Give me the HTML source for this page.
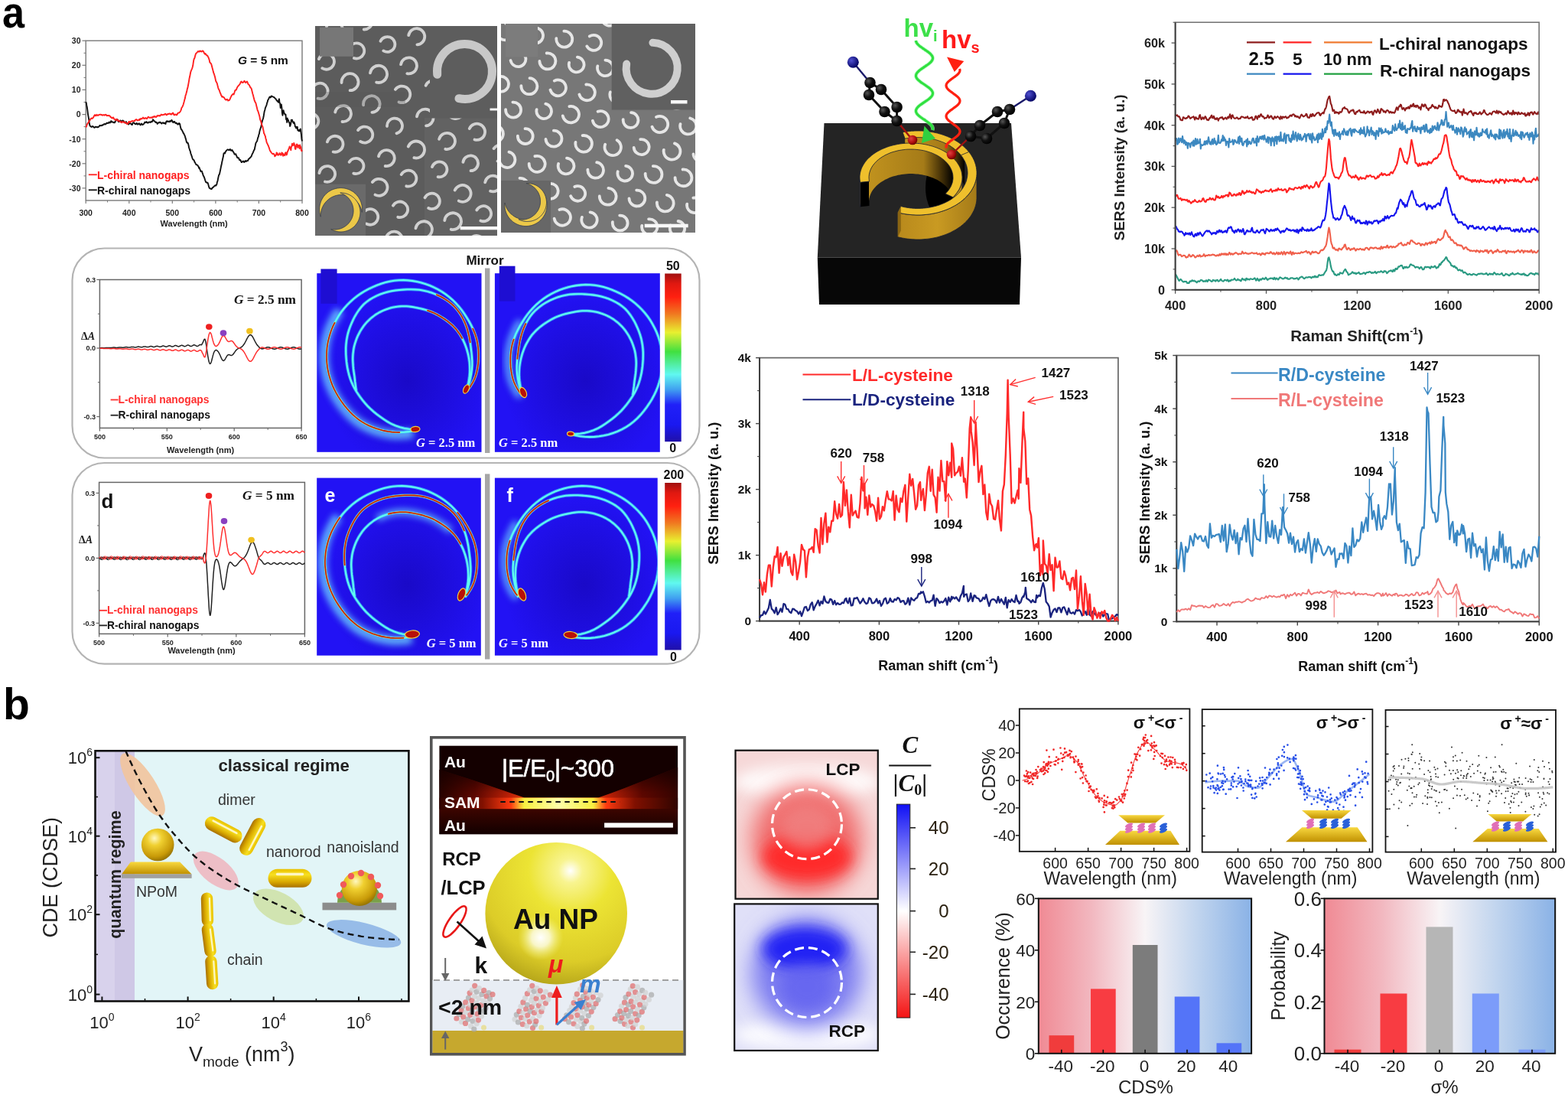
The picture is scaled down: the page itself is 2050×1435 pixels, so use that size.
<!DOCTYPE html>
<html><head><meta charset="utf-8"><title>Figure</title>
<style>html,body{margin:0;padding:0;background:#fff;overflow:hidden;width:2050px;height:1435px;} svg{display:block;}</style></head>
<body><svg width="2050" height="1435" viewBox="0 0 2050 1435">
<rect width="2050" height="1435" fill="#fff"/>
<text x="3" y="35.5" font-family="'Liberation Sans', Arial, sans-serif" font-size="58" font-weight="bold" transform="translate(3 0) scale(0.9 1) translate(-3 0)">a</text>
<line x1="107.5" y1="245.9" x2="112.2" y2="245.9" stroke="#7a7a7a" stroke-width="1.2" />
<text x="105.5" y="249.7" font-family="'Liberation Sans', Arial, sans-serif" font-size="10.5" font-weight="bold" font-style="normal" fill="#222" text-anchor="end" >-30</text>
<line x1="107.5" y1="213.8" x2="112.2" y2="213.8" stroke="#7a7a7a" stroke-width="1.2" />
<text x="105.5" y="217.6" font-family="'Liberation Sans', Arial, sans-serif" font-size="10.5" font-weight="bold" font-style="normal" fill="#222" text-anchor="end" >-20</text>
<line x1="107.5" y1="181.7" x2="112.2" y2="181.7" stroke="#7a7a7a" stroke-width="1.2" />
<text x="105.5" y="185.5" font-family="'Liberation Sans', Arial, sans-serif" font-size="10.5" font-weight="bold" font-style="normal" fill="#222" text-anchor="end" >-10</text>
<line x1="107.5" y1="149.6" x2="112.2" y2="149.6" stroke="#7a7a7a" stroke-width="1.2" />
<text x="105.5" y="153.4" font-family="'Liberation Sans', Arial, sans-serif" font-size="10.5" font-weight="bold" font-style="normal" fill="#222" text-anchor="end" >0</text>
<line x1="107.5" y1="117.4" x2="112.2" y2="117.4" stroke="#7a7a7a" stroke-width="1.2" />
<text x="105.5" y="121.2" font-family="'Liberation Sans', Arial, sans-serif" font-size="10.5" font-weight="bold" font-style="normal" fill="#222" text-anchor="end" >10</text>
<line x1="107.5" y1="85.3" x2="112.2" y2="85.3" stroke="#7a7a7a" stroke-width="1.2" />
<text x="105.5" y="89.1" font-family="'Liberation Sans', Arial, sans-serif" font-size="10.5" font-weight="bold" font-style="normal" fill="#222" text-anchor="end" >20</text>
<line x1="107.5" y1="53.2" x2="112.2" y2="53.2" stroke="#7a7a7a" stroke-width="1.2" />
<text x="105.5" y="57.0" font-family="'Liberation Sans', Arial, sans-serif" font-size="10.5" font-weight="bold" font-style="normal" fill="#222" text-anchor="end" >30</text>
<line x1="109.5" y1="229.9" x2="112.2" y2="229.9" stroke="#7a7a7a" stroke-width="1.0" />
<line x1="109.5" y1="197.8" x2="112.2" y2="197.8" stroke="#7a7a7a" stroke-width="1.0" />
<line x1="109.5" y1="165.6" x2="112.2" y2="165.6" stroke="#7a7a7a" stroke-width="1.0" />
<line x1="109.5" y1="133.5" x2="112.2" y2="133.5" stroke="#7a7a7a" stroke-width="1.0" />
<line x1="109.5" y1="101.4" x2="112.2" y2="101.4" stroke="#7a7a7a" stroke-width="1.0" />
<line x1="109.5" y1="69.3" x2="112.2" y2="69.3" stroke="#7a7a7a" stroke-width="1.0" />
<line x1="112.2" y1="262.0" x2="112.2" y2="266.0" stroke="#7a7a7a" stroke-width="1.2" />
<text x="112.2" y="281.5" font-family="'Liberation Sans', Arial, sans-serif" font-size="10.5" font-weight="bold" font-style="normal" fill="#222" text-anchor="middle" >300</text>
<line x1="168.8" y1="262.0" x2="168.8" y2="266.0" stroke="#7a7a7a" stroke-width="1.2" />
<text x="168.8" y="281.5" font-family="'Liberation Sans', Arial, sans-serif" font-size="10.5" font-weight="bold" font-style="normal" fill="#222" text-anchor="middle" >400</text>
<line x1="225.3" y1="262.0" x2="225.3" y2="266.0" stroke="#7a7a7a" stroke-width="1.2" />
<text x="225.3" y="281.5" font-family="'Liberation Sans', Arial, sans-serif" font-size="10.5" font-weight="bold" font-style="normal" fill="#222" text-anchor="middle" >500</text>
<line x1="281.9" y1="262.0" x2="281.9" y2="266.0" stroke="#7a7a7a" stroke-width="1.2" />
<text x="281.9" y="281.5" font-family="'Liberation Sans', Arial, sans-serif" font-size="10.5" font-weight="bold" font-style="normal" fill="#222" text-anchor="middle" >600</text>
<line x1="338.4" y1="262.0" x2="338.4" y2="266.0" stroke="#7a7a7a" stroke-width="1.2" />
<text x="338.4" y="281.5" font-family="'Liberation Sans', Arial, sans-serif" font-size="10.5" font-weight="bold" font-style="normal" fill="#222" text-anchor="middle" >700</text>
<line x1="395.0" y1="262.0" x2="395.0" y2="266.0" stroke="#7a7a7a" stroke-width="1.2" />
<text x="395.0" y="281.5" font-family="'Liberation Sans', Arial, sans-serif" font-size="10.5" font-weight="bold" font-style="normal" fill="#222" text-anchor="middle" >800</text>
<line x1="140.5" y1="262.0" x2="140.5" y2="264.5" stroke="#7a7a7a" stroke-width="1.0" />
<line x1="197.0" y1="262.0" x2="197.0" y2="264.5" stroke="#7a7a7a" stroke-width="1.0" />
<line x1="253.6" y1="262.0" x2="253.6" y2="264.5" stroke="#7a7a7a" stroke-width="1.0" />
<line x1="310.2" y1="262.0" x2="310.2" y2="264.5" stroke="#7a7a7a" stroke-width="1.0" />
<line x1="366.7" y1="262.0" x2="366.7" y2="264.5" stroke="#7a7a7a" stroke-width="1.0" />
<rect x="112.2" y="53.2" width="282.8" height="208.8" fill="none" stroke="#7a7a7a" stroke-width="1.4" />
<path d="M112.2,133.1l.6,1.5 .5,3.1 .6,3 .6,4.4 .5,4.2 .6,3.4 .6,3.3 .5,4.2 .6,3.3 .6,1.3 .5,.3 .6,.3 .6,.5 .5-.5 .6,.2 .6-.6 .5,.5 .6,.4 .6,.8 .5,0 .6-.1 .6-.7 .5-.3 .6,.4 .6-.1 .5,.6 .6-.6 .6,0 .5,.3 .6-.6 .6-.5 .5-1.2 .6,.1 .6,.1 .5,.3 .6-.3 .6,0 .5-.8 .6,.4 .6-.6 .5-.2 .6-.8 .6,.2 .5-.4 .6,.7 .6-.7 .5,0 .6-1.2 .6-.1 .5,.3 .6,.2 .6-.3 .5-.8 .6-.4 .6,1 .5-.2 .6-.7 .6-1.5 .5,0 .6,1.3 .6-.1 .5,0 .6,.4 .6,.1 .5,.6 .6-.8 .6,.4 .5-1.6 .6-.6 .6-.6 .5-.3 .6-1.1 .6,.2 .5,1.2 .6,1.6 .6,.3 .5-.3 .6-.8 .6-.4 .5-.3 .6,.8 .6,.2 .5,.2 .6-.7 .6-.5 .5,.3 .6,.6 .6,.5 .5,.9 .6,.8 .6,0 .5-.4 .6-1 .6,1.4 .5,.4 .6,.6 .6-.2 .5,1.2 .6,0 .6-.8 .5-1.3 .6,.3 .6,.7 .5,0 .6,1.3 .6,.2 .5,.2 .6-1.8 .6-.9 .5-.2 .6,.2 .6,.9 .5,.2 .6,.6 .6,.2 .5,0 .6-1.3 .6,.1 .5,.5 .6,1.1 .6-.8 .5,0 .6-.7 .6,1.3 .5,.1 .6,.8 .6-1 .5-.8 .6,.5 .6,.8 .5,.2 .6-.7 .6,.1 .5-.7 .6-.8 .6-1.4 .5,.7 .6-.5 .6,.3 .5-1 .6,1 .6,.2 .5,.4 .6-.2 .6-.9 .5-.1 .6,0 .6,.3 .5,.3 .6-1.1 .6,.3 .5,0 .6-.2 .6-1.6 .5-1.3 .6,.6 .6,1.2 .5,.3 .6,.1 .6,.7 .5,.9 .6-.3 .6,0 .5,1 .6,1.2 .6-.8 .5-.4 .6-.7 .6,.4 .5-.7 .6,.2 .6-.1 .5,.9 .6,0 .6,.9 .5-1 .6-.2 .6-.1 .5,.8 .6,.1 .6-.8 .5,.7 .6,.4 .6,.5 .5-2.4 .6-1.1 .6-.3 .5,.9 .6-.7 .6,0 .5,.5 .6,.4 .6-.5 .5-.7 .6,.9 .6-.8 .5-.7 .6-.6 .6,.7 .5,2 .6,0 .6,.6 .5-1.3 .6,0 .6,.3 .5,1.3 .6,.3 .6,.4 .5-.6 .6,.8 .6,0 .5,1.3 .6-.6 .6,.2 .5-1.3 .6,.3 .6,1 .5,2.5 .6,2.6 .6,1.7 .5,.4 .6,.6 .6,1.6 .5,.6 .6,2 .6,0 .5,1.6 .6,.8 .6,1.8 .5,1.9 .6,1.8 .6,2.7 .5,1.4 .6,.5 .6-.3 .5,1 .6,2.3 .6,3.2 .5,1.5 .6,2 .6,1.2 .5,2.6 .6,1.5 .6,1.8 .5,1.4 .6,2.1 .6,1.4 .5,0 .6,.6 .6,.9 .6,1.9 .5,.4 .6,1.3 .6,1.2 .5,.5 .6-.1 .6,.5 .5,.3 .6,1.2 .6,.7 .5,1.8 .6-.5 .6,1.9 .5,1 .6,2 .6-.5 .5,.4 .6,0 .6,2.4 .5,1.1 .6,2.2 .6,.7 .5,1.3 .6,1.5 .6,2 .5,1.5 .6,1.4 .6,.1 .5,.6 .6,.1 .6-.2 .5,1.4 .6,2.1 .6,2.2 .5,1.3 .6,.6 .6-.1 .5,.3 .6,.6 .6-.1 .5-.4 .6-1.4 .6,.1 .5-.8 .6-.1 .6-1.1 .5-.3 .6-.7 .6,0 .5,.4 .6-.8 .6-1.1 .5-2.8 .6-1.4 .6-3.3 .5-2.3 .6-2.4 .6-.5 .5-2.1 .6-2.7 .6-3 .5-2.7 .6-2.3 .6-3.4 .5-2.1 .6-2.8 .6-2.4 .5-3.7 .6-.9 .6-.3 .5,.8 .6-2 .6-.6 .5-1.1 .6-.3 .6-.7 .5-.3 .6-.1 .6,.5 .5,.3 .6,.1 .6-1 .5-.4 .6,1.2 .6,.8 .5-.1 .6-.8 .6,.4 .5,1.4 .6,.5 .6,.9 .5,.9 .6,1.6 .6-.3 .5,.1 .6-.2 .6,2 .5,.5 .6,1.8 .6,.7 .5-.1 .6-.1 .6,.8 .5,1.9 .6,.6 .6-.6 .5,.6 .6,1.5 .6,1.2 .5,0 .6-.8 .6-.6 .5,.1 .6-.2 .6,1.5 .5-.3 .6-.6 .6-1.1 .5,.2 .6,.8 .6-1 .5,.2 .6-.5 .6,.2 .5-1.7 .6-.5 .6-.7 .5-.2 .6-1 .6-.5 .5-.4 .6-.9 .6-1.6 .5-1.3 .6-1 .6-1.2 .5-1.3 .6-1.6 .6-.4 .5-2.7 .6-2.7 .6-3.2 .5-.9 .6-.9 .6-.8 .5-2.1 .6-2.4 .6-1.3 .5-2.6 .6-1.2 .6-3.7 .5-1.7 .6-1.8 .6-1.5 .5-2.6 .6-2.7 .6-2.6 .5-1.8 .6-1.4 .6-2.8 .5-3.1 .6-3.7 .6-1.8 .5-2.3 .6-1.5 .6-1.4 .5-1.1 .6-2.8 .6-1.4 .5-2.4 .6-.6 .6-1.4 .5-1.1 .6-1 .6-.2 .5,.9 .6-.5 .6-1.4 .5,.1 .6,.4 .6,.4 .5,.2 .6,.1 .6,.5 .5,.2 .6,.9 .6,.5 .5,.3 .6,.9 .6,1.2 .5,.4 .6,.7 .6,.4 .5,1 .6-2.8 .6-1.6 .5,5 .6,.6 .6,6.1 .5-4 .6-.6 .6,4.5 .5,6.7 .6,3.2 .6-4.2 .5-2.3 .6,2.4 .6,1.5 .5,1 .6,.8 .6-.4 .5,6.4 .6-.7 .6,4.7 .5-5.6 .6,2.2 .6,.3 .5,1.7 .6,1.7 .6,.5 .5,4.2 .6-1.4 .6-2.4 .5-4.6 .6,.6 .6-.6 .5,2.4 .6,.4 .6,1.5 .5-1.5 .6,1 .6,2.2 .5,3 .6-.1 .6,2 .5-1.6 .6,1.7 .6-1.8 .5,4.5 .6-.5 .6,1.3 .5,.4 .6-1.9 .6,1.5 .5-2.7 .6,3.7 .6,3.6 .5,6 .6,2.8" fill="none" stroke="#111" stroke-width="1.9" stroke-linejoin="round" />
<path d="M112.2,166.4l.6-.7 .5-1.4 .6-1.8 .6-1.2 .5-.6 .6-.5 .6-1.3 .5-1.3 .6-.2 .6-.8 .5-1.1 .6-.6 .6-.5 .5,.6 .6-.5 .6,.1 .5-1.2 .6-.5 .6-1.4 .5-.5 .6-.9 .6,1 .5,.2 .6-.2 .6-1.3 .5,.5 .6,.2 .6,.5 .5-.3 .6-.7 .6,0 .5-.3 .6,.1 .6-.1 .5,.1 .6,.4 .6-.2 .5,.6 .6,.1 .6-.6 .5,.2 .6-.3 .6,.7 .5-.3 .6-.5 .6-.1 .5,.3 .6,1 .6,.2 .5-.3 .6-.1 .6,.4 .5-.2 .6-.2 .6,.5 .5,.5 .6,1.1 .6-.1 .5,.9 .6,.3 .6,.5 .5-.7 .6-.6 .6,.8 .5,1.1 .6,.5 .6,.6 .5,.1 .6,.7 .6-1.2 .5-.2 .6,.4 .6,1.1 .5,.7 .6-.6 .6,.3 .5,.3 .6,.8 .6,.1 .5,.1 .6,.9 .6,.1 .5,.3 .6-.9 .6-.1 .5,0 .6,.3 .6,.6 .5-.4 .6,.4 .6-.4 .5,1.1 .6-.2 .6,1 .5,.3 .6,.2 .6-.5 .5-1.1 .6-1.4 .6-.2 .5,.2 .6,.8 .6-.8 .5-.3 .6,0 .6-.3 .5-.5 .6,.2 .6,.2 .5,0 .6-.2 .6-.4 .5,.2 .6-1.1 .6-.2 .5-.7 .6,.6 .6-.1 .5,.9 .6,.1 .6-.4 .5,0 .6-1.1 .6,.9 .5-1.4 .6,.6 .6-1.2 .5,.2 .6,.2 .6-.3 .5-.7 .6-.8 .6,.7 .5,.6 .6,.3 .6-.7 .5,.1 .6-.5 .6,.8 .5-.1 .6,.5 .6-1.1 .5-.3 .6-1.1 .6,.5 .5,.1 .6,.6 .6,.1 .5-.4 .6-.1 .6-.2 .5,.6 .6,.1 .6-1 .5-.5 .6,.1 .6,.5 .5-1.1 .6,.1 .6,.1 .5,.8 .6,.1 .6-.6 .5-.4 .6-1.1 .6,.6 .5-.4 .6,.1 .6-.4 .5,.6 .6,.1 .6-.8 .5-.4 .6-.8 .6,.6 .5-.1 .6,.3 .6-.4 .5-.1 .6-.2 .6,.3 .5-.7 .6-.4 .6-.2 .5,.8 .6,.9 .6-.2 .5-.8 .6-.6 .6,.2 .5,.1 .6-.5 .6-.2 .5,.6 .6-.4 .6,1 .5-.6 .6,.5 .6-1 .5-.5 .6-.5 .6,.9 .5,1.6 .6,.3 .6-.1 .5-.8 .6,0 .6,.2 .5,.8 .6,0 .6-1.1 .5-1.3 .6-.4 .6-.1 .5,0 .6-.5 .6-.6 .5-.7 .6-1.1 .6-1.5 .5-2.2 .6-.6 .6-1.2 .5-.9 .6-1.7 .6-2.2 .5-1.8 .6-2.5 .6-1.9 .5-3.2 .6-1.2 .6-2.6 .5-1.5 .6-3.3 .6-1.6 .5-2.7 .6-3.2 .6-3.5 .5-3.1 .6-2.4 .6-3.3 .5-2.5 .6-1.6 .6-1.4 .5-1.2 .6-1.7 .6-2.3 .5-3.7 .6-3.7 .6-1.8 .6-.8 .5-2.3 .6-2.1 .6-1.6 .5-.3 .6-.5 .6-.8 .5-.7 .6-.5 .6,.6 .5-.3 .6,.2 .6-1.1 .5,.7 .6-.3 .6,.6 .5,.2 .6-.7 .6-.4 .5-.1 .6,.7 .6,.9 .5,1.4 .6,.7 .6,.7 .5-.8 .6,1.1 .6,.7 .5,.8 .6-.2 .6,.7 .5,1.1 .6,1 .6,1.8 .5,1.5 .6,3 .6,.5 .5,.9 .6,.2 .6,1.9 .5,2.1 .6,2.1 .6,2.3 .5,2.1 .6,2.1 .6,1.3 .5,1.7 .6,2 .6,2.9 .5,2.4 .6,1 .6,1.1 .5,1.3 .6,2.5 .6,2.4 .5,1.7 .6,1 .6,1.1 .5,1.6 .6,1.8 .6,1 .5,1.8 .6,.9 .6,1.3 .5-.5 .6,.9 .6-.1 .5,.3 .6,.4 .6,1 .5,1.2 .6,.2 .6,.6 .5,.2 .6-.7 .6-.2 .5,.4 .6,1.4 .6-.5 .5,.2 .6-.4 .6-1 .5-.8 .6-1.8 .6-.8 .5-1.4 .6-.5 .6-1 .5-.6 .6-.2 .6,.7 .5-1.1 .6-1.9 .6-2.1 .5-.6 .6,0 .6-.4 .5-1.5 .6-1.3 .6-1.2 .5-.7 .6-.6 .6-.6 .5-.6 .6-.8 .6-.9 .5-1.4 .6-.9 .6-.4 .5,1.2 .6-.3 .6,.6 .5-.3 .6-.3 .6-1.2 .5-.5 .6,1.3 .6,.7 .5,.5 .6-.8 .6-.8 .5-.1 .6,1.1 .6,2 .5,.6 .6,.3 .6,.8 .5,.9 .6,1.7 .6,.3 .5,1 .6,.6 .6,2.5 .5,2 .6,2.4 .6,1.8 .5,2.3 .6,2.3 .6,2.3 .5,1.1 .6,1.3 .6,1 .5,1.8 .6,2.6 .6,2.4 .5,2.3 .6,1 .6,1.8 .5,1.7 .6,2 .6,2.5 .5,2.9 .6,1.7 .6,1.2 .5,2.4 .6,1.8 .6,2 .5,.7 .6,2.9 .6,2.6 .5,3.2 .6,.7 .6,2 .5,.7 .6,3.3 .6,1.6 .5,3.1 .6,1.3 .6,1.2 .5,1.3 .6,.9 .6,1.7 .5,1.3 .6,2.1 .6,1.6 .5,.6 .6,.9 .6,.9 .5,.6 .6,.6 .6,.5 .5,.2 .6-.6 .6,.4 .5,.9 .6,2.3 .6-.6 .5-1 .6-.1 .6-3.3 .5,2.3 .6-1.3 .6,2.3 .5-.1 .6-.3 .6-.2 .5-2 .6,.7 .6,1.1 .5,.9 .6-.3 .6-3.1 .5,1 .6-.1 .6,3.6 .5-2.4 .6,1.2 .6-.1 .5,.7 .6-3.3 .6-.8 .5,1.1 .6,2.2 .6-1.2 .5-2.8 .6-.9 .6-1.5 .5-1.3 .6-1 .6-2.4 .5,1.7 .6,.4 .6,2.9 .5-4.1 .6-1.4 .6-3.1 .5,2.5 .6-.8 .6,.2 .5-2.8 .6,1.5 .6,2.2 .5,4 .6,.3 .6-3.3 .5-2.6 .6-.6 .6,2.9 .5,1.6 .6-3.3 .6,2 .5-1.1 .6,3.7 .6-4.8 .5,2.9 .6-.2 .6,4.4 .5,.9 .6-1.3" fill="none" stroke="#ff2020" stroke-width="1.9" stroke-linejoin="round" />
<text x="311.0" y="84.0" font-family="'Liberation Sans', Arial, sans-serif" font-size="15.5" font-weight="bold" font-style="normal" fill="#111" text-anchor="start" ><tspan font-style="italic">G</tspan> = 5 nm</text>
<line x1="115.8" y1="228.3" x2="126.8" y2="228.3" stroke="#ff2020" stroke-width="1.8" />
<text x="127.0" y="233.6" font-family="'Liberation Sans', Arial, sans-serif" font-size="14" font-weight="bold" font-style="normal" fill="#ff2020" text-anchor="start" >L-chiral nanogaps</text>
<line x1="115.8" y1="248.3" x2="126.8" y2="248.3" stroke="#111" stroke-width="1.8" />
<text x="127.0" y="253.6" font-family="'Liberation Sans', Arial, sans-serif" font-size="14" font-weight="bold" font-style="normal" fill="#111" text-anchor="start" >R-chiral nanogaps</text>
<text x="253.7" y="296.0" font-family="'Liberation Sans', Arial, sans-serif" font-size="11" font-weight="bold" font-style="normal" fill="#222" text-anchor="middle" >Wavelength (nm)</text>
<clipPath id="semL"><rect x="412" y="34" width="238" height="274"/></clipPath>
<g clip-path="url(#semL)">
<rect x="412.0" y="34.0" width="238.0" height="274.0" fill="#5c5c5c" stroke="none" stroke-width="1" />
<path d="M396.2,301.9 A10.4,10.4 0 1 1 400.8,315.7 M405.8,266.5 A10.0,10.0 0 1 1 415.4,277.5 M435.3,290.3 A10.9,10.9 0 1 1 439.4,304.1 M387.5,198.7 A11.0,11.0 0 1 1 397.1,209.4 M417.4,226.2 A10.4,10.4 0 1 1 425.0,237.5 M443.6,256.0 A10.2,10.2 0 1 1 453.4,266.2 M474.6,279.1 A10.3,10.3 0 1 1 479.1,292.5 M504.3,313.4 A11.0,11.0 0 1 1 514.9,324.7 M396.4,159.2 A10.0,10.0 0 1 1 405.3,168.2 M427.9,185.4 A10.5,10.5 0 1 1 435.7,198.5 M456.7,211.8 A10.1,10.1 0 1 1 462.3,226.6 M486.9,238.0 A11.0,11.0 0 1 1 490.5,254.6 M513.9,268.7 A10.3,10.3 0 1 1 520.3,283.8 M543.5,298.3 A10.8,10.8 0 1 1 555.0,310.8 M409.4,114.0 A10.2,10.2 0 1 1 415.6,128.7 M438.2,146.6 A10.5,10.5 0 1 1 447.5,159.0 M468.1,170.1 A10.5,10.5 0 1 1 471.1,184.9 M495.0,204.4 A10.5,10.5 0 1 1 503.7,217.0 M524.7,228.1 A10.5,10.5 0 1 1 531.3,243.3 M555.5,258.4 A10.2,10.2 0 1 1 560.2,272.0 M581.3,288.0 A10.9,10.9 0 1 1 589.7,299.8 M612.5,316.0 A11.0,11.0 0 1 1 622.4,330.0 M391.1,44.5 A10.2,10.2 0 1 1 397.1,59.8 M416.9,77.1 A10.3,10.3 0 1 1 421.3,89.2 M446.6,108.0 A11.0,11.0 0 1 1 457.6,118.2 M475.1,137.3 A10.8,10.8 0 1 1 486.4,146.8 M506.0,165.0 A10.0,10.0 0 1 1 518.5,174.3 M533.8,191.5 A11.0,11.0 0 1 1 541.4,206.2 M565.0,218.1 A10.0,10.0 0 1 1 572.6,231.2 M594.7,248.5 A10.9,10.9 0 1 1 599.8,262.6 M623.3,274.5 A10.0,10.0 0 1 1 628.4,288.5 M652.8,307.4 A10.7,10.7 0 1 1 659.8,319.4 M427.0,34.5 A10.9,10.9 0 1 1 434.9,49.5 M457.4,61.4 A10.1,10.1 0 1 1 462.9,76.0 M484.0,95.3 A11.1,11.1 0 1 1 492.2,107.6 M516.9,116.8 A10.8,10.8 0 1 1 521.5,133.4 M545.0,152.4 A10.9,10.9 0 1 1 557.1,164.4 M574.1,181.9 A10.6,10.6 0 1 1 582.3,194.8 M605.4,211.9 A9.9,9.9 0 1 1 615.5,223.2 M634.2,238.3 A10.4,10.4 0 1 1 641.1,249.8 M466.1,28.0 A10.2,10.2 0 1 1 475.7,38.5 M497.5,53.8 A9.9,9.9 0 1 1 501.3,66.4 M524.1,84.2 A10.5,10.5 0 1 1 532.3,96.1 M556.7,111.7 A10.3,10.3 0 1 1 563.9,125.7 M589.8,135.9 A10.6,10.6 0 1 1 587.8,151.5 M613.8,168.0 A10.6,10.6 0 1 1 620.5,182.5 M645.6,194.1 A11.1,11.1 0 1 1 650.5,210.6 M534.2,46.1 A10.6,10.6 0 1 1 545.4,58.4 M565.6,72.1 A10.7,10.7 0 1 1 577.0,84.0 M594.0,102.1 A10.9,10.9 0 1 1 605.0,113.8 M625.3,128.8 A11.1,11.1 0 1 1 632.5,142.4 M652.3,159.8 A10.9,10.9 0 1 1 661.5,171.4 M579.6,28.6 A9.9,9.9 0 1 1 581.6,44.2 M603.9,59.3 A10.8,10.8 0 1 1 610.9,72.9 M635.1,91.0 A10.2,10.2 0 1 1 644.5,102.2 M614.7,24.0 A10.8,10.8 0 1 1 625.6,35.4 M643.4,50.5 A10.6,10.6 0 1 1 650.5,62.3" fill="none" stroke="#d6d6d6" stroke-width="3.8" stroke-linecap="round" opacity="0.95"/>
</g>
<rect x="412.0" y="120.0" width="118.0" height="20.0" fill="#555" stroke="none" stroke-width="1" opacity="0.3"/>
<rect x="555.0" y="154.0" width="95.0" height="154.0" fill="#fff" stroke="none" stroke-width="1" opacity="0.04"/>
<rect x="418.0" y="35.7" width="44.0" height="38.1" fill="#777777" stroke="none" stroke-width="1" />
<rect x="562.0" y="34.0" width="88.0" height="120.5" fill="#5d5d5d" stroke="none" stroke-width="1" />
<path d="M571.7,97.3 A36.0,36.0 0 1 1 600.0,128.7" fill="none" stroke="#c8c8c8" stroke-width="11" stroke-linecap="round" filter="url(#blur1)"/>
<rect x="640.5" y="141.5" width="9.5" height="3.0" fill="#f4f4f4" stroke="none" stroke-width="1" />
<rect x="601.7" y="296.0" width="48.3" height="4.3" fill="#f8f8f8" stroke="none" stroke-width="1" />
<rect x="412.0" y="240.7" width="66.0" height="67.3" fill="#6a6a6a" stroke="none" stroke-width="1" />
<path d="M419.2,282.9l-.2-.6 -.2-.7 -.2-.8 -.2-.7 -.2-.7 -.1-.7 -.2-.7 -.1-.7 0-.8 -.1-.7 -.1-.7 0-.8 0-.7 0-.7 0-.8 .1-.7 .1-.7 0-.8 .1-.7 .2-.7 .1-.7 .2-.7 .2-.7 .2-.8 .2-.7 .2-.6 .3-.7 .2-.7 .3-.7 .3-.7 .4-.6 .3-.7 .4-.6 .3-.6 .4-.6 .4-.7 .4-.6 .5-.5 .4-.6 .5-.6 .5-.5 .5-.6 .5-.5 .5-.5 .6-.5 .5-.5 .6-.5 .6-.4 .5-.5 .6-.4 .7-.4 .6-.4 .6-.3 .6-.4 .7-.3 .6-.4 .7-.3 .7-.3 .7-.2 .7-.3 .6-.2 .7-.2 .8-.2 .7-.2 .7-.2 .7-.1 .7-.2 .7-.1 .8,0 .7-.1 .7-.1 .8,0 .7,0 .7,0 .8,0 .7,.1 .7,.1 .8,0 .7,.1 .7,.2 .7,.1 .7,.2 .7,.2 .8,.2 .7,.2 .6,.2 .7,.3 .7,.2 .7,.3 .7,.3 .6,.4 .7,.3 .6,.4 .6,.3 .6,.4 .7,.4 .6,.4 .5,.5 .6,.4 .6,.5 .5,.5 .6,.5 .5,.5 .5,.5 .5,.6 .5,.5 .5,.6 .4,.6 .5,.5 .4,.6 .4,.7 .4,.6 .3,.6 .4,.6 .3,.7 .4,.6 .3,.7 .3,.7 .2,.7 .3,.7 .2,.6 .2,.7 .2,.8 .2,.7 .2,.7 .1,.7 .2,.7 .1,.7 0,.8 .1,.7 .1,.7 0,.8 0,.7 0,.7 0,.8 -.1,.7 -.1,.7 0,.8 -.2-.5 -.1-.7 -.2-.6 -.1-.7 -.2-.7 -.2-.7 -.3-.7 -.2-.6 -.3-.7 -.3-.7 -.2-.6 -.4-.6 -.3-.7 -.3-.6 -.4-.6 -.4-.6 -.4-.6 -.4-.6 -.4-.6 -.5-.5 -.4-.6 -.5-.5 -.5-.5 -.5-.5 -.5-.5 -.5-.5 -.5-.5 -.6-.4 -.5-.5 -.6-.4 -.6-.4 -.6-.4 -.6-.4 -.6-.4 -.6-.3 -.7-.3 -.6-.4 -.6-.2 -.7-.3 -.7-.3 -.6-.2 -.7-.3 -.7-.2 -.7-.2 -.7-.1 -.6-.2 -.7-.1 -.7-.2 -.7-.1 -.8-.1 -.7,0 -.7-.1 -.7,0 -.7,0 -.7,0 -.7,0 -.7,.1 -.7,0 -.8,.1 -.7,.1 -.7,.2 -.7,.1 -.6,.2 -.7,.1 -.7,.2 -.7,.2 -.7,.3 -.6,.2 -.7,.3 -.7,.3 -.6,.2 -.6,.4 -.7,.3 -.6,.3 -.6,.4 -.6,.4 -.6,.4 -.6,.4 -.6,.4 -.5,.5 -.6,.4 -.5,.5 -.5,.5 -.5,.5 -.5,.5 -.5,.5 -.5,.5 -.4,.6 -.5,.5 -.4,.6 -.4,.6 -.4,.6 -.4,.6 -.4,.6 -.3,.6 -.3,.7 -.4,.6 -.2,.6 -.3,.7 -.3,.7 -.2,.6 -.3,.7 -.2,.7 -.2,.7 -.1,.7 -.2,.6 -.1,.7 -.2,.7 -.1,.7 -.1,.8 0,.7 -.1,.7 0,.7 0,.7 0,.7 0,.7Z" fill="#ecc848" stroke="#3a4050" stroke-width="1"/>
<path d="M444.8,252l.7,0 .7,0 .6,0 .7,.1 .7,0 .6,.1 .7,.1 .6,.1 .7,.2 .7,.1 .6,.2 .6,.2 .7,.1 .6,.3 .6,.2 .7,.2 .6,.3 .6,.3 .6,.3 .6,.3 .5,.3 .6,.4 .6,.3 .5,.4 .6,.4 .5,.4 .5,.4 .6,.4 .5,.4 .5,.5 .4,.5 .5,.4 .5,.5 .4,.5 .4,.6 .4,.5 .4,.5 .4,.6 .4,.5 .3,.6 .4,.6 .3,.5 .3,.6 .3,.6 .3,.6 .3,.6 .2,.7 .2,.6 .3,.6 .1,.7 .2,.6 .2,.6 .1,.7 .2,.7 .1,.6 .1,.7 .1,.6 0,.7 .1,.7 0,.6 0,.7 0,.7 0,.6 -.1,.7 0,.7 -.1,.6 -.1,.7 -.1,.6 -.2,.7 -.1,.7 -.2,.6 -.2,.6 -.1,.7 -.3,.6 -.2,.6 -.2,.7 -.3,.6 -.3,.6 -.3,.6 -.3,.6 -.3,.5 -.4,.6 -.3,.6 -.4,.5 -.4,.6 -.4,.5 -.4,.5 -.4,.6 -.4,.5 -.5,.5 -.5,.4 -.4,.5 -.5,.5 -.5,.4 -.6,.4 -.5,.4 -.5,.4 -.6,.4 -.5,.4 -.6,.3 -.6,.4 -.5,.3 -.6,.3 -.6,.3 -.6,.3 -.6,.3 -.7,.2 -.6,.2 -.6,.3 -.7,.1 -.6,.2 -.6,.2 -.7,.1 -.7,.2 -.6,.1 -.7,.1 -.6,.1 -.7,0 -.7,.1 -.6,0 -.7,0 -.7,0 -.6,0 -.7-.1 -.7,0 -.6-.1 -.7-.1 -.6-.1 -.7-.2 -.7-.1 -.6-.2 -.6-.2 -.7-.1 -.6-.3 -.6-.2 -.7-.2 -.6-.3 -.6-.3 -.6-.3 -.6-.3 -.5-.3 .2,0 .7,.1 .6,.1 .6,.1 .7,0 .6,.1 .7,0 .6,0 .6,0 .7,0 .6-.1 .7,0 .6-.1 .6-.1 .7-.1 .6-.1 .6-.2 .6-.1 .7-.2 .6-.2 .6-.2 .6-.2 .6-.3 .6-.2 .5-.3 .6-.3 .6-.3 .6-.3 .5-.3 .5-.4 .6-.3 .5-.4 .5-.4 .5-.4 .5-.4 .5-.4 .5-.4 .4-.5 .5-.4 .4-.5 .4-.5 .4-.5 .4-.5 .4-.5 .4-.5 .3-.6 .4-.5 .3-.5 .3-.6 .3-.6 .3-.6 .3-.5 .2-.6 .3-.6 .2-.6 .2-.6 .2-.6 .2-.7 .1-.6 .2-.6 .1-.6 .1-.7 .1-.6 .1-.6 0-.7 .1-.6 0-.7 0-.6 0-.6 0-.7 -.1-.6 0-.7 -.1-.6 -.1-.6 -.1-.7 -.1-.6 -.2-.6 -.1-.6 -.2-.7 -.2-.6 -.2-.6 -.2-.6 -.3-.6 -.2-.6 -.3-.5 -.3-.6 -.3-.6 -.3-.6 -.3-.5 -.4-.5 -.3-.6 -.4-.5 -.4-.5 -.4-.5 -.4-.5 -.4-.5 -.4-.5 -.5-.4 -.4-.5 -.5-.4 -.5-.4 -.5-.4 -.5-.4 -.5-.4 -.5-.4 -.6-.3 -.5-.4 -.5-.3 -.6-.3 -.6-.3 -.6-.3 -.5-.3 -.6-.2 -.6-.3 -.6-.2 -.6-.2Z" fill="#ecc848" stroke="#3a4050" stroke-width="1"/>
<clipPath id="semR"><rect x="655" y="31" width="254" height="273"/></clipPath>
<g clip-path="url(#semR)">
<rect x="655.0" y="31.0" width="254.0" height="273.0" fill="#777777" stroke="none" stroke-width="1" />
<path d="M641.2,229.8 A10.7,10.7 0 1 1 631.4,241.1 M656.4,264.1 A10.7,10.7 0 1 1 646.4,273.0 M676.0,301.5 A9.9,9.9 0 1 1 664.4,310.3 M648.5,164.3 A10.6,10.6 0 1 1 636.7,174.2 M665.5,198.7 A10.3,10.3 0 1 1 653.2,206.0 M679.5,232.9 A10.7,10.7 0 1 1 669.4,243.9 M691.8,269.2 A10.4,10.4 0 1 1 684.8,283.4 M715.0,304.8 A10.6,10.6 0 1 1 703.2,308.8 M653.5,100.1 A9.9,9.9 0 1 1 645.2,110.6 M670.4,133.7 A10.0,10.0 0 1 1 661.1,143.1 M686.5,168.2 A9.9,9.9 0 1 1 676.9,177.7 M699.4,204.2 A10.5,10.5 0 1 1 691.7,213.8 M719.0,239.8 A10.0,10.0 0 1 1 709.9,252.0 M731.5,274.0 A10.7,10.7 0 1 1 724.7,285.7 M751.6,307.4 A9.8,9.8 0 1 1 740.8,315.6 M661.3,30.8 A10.8,10.8 0 1 1 650.2,37.9 M676.6,67.2 A10.0,10.0 0 1 1 667.6,79.0 M692.5,102.2 A10.5,10.5 0 1 1 681.4,112.2 M713.3,135.7 A9.8,9.8 0 1 1 701.6,143.2 M723.9,170.7 A10.5,10.5 0 1 1 713.5,182.0 M741.0,206.6 A10.4,10.4 0 1 1 730.1,214.0 M751.3,244.0 A9.8,9.8 0 1 1 746.1,256.2 M771.6,277.3 A10.2,10.2 0 1 1 760.9,283.9 M698.2,36.6 A10.1,10.1 0 1 1 690.0,48.3 M714.7,69.5 A10.5,10.5 0 1 1 705.4,80.0 M724.8,105.6 A10.4,10.4 0 1 1 719.5,117.5 M744.4,139.1 A10.7,10.7 0 1 1 735.8,151.4 M761.6,177.1 A10.8,10.8 0 1 1 752.5,185.9 M780.2,212.2 A10.3,10.3 0 1 1 768.4,221.6 M795.4,245.9 A10.9,10.9 0 1 1 783.8,256.5 M810.2,281.6 A9.9,9.9 0 1 1 800.9,290.1 M737.4,40.6 A10.5,10.5 0 1 1 727.3,50.1 M754.9,74.6 A9.9,9.9 0 1 1 744.1,81.9 M766.3,110.5 A10.4,10.4 0 1 1 757.4,123.5 M781.6,145.7 A10.5,10.5 0 1 1 774.9,157.8 M806.6,183.2 A10.7,10.7 0 1 1 791.2,188.7 M818.1,216.9 A9.8,9.8 0 1 1 807.7,224.3 M832.2,248.7 A10.4,10.4 0 1 1 822.5,259.3 M848.1,286.4 A10.2,10.2 0 1 1 839.2,295.0 M756.4,7.6 A10.8,10.8 0 1 1 748.4,18.7 M770.8,47.4 A10.0,10.0 0 1 1 767.3,60.4 M791.4,78.6 A10.3,10.3 0 1 1 781.3,86.4 M809.4,113.4 A10.5,10.5 0 1 1 797.9,120.4 M825.1,147.2 A9.9,9.9 0 1 1 814.7,156.2 M837.3,182.2 A10.0,10.0 0 1 1 828.7,193.0 M853.8,217.1 A10.9,10.9 0 1 1 843.7,226.9 M871.8,254.8 A10.9,10.9 0 1 1 858.9,264.5 M886.6,289.0 A9.7,9.7 0 1 1 876.7,294.5 M800.7,12.8 A10.7,10.7 0 1 1 787.3,19.0 M812.0,46.7 A10.8,10.8 0 1 1 803.1,55.3 M826.4,81.3 A9.9,9.9 0 1 1 819.5,92.6 M842.0,118.0 A10.4,10.4 0 1 1 834.9,128.4 M858.0,152.9 A10.6,10.6 0 1 1 852.5,165.7 M882.0,187.4 A10.9,10.9 0 1 1 867.8,195.8 M892.6,221.5 A10.9,10.9 0 1 1 882.6,232.1 M906.4,258.6 A9.8,9.8 0 1 1 898.2,266.7 M832.5,14.5 A10.3,10.3 0 1 1 824.8,24.5 M852.9,51.8 A9.9,9.9 0 1 1 842.5,61.6 M865.2,85.2 A10.8,10.8 0 1 1 857.9,99.6 M885.9,121.0 A10.6,10.6 0 1 1 874.6,130.4 M902.3,154.5 A10.6,10.6 0 1 1 889.5,162.2 M915.5,190.9 A10.0,10.0 0 1 1 906.5,201.5 M878.3,20.7 A10.2,10.2 0 1 1 866.7,30.0 M890.4,54.8 A10.7,10.7 0 1 1 880.6,67.5 M904.6,89.8 A9.7,9.7 0 1 1 895.5,98.5 M920.2,125.9 A9.8,9.8 0 1 1 912.2,135.5 M913.7,24.4 A10.0,10.0 0 1 1 903.2,32.2" fill="none" stroke="#ececec" stroke-width="3.8" stroke-linecap="round" opacity="0.95"/>
</g>
<rect x="661.0" y="31.0" width="42.0" height="43.5" fill="#7c7c7c" stroke="none" stroke-width="1" />
<rect x="799.7" y="31.0" width="109.3" height="112.6" fill="#606060" stroke="none" stroke-width="1" />
<path d="M853.4,55.8 A33.5,33.5 0 1 1 819.2,83.5" fill="none" stroke="#cfcfcf" stroke-width="10" stroke-linecap="round" filter="url(#blur1)"/>
<rect x="877.0" y="131.0" width="21.5" height="4.5" fill="#f6f6f6" stroke="none" stroke-width="1" />
<rect x="842.7" y="292.7" width="57.0" height="4.6" fill="#f8f8f8" stroke="none" stroke-width="1" />
<rect x="655.0" y="236.0" width="65.0" height="68.0" fill="#676767" stroke="none" stroke-width="1" />
<path d="M713.6,258.7l.2,.6 .3,.7 .2,.7 .1,.7 .2,.7 .1,.8 .2,.7 .1,.7 0,.7 .1,.7 .1,.8 0,.7 0,.7 0,.7 0,.7 -.1,.8 -.1,.7 0,.7 -.1,.7 -.2,.7 -.1,.8 -.2,.7 -.1,.7 -.2,.7 -.3,.7 -.2,.6 -.2,.7 -.3,.7 -.3,.7 -.3,.6 -.3,.7 -.4,.6 -.3,.7 -.4,.6 -.4,.6 -.4,.6 -.4,.6 -.4,.6 -.5,.5 -.4,.6 -.5,.5 -.5,.6 -.5,.5 -.5,.5 -.6,.5 -.5,.5 -.6,.4 -.5,.5 -.6,.4 -.6,.4 -.6,.4 -.6,.4 -.6,.4 -.7,.3 -.6,.4 -.7,.3 -.6,.3 -.7,.3 -.7,.3 -.7,.2 -.6,.2 -.7,.3 -.7,.2 -.7,.1 -.7,.2 -.8,.1 -.7,.2 -.7,.1 -.7,0 -.7,.1 -.8,.1 -.7,0 -.7,0 -.7,0 -.7,0 -.8-.1 -.7-.1 -.7,0 -.7-.1 -.7-.2 -.8-.1 -.7-.2 -.7-.1 -.7-.2 -.7-.3 -.6-.2 -.7-.2 -.7-.3 -.7-.3 -.6-.3 -.7-.3 -.6-.4 -.7-.3 -.6-.4 -.6-.4 -.6-.4 -.6-.4 -.6-.4 -.5-.5 -.6-.4 -.5-.5 -.6-.5 -.5-.5 -.5-.5 -.5-.6 -.5-.5 -.4-.6 -.5-.5 -.4-.6 -.4-.6 -.4-.6 -.4-.6 -.4-.6 -.3-.7 -.4-.6 -.3-.7 -.3-.6 -.3-.7 -.3-.7 -.2-.7 -.2-.6 -.3-.7 -.2-.7 -.1-.7 -.2-.7 -.1-.8 -.2-.7 -.1-.7 0-.7 -.1-.7 -.1-.8 0-.7 0-.7 0-.7 0-.7 .1-.8 .1-.7 .1,.4 .1,.7 .2,.7 .2,.7 .2,.6 .2,.7 .3,.7 .3,.6 .2,.7 .3,.6 .3,.7 .4,.6 .3,.6 .4,.6 .4,.6 .3,.6 .5,.6 .4,.5 .4,.6 .5,.5 .4,.6 .5,.5 .5,.5 .5,.5 .5,.5 .6,.4 .5,.5 .6,.4 .5,.4 .6,.5 .6,.3 .6,.4 .6,.4 .6,.3 .6,.4 .7,.3 .6,.3 .7,.2 .6,.3 .7,.3 .7,.2 .6,.2 .7,.2 .7,.2 .7,.1 .7,.1 .7,.2 .7,.1 .7,.1 .7,0 .7,.1 .7,0 .7,0 .7,0 .7,0 .7-.1 .7,0 .7-.1 .7-.1 .7-.2 .7-.1 .7-.1 .7-.2 .7-.2 .6-.2 .7-.2 .7-.3 .6-.3 .7-.2 .6-.3 .7-.3 .6-.4 .6-.3 .6-.4 .6-.4 .6-.3 .6-.5 .5-.4 .6-.4 .5-.5 .6-.4 .5-.5 .5-.5 .5-.5 .5-.5 .4-.6 .5-.5 .4-.6 .4-.5 .5-.6 .3-.6 .4-.6 .4-.6 .3-.6 .4-.6 .3-.7 .3-.6 .2-.7 .3-.6 .3-.7 .2-.7 .2-.6 .2-.7 .2-.7 .1-.7 .1-.7 .2-.7 .1-.7 .1-.7 0-.7 .1-.7 0-.7 0-.7 0-.7 0-.7Z" fill="#ecc848" stroke="#3a4050" stroke-width="1"/>
<path d="M688.2,239.5l.6,0 .7,0 .7,0 .6,0 .7,.1 .6,0 .7,.1 .6,.1 .7,.1 .6,.1 .6,.2 .7,.2 .6,.1 .6,.2 .6,.2 .7,.3 .6,.2 .6,.3 .6,.2 .5,.3 .6,.3 .6,.3 .6,.4 .5,.3 .6,.4 .5,.4 .5,.4 .5,.4 .5,.4 .5,.4 .5,.5 .5,.4 .4,.5 .5,.5 .4,.5 .4,.5 .4,.5 .4,.5 .4,.5 .4,.6 .3,.5 .4,.6 .3,.6 .3,.6 .3,.5 .2,.6 .3,.6 .2,.6 .3,.7 .2,.6 .2,.6 .1,.6 .2,.7 .2,.6 .1,.6 .1,.7 .1,.6 .1,.7 0,.6 .1,.7 0,.6 0,.7 0,.7 0,.6 -.1,.7 0,.6 -.1,.7 -.1,.6 -.1,.7 -.1,.6 -.2,.6 -.2,.7 -.1,.6 -.2,.6 -.2,.6 -.3,.7 -.2,.6 -.3,.6 -.2,.6 -.3,.5 -.3,.6 -.3,.6 -.4,.6 -.3,.5 -.4,.6 -.4,.5 -.4,.5 -.4,.5 -.4,.5 -.4,.5 -.5,.5 -.4,.5 -.5,.4 -.5,.5 -.5,.4 -.5,.4 -.5,.4 -.5,.4 -.5,.4 -.6,.4 -.5,.3 -.6,.4 -.6,.3 -.6,.3 -.5,.3 -.6,.2 -.6,.3 -.6,.2 -.7,.3 -.6,.2 -.6,.2 -.6,.1 -.7,.2 -.6,.2 -.6,.1 -.7,.1 -.6,.1 -.7,.1 -.6,0 -.7,.1 -.6,0 -.7,0 -.7,0 -.6,0 -.7-.1 -.6,0 -.7-.1 -.6-.1 -.7-.1 -.6-.1 -.6-.2 -.7-.2 -.6-.1 -.6-.2 -.6-.2 -.7-.3 -.6-.2 -.6-.3 -.6-.2 -.5-.3 -.1-.2 .6,.1 .7,.1 .6,.1 .6,0 .6,.1 .7,0 .6,0 .6,0 .7,0 .6-.1 .6,0 .6-.1 .7-.1 .6-.1 .6-.1 .6-.2 .6-.1 .6-.2 .6-.2 .6-.2 .6-.2 .6-.2 .6-.3 .5-.2 .6-.3 .6-.3 .5-.3 .5-.3 .6-.4 .5-.3 .5-.4 .5-.4 .5-.3 .5-.5 .5-.4 .4-.4 .5-.4 .4-.5 .4-.4 .4-.5 .5-.5 .3-.5 .4-.5 .4-.5 .3-.5 .4-.6 .3-.5 .3-.5 .3-.6 .3-.6 .2-.5 .3-.6 .2-.6 .2-.6 .2-.6 .2-.6 .2-.6 .1-.6 .2-.6 .1-.6 .1-.6 .1-.7 .1-.6 0-.6 .1-.6 0-.7 0-.6 0-.6 0-.7 -.1-.6 0-.6 -.1-.6 -.1-.7 -.1-.6 -.1-.6 -.2-.6 -.1-.6 -.2-.6 -.2-.6 -.2-.6 -.2-.6 -.2-.6 -.3-.6 -.2-.5 -.3-.6 -.3-.6 -.3-.5 -.3-.5 -.4-.6 -.3-.5 -.4-.5 -.4-.5 -.3-.5 -.5-.5 -.4-.5 -.4-.4 -.4-.5 -.5-.4 -.4-.4 -.5-.4 -.5-.5 -.5-.3 -.5-.4 -.5-.4 -.5-.3 -.6-.4 -.5-.3 -.5-.3 -.6-.3 -.6-.3 -.5-.2 -.6-.3 -.6-.2 -.6-.2 -.6-.2 -.6-.2 -.6-.2 -.6-.1Z" fill="#ecc848" stroke="#3a4050" stroke-width="1"/>
<rect x="650.0" y="30.0" width="5.0" height="280.0" fill="#ffffff" stroke="none" stroke-width="1" />
<defs><linearGradient id="gwall" x1="0" y1="0" x2="1" y2="0"><stop offset="0" stop-color="#b8891c"/><stop offset="0.5" stop-color="#c99a22"/><stop offset="1" stop-color="#a47a18"/></linearGradient><linearGradient id="gin" x1="0" y1="0" x2="1" y2="0"><stop offset="0" stop-color="#c0921e"/><stop offset="0.65" stop-color="#a57b18"/><stop offset="0.85" stop-color="#4a3508"/><stop offset="1" stop-color="#000"/></linearGradient><radialGradient id="gball" cx="0.35" cy="0.35" r="0.7"><stop offset="0" stop-color="#555"/><stop offset="0.5" stop-color="#111"/><stop offset="1" stop-color="#000"/></radialGradient><radialGradient id="rball" cx="0.35" cy="0.35" r="0.7"><stop offset="0" stop-color="#e04040"/><stop offset="0.6" stop-color="#b01010"/><stop offset="1" stop-color="#600"/></radialGradient><radialGradient id="bball" cx="0.35" cy="0.35" r="0.7"><stop offset="0" stop-color="#5050d0"/><stop offset="1" stop-color="#000060"/></radialGradient></defs>
<polygon points="1077.5,161.0 1322.0,161.0 1335.0,336.5 1068.8,336.5" fill="#242424" stroke="none" stroke-width="0" />
<polygon points="1068.8,336.5 1335.0,336.5 1333.0,398.0 1071.0,398.0" fill="#070707" stroke="none" stroke-width="0" />
<ellipse cx="1232" cy="245" rx="22" ry="40" fill="#000"/>
<polygon points="1183.2,181.2 1184.2,181.0 1185.3,180.8 1186.3,180.6 1187.4,180.5 1188.5,180.3 1189.5,180.2 1190.6,180.1 1191.7,180.0 1192.7,179.9 1193.8,179.8 1194.9,179.7 1196.0,179.7 1197.1,179.6 1198.2,179.6 1199.2,179.6 1200.3,179.6 1201.4,179.6 1202.5,179.6 1203.6,179.6 1204.6,179.7 1205.7,179.8 1206.8,179.8 1207.9,179.9 1209.0,180.0 1210.0,180.1 1211.1,180.3 1212.2,180.4 1213.2,180.5 1214.3,180.7 1215.3,180.9 1216.4,181.1 1217.4,181.3 1218.5,181.5 1219.5,181.7 1220.5,182.0 1221.6,182.2 1222.6,182.5 1223.6,182.7 1224.6,183.0 1225.6,183.3 1226.6,183.6 1227.6,184.0 1228.6,184.3 1229.5,184.6 1230.5,185.0 1231.4,185.4 1232.4,185.7 1233.3,186.1 1234.2,186.5 1235.2,187.0 1236.1,187.4 1237.0,187.8 1237.9,188.3 1238.7,188.7 1239.6,189.2 1240.4,189.7 1241.3,190.1 1242.1,190.6 1242.9,191.1 1243.7,191.7 1244.5,192.2 1245.3,192.7 1246.1,193.3 1246.9,193.8 1247.6,194.4 1248.3,195.0 1249.0,195.5 1249.8,196.1 1250.4,196.7 1251.1,197.3 1251.8,197.9 1252.4,198.6 1253.1,199.2 1253.7,199.8 1254.3,200.5 1254.9,201.1 1255.4,201.8 1256.0,202.4 1256.5,203.1 1257.1,203.8 1257.6,204.5 1258.1,205.1 1258.6,205.8 1259.0,206.5 1259.5,207.2 1259.9,208.0 1260.3,208.7 1260.7,209.4 1261.1,210.1 1261.1,242.1 1260.7,241.4 1260.3,240.7 1259.9,240.0 1259.5,239.2 1259.0,238.5 1258.6,237.8 1258.1,237.1 1257.6,236.5 1257.1,235.8 1256.5,235.1 1256.0,234.4 1255.4,233.8 1254.9,233.1 1254.3,232.5 1253.7,231.8 1253.1,231.2 1252.4,230.6 1251.8,229.9 1251.1,229.3 1250.4,228.7 1249.8,228.1 1249.0,227.5 1248.3,227.0 1247.6,226.4 1246.9,225.8 1246.1,225.3 1245.3,224.7 1244.5,224.2 1243.7,223.7 1242.9,223.1 1242.1,222.6 1241.3,222.1 1240.4,221.7 1239.6,221.2 1238.7,220.7 1237.9,220.3 1237.0,219.8 1236.1,219.4 1235.2,219.0 1234.2,218.5 1233.3,218.1 1232.4,217.7 1231.4,217.4 1230.5,217.0 1229.5,216.6 1228.6,216.3 1227.6,216.0 1226.6,215.6 1225.6,215.3 1224.6,215.0 1223.6,214.7 1222.6,214.5 1221.6,214.2 1220.5,214.0 1219.5,213.7 1218.5,213.5 1217.4,213.3 1216.4,213.1 1215.3,212.9 1214.3,212.7 1213.2,212.5 1212.2,212.4 1211.1,212.3 1210.0,212.1 1209.0,212.0 1207.9,211.9 1206.8,211.8 1205.7,211.8 1204.6,211.7 1203.6,211.6 1202.5,211.6 1201.4,211.6 1200.3,211.6 1199.2,211.6 1198.2,211.6 1197.1,211.6 1196.0,211.7 1194.9,211.7 1193.8,211.8 1192.7,211.9 1191.7,212.0 1190.6,212.1 1189.5,212.2 1188.5,212.3 1187.4,212.5 1186.3,212.6 1185.3,212.8 1184.2,213.0 1183.2,213.2" fill="url(#gin)" stroke="none" stroke-width="0" />
<polygon points="1180.1,172.9 1181.3,172.6 1182.6,172.4 1183.8,172.2 1185.1,172.0 1186.3,171.9 1187.6,171.7 1188.9,171.6 1190.1,171.5 1191.4,171.3 1192.7,171.2 1194.0,171.2 1195.2,171.1 1196.5,171.1 1197.8,171.0 1199.1,171.0 1200.4,171.0 1201.7,171.0 1202.9,171.0 1204.2,171.1 1205.5,171.1 1206.8,171.2 1208.1,171.3 1209.3,171.4 1210.6,171.5 1211.9,171.7 1213.1,171.8 1214.4,172.0 1215.7,172.2 1216.9,172.3 1218.2,172.6 1219.4,172.8 1220.7,173.0 1221.9,173.3 1223.1,173.5 1224.3,173.8 1225.6,174.1 1226.8,174.4 1228.0,174.8 1229.2,175.1 1230.3,175.4 1231.5,175.8 1232.7,176.2 1233.8,176.6 1235.0,177.0 1236.1,177.4 1237.3,177.9 1238.4,178.3 1239.5,178.8 1240.6,179.3 1241.7,179.7 1242.7,180.2 1243.8,180.8 1244.8,181.3 1245.9,181.8 1246.9,182.4 1247.9,182.9 1248.9,183.5 1249.9,184.1 1250.9,184.7 1251.8,185.3 1252.8,185.9 1253.7,186.6 1254.6,187.2 1255.5,187.9 1256.4,188.5 1257.3,189.2 1258.1,189.9 1258.9,190.6 1259.8,191.3 1260.6,192.0 1261.3,192.8 1262.1,193.5 1262.9,194.2 1263.6,195.0 1264.3,195.7 1265.0,196.5 1265.7,197.3 1266.3,198.1 1267.0,198.9 1267.6,199.7 1268.2,200.5 1268.8,201.3 1269.4,202.1 1269.9,203.0 1270.4,203.8 1270.9,204.6 1271.4,205.5 1271.9,206.3 1272.4,207.2 1261.1,210.1 1260.7,209.4 1260.3,208.7 1259.9,208.0 1259.5,207.2 1259.0,206.5 1258.6,205.8 1258.1,205.1 1257.6,204.5 1257.1,203.8 1256.5,203.1 1256.0,202.4 1255.4,201.8 1254.9,201.1 1254.3,200.5 1253.7,199.8 1253.1,199.2 1252.4,198.6 1251.8,197.9 1251.1,197.3 1250.4,196.7 1249.8,196.1 1249.0,195.5 1248.3,195.0 1247.6,194.4 1246.9,193.8 1246.1,193.3 1245.3,192.7 1244.5,192.2 1243.7,191.7 1242.9,191.1 1242.1,190.6 1241.3,190.1 1240.4,189.7 1239.6,189.2 1238.7,188.7 1237.9,188.3 1237.0,187.8 1236.1,187.4 1235.2,187.0 1234.2,186.5 1233.3,186.1 1232.4,185.7 1231.4,185.4 1230.5,185.0 1229.5,184.6 1228.6,184.3 1227.6,184.0 1226.6,183.6 1225.6,183.3 1224.6,183.0 1223.6,182.7 1222.6,182.5 1221.6,182.2 1220.5,182.0 1219.5,181.7 1218.5,181.5 1217.4,181.3 1216.4,181.1 1215.3,180.9 1214.3,180.7 1213.2,180.5 1212.2,180.4 1211.1,180.3 1210.0,180.1 1209.0,180.0 1207.9,179.9 1206.8,179.8 1205.7,179.8 1204.6,179.7 1203.6,179.6 1202.5,179.6 1201.4,179.6 1200.3,179.6 1199.2,179.6 1198.2,179.6 1197.1,179.6 1196.0,179.7 1194.9,179.7 1193.8,179.8 1192.7,179.9 1191.7,180.0 1190.6,180.1 1189.5,180.2 1188.5,180.3 1187.4,180.5 1186.3,180.6 1185.3,180.8 1184.2,181.0 1183.2,181.2" fill="#efc02c" stroke="#1a2030" stroke-width="0.8" />
<polygon points="1124.7,238.3 1136.5,237.1 1136.5,269.1 1124.7,270.3" fill="#000" stroke="none" stroke-width="0" />
<polygon points="1136.0,232.3 1136.0,230.7 1136.2,229.1 1136.4,227.5 1136.8,225.9 1137.2,224.3 1137.8,222.7 1138.4,221.2 1139.2,219.6 1140.0,218.1 1141.0,216.6 1142.0,215.2 1143.2,213.8 1144.4,212.4 1145.7,211.0 1147.1,209.7 1148.6,208.5 1150.2,207.2 1151.9,206.1 1153.6,204.9 1155.4,203.9 1157.2,202.8 1159.2,201.9 1161.2,201.0 1163.2,200.1 1165.3,199.3 1167.5,198.6 1169.7,198.0 1171.9,197.4 1174.2,196.8 1176.5,196.4 1178.8,196.0 1181.2,195.7 1183.5,195.4 1185.9,195.2 1188.3,195.1 1190.7,195.1 1193.1,195.1 1195.5,195.2 1197.9,195.4 1200.3,195.6 1202.7,195.9 1205.0,196.3 1207.3,196.7 1209.6,197.2 1211.8,197.8 1214.0,198.5 1216.2,199.2 1218.3,199.9 1220.4,200.8 1222.4,201.7 1224.3,202.6 1226.2,203.6 1228.0,204.7 1229.8,205.8 1231.4,207.0 1233.0,208.2 1234.5,209.4 1236.0,210.7 1237.3,212.1 1238.6,213.4 1239.7,214.9 1240.8,216.3 1241.8,217.8 1242.6,219.3 1243.4,220.8 1244.1,222.4 1244.7,223.9 1245.1,225.5 1245.5,227.1 1245.8,228.7 1245.9,230.3 1246.0,231.9 1246.0,233.6 1246.0,265.6 1246.0,263.9 1245.9,262.3 1245.8,260.7 1245.5,259.1 1245.1,257.5 1244.7,255.9 1244.1,254.4 1243.4,252.8 1242.6,251.3 1241.8,249.8 1240.8,248.3 1239.7,246.9 1238.6,245.4 1237.3,244.1 1236.0,242.7 1234.5,241.4 1233.0,240.2 1231.4,239.0 1229.8,237.8 1228.0,236.7 1226.2,235.6 1224.3,234.6 1222.4,233.7 1220.4,232.8 1218.3,231.9 1216.2,231.2 1214.0,230.5 1211.8,229.8 1209.6,229.2 1207.3,228.7 1205.0,228.3 1202.7,227.9 1200.3,227.6 1197.9,227.4 1195.5,227.2 1193.1,227.1 1190.7,227.1 1188.3,227.1 1185.9,227.2 1183.5,227.4 1181.2,227.7 1178.8,228.0 1176.5,228.4 1174.2,228.8 1171.9,229.4 1169.7,230.0 1167.5,230.6 1165.3,231.3 1163.2,232.1 1161.2,233.0 1159.2,233.9 1157.2,234.8 1155.4,235.9 1153.6,236.9 1151.9,238.1 1150.2,239.2 1148.6,240.5 1147.1,241.7 1145.7,243.0 1144.4,244.4 1143.2,245.8 1142.0,247.2 1141.0,248.6 1140.0,250.1 1139.2,251.6 1138.4,253.2 1137.8,254.7 1137.2,256.3 1136.8,257.9 1136.4,259.5 1136.2,261.1 1136.0,262.7 1136.0,264.3" fill="url(#gin)" stroke="none" stroke-width="0" />
<polygon points="1124.7,238.3 1124.3,236.3 1124.1,234.3 1124.0,232.4 1124.0,230.4 1124.0,262.4 1124.0,264.4 1124.1,266.3 1124.3,268.3 1124.7,270.3" fill="url(#gwall)" stroke="#1a2030" stroke-width="0.8" />
<polygon points="1257.9,230.0 1258.0,231.9 1257.9,233.9 1257.8,235.9 1257.4,237.8 1257.0,239.8 1256.4,241.7 1255.7,243.6 1254.9,245.5 1254.0,247.4 1252.9,249.2 1251.7,251.0 1250.4,252.8 1249.0,254.5 1247.5,256.2 1245.9,257.8 1245.9,289.8 1247.5,288.2 1249.0,286.5 1250.4,284.8 1251.7,283.0 1252.9,281.2 1254.0,279.4 1254.9,277.5 1255.7,275.6 1256.4,273.7 1257.0,271.8 1257.4,269.8 1257.8,267.9 1257.9,265.9 1258.0,263.9 1257.9,262.0" fill="url(#gwall)" stroke="#1a2030" stroke-width="0.8" />
<polygon points="1124.7,238.3 1124.3,236.3 1124.1,234.3 1124.0,232.4 1124.0,230.4 1124.2,228.4 1124.5,226.5 1124.9,224.5 1125.5,222.6 1126.1,220.7 1126.9,218.8 1127.9,216.9 1128.9,215.1 1130.1,213.3 1131.3,211.5 1132.7,209.8 1134.2,208.1 1135.8,206.4 1137.6,204.9 1139.4,203.3 1141.3,201.8 1143.3,200.4 1145.4,199.0 1147.6,197.7 1149.9,196.5 1152.2,195.3 1154.7,194.2 1157.1,193.2 1159.7,192.2 1162.3,191.3 1165.0,190.5 1167.7,189.8 1170.5,189.2 1173.3,188.6 1176.1,188.1 1179.0,187.7 1181.9,187.4 1184.8,187.2 1187.7,187.1 1190.7,187.0 1193.6,187.0 1196.5,187.2 1199.4,187.4 1202.3,187.6 1205.2,188.0 1208.1,188.5 1210.9,189.0 1213.7,189.7 1216.4,190.4 1219.1,191.1 1221.7,192.0 1224.3,192.9 1226.8,194.0 1229.2,195.0 1231.6,196.2 1233.9,197.4 1236.1,198.7 1238.2,200.1 1240.3,201.5 1242.2,203.0 1244.0,204.5 1245.8,206.1 1247.4,207.7 1248.9,209.4 1250.4,211.1 1251.7,212.9 1252.8,214.7 1253.9,216.5 1254.9,218.4 1255.7,220.3 1256.4,222.2 1257.0,224.1 1257.4,226.1 1257.7,228.0 1257.9,230.0 1258.0,231.9 1257.9,233.9 1257.8,235.9 1257.4,237.8 1257.0,239.8 1256.4,241.7 1255.7,243.6 1254.9,245.5 1254.0,247.4 1252.9,249.2 1251.7,251.0 1250.4,252.8 1249.0,254.5 1247.5,256.2 1245.9,257.8 1236.1,253.2 1237.4,251.8 1238.6,250.5 1239.8,249.0 1240.9,247.6 1241.8,246.1 1242.7,244.6 1243.5,243.1 1244.1,241.5 1244.7,240.0 1245.2,238.4 1245.5,236.8 1245.8,235.2 1246.0,233.6 1246.0,231.9 1245.9,230.3 1245.8,228.7 1245.5,227.1 1245.1,225.5 1244.7,223.9 1244.1,222.4 1243.4,220.8 1242.6,219.3 1241.8,217.8 1240.8,216.3 1239.7,214.9 1238.6,213.4 1237.3,212.1 1236.0,210.7 1234.5,209.4 1233.0,208.2 1231.4,207.0 1229.8,205.8 1228.0,204.7 1226.2,203.6 1224.3,202.6 1222.4,201.7 1220.4,200.8 1218.3,199.9 1216.2,199.2 1214.0,198.5 1211.8,197.8 1209.6,197.2 1207.3,196.7 1205.0,196.3 1202.7,195.9 1200.3,195.6 1197.9,195.4 1195.5,195.2 1193.1,195.1 1190.7,195.1 1188.3,195.1 1185.9,195.2 1183.5,195.4 1181.2,195.7 1178.8,196.0 1176.5,196.4 1174.2,196.8 1171.9,197.4 1169.7,198.0 1167.5,198.6 1165.3,199.3 1163.2,200.1 1161.2,201.0 1159.2,201.9 1157.2,202.8 1155.4,203.9 1153.6,204.9 1151.9,206.1 1150.2,207.2 1148.6,208.5 1147.1,209.7 1145.7,211.0 1144.4,212.4 1143.2,213.8 1142.0,215.2 1141.0,216.6 1140.0,218.1 1139.2,219.6 1138.4,221.2 1137.8,222.7 1137.2,224.3 1136.8,225.9 1136.4,227.5 1136.2,229.1 1136.0,230.7 1136.0,232.3 1136.1,233.9 1136.3,235.5 1136.5,237.1" fill="#efc02c" stroke="#1a2030" stroke-width="0.8" />
<polygon points="1277.0,224.4 1277.0,225.9 1277.0,227.4 1276.9,228.9 1276.8,230.4 1276.6,231.9 1276.3,233.4 1276.0,234.9 1275.6,236.4 1275.2,237.9 1274.7,239.3 1274.2,240.8 1273.6,242.3 1272.9,243.7 1272.2,245.1 1271.4,246.5 1270.6,247.9 1269.8,249.3 1268.8,250.7 1267.9,252.0 1266.8,253.3 1265.8,254.6 1264.6,255.9 1263.5,257.1 1262.2,258.4 1261.0,259.6 1259.7,260.8 1258.3,261.9 1256.9,263.1 1255.5,264.2 1254.0,265.2 1252.4,266.3 1250.9,267.3 1249.3,268.3 1247.6,269.2 1245.9,270.1 1244.2,271.0 1242.5,271.9 1240.7,272.7 1238.9,273.5 1237.1,274.2 1235.2,274.9 1233.3,275.6 1231.4,276.2 1229.4,276.8 1227.5,277.4 1225.5,277.9 1223.5,278.4 1221.5,278.8 1219.4,279.2 1217.4,279.6 1215.3,279.9 1213.2,280.2 1211.1,280.4 1209.0,280.6 1206.9,280.8 1204.8,280.9 1202.7,281.0 1200.6,281.0 1198.5,281.0 1196.4,280.9 1194.3,280.8 1192.2,280.7 1190.1,280.5 1188.0,280.3 1185.9,280.1 1183.8,279.8 1181.8,279.4 1179.7,279.1 1177.7,278.6 1175.7,278.2 1173.7,277.7 1173.7,309.7 1175.7,310.2 1177.7,310.6 1179.7,311.1 1181.8,311.4 1183.8,311.8 1185.9,312.1 1188.0,312.3 1190.1,312.5 1192.2,312.7 1194.3,312.8 1196.4,312.9 1198.5,313.0 1200.6,313.0 1202.7,313.0 1204.8,312.9 1206.9,312.8 1209.0,312.6 1211.1,312.4 1213.2,312.2 1215.3,311.9 1217.4,311.6 1219.4,311.2 1221.5,310.8 1223.5,310.4 1225.5,309.9 1227.5,309.4 1229.4,308.8 1231.4,308.2 1233.3,307.6 1235.2,306.9 1237.1,306.2 1238.9,305.5 1240.7,304.7 1242.5,303.9 1244.2,303.0 1245.9,302.1 1247.6,301.2 1249.3,300.3 1250.9,299.3 1252.4,298.3 1254.0,297.2 1255.5,296.2 1256.9,295.1 1258.3,293.9 1259.7,292.8 1261.0,291.6 1262.2,290.4 1263.5,289.1 1264.6,287.9 1265.8,286.6 1266.8,285.3 1267.9,284.0 1268.8,282.7 1269.8,281.3 1270.6,279.9 1271.4,278.5 1272.2,277.1 1272.9,275.7 1273.6,274.3 1274.2,272.8 1274.7,271.3 1275.2,269.9 1275.6,268.4 1276.0,266.9 1276.3,265.4 1276.6,263.9 1276.8,262.4 1276.9,260.9 1277.0,259.4 1277.0,257.9 1277.0,256.4" fill="url(#gwall)" stroke="#1a2030" stroke-width="0.8" />
<polygon points="1266.7,198.5 1267.7,199.8 1268.7,201.2 1269.6,202.5 1270.5,203.9 1271.3,205.3 1272.1,206.7 1272.8,208.1 1273.5,209.5 1274.1,211.0 1274.6,212.4 1275.1,213.9 1275.6,215.4 1275.9,216.9 1276.3,218.4 1276.5,219.9 1276.7,221.4 1276.9,222.9 1277.0,224.4 1277.0,225.9 1277.0,227.4 1276.9,228.9 1276.8,230.4 1276.6,231.9 1276.3,233.4 1276.0,234.9 1275.6,236.4 1275.2,237.9 1274.7,239.3 1274.2,240.8 1273.6,242.3 1272.9,243.7 1272.2,245.1 1271.4,246.5 1270.6,247.9 1269.8,249.3 1268.8,250.7 1267.9,252.0 1266.8,253.3 1265.8,254.6 1264.6,255.9 1263.5,257.1 1262.2,258.4 1261.0,259.6 1259.7,260.8 1258.3,261.9 1256.9,263.1 1255.5,264.2 1254.0,265.2 1252.4,266.3 1250.9,267.3 1249.3,268.3 1247.6,269.2 1245.9,270.1 1244.2,271.0 1242.5,271.9 1240.7,272.7 1238.9,273.5 1237.1,274.2 1235.2,274.9 1233.3,275.6 1231.4,276.2 1229.4,276.8 1227.5,277.4 1225.5,277.9 1223.5,278.4 1221.5,278.8 1219.4,279.2 1217.4,279.6 1215.3,279.9 1213.2,280.2 1211.1,280.4 1209.0,280.6 1206.9,280.8 1204.8,280.9 1202.7,281.0 1200.6,281.0 1198.5,281.0 1196.4,280.9 1194.3,280.8 1192.2,280.7 1190.1,280.5 1188.0,280.3 1185.9,280.1 1183.8,279.8 1181.8,279.4 1179.7,279.1 1177.7,278.6 1175.7,278.2 1173.7,277.7 1177.8,269.6 1179.5,270.0 1181.2,270.4 1182.9,270.8 1184.6,271.1 1186.3,271.4 1188.1,271.6 1189.8,271.9 1191.6,272.0 1193.4,272.2 1195.2,272.3 1196.9,272.4 1198.7,272.4 1200.5,272.4 1202.3,272.4 1204.1,272.3 1205.9,272.2 1207.6,272.1 1209.4,271.9 1211.2,271.7 1212.9,271.5 1214.7,271.2 1216.4,270.9 1218.1,270.6 1219.8,270.2 1221.5,269.8 1223.2,269.4 1224.8,268.9 1226.5,268.4 1228.1,267.9 1229.7,267.3 1231.3,266.7 1232.8,266.1 1234.4,265.4 1235.9,264.7 1237.3,264.0 1238.8,263.3 1240.2,262.5 1241.6,261.7 1242.9,260.9 1244.3,260.0 1245.6,259.1 1246.8,258.2 1248.0,257.3 1249.2,256.3 1250.4,255.4 1251.5,254.4 1252.5,253.3 1253.6,252.3 1254.6,251.2 1255.5,250.2 1256.4,249.1 1257.3,247.9 1258.1,246.8 1258.9,245.7 1259.6,244.5 1260.3,243.3 1260.9,242.1 1261.5,240.9 1262.1,239.7 1262.6,238.5 1263.1,237.3 1263.5,236.0 1263.8,234.8 1264.1,233.5 1264.4,232.3 1264.6,231.0 1264.8,229.7 1264.9,228.5 1265.0,227.2 1265.0,225.9 1265.0,224.6 1264.9,223.4 1264.8,222.1 1264.6,220.8 1264.4,219.6 1264.1,218.3 1263.8,217.0 1263.4,215.8 1263.0,214.6 1262.5,213.3 1262.0,212.1 1261.5,210.9 1260.9,209.7 1260.2,208.5 1259.5,207.3 1258.8,206.2 1258.0,205.0 1257.2,203.9 1256.3,202.8" fill="#efc02c" stroke="#1a2030" stroke-width="0.8" />
<polygon points="1173.7,277.7 1177.8,269.6 1177.8,301.6 1173.7,309.7" fill="#8a6512" stroke="none" stroke-width="0" />
<path d="M1115.3,81.3l22.2,26.7" fill="none" stroke="#1a1a6a" stroke-width="2.4" stroke-linejoin="round" />
<path d="M1137.5,108l14.5,9 20.6,23 0,18 -16.1-12 -20.5-22 1.5-16" fill="none" stroke="#111" stroke-width="3" stroke-linejoin="round" />
<path d="M1172.6,158l20.4,25" fill="none" stroke="#a01010" stroke-width="2.4" stroke-linejoin="round" />
<circle cx="1137.5" cy="108.0" r="7.3" fill="url(#gball)"/>
<circle cx="1152.0" cy="117.0" r="7.3" fill="url(#gball)"/>
<circle cx="1136.0" cy="124.0" r="7.3" fill="url(#gball)"/>
<circle cx="1172.6" cy="140.0" r="7.3" fill="url(#gball)"/>
<circle cx="1156.5" cy="146.0" r="7.3" fill="url(#gball)"/>
<circle cx="1172.6" cy="158.0" r="7.3" fill="url(#gball)"/>
<circle cx="1115.3" cy="81.3" r="7.5" fill="url(#bball)"/>
<path d="M1347.4,125.2l-27.4,17.8" fill="none" stroke="#1a1a6a" stroke-width="2.4" stroke-linejoin="round" />
<path d="M1320,143l-16,3 -23,18 -12,14 21,3 23-20 7-18" fill="none" stroke="#111" stroke-width="3" stroke-linejoin="round" />
<path d="M1269,178l-25,24" fill="none" stroke="#a01010" stroke-width="2.4" stroke-linejoin="round" />
<circle cx="1320.0" cy="143.0" r="7.3" fill="url(#gball)"/>
<circle cx="1304.0" cy="146.0" r="7.3" fill="url(#gball)"/>
<circle cx="1313.0" cy="161.0" r="7.3" fill="url(#gball)"/>
<circle cx="1281.0" cy="164.0" r="7.3" fill="url(#gball)"/>
<circle cx="1290.0" cy="181.0" r="7.3" fill="url(#gball)"/>
<circle cx="1269.0" cy="178.0" r="7.3" fill="url(#gball)"/>
<circle cx="1347.4" cy="125.2" r="7.5" fill="url(#bball)"/>
<circle cx="1193.0" cy="183.0" r="6.3" fill="url(#rball)"/>
<path d="M1197.5,53l.1,1 .3,1 .5,.9 .6,1 .9,1 1,1 1.1,1 1.3,1 1.3,.9 1.4,1 1.5,1 1.4,1 1.5,1 1.4,1 1.4,.9 1.3,1 1.2,1 1,1 .9,1 .8,1 .5,.9 .4,1 .2,1 0,1 -.3,1 -.4,1 -.6,.9 -.7,1 -1,1 -1.1,1 -1.2,1 -1.3,1 -1.4,.9 -1.4,1 -1.5,1 -1.4,1 -1.5,1 -1.4,1 -1.3,.9 -1.2,1 -1.1,1 -1,1 -.8,1 -.6,1 -.5,.9 -.2,1 -.1,1 .1,1 .4,1 .5,1 .7,.9 .9,1 1,1 1.2,1 1.2,1 1.4,1 1.4,.9 1.5,1 1.5,1 1.4,1 1.4,1 1.4,1 1.3,.9 1.1,1 1,1 .9,1 .7,1 .5,1 .4,.9 .1,1 -.1,1 -.2,1 -.5,1 -.6,1 -.8,.9 -1,1 -1.1,1 -1.2,1 -1.4,1 -1.4,1 -1.4,.9 -1.5,1 -1.5,1 -1.4,1 -1.4,1 -1.3,1 -1.2,.9 -1.1,1 -.9,1 -.8,1 -.5,1 -.5,1 -.2,.9 0,1 .2,1 .4,1 .5,1 .8,1 .9,.9 1,1 1.2,1 1.3,1 1.4,1 1.4,1 1.5,.9 1.5,1 1.4,1 1.4,1 1.4,1 1.2,1 1.2,.9 .9,1 .9,1 .6,1 .5,1 .3,1 .1,.9 -.1,1 -.3,1" fill="none" stroke="#a0ffb0" stroke-width="5" stroke-linejoin="round" opacity="0.6"/>
<path d="M1197.5,53l.1,1 .3,1 .5,.9 .6,1 .9,1 1,1 1.1,1 1.3,1 1.3,.9 1.4,1 1.5,1 1.4,1 1.5,1 1.4,1 1.4,.9 1.3,1 1.2,1 1,1 .9,1 .8,1 .5,.9 .4,1 .2,1 0,1 -.3,1 -.4,1 -.6,.9 -.7,1 -1,1 -1.1,1 -1.2,1 -1.3,1 -1.4,.9 -1.4,1 -1.5,1 -1.4,1 -1.5,1 -1.4,1 -1.3,.9 -1.2,1 -1.1,1 -1,1 -.8,1 -.6,1 -.5,.9 -.2,1 -.1,1 .1,1 .4,1 .5,1 .7,.9 .9,1 1,1 1.2,1 1.2,1 1.4,1 1.4,.9 1.5,1 1.5,1 1.4,1 1.4,1 1.4,1 1.3,.9 1.1,1 1,1 .9,1 .7,1 .5,1 .4,.9 .1,1 -.1,1 -.2,1 -.5,1 -.6,1 -.8,.9 -1,1 -1.1,1 -1.2,1 -1.4,1 -1.4,1 -1.4,.9 -1.5,1 -1.5,1 -1.4,1 -1.4,1 -1.3,1 -1.2,.9 -1.1,1 -.9,1 -.8,1 -.5,1 -.5,1 -.2,.9 0,1 .2,1 .4,1 .5,1 .8,1 .9,.9 1,1 1.2,1 1.3,1 1.4,1 1.4,1 1.5,.9 1.5,1 1.4,1 1.4,1 1.4,1 1.2,1 1.2,.9 .9,1 .9,1 .6,1 .5,1 .3,1 .1,.9 -.1,1 -.3,1" fill="none" stroke="#30e040" stroke-width="3.2" stroke-linejoin="round" />
<polygon points="1205.0,187.0 1223.0,181.0 1208.5,164.5" fill="#30d040" stroke="none" stroke-width="0" />
<path d="M1237.3,193.5l-.2-.9 -.1-.8 .1-.9 .3-.9 .4-.8 .6-.9 .7-.9 .9-.9 1-.8 1-.9 1.2-.9 1.2-.8 1.2-.9 1.2-.9 1.2-.8 1.2-.9 1.1-.9 1.1-.9 .9-.8 .8-.9 .7-.9 .5-.8 .4-.9 .2-.9 .1-.8 -.1-.9 -.3-.9 -.4-.9 -.6-.8 -.7-.9 -.9-.9 -1-.8 -1-.9 -1.2-.9 -1.2-.8 -1.2-.9 -1.2-.9 -1.2-.9 -1.2-.8 -1.1-.9 -1.1-.9 -.9-.8 -.8-.9 -.7-.9 -.5-.8 -.4-.9 -.2-.9 -.1-.8 .1-.9 .3-.9 .4-.9 .6-.8 .8-.9 .8-.9 1-.8 1-.9 1.2-.9 1.2-.8 1.2-.9 1.2-.9 1.2-.9 1.2-.8 1.1-.9 1.1-.9 .9-.8 .8-.9 .7-.9 .5-.8 .4-.9 .2-.9 .1-.9 -.1-.8 -.3-.9 -.4-.9 -.6-.8 -.8-.9 -.8-.9 -1-.8 -1.1-.9 -1.1-.9 -1.2-.8 -1.2-.9 -1.2-.9 -1.2-.9 -1.2-.8 -1.1-.9 -1.1-.9 -.9-.8 -.8-.9 -.7-.9 -.5-.8 -.4-.9 -.2-.9 -.1-.9 .1-.8 .3-.9 .4-.9 .6-.8 .8-.9 .8-.9 1-.8 1.1-.9 1.1-.9 1.2-.9 1.2-.8 1.2-.9 1.3-.9 1.1-.8 1.1-.9 1.1-.9 .9-.8 .8-.9 .7-.9 .5-.9 .4-.8 .2-.9 .1-.9 -.1-.8 -.3-.9" fill="none" stroke="#ff2010" stroke-width="3.2" stroke-linejoin="round" />
<polygon points="1238.0,74.4 1260.3,80.0 1247.8,93.9" fill="#ff2010" stroke="none" stroke-width="0" />
<circle cx="1244.0" cy="202.0" r="6.3" fill="url(#rball)"/>
<text x="1181.5" y="48.3" font-family="'Liberation Sans', Arial, sans-serif" font-size="33" font-weight="bold" fill="#3de04a">hv<tspan font-size="20" dy="6">i</tspan></text>
<text x="1231" y="63" font-family="'Liberation Sans', Arial, sans-serif" font-size="33" font-weight="bold" fill="#ff1a1a">hv<tspan font-size="20" dy="6">s</tspan></text>
<line x1="1531.6" y1="378.8" x2="1536.6" y2="378.8" stroke="#555" stroke-width="1.3" />
<text x="1523.0" y="384.6" font-family="'Liberation Sans', Arial, sans-serif" font-size="16.2" font-weight="bold" font-style="normal" fill="#222" text-anchor="end" >0</text>
<line x1="1531.6" y1="325.0" x2="1536.6" y2="325.0" stroke="#555" stroke-width="1.3" />
<text x="1523.0" y="330.8" font-family="'Liberation Sans', Arial, sans-serif" font-size="16.2" font-weight="bold" font-style="normal" fill="#222" text-anchor="end" >10k</text>
<line x1="1531.6" y1="271.2" x2="1536.6" y2="271.2" stroke="#555" stroke-width="1.3" />
<text x="1523.0" y="277.0" font-family="'Liberation Sans', Arial, sans-serif" font-size="16.2" font-weight="bold" font-style="normal" fill="#222" text-anchor="end" >20k</text>
<line x1="1531.6" y1="217.4" x2="1536.6" y2="217.4" stroke="#555" stroke-width="1.3" />
<text x="1523.0" y="223.2" font-family="'Liberation Sans', Arial, sans-serif" font-size="16.2" font-weight="bold" font-style="normal" fill="#222" text-anchor="end" >30k</text>
<line x1="1531.6" y1="163.7" x2="1536.6" y2="163.7" stroke="#555" stroke-width="1.3" />
<text x="1523.0" y="169.5" font-family="'Liberation Sans', Arial, sans-serif" font-size="16.2" font-weight="bold" font-style="normal" fill="#222" text-anchor="end" >40k</text>
<line x1="1531.6" y1="109.9" x2="1536.6" y2="109.9" stroke="#555" stroke-width="1.3" />
<text x="1523.0" y="115.7" font-family="'Liberation Sans', Arial, sans-serif" font-size="16.2" font-weight="bold" font-style="normal" fill="#222" text-anchor="end" >50k</text>
<line x1="1531.6" y1="56.1" x2="1536.6" y2="56.1" stroke="#555" stroke-width="1.3" />
<text x="1523.0" y="61.9" font-family="'Liberation Sans', Arial, sans-serif" font-size="16.2" font-weight="bold" font-style="normal" fill="#222" text-anchor="end" >60k</text>
<line x1="1533.6" y1="351.9" x2="1536.6" y2="351.9" stroke="#555" stroke-width="1.1" />
<line x1="1533.6" y1="298.1" x2="1536.6" y2="298.1" stroke="#555" stroke-width="1.1" />
<line x1="1533.6" y1="244.3" x2="1536.6" y2="244.3" stroke="#555" stroke-width="1.1" />
<line x1="1533.6" y1="190.6" x2="1536.6" y2="190.6" stroke="#555" stroke-width="1.1" />
<line x1="1533.6" y1="136.8" x2="1536.6" y2="136.8" stroke="#555" stroke-width="1.1" />
<line x1="1533.6" y1="83.0" x2="1536.6" y2="83.0" stroke="#555" stroke-width="1.1" />
<line x1="1533.6" y1="29.2" x2="1536.6" y2="29.2" stroke="#555" stroke-width="1.1" />
<line x1="1536.6" y1="378.8" x2="1536.6" y2="383.8" stroke="#555" stroke-width="1.3" />
<text x="1536.6" y="405.0" font-family="'Liberation Sans', Arial, sans-serif" font-size="16.4" font-weight="bold" font-style="normal" fill="#222" text-anchor="middle" >400</text>
<line x1="1655.5" y1="378.8" x2="1655.5" y2="383.8" stroke="#555" stroke-width="1.3" />
<text x="1655.5" y="405.0" font-family="'Liberation Sans', Arial, sans-serif" font-size="16.4" font-weight="bold" font-style="normal" fill="#222" text-anchor="middle" >800</text>
<line x1="1774.4" y1="378.8" x2="1774.4" y2="383.8" stroke="#555" stroke-width="1.3" />
<text x="1774.4" y="405.0" font-family="'Liberation Sans', Arial, sans-serif" font-size="16.4" font-weight="bold" font-style="normal" fill="#222" text-anchor="middle" >1200</text>
<line x1="1893.3" y1="378.8" x2="1893.3" y2="383.8" stroke="#555" stroke-width="1.3" />
<text x="1893.3" y="405.0" font-family="'Liberation Sans', Arial, sans-serif" font-size="16.4" font-weight="bold" font-style="normal" fill="#222" text-anchor="middle" >1600</text>
<line x1="2012.2" y1="378.8" x2="2012.2" y2="383.8" stroke="#555" stroke-width="1.3" />
<text x="2012.2" y="405.0" font-family="'Liberation Sans', Arial, sans-serif" font-size="16.4" font-weight="bold" font-style="normal" fill="#222" text-anchor="middle" >2000</text>
<line x1="1596.0" y1="378.8" x2="1596.0" y2="381.8" stroke="#555" stroke-width="1.1" />
<line x1="1715.0" y1="378.8" x2="1715.0" y2="381.8" stroke="#555" stroke-width="1.1" />
<line x1="1833.8" y1="378.8" x2="1833.8" y2="381.8" stroke="#555" stroke-width="1.1" />
<line x1="1952.8" y1="378.8" x2="1952.8" y2="381.8" stroke="#555" stroke-width="1.1" />
<path d="M1536.6,358.6l.9,.7 .8,1.8 .9,1.5 .8,1.6 .9,1.8 .8,1 .9-1.2 .8-.8 .9,.5 .8,1.2 .9,.8 .8,.9 .9,.1 .8-.8 .9,.4 .8-.2 .9,.1 .8,1.9 .9,0 .8-.1 .9,.2 .8-1.9 .9-.8 .8,.6 .9-.9 .8-.8 .9,1.2 .8-.1 .9-.6 .8,.9 .9-.1 .8,1 .9,.8 .8-1 .9-.9 .8,.1 .9,.5 .8-.9 .9-1.1 .8,.1 .9,.1 .8,.7 .9,1.1 .8-.5 .9-.1 .8,.6 .9-1.4 .8-.3 .9,1.8 .8-.5 .9-2 .8,.3 .9,.4 .8,.3 .9,1.1 .8,.2 .9-.3 .8-1.8 .9,.7 .8,.1 .9-.2 .8,1.3 .9-1.3 .9-.6 .8,.3 .9,1.5 .8-.1 .9-.4 .8-1.6 .9-.6 .8,1.6 .9,.6 .8,.4 .9,.1 .8-1 .9-.8 .8,.3 .9,.2 .8,.7 .9-1.4 .8,.3 .9,2.1 .8-1 .9-.5 .8,.6 .9-1.5 .8,.2 .9,0 .8-.1 .9-.5 .8-1.4 .9,1.3 .8,1.1 .9,.2 .8-.3 .9-1.4 .8,1.1 .9,.1 .8-.1 .9,1.2 .8,.3 .9-2.1 .8-1.3 .9,1.2 .8,.5 .9-.6 .8,1 .9,.7 .8-3 .9,.2 .8,1.5 .9-.7 .8,.5 .9,.4 .8-1.2 .9-.2 .8,.4 .9,.4 .8,0 .9-.3 .8-.8 .9-.5 .8,1.1 .9,2.2 .9-.7 .8-2.2 .9,1.1 .8,1.8 .9,.2 .8-2 .9-.1 .8,.9 .9-.9 .8-1.2 .9,.2 .8,.9 .9,.3 .8-1.2 .9-1.1 .8,1.1 .9,1.7 .8,.4 .9-1.3 .8-.1 .9-.2 .8-.8 .9,.4 .8-.2 .9-.2 .8,1 .9,.5 .8-2.2 .9,.6 .8,1.9 .9-1.6 .8-.2 .9,1.3 .8,.7 .9-.9 .8-1.6 .9-.7 .8,.7 .9,.2 .8,.7 .9,.6 .8-.3 .9,0 .8-1 .9-.6 .8,1.1 .9-.1 .8-.4 .9,1.5 .8-.2 .9,.3 .8-.2 .9-1.2 .8,.1 .9-.2 .8,0 .9,.4 .8,.7 .9,0 .8-.5 .9,.3 .8-.5 .9-.5 .9,1 .8,1.2 .9-.9 .8-1.5 .9-.5 .8-.3 .9-.7 .8,.3 .9,.8 .8,1 .9,.6 .8-.4 .9-.9 .8-.5 .9,.1 .8,.3 .9-.5 .8-.3 .9,.2 .8-.2 .9,.5 .8,.9 .9-.8 .8-1 .9,.4 .8,.5 .9-1.8 .8,.1 .9,1.6 .8-.8 .9,.6 .8-.1 .9-2.1 .8-.8 .9,.6 .8,.1 .9,.1 .8-.6 .9-.2 .8,.4 .9-.8 .8-1.7 .9-1.3 .8-1.5 .9-.7 .8-3.6 .9-7.4 .8-5.1 .9-1.1 .8,2.9 .9,4 .8,4.8 .9,3.2 .8,2.2 .9,1.5 .8-.2 .9,2.9 .8,1.3 .9-.6 .8,1.4 .9,.2 .9-.8 .8-1 .9,.8 .8,0 .9-2.6 .8,.1 .9,.7 .8-.1 .9,.5 .8-1.4 .9-2.1 .8-.9 .9-1.4 .8,.9 .9,2.5 .8,.2 .9,1.7 .8,2.2 .9-.5 .8-.2 .9-.8 .8-.2 .9-.9 .8-1.3 .9,.5 .8,1.2 .9,.1 .8-.8 .9,1.3 .8,.4 .9-1.2 .8,.2 .9-.6 .8-.7 .9,1.6 .8,.7 .9,0 .8-.4 .9,0 .8-.3 .9-.9 .8-.1 .9,.3 .8,1.6 .9-1.4 .8-.9 .9,.2 .8-.5 .9,.4 .8-1 .9,.1 .8,.3 .9,1.1 .8,.3 .9-.9 .8,.6 .9-.2 .8-.4 .9-1.2 .8,1.4 .9,1 .8-.9 .9-.8 .9-.3 .8,.4 .9-.1 .8-.2 .9-1.1 .8,.7 .9,.5 .8,.7 .9-.3 .8-1.7 .9,.5 .8-.2 .9,.9 .8,1.9 .9-.5 .8-1.1 .9-1.1 .8-.3 .9-.1 .8-.7 .9,.2 .8,1.2 .9,.3 .8-2.5 .9,.6 .8,1.3 .9-2.9 .8-.8 .9,1.2 .8-.2 .9-1.9 .8-1.6 .9,.3 .8-.4 .9-1.1 .8-.1 .9-.2 .8,1.7 .9,2.5 .8-.1 .9-2 .8-.1 .9,1.1 .8-1.3 .9,.7 .8,.7 .9-.8 .8,0 .9-1.3 .8-2.1 .9-.4 .8,.7 .9,.5 .8,.1 .9,.2 .8,.9 .9,1.1 .8,1 .9-1.1 .8,.1 .9,.5 .9-.4 .8,.7 .9,1.5 .8-.9 .9-1.2 .8,0 .9,1.4 .8,1.8 .9,0 .8-.5 .9-2.2 .8-1.1 .9,.7 .8,.3 .9-.7 .8,.3 .9,.2 .8-.4 .9,1.7 .8,.2 .9-2.5 .8-.1 .9,1 .8,0 .9,.1 .8-1.4 .9-.3 .8,1.3 .9,1.7 .8-.5 .9-1.1 .8,.5 .9-2.3 .8-2.2 .9,1.3 .8-.8 .9-2.6 .8,.1 .9-1.5 .8-.9 .9-.2 .8-1.6 .9-1 .8-1.8 .9,.7 .8,2.6 .9,1.3 .8,.6 .9,1 .8,.8 .9,1.4 .8,2.4 .9,.7 .8-.2 .9,1 .8,.5 .9-1.3 .8,1.1 .9,1.8 .8-.8 .9,1 .8,2 .9,.8 .9-.4 .8-.6 .9,.8 .8,.8 .9-.5 .8-.2 .9,2.3 .8,1 .9-.7 .8-.1 .9,.5 .8,1.2 .9,.5 .8,1 .9-.1 .8-.6 .9-.3 .8,.4 .9,.7 .8,0 .9,.4 .8-1.1 .9-.4 .8,.2 .9,.4 .8,.3 .9,.4 .8,.4 .9-.8 .8-.7 .9-.5 .8,.5 .9-.4 .8-.3 .9,.3 .8-.4 .9,.4 .8,.7 .9-.2 .8,0 .9,0 .8-1 .9-.3 .8,1 .9,1.4 .8-.2 .9-.8 .8-.8 .9,.2 .8,.9 .9-.7 .8,.2 .9,.6 .8-1.5 .9-1.2 .8,.8 .9,.8 .8,1.1 .9-.2 .8-.7 .9,.3 .9,.4 .8,.1 .9-.2 .8-.2 .9-1.1 .8-.1 .9,2.1 .8,1 .9-.1 .8-.1 .9-1.5 .8-.8 .9,.8 .8,.1 .9,.1 .8,1.2 .9,.4 .8-.4 .9-1.9 .8,.3 .9,.1 .8-1.8 .9,1 .8,.9 .9,.3 .8,0 .9-.8 .8-.1 .9-.2 .8-.8 .9,.4 .8,.6 .9,.3 .8,0 .9,.7 .8,0 .9-.9 .8,.8 .9-1.3 .8,.1 .9,2.1 .8-.9 .9,.7 .8,.8 .9-.3 .8,.1 .9-.9 .8-.9 .9-.9 .8-.3 .9-.1 .8,.2 .9,1.1 .8-.3 .9,0 .8,1.2 .9-1.4 .8-1 .9,.9 .8,0 .9-.4 .8,1.4 .9,.7" fill="none" stroke="#2a9a82" stroke-width="2.1" stroke-linejoin="round" />
<path d="M1536.6,328.6l.9-.5 .8-.8 .9,1.6 .8,3.3 .9,1.5 .8-1 .9,.3 .8-.2 .9,1.5 .8,.9 .9-.6 .8-.4 .9-.5 .8,.2 .9,.5 .8,1.8 .9,.4 .8-.7 .9,0 .8-1.4 .9-1.8 .8,.6 .9,1.8 .8,.3 .9-.3 .8-1.2 .9-.8 .8,.7 .9,.5 .8,1.9 .9,.3 .8-.7 .9-.9 .8-1 .9,.9 .8,.3 .9-1.8 .8,.3 .9,1.9 .8-.6 .9-.2 .8,.1 .9-1 .8-1.7 .9,1.8 .8,1.3 .9-1.5 .8,0 .9,.2 .8,.1 .9-.9 .8,0 .9,.8 .8-.4 .9-.2 .8,.1 .9-.7 .8-.2 .9,.6 .8-.1 .9,.9 .8,.5 .9,0 .9-.8 .8-.3 .9,.9 .8-.8 .9-1.2 .8,1.5 .9-1 .8-1.4 .9,1.3 .8-.8 .9-.2 .8,1.2 .9-1.6 .8,.3 .9,1.7 .8-1.5 .9,.7 .8,.7 .9-1.2 .8-1.9 .9,.9 .8,1.8 .9-1.2 .8-.1 .9,1.4 .8-.3 .9-1.1 .8,0 .9-.8 .8-.5 .9,.5 .8,.5 .9,1.1 .8,.3 .9-1 .8,.2 .9,.1 .8,.3 .9-1.1 .8-2.3 .9,1.4 .8,1.3 .9-.1 .8-.7 .9-.5 .8,.9 .9,.5 .8-.1 .9,.6 .8-.4 .9-.3 .8,.1 .9-.6 .8-.5 .9,.1 .8,.1 .9,.7 .8,.3 .9-.6 .8,.3 .9-.2 .9-.6 .8,1.6 .9,.4 .8-.4 .9-.6 .8,.3 .9,1.7 .8-.3 .9-2 .8-.3 .9,1.2 .8-.6 .9,1.4 .8-.1 .9-1.9 .8-.1 .9-.2 .8,.1 .9,.7 .8,0 .9-.3 .8-1.7 .9,0 .8,1.3 .9,.7 .8,.7 .9-1.6 .8,.3 .9,1.8 .8-.8 .9-.4 .8-1.6 .9,1.5 .8,1.2 .9-2.3 .8,1.1 .9,1 .8-1.2 .9-1.7 .8,1 .9,2.4 .8-1.4 .9-2.4 .8,1 .9,2.8 .8-1.3 .9-1.6 .8,.3 .9-.2 .8,1.2 .9,.3 .8-1.5 .9-1.4 .8,2.7 .9,1.8 .8-3 .9-.4 .8,2.4 .9-.3 .8-1 .9,.1 .8,.2 .9,.2 .9-.1 .8-.5 .9,.3 .8,.4 .9-.5 .8-1.2 .9-.4 .8,1 .9-.1 .8-.4 .9-.5 .8-.1 .9-.6 .8-.6 .9,1.3 .8,1.4 .9-.8 .8-.7 .9,.7 .8,1.5 .9,1.2 .8-1.4 .9-2 .8-.4 .9,1.5 .8-.3 .9-.6 .8,.4 .9-.8 .8,.8 .9,.6 .8,.8 .9,.1 .8-.4 .9-1.2 .8-1.7 .9-.7 .8-.6 .9,.7 .8-.5 .9-1 .8-1.2 .9-1.9 .8-.8 .9-2.5 .8-4.8 .9-5.2 .8-6.7 .9-5.1 .8,2.7 .9,7 .8,7.1 .9,4.2 .8,1.7 .9,3.6 .8,.8 .9-1.1 .8,1.4 .9,1.3 .8,.5 .9-.7 .9,.6 .8,.9 .9-2.7 .8-.3 .9,1 .8-.1 .9,.9 .8-.6 .9-1.9 .8-.3 .9-1.1 .8-2.6 .9-.3 .8,3.1 .9,2.6 .8,.9 .9-1 .8-1.4 .9,.5 .8,1.2 .9,1.5 .8-.8 .9-1 .8,.6 .9-.2 .8-1.2 .9-.1 .8,1.4 .9,1.9 .8-.5 .9-1.7 .8,.1 .9,.4 .8,.4 .9-.9 .8-.5 .9,.4 .8,.7 .9,.5 .8-.9 .9,.3 .8,1 .9-.5 .8-1.9 .9-.5 .8-.2 .9,.2 .8,1.3 .9,.9 .8,.2 .9-2.2 .8-.8 .9,.5 .8-.3 .9,.5 .8,.6 .9-.1 .8-.7 .9-.3 .8,0 .9,.2 .8,.9 .9,.3 .9,.1 .8-1 .9,.8 .8,.9 .9-3.5 .8,0 .9,2.6 .8-.3 .9-1.9 .8,.1 .9,.4 .8-.3 .9,.7 .8-2.4 .9-.4 .8,2.7 .9,.4 .8-.8 .9-.8 .8-.4 .9,.1 .8,1.6 .9-.5 .8-1 .9,.4 .8,.7 .9-.1 .8-.9 .9-.8 .8,0 .9-.7 .8-2.1 .9,0 .8-.2 .9-.5 .8-.9 .9,1.9 .8,1.6 .9,0 .8,.4 .9-1.6 .8,.3 .9,.6 .8,0 .9-1.5 .8-1.7 .9,.2 .8,1 .9,.8 .8-2.9 .9-1.9 .8,.3 .9-.3 .8,1.6 .9,.7 .8,0 .9,.9 .8,1.1 .9,.3 .8,.3 .9-.2 .9-1.2 .8,0 .9,.5 .8,.3 .9,2.4 .8-.2 .9-1.9 .8,.5 .9,0 .8,1.1 .9,.1 .8-1.7 .9-1.5 .8,.9 .9,1.6 .8-1.7 .9-.1 .8-.6 .9-.8 .8,2.1 .9-.9 .8-2.1 .9,1.7 .8-.1 .9-1.1 .8-.2 .9-.1 .8,2.1 .9-1 .8-2.2 .9-1.6 .8-1 .9,.6 .8,.9 .9,.3 .8-.8 .9-.7 .8-1.2 .9,0 .8-1.9 .9-3.6 .8-3.3 .9-1.7 .8,2.1 .9,.8 .8,1.8 .9,2.4 .8,2.1 .9-.1 .8-.5 .9,3.1 .8,1.5 .9-.7 .8,.3 .9,1.2 .8,1.7 .9,1.4 .8-.1 .9-.5 .8,1.3 .9,2.1 .8-.9 .9,.4 .9,.6 .8-.4 .9,.7 .8-.6 .9,.6 .8,1.2 .9,1.7 .8,1.6 .9-.7 .8-1.3 .9-.2 .8-.3 .9,1.2 .8,1.9 .9-.3 .8,.3 .9,1 .8,1 .9-.8 .8,.1 .9,.4 .8,.3 .9-.4 .8-.3 .9,.2 .8,.5 .9,1 .8-2.1 .9,.3 .8,.9 .9-.2 .8,1.8 .9-.6 .8-2 .9,1.1 .8-.1 .9-.2 .8,1.2 .9-.6 .8-.2 .9-1.7 .8,.7 .9,1.2 .8-1.9 .9,2 .8,2.1 .9-1.9 .8-.9 .9,.1 .8-1.2 .9,.6 .8,1.7 .9,1.8 .8-.9 .9-1.4 .8-.1 .9-.8 .8,1.3 .9-1.1 .8-1.9 .9,.7 .9,1.7 .8,1 .9-.5 .8,0 .9,.5 .8-.6 .9-1.1 .8,.1 .9,.6 .8-.7 .9-.5 .8,3 .9,.7 .8-2 .9-1.3 .8,.2 .9,1 .8,.3 .9-.7 .8-.2 .9,1 .8,.2 .9-.9 .8-.1 .9,1.7 .8-.9 .9-.7 .8,.2 .9-.8 .8-.7 .9-.5 .8,1.4 .9,.9 .8,.6 .9-1.4 .8-1.3 .9,.2 .8,.6 .9,2.6 .8-1.4 .9-1.6 .8,1 .9,.1 .8-.4 .9-.4 .8,1.7 .9-.4 .8-.8 .9,1.2 .8-1.7 .9-1.1 .8,1.6 .9,2.1 .8-.4 .9-1.8 .8,.2 .9,1.4 .8,.5 .9,0 .8-.8 .9-1.5 .8-.7 .9,1.2" fill="none" stroke="#f0604c" stroke-width="2.1" stroke-linejoin="round" />
<path d="M1536.6,295.9l.9,.1 .8,1.8 .9,1.9 .8,.5 .9,2.3 .8-.1 .9,1 .8-.9 .9,.1 .8,.2 .9,.8 .8,1.7 .9,.2 .8,2.3 .9-1.4 .8-2.2 .9,1.7 .8-.4 .9-.5 .8,1.3 .9-1.3 .8-.5 .9,2.6 .8-1.1 .9-2.7 .8,2.4 .9,1.8 .8,1.5 .9,.4 .8-2.5 .9-1.2 .8,2 .9,.2 .8-3.1 .9-.3 .8,2.4 .9-1.9 .8-1.3 .9,1.4 .8,1.2 .9,1.7 .8,.5 .9-1.4 .8-1.4 .9-1.3 .8-1.4 .9-.6 .8-.8 .9-.2 .8,1.2 .9-.8 .8-.3 .9,1.7 .8,.4 .9,1.4 .8,1.4 .9-1 .8-1.2 .9,.7 .8-.4 .9-.5 .8,1.8 .9-.4 .9-3.3 .8,.7 .9,.8 .8-2.4 .9-.5 .8,2.4 .9-.7 .8-1.1 .9,2.4 .8,.3 .9-1.1 .8-.5 .9,.7 .8-1.7 .9,.3 .8,2.3 .9-2.4 .8-2.8 .9-1.5 .8,.7 .9-.5 .8-1.1 .9,.4 .8,2.9 .9,2.4 .8-.7 .9,2.3 .8,.6 .9-3 .8-.2 .9,2.1 .8-1.5 .9-2 .8-.1 .9,2 .8,1.2 .9-2.1 .8,.6 .9,2.1 .8-1.8 .9-2.6 .8,2.2 .9,4.8 .8,.3 .9-1.8 .8-1.5 .9-1.9 .8,0 .9,1.5 .8-.4 .9,.3 .8,.3 .9-.4 .8-3.1 .9-1.7 .8,4 .9,2 .8-.4 .9,.7 .8,.3 .9-1 .9-1.9 .8-.3 .9,1.9 .8,1 .9,.4 .8-1.4 .9-1.1 .8-1.4 .9,.4 .8,.1 .9-1 .8,1.2 .9,2.6 .8,1.4 .9-3.1 .8-3.1 .9,.6 .8,.8 .9,.6 .8,1.3 .9,.3 .8-1.5 .9-1.2 .8,1.4 .9,.7 .8-.9 .9-.7 .8,1.6 .9-1.6 .8-1.3 .9,2 .8-1.4 .9-1.2 .8,1.8 .9,.5 .8,1.1 .9,1.4 .8,1.3 .9-2.1 .8-.4 .9,.6 .8-1.3 .9,1.9 .8-.7 .9-1.4 .8-1 .9-1.7 .8,.3 .9,1 .8,1.1 .9,.1 .8-.8 .9,1.3 .8,.3 .9-.5 .8-.3 .9-.6 .8,.8 .9,1.3 .8-1.5 .9,1.1 .8,1.5 .9-3.7 .9,2.4 .8,2.5 .9-3.9 .8,1.1 .9-2.2 .8,1 .9,1.3 .8-4.8 .9,.6 .8,2 .9,.6 .8,.7 .9-.5 .8,.2 .9,1.2 .8-2.5 .9,.9 .8,1.5 .9-1.5 .8,1.1 .9-1.2 .8-2 .9,2.9 .8,.4 .9-1 .8,.5 .9-1.2 .8-.1 .9-1.3 .8-.3 .9-.4 .8-1.2 .9-.3 .8,.1 .9,1 .8,0 .9-2 .8-3.2 .9-2.8 .8-1.7 .9,.5 .8-.4 .9-2.9 .8-4 .9-6.5 .8-8.6 .9-7.5 .8-9.3 .9-9.4 .8,1.8 .9,11.5 .8,9.1 .9,7.9 .8,6.9 .9,3.6 .8,4.3 .9,0 .8,.2 .9,2.3 .8-.1 .9-1.3 .9-.7 .8,.7 .9,1.6 .8-.3 .9-.7 .8-1.3 .9-3.2 .8-1.2 .9-4.2 .8-3.8 .9-1.9 .8-2 .9,1.6 .8,2.3 .9,2 .8,5.4 .9,2 .8-.8 .9,1 .8,.7 .9,2.8 .8,2.1 .9-3.5 .8-1.7 .9,3.6 .8-.1 .9-.9 .8,3 .9,2.9 .8,.3 .9-2.4 .8-1.4 .9,1 .8-.1 .9-.7 .8,2.9 .9,1.3 .8-1.3 .9,1.2 .8-.1 .9-1.2 .8-.2 .9,1.6 .8,.4 .9-3.9 .8,.7 .9,4.3 .8-1.5 .9-2.6 .8-.2 .9,1.9 .8-.6 .9-.4 .8,2.3 .9-.3 .8-1.2 .9-1.7 .8-.9 .9,.7 .8-.5 .9-.3 .8-.2 .9,1.5 .9,2.6 .8-2.7 .9-.4 .8,1 .9-1.7 .8,0 .9,.1 .8-2.4 .9,2.1 .8,.3 .9-5.8 .8,.7 .9,2.3 .8-1.1 .9-2.5 .8,1.9 .9,1.6 .8-1.5 .9-.9 .8-.8 .9-.6 .8,.2 .9,.1 .8-.4 .9,.1 .8-1.5 .9-1.7 .8-.1 .9-3.5 .8-3.1 .9,.9 .8-4.2 .9-3.8 .8-1.9 .9-2.2 .8,.8 .9,1.3 .8,2.7 .9,1.7 .8-2 .9,3.1 .8,2.4 .9-3.2 .8,.8 .9,1.3 .8-4.7 .9-2.6 .8-1.9 .9-3.7 .8-.9 .9-3.2 .8-2.7 .9-.5 .8,2.6 .9,4.4 .8,3.2 .9,1 .8,1 .9,4 .8,2.7 .9-.8 .9,.5 .8,1.3 .9,.7 .8,.2 .9-1.3 .8-1.3 .9,.7 .8-1.1 .9,.2 .8-1.1 .9-1.2 .8,3.2 .9,1.8 .8,3.9 .9-.4 .8-3.3 .9-2.4 .8,1.8 .9,.1 .8-1.3 .9,1.3 .8,2.6 .9,.6 .8-2.6 .9-.7 .8-.6 .9,1.8 .8-1.2 .9-2.4 .8,0 .9-.8 .8-1.1 .9,.5 .8,2.1 .9,.5 .8-4.4 .9-4.1 .8-.7 .9-1.3 .8-3 .9-3.8 .8-2.6 .9-.9 .8-2.7 .9,1.2 .8,7 .9,6.3 .8,4.7 .9,1.8 .8,2 .9,4.1 .8,3.4 .9,2.2 .8,3.2 .9-.3 .8-.4 .9-.1 .8,2.4 .9,4 .8-1 .9,1 .8,3.4 .9,1.6 .9-.9 .8-.8 .9,.9 .8-.1 .9-.7 .8,1.4 .9,1.6 .8,1.2 .9-.1 .8-.9 .9,1 .8,.9 .9,.8 .8,2.5 .9,1 .8-2.2 .9-1.5 .8-.7 .9,.5 .8,1 .9-1.4 .8-.1 .9,2.3 .8,1.5 .9-.8 .8,1 .9-.3 .8-2.2 .9,1.1 .8-1 .9-.1 .8,2.5 .9,0 .8,.6 .9-.6 .8-.8 .9-1.4 .8-.6 .9,1.4 .8,1 .9,2.2 .8-.1 .9-.6 .8-1.1 .9-.9 .8-.7 .9-.9 .8,1 .9,.6 .8,.8 .9-.4 .8-.8 .9,1.6 .8,.5 .9-3.7 .8,.7 .9,3.3 .8,.7 .9,1.4 .8-2.1 .9-1.7 .9,1.1 .8-2 .9-2.5 .8,3.1 .9,1.7 .8-1.7 .9,.8 .8,.2 .9,.5 .8-1.2 .9-.7 .8,1.4 .9-.7 .8-.6 .9,.9 .8,.7 .9-1.5 .8-.1 .9,2.1 .8,1.6 .9,.3 .8,.2 .9-.5 .8-1.5 .9,2.5 .8,.3 .9-3 .8-.2 .9,1.9 .8-1.3 .9-.3 .8,2.9 .9,.4 .8-1.3 .9-2.4 .8-1.3 .9,.9 .8,2.7 .9,1 .8-.3 .9-.6 .8,1.1 .9-.4 .8-2.7 .9,.3 .8,.2 .9,.9 .8,2.2 .9-.3 .8-3 .9-1.9 .8,1.8 .9-.1 .8-.2 .9-.3 .8-1 .9,2.3 .8-.4 .9,.4 .8,2 .9,.8 .8-1.4 .9-1.6" fill="none" stroke="#1414ee" stroke-width="2.1" stroke-linejoin="round" />
<path d="M1536.6,254.5l.9,1.8 .8-1.4 .9,.2 .8,2.6 .9,2 .8,.1 .9,0 .8-.9 .9,1.7 .8,1.2 .9-1.4 .8,.4 .9,.5 .8-.6 .9,.3 .8,.8 .9,0 .8-.9 .9,2.3 .8,.5 .9-1.6 .8,1.5 .9,.6 .8,1.5 .9-.6 .8-1.2 .9-.9 .8,.7 .9-.9 .8-1.7 .9,1.5 .8,.8 .9,.5 .8,.3 .9-.3 .8-1.2 .9-.5 .8,1.3 .9,0 .8-.6 .9-.6 .8-2.7 .9-.6 .8,2 .9,2 .8,.9 .9-.1 .8-2.1 .9-1 .8,.4 .9-.2 .8-.2 .9-2.1 .8,.6 .9,1.5 .8,0 .9-1.3 .8,0 .9,1.8 .8,.2 .9,.1 .8-2 .9-3.9 .9,1.2 .8,1.4 .9-1.4 .8,1.8 .9,.4 .8-1 .9,.2 .8-2.2 .9,1 .8,1.3 .9-2.3 .8,.7 .9,0 .8-1.5 .9-.2 .8,.3 .9-.7 .8,2.2 .9-.9 .8-4.3 .9,.3 .8,1.1 .9,2.1 .8,.9 .9-.7 .8,.3 .9-1.8 .8,0 .9,.9 .8,1 .9-.2 .8-2 .9,.4 .8,.7 .9-2.6 .8,.3 .9,2.7 .8-.5 .9-2.3 .8-2.8 .9,.7 .8,2.6 .9,.6 .8-1.8 .9,.4 .8-.5 .9-2.3 .8,1.2 .9,.7 .8-.7 .9-1 .8,1.6 .9,.3 .8-.7 .9,1.7 .8-.5 .9-.6 .8,1 .9,1.2 .8-.1 .9-3 .9-2.8 .8,.6 .9,.7 .8,1 .9,1.2 .8-.9 .9,.9 .8,1.2 .9-1.2 .8-.7 .9,1 .8-.8 .9-.8 .8-.7 .9-.3 .8,1.2 .9-.2 .8-.2 .9,.7 .8,.2 .9-1.5 .8-1 .9-.6 .8,2.2 .9,1.5 .8-1.3 .9-.6 .8,0 .9,.6 .8-1.3 .9-.7 .8,1.8 .9-1.2 .8-2.1 .9,1.7 .8,.1 .9,.1 .8-.4 .9-.5 .8,1.7 .9,.1 .8-.1 .9-.6 .8-1 .9,.1 .8,.6 .9,3.5 .8-.7 .9-1.8 .8-.2 .9-2.9 .8-.1 .9,1.3 .8,.4 .9-.4 .8,.3 .9,.4 .8,.2 .9-1.7 .8-1 .9,.1 .8,.2 .9,.7 .9-.1 .8-.5 .9-1.1 .8,.2 .9,1.3 .8,.9 .9-2.4 .8-.5 .9,1.7 .8-1.8 .9-1.4 .8,.8 .9,1.3 .8-1.9 .9-.9 .8,1.6 .9,.4 .8,1.7 .9,1 .8-1.9 .9-1.8 .8,.5 .9,1.3 .8,.9 .9-1 .8-.1 .9-1.4 .8-2.8 .9-2.1 .8,0 .9,2.9 .8,1.3 .9,2.4 .8-.7 .9-3.6 .8-2.1 .9-1.4 .8-.5 .9-.6 .8-1.3 .9-2.8 .8-.4 .9-1.1 .8-3.6 .9-7.6 .8-10.7 .9-10.1 .8-9.7 .9-6.8 .8,2.5 .9,11 .8,11.2 .9,8.2 .8,6.2 .9,3.7 .8,2.1 .9,2.9 .8,1.6 .9,1 .8-.4 .9,.1 .9,.6 .8-.1 .9,1.4 .8-1.8 .9-1.3 .8-1.1 .9-3.2 .8-.6 .9-2.7 .8-6.5 .9-6.5 .8-3.6 .9-.2 .8,4.5 .9,6.4 .8,4.9 .9,3.3 .8,2.5 .9,1.8 .8-.3 .9,.6 .8,1.3 .9,1.3 .8-.6 .9-1.4 .8,.4 .9,1.2 .8-.5 .9-2.7 .8,1.1 .9,2.2 .8-.5 .9,2.9 .8,.3 .9-1.7 .8-1.2 .9-.5 .8,2.1 .9-.1 .8-.9 .9,.2 .8,.2 .9,.7 .8,.1 .9-2.1 .8-2.2 .9,0 .8,1.5 .9-.5 .8-.8 .9-.5 .8-.2 .9,1.6 .8,.7 .9-.4 .8-.2 .9-.1 .8,.9 .9,2.1 .8-.2 .9-.2 .8-.9 .9-2.1 .9,1.6 .8-.8 .9-2.6 .8,.4 .9-.9 .8-1.9 .9,2.6 .8,.6 .9-1.8 .8,.4 .9-.7 .8,.9 .9,1.2 .8-.1 .9-.2 .8-.9 .9,.3 .8,.6 .9-2.3 .8-1.4 .9-.3 .8,1.2 .9,.5 .8-2 .9-1.7 .8-1 .9-2.3 .8-2.2 .9-1.4 .8-2.9 .9-4.3 .8-4.1 .9-5.3 .8-5 .9-.6 .8,2 .9,3.3 .8,3.3 .9,3.1 .8,3.3 .9,1.8 .8,1.3 .9,0 .8-.1 .9,2.4 .8-2.8 .9-4.4 .8-.9 .9-4.3 .8-6 .9-8.1 .8-5 .9,4.1 .8,4.6 .9,4.9 .8,4.1 .9,4.9 .8,7 .9,1.2 .8-.3 .9,1.6 .9,2.4 .8-.3 .9-3.3 .8,2.3 .9,.6 .8-1.3 .9-1.3 .8-1.1 .9,2.2 .8-.9 .9-.9 .8,1.3 .9-.5 .8-.5 .9,2.1 .8-2.8 .9-1.8 .8,2.1 .9-1 .8,.4 .9,1.2 .8-1.4 .9-1.3 .8-1 .9-2.1 .8,0 .9,.1 .8-1.7 .9,.9 .8-.4 .9-1 .8-1.8 .9-2.4 .8-.4 .9,.2 .8-1.9 .9-2.8 .8-3.3 .9-3.9 .8-2.3 .9-5 .8-5 .9-.6 .8-.2 .9,2.4 .8,6 .9,5.1 .8,6 .9,5.6 .8,4 .9,2 .8,1.7 .9,4.6 .8,2.3 .9,2 .8,3.1 .9,.8 .8,1.6 .9-.2 .8,1.2 .9,4.5 .8-.2 .9,0 .9,2.2 .8,2.9 .9-.9 .8-3.2 .9,.5 .8,.2 .9-.5 .8,1.2 .9,1 .8,1 .9,1.4 .8-1.4 .9-.5 .8,2.5 .9,.2 .8-.9 .9,1.3 .8-.4 .9-.2 .8,2 .9,.8 .8-3 .9,.5 .8,1.6 .9-1.9 .8-.3 .9,1.9 .8,1 .9-1.2 .8-1 .9,.8 .8,1.9 .9-1.5 .8-2.1 .9,.6 .8,1.7 .9-.1 .8-.6 .9-.4 .8,1.3 .9,.7 .8-1 .9,1.1 .8-.3 .9-1.1 .8,.6 .9-.3 .8,1 .9,.4 .8-1.8 .9-.3 .8-.6 .9,1.4 .8,2.5 .9-1.4 .8-1.8 .9-1.8 .8-.2 .9,2.9 .8-.2 .9,0 .9,2.1 .8-3.2 .9-1.8 .8,1.8 .9-.2 .8-1.1 .9,.3 .8,.6 .9,1.2 .8,2.5 .9-2.4 .8-2.7 .9,.8 .8,1.2 .9,.3 .8,.9 .9-1.3 .8-1.3 .9,.9 .8,.3 .9-.6 .8-.1 .9,.3 .8,1.5 .9,.2 .8-3.2 .9,1 .8,2.1 .9-1.3 .8-1.1 .9,.2 .8,2.4 .9,.1 .8-.4 .9,1.2 .8-1.7 .9-.6 .8-.3 .9-3.3 .8,0 .9,2.3 .8,1.5 .9,1.3 .8,.1 .9-.2 .8,0 .9,0 .8-.9 .9,.3 .8,1.1 .9,.3 .8-1.9 .9-1.4 .8-.6 .9-1 .8,1.2 .9,.3 .8,.9 .9-1.6 .8-2.6 .9,2.3 .8,2.2 .9-.7" fill="none" stroke="#ff2222" stroke-width="2.1" stroke-linejoin="round" />
<path d="M1536.6,180.3l.9,2.8 .8-1.9 .9,7.4 .8-.6 .9-7.4 .8,5.7 .9-2.6 .8-2.8 .9,2.6 .8,2.6 .9-8.1 .8,5.7 .9,3.9 .8-4.2 .9,1.3 .8,4.8 .9-3.6 .8,1 .9,6.9 .8-6.9 .9,.4 .8,.6 .9,4.6 .8-5 .9-1.2 .8-.6 .9,4.8 .8-6.9 .9,7.2 .8-3.9 .9-5.9 .8,7.7 .9-.7 .8-6.2 .9,5.6 .8-.3 .9-2 .8-3.3 .9,12.6 .8-5.4 .9,.7 .8,.3 .9-.9 .8-.1 .9-4.5 .8,4.6 .9-3.9 .8-1.1 .9,4.3 .8-3.3 .9-5.9 .8,5.1 .9,3.6 .8-2.2 .9,3.2 .8-4.6 .9-2.3 .8,6.4 .9-2.3 .8-5.2 .9,6.2 .8-2.7 .9,4.7 .9-.9 .8-1.2 .9-10.2 .8,9.7 .9,.4 .8,.1 .9-1.5 .8-3.1 .9,1.7 .8-7.1 .9,6.9 .8-4.7 .9,4.4 .8-1.3 .9,7.7 .8-5 .9-.3 .8,.7 .9,7.1 .8-11.5 .9,4.8 .8,.1 .9-.7 .8-.1 .9-2.5 .8,6.3 .9-1.3 .8-4.6 .9,.5 .8,1.9 .9,.7 .8,.9 .9-2.9 .8-4.7 .9,8.4 .8-9.8 .9,2.5 .8,4.9 .9-4.7 .8,8.4 .9,1 .8-1.7 .9-3.4 .8-.3 .9,.7 .8-2.4 .9,8.4 .8-10 .9,7.2 .8-2.9 .9-.9 .8,2.7 .9,.8 .8-1.4 .9-3.8 .8-2.3 .9,0 .8,5.9 .9-.8 .8,.4 .9-5.2 .9,9.3 .8-12.3 .9,6.4 .8,1.1 .9-4.3 .8-2.6 .9,2.5 .8-2.7 .9,3.4 .8-4.1 .9-.1 .8,5 .9-5.9 .8,4.8 .9,.2 .8,3.8 .9-2.4 .8-4.1 .9,7.8 .8-7.4 .9,1.1 .8,.2 .9,9.3 .8-7.9 .9-2.9 .8,5.2 .9-3.2 .8,9.2 .9-11.5 .8,5 .9-5.8 .8,10.1 .9-9.6 .8,3.5 .9-4 .8,6.5 .9-1.2 .8-10.8 .9,11.5 .8-.5 .9-1.7 .8,2.7 .9-8.3 .8-2.1 .9,9.1 .8,3.8 .9-11 .8,.2 .9,1 .8-1.3 .9,7.6 .8-2.7 .9,4.5 .8,.1 .9-9.1 .8,6.2 .9-11.2 .8,8.3 .9,2.6 .8-5.4 .9-3.9 .8,4.9 .9,6.4 .9-6.1 .8-3.8 .9,7 .8,1 .9-6.8 .8,3.2 .9,4.6 .8-2.7 .9,1.3 .8-4 .9,.6 .8-3.9 .9,1.6 .8,8.5 .9-7.5 .8-1.9 .9,1.6 .8-2.3 .9,5.9 .8,1.5 .9-7.2 .8,7.4 .9,4.1 .8-12.1 .9,6.5 .8-1.6 .9,4 .8-.4 .9-.7 .8-3.2 .9-2.8 .8,9.9 .9-11.6 .8,7.1 .9-.7 .8-6.7 .9,2.5 .8,5.2 .9-13 .8,9.7 .9-4.8 .8-.5 .9-5.6 .8,5.5 .9-7.5 .8,3.6 .9-11 .8,2.7 .9-4.1 .8-7.3 .9,9.9 .8,4.9 .9-4.9 .8,9.3 .9,5.9 .8-4.8 .9,7.9 .8-8.3 .9,.1 .8,6.9 .9,.3 .9-2.9 .8,.6 .9,3.7 .8-5.9 .9,9.7 .8-6.3 .9-.4 .8-1 .9-2.9 .8,4.8 .9-7.9 .8,2.1 .9,2 .8,3.6 .9,.3 .8-5.1 .9,5.5 .8-3.5 .9-3.6 .8,.2 .9-1.9 .8,6.9 .9,2.9 .8-8.1 .9,2.6 .8-3.2 .9,4.2 .8-4.3 .9,1.4 .8,.6 .9,.9 .8,.5 .9,.6 .8,.1 .9-2.9 .8,5.6 .9-8.4 .8,6.9 .9-4.1 .8,4 .9,.5 .8-8.6 .9,8.8 .8,3.6 .9-2.1 .8-1.5 .9-9.4 .8,7.3 .9-2.7 .8,7.2 .9-5.1 .8-1.2 .9-4.3 .8,9.3 .9-4.9 .8,1.1 .9,5 .8-3.8 .9,.8 .8,7.8 .9-11.1 .8,.2 .9,3.7 .9,3.3 .8-10.6 .9,4.5 .8-2.9 .9-1.5 .8,7.2 .9-5 .8,3.9 .9-.7 .8,0 .9-.4 .8-4.2 .9,3.7 .8,.9 .9,.4 .8-2.4 .9,4.6 .8-1.5 .9-1.8 .8,1.8 .9-1.8 .8,1.8 .9-10 .8,2.3 .9,3.2 .8,1.6 .9-8.7 .8,6.6 .9,1.1 .8-2.1 .9-.8 .8-5.2 .9,4.4 .8-8.9 .9,10.9 .8-5.6 .9,7.1 .8-9.7 .9,8.9 .8-.5 .9-3.3 .8-1.1 .9,9 .8-2.9 .9,3.8 .8-6.1 .9,.5 .8,.3 .9,.4 .8-2.2 .9,.3 .8-5.5 .9-3.7 .8,13.7 .9-5.8 .8,2 .9-2.8 .8,5.9 .9-2.7 .8,3.6 .9-6.4 .9,2.4 .8,1 .9-2 .8,2.4 .9,4.9 .8-8.1 .9,1.1 .8,1.7 .9-4.3 .8-.9 .9,8.7 .8-1.2 .9-8.8 .8,.5 .9,8.1 .8,1.7 .9-2.1 .8-.6 .9,4.1 .8-6.1 .9,4.9 .8-.4 .9-8 .8,5.9 .9-2.4 .8-2.7 .9-.8 .8,4.2 .9-1.6 .8,3 .9-9.9 .8,3.8 .9,6.3 .8-4.6 .9-3.2 .8,.2 .9-5.9 .8,.7 .9,6 .8-3.1 .9,3 .8-7.1 .9-.6 .8-9.8 .9,10.4 .8,9.4 .9-3.9 .8-1.5 .9,6.5 .8-.3 .9-.9 .8-1.8 .9,2.6 .8,3.4 .9-5.8 .8,5.5 .9,.3 .8,3.7 .9-1.9 .8-5 .9,8.9 .8-5.5 .9-2.7 .9,4.4 .8-2 .9,5.4 .8-8.9 .9,1.1 .8,3.5 .9,7.8 .8-2.5 .9-7.3 .8-2.6 .9,5.6 .8-3.4 .9,7.1 .8-1.4 .9-.5 .8-1.5 .9,7.5 .8-9.2 .9-1.4 .8,9.4 .9,.8 .8-6.3 .9,3.8 .8,6.5 .9-11.9 .8,2.5 .9,2.5 .8-9.7 .9,7.5 .8,3.4 .9-3.2 .8,4.4 .9-1 .8-4.3 .9,3.6 .8-.4 .9-7.9 .8,3.1 .9,.3 .8,1 .9,.3 .8-3.7 .9,5.6 .8-7 .9,10.6 .8-2.6 .9,4.3 .8-3.8 .9-3.2 .8-3.5 .9,8 .8-2.5 .9,1.4 .8,1.5 .9,1.7 .8-4.7 .9,6.8 .8-6.9 .9,.4 .8,2.6 .9,1.3 .9,1.5 .8-12.2 .9,12.1 .8-10.9 .9,3.6 .8,3.7 .9,3 .8-8.2 .9-2.6 .8,10.1 .9-2.4 .8-5.1 .9,2.8 .8-6.3 .9,9.7 .8-4.1 .9,6.7 .8-12.5 .9,10.6 .8,5.6 .9-7.8 .8,.1 .9-7.8 .8,8.6 .9-1.3 .8-2.2 .9-3.7 .8,6.2 .9-4.1 .8,1.9 .9,3.1 .8-1.4 .9,.2 .8,3.6 .9-8 .8,9.8 .9-9.6 .8,.8 .9,4 .8,2.5 .9-2 .8-2.6 .9-1 .8,1.7 .9-2.6 .8,5.8 .9-3 .8,6.8 .9-8.8 .8,2.4 .9,2.1 .8-5.9 .9,1.7 .8,13.3 .9-10.8 .8,5.6 .9-9.4 .8-5.4 .9,11.3 .8-2.2 .9,1.2 .8-2.2 .9-1.1" fill="none" stroke="#3c88c0" stroke-width="2.1" stroke-linejoin="round" />
<path d="M1536.6,149.7l.9,1.2 .8,.1 .9-.7 .8,1.9 .9,.3 .8-.3 .9,1.9 .8,2.7 .9-.1 .8,.6 .9-.1 .8-3.9 .9,.1 .8,1 .9,.3 .8,.4 .9-1.1 .8,.4 .9-1 .8-1.9 .9,.4 .8,1.7 .9,1.3 .8-.5 .9-.8 .8-.3 .9-.2 .8-.9 .9,2 .8,2.2 .9-3.1 .8,.1 .9,1.8 .8-.1 .9,.6 .8-.4 .9-4.1 .8-1.1 .9,3.8 .8,2.2 .9-.8 .8-2 .9,.5 .8,1.8 .9-1.8 .8-1.7 .9,1.3 .8,2.2 .9,1.2 .8-.4 .9,.7 .8-1.6 .9-1.7 .8,.3 .9-2.6 .8-.8 .9,3.2 .8,.4 .9-2.5 .8,1.7 .9,2.3 .8-.7 .9,.7 .9-1.7 .8,.9 .9,2.7 .8-2.3 .9-.9 .8-.5 .9-.5 .8,.4 .9-.9 .8,2 .9,1.2 .8-1.5 .9-.1 .8-1 .9,1.1 .8,.9 .9-1.8 .8-1.1 .9,1.6 .8-1.8 .9-3.2 .8,3.7 .9,2.1 .8-4.2 .9-.5 .8,2.4 .9,1.1 .8,.8 .9,0 .8,0 .9-1.1 .8-.1 .9,1.2 .8,.9 .9-.5 .8-.3 .9,.1 .8-2 .9-.6 .8,.5 .9,0 .8,.5 .9,.5 .8,.4 .9-1 .8,.8 .9-.6 .8-1.2 .9,2.2 .8,.5 .9-.1 .8-.7 .9,.1 .8-1.1 .9,.1 .8,3.6 .9-.1 .8-.3 .9-.8 .8-3.2 .9-.8 .9,2.5 .8,1.5 .9-3.3 .8-1.2 .9,1.9 .8-.8 .9-2.6 .8-.3 .9,2.4 .8,1 .9-.5 .8,1 .9,1.8 .8-.8 .9-.1 .8,.1 .9-1.2 .8-2.5 .9,1 .8,2.6 .9-.8 .8-.6 .9-1.3 .8,.9 .9,2 .8,1.2 .9,.1 .8-2.4 .9-1 .8,1.6 .9,.4 .8-1.1 .9-1 .8,.7 .9,.7 .8,1.3 .9,1 .8-3.7 .9,1 .8,2.1 .9-2.6 .8,0 .9,1.1 .8-.4 .9-.9 .8,0 .9,2 .8,0 .9-1.1 .8,.4 .9-1.2 .8-1.3 .9-.7 .8,1.2 .9-.1 .8-1.8 .9-.2 .8-.3 .9,1.3 .8,1.7 .9-1.1 .8,1.2 .9,.6 .9-.9 .8,.6 .9,1.3 .8,.5 .9-1.9 .8-1.9 .9-1.1 .8,1 .9,1.2 .8,.7 .9-.6 .8-.7 .9-.2 .8-2.2 .9,.6 .8,3.4 .9,.9 .8-.1 .9,.3 .8-3 .9-1.6 .8,3 .9-.5 .8-3.1 .9,1.1 .8,1.9 .9-.1 .8-1.1 .9-1.1 .8-1.1 .9-.7 .8-.1 .9-.4 .8,.4 .9,2.9 .8,.6 .9-2.2 .8-.1 .9-1.1 .8-.5 .9,1.2 .8-2.8 .9-3 .8-.5 .9-2.8 .8-4.5 .9-4.3 .8-1.8 .9-2.2 .8-.5 .9,5.3 .8,4.4 .9,1.7 .8,3.5 .9,4.3 .8-1.4 .9,.2 .8,4 .9-.3 .8-1.4 .9,1.2 .9-.3 .8-.2 .9,1.8 .8-.8 .9-1.9 .8,.6 .9,0 .8-1.1 .9-3.5 .8-.6 .9,.2 .8-1.6 .9,1.8 .8,.3 .9,.2 .8,.4 .9,1.3 .8,2.4 .9,1.2 .8-1.1 .9-1.1 .8-1 .9,.1 .8,.2 .9-1.3 .8,.8 .9,3.3 .8,1.5 .9,.1 .8-2.8 .9-.5 .8,.5 .9-1.5 .8-.4 .9-.5 .8,2 .9,1.3 .8-.2 .9-.4 .8,.6 .9,.2 .8-2.3 .9,1.8 .8,1.4 .9-.9 .8,.1 .9-1.9 .8,.2 .9,0 .8,1.7 .9-.4 .8-1.1 .9,.5 .8-.9 .9,3.4 .8,1 .9-3 .8-2.5 .9-.1 .8,1.3 .9,1.8 .8-1.3 .9-3.5 .9,1.5 .8,2.1 .9,1.7 .8-1.2 .9-4.6 .8,.1 .9,1.5 .8,.2 .9,2.3 .8-.9 .9,.2 .8,1.6 .9-1.6 .8-1.3 .9-.2 .8,.5 .9,1.2 .8,1.7 .9-1 .8-.7 .9,1.3 .8,.5 .9-1 .8,.4 .9,.7 .8-.4 .9-2 .8-2.5 .9-2.5 .8,1.4 .9,2.1 .8-3.6 .9-1.5 .8,.4 .9-2.4 .8,.4 .9,3.8 .8,1.9 .9-.8 .8-1.2 .9,2.1 .8,1.6 .9-2 .8-1.7 .9,1 .8-.4 .9-1.7 .8,1.9 .9,0 .8-3.4 .9-.8 .8,1.9 .9-.3 .8-2.4 .9-1.1 .8,3.9 .9-.5 .8-.8 .9,2 .8-2.3 .9,0 .9,1.2 .8,2.3 .9-.6 .8-.5 .9,3.3 .8-3.8 .9-3.5 .8,1 .9,1.7 .8,.4 .9-2.7 .8-.1 .9,1.7 .8,2.9 .9,.2 .8,1.1 .9,1.7 .8-2.4 .9-.7 .8,.3 .9-.9 .8-2.1 .9-1.5 .8,2.1 .9,.2 .8,.8 .9,1.6 .8-1.8 .9,.9 .8,1.1 .9,0 .8-.6 .9-3.4 .8,.6 .9,1.1 .8-.4 .9,.8 .8-.6 .9-3.9 .8-5.1 .9-.3 .8,2 .9-1 .8-.5 .9,.8 .8,.8 .9,2.3 .8,1.4 .9,2.5 .8,2.5 .9,2.3 .8,1.1 .9,.5 .8,.3 .9,.1 .8,.3 .9-1.1 .8,2 .9,1.7 .8-.3 .9-1.4 .8-2.6 .9,0 .9,2.4 .8-.6 .9,1.4 .8,0 .9-.8 .8,4.6 .9-3.5 .8-4.5 .9,3.9 .8,1.6 .9-.8 .8,.1 .9,1.4 .8,.9 .9-2.1 .8-.9 .9-.8 .8,.2 .9-1.2 .8,.9 .9,2.3 .8,1.3 .9,1.6 .8-3.4 .9-.3 .8,.9 .9-1 .8,1.7 .9,.4 .8-.6 .9,.2 .8-1.3 .9-1.2 .8,1.4 .9,1.7 .8-.9 .9-.9 .8-.7 .9-2.9 .8,.2 .9,2.9 .8,1 .9,.9 .8,.8 .9,.2 .8-.5 .9-.6 .8-1.2 .9,0 .8,1 .9,.9 .8-2 .9-1.8 .8-.2 .9-.2 .8,.3 .9,1.1 .8,.8 .9-3.1 .8,2.1 .9,1.6 .9-3.1 .8,.8 .9,1 .8-.9 .9,1.6 .8,.9 .9,.2 .8,1.2 .9-.2 .8-.6 .9-.8 .8-.7 .9,1.7 .8-1.6 .9-2.8 .8,1.4 .9,1.6 .8,.9 .9-1 .8-.5 .9,2.4 .8-.3 .9-5 .8,2.8 .9,2.1 .8-2.4 .9,1.2 .8-1.1 .9,1.2 .8,1.3 .9-2.9 .8,.4 .9,2.1 .8-.4 .9,.1 .8-1.6 .9,.5 .8,.8 .9,.3 .8,.3 .9-1.3 .8,3.6 .9-.1 .8-1.7 .9,.5 .8-2.8 .9,.7 .8,2.8 .9-2.8 .8-1.2 .9-.2 .8-.2 .9,2.7 .8,.4 .9-2.3 .8-1.1 .9,1.3 .8,1 .9,.1 .8,.7 .9-2.2 .8-.7 .9,3.4" fill="none" stroke="#8e1c1c" stroke-width="2.1" stroke-linejoin="round" />
<rect x="1536.6" y="29.2" width="475.6" height="349.6" fill="none" stroke="#777" stroke-width="1.6" />
<line x1="1536.6" y1="29.2" x2="1536.6" y2="379.6" stroke="#3a3a3a" stroke-width="1.9" />
<line x1="1535.8" y1="378.8" x2="2012.2" y2="378.8" stroke="#3a3a3a" stroke-width="1.9" />
<line x1="1630.0" y1="55.3" x2="1667.0" y2="55.3" stroke="#8e1c1c" stroke-width="2.2" />
<line x1="1677.6" y1="55.3" x2="1714.5" y2="55.3" stroke="#ff2222" stroke-width="2.2" />
<line x1="1731.0" y1="55.3" x2="1794.0" y2="55.3" stroke="#f07a30" stroke-width="2.2" />
<line x1="1630.0" y1="96.7" x2="1667.0" y2="96.7" stroke="#3c88c0" stroke-width="2.2" />
<line x1="1677.6" y1="96.7" x2="1714.5" y2="96.7" stroke="#1414ee" stroke-width="2.2" />
<line x1="1731.0" y1="96.7" x2="1794.0" y2="96.7" stroke="#20a040" stroke-width="2.2" />
<text x="1803.0" y="64.5" font-family="'Liberation Sans', Arial, sans-serif" font-size="22.6" font-weight="bold" font-style="normal" fill="#111" text-anchor="start" >L-chiral nanogaps</text>
<text x="1804.0" y="99.5" font-family="'Liberation Sans', Arial, sans-serif" font-size="22.6" font-weight="bold" font-style="normal" fill="#111" text-anchor="start" >R-chiral nanogaps</text>
<text x="1632.5" y="84.5" font-family="'Liberation Sans', Arial, sans-serif" font-size="24" font-weight="bold" font-style="normal" fill="#111" text-anchor="start" >2.5</text>
<text x="1690.0" y="84.5" font-family="'Liberation Sans', Arial, sans-serif" font-size="22.6" font-weight="bold" font-style="normal" fill="#111" text-anchor="start" >5</text>
<text x="1730.0" y="84.5" font-family="'Liberation Sans', Arial, sans-serif" font-size="22" font-weight="bold" font-style="normal" fill="#111" text-anchor="start" >10 nm</text>
<text transform="translate(1470 219) rotate(-90)" font-family="'Liberation Sans', Arial, sans-serif" font-size="19" font-weight="bold" fill="#222" text-anchor="middle">SERS Intensity (a. u.)</text>
<text x="1774" y="446" font-family="'Liberation Sans', Arial, sans-serif" font-size="20.5" font-weight="bold" fill="#222" text-anchor="middle">Raman Shift(cm<tspan font-size="12" dy="-9">-1</tspan><tspan dy="9">)</tspan></text>
<defs><filter id="blur2" x="-20%" y="-20%" width="140%" height="140%"><feGaussianBlur stdDeviation="2"/></filter><filter id="blur4" x="-50%" y="-50%" width="200%" height="200%"><feGaussianBlur stdDeviation="4.5"/></filter><filter id="blur1" x="-20%" y="-20%" width="140%" height="140%"><feGaussianBlur stdDeviation="0.7"/></filter><linearGradient id="jet" x1="0" y1="0" x2="0" y2="1"><stop offset="0" stop-color="#a01010"/><stop offset="0.06" stop-color="#e01810"/><stop offset="0.14" stop-color="#ff2010"/><stop offset="0.24" stop-color="#f07820"/><stop offset="0.35" stop-color="#e8f030"/><stop offset="0.465" stop-color="#40e040"/><stop offset="0.6" stop-color="#60f8f0"/><stop offset="0.69" stop-color="#40a0f0"/><stop offset="0.78" stop-color="#2020f8"/><stop offset="0.9" stop-color="#1a18f0"/><stop offset="1" stop-color="#2010a8"/></linearGradient><radialGradient id="mapdark" cx="0.55" cy="0.6" r="0.5"><stop offset="0" stop-color="#1808c0" stop-opacity="0.85"/><stop offset="1" stop-color="#1808c0" stop-opacity="0"/></radialGradient></defs>
<rect x="94.5" y="324.5" width="820" height="274" rx="42" ry="42" fill="none" stroke="#b4b4b4" stroke-width="2.2"/>
<rect x="94.5" y="605" width="820" height="262.6" rx="42" ry="42" fill="none" stroke="#b4b4b4" stroke-width="2.2"/>
<rect x="130.4" y="365.5" width="263.7" height="193.9" fill="none" stroke="#666" stroke-width="1.5" />
<line x1="126.4" y1="365.5" x2="130.4" y2="365.5" stroke="#666" stroke-width="1.2" />
<text x="124.9" y="368.8" font-family="'Liberation Sans', Arial, sans-serif" font-size="9" font-weight="bold" font-style="normal" fill="#222" text-anchor="end" >0.3</text>
<line x1="126.4" y1="455.0" x2="130.4" y2="455.0" stroke="#666" stroke-width="1.2" />
<text x="124.9" y="458.3" font-family="'Liberation Sans', Arial, sans-serif" font-size="9" font-weight="bold" font-style="normal" fill="#222" text-anchor="end" >0.0</text>
<line x1="126.4" y1="544.5" x2="130.4" y2="544.5" stroke="#666" stroke-width="1.2" />
<text x="124.9" y="547.8" font-family="'Liberation Sans', Arial, sans-serif" font-size="9" font-weight="bold" font-style="normal" fill="#222" text-anchor="end" >-0.3</text>
<line x1="127.9" y1="410.2" x2="130.4" y2="410.2" stroke="#666" stroke-width="1" />
<line x1="127.9" y1="499.7" x2="130.4" y2="499.7" stroke="#666" stroke-width="1" />
<line x1="130.4" y1="559.4" x2="130.4" y2="563.4" stroke="#666" stroke-width="1.2" />
<text x="130.4" y="573.6" font-family="'Liberation Sans', Arial, sans-serif" font-size="9" font-weight="bold" font-style="normal" fill="#222" text-anchor="middle" >500</text>
<line x1="218.3" y1="559.4" x2="218.3" y2="563.4" stroke="#666" stroke-width="1.2" />
<text x="218.3" y="573.6" font-family="'Liberation Sans', Arial, sans-serif" font-size="9" font-weight="bold" font-style="normal" fill="#222" text-anchor="middle" >550</text>
<line x1="306.2" y1="559.4" x2="306.2" y2="563.4" stroke="#666" stroke-width="1.2" />
<text x="306.2" y="573.6" font-family="'Liberation Sans', Arial, sans-serif" font-size="9" font-weight="bold" font-style="normal" fill="#222" text-anchor="middle" >600</text>
<line x1="394.1" y1="559.4" x2="394.1" y2="563.4" stroke="#666" stroke-width="1.2" />
<text x="394.1" y="573.6" font-family="'Liberation Sans', Arial, sans-serif" font-size="9" font-weight="bold" font-style="normal" fill="#222" text-anchor="middle" >650</text>
<line x1="174.4" y1="559.4" x2="174.4" y2="561.9" stroke="#666" stroke-width="1" />
<line x1="262.2" y1="559.4" x2="262.2" y2="561.9" stroke="#666" stroke-width="1" />
<line x1="350.2" y1="559.4" x2="350.2" y2="561.9" stroke="#666" stroke-width="1" />
<path d="M130.4,454.8l.4-.1 .5,0 .4,0 .5,0 .4-.1 .4,0 .5,0 .4,0 .5,.1 .4,0 .4,0 .5,0 .4,0 .5,0 .4,0 .4,0 .5-.1 .4,0 .5-.1 .4,0 .4-.1 .5,0 .4,0 .5,0 .4,0 .4,0 .5,0 .4,.1 .5,0 .4,0 .4,.1 .5,0 .4-.1 .5,0 .4,0 .4-.1 .5-.1 .4,0 .5-.1 .4,0 .4-.1 .5,0 .4,0 .5,.1 .4,0 .5,.1 .4,0 .4,.1 .5,0 .4,0 .5,0 .4,0 .4-.1 .5-.1 .4,0 .5-.1 .4-.1 .4-.1 .5,0 .4,0 .5,0 .4,0 .4,.1 .5,0 .4,.1 .5,.1 .4,0 .4,0 .5,0 .4,0 .5,0 .4-.1 .4-.1 .5-.1 .4-.1 .5-.1 .4,0 .4-.1 .5,0 .4,.1 .5,0 .4,.1 .4,.1 .5,.1 .4,0 .5,.1 .4,0 .4,0 .5-.1 .4-.1 .5-.1 .4-.1 .4-.1 .5-.1 .4-.1 .5,0 .4,0 .4,0 .5,0 .4,.1 .5,.1 .4,.1 .4,.1 .5,.1 .4,0 .5,0 .4,0 .4-.1 .5-.1 .4-.1 .5-.2 .4-.1 .4-.1 .5-.1 .4,0 .5,0 .4,.1 .4,.1 .5,.1 .4,.1 .5,.1 .4,.1 .4,.1 .5,0 .4,0 .5-.1 .4-.1 .4-.2 .5-.1 .4-.2 .5-.1 .4-.1 .5,0 .4,0 .4,0 .5,.1 .4,.1 .5,.2 .4,.1 .4,.1 .5,.1 .4,0 .5,0 .4-.1 .4-.1 .5-.1 .4-.2 .5-.2 .4-.1 .4-.1 .5-.1 .4,0 .5,0 .4,.1 .4,.1 .5,.2 .4,.2 .5,.1 .4,.1 .4,.1 .5,0 .4-.1 .5-.1 .4-.1 .4-.2 .5-.2 .4-.2 .5-.1 .4-.1 .4-.1 .5,.1 .4,0 .5,.2 .4,.1 .4,.2 .5,.2 .4,.1 .5,.1 .4,0 .4,0 .5-.1 .4-.2 .5-.1 .4-.3 .4-.2 .5-.1 .4-.2 .5,0 .4,0 .4,0 .5,.2 .4,.1 .5,.2 .4,.2 .4,.2 .5,.1 .4,.1 .5,0 .4-.1 .4-.2 .5-.2 .4-.2 .5-.2 .4-.2 .4-.2 .5-.1 .4,0 .5,.1 .4,.1 .4,.1 .5,.2 .4,.3 .5,.2 .4,.1 .5,.1 .4,0 .4-.1 .5-.1 .4-.2 .5-.2 .4-.2 .4-.3 .5-.2 .4-.1 .5,0 .4,0 .4,.1 .5,.1 .4,.3 .5,.2 .4,.2 .4,.2 .5,.1 .4,.1 .5-.1 .4-.1 .4-.2 .5-.2 .4-.3 .5-.2 .4-.2 .4-.2 .5-.1 .4,0 .5,.1 .4,.1 .4,.3 .5,.2 .4,.2 .5,.2 .4,.2 .4,.1 .5,0 .4-.1 .5-.2 .4-.2 .4-.3 .5-.2 .4-.3 .5-.2 .4-.1 .4-.1 .5,.1 .4,.1 .5,.2 .4,.3 .4,.3 .5,.2 .4,.2 .5,.1 .4,0 .4,0 .5-.2 .4-.2 .5-.3 .4-.2 .4-.3 .5-.3 .4-.1 .5-.1 .4,0 .4,.1 .5,.2 .4,.3 .5,.3 .4,.2 .4,.3 .5,.1 .4,.1 .5,0 .4-.1 .4-.2 .5-.3 .4-.3 .5-.3 .4-.3 .4-.2 .5-.1 .4,0 .5,0 .4,.1 .5,0 .4-.1 .4-1.3 .5-.6 .4-.8 .5-1 .4-1.1 .4-1.1 .5-.9 .4-.6 .5,0 .4,.7 .4,1.3 .5,2 .4,2.6 .5,2.9 .4,3.2 .4,3.2 .5,3.1 .4,2.9 .5,2.6 .4,2.4 .4,2 .5,1.5 .4,1.1 .5,.7 .4,.1 .4-.3 .5-.8 .4-1.1 .5-1.5 .4-1.6 .4-1.7 .5-1.8 .4-1.7 .5-1.6 .4-1.4 .4-1.2 .5-1.1 .4-.7 .5-.6 .4-.5 .4-.2 .5-.1 .4,0 .5,.1 .4,.2 .4,.4 .5,.4 .4,.5 .5,.5 .4,.7 .4,.8 .5,.8 .4,.9 .5,.9 .4,1 .4,1.1 .5,1 .4,1 .5,.9 .4,.8 .4,.7 .5,.5 .4,.4 .5,.2 .4,0 .4-.2 .5-.4 .4-.5 .5-.6 .4-.7 .4-.8 .5-.8 .4-.8 .5-.8 .4-.6 .4-.6 .5-.4 .4-.3 .5-.2 .4-.1 .4,0 .5,.1 .4,.2 .5,.1 .4,.2 .5,.2 .4,.1 .4,0 .5-.1 .4-.2 .5-.3 .4-.3 .4-.5 .5-.5 .4-.6 .5-.7 .4-.6 .4-.7 .5-.6 .4-.6 .5-.6 .4-.5 .4-.5 .5-.4 .4-.3 .5-.4 .4-.2 .4-.3 .5-.2 .4-.2 .5-.1 .4-.2 .4-.2 .5-.2 .4-.2 .5-.2 .4-.3 .4-.3 .5-.3 .4-.4 .5-.4 .4-.5 .4-.5 .5-.5 .4-.7 .5-.6 .4-.8 .4-.7 .5-.8 .4-.9 .5-.8 .4-.9 .4-.9 .5-.8 .4-.9 .5-.8 .4-.8 .4-.6 .5-.7 .4-.5 .5-.4 .4-.3 .4-.3 .5,0 .4,0 .5,.1 .4,.3 .4,.4 .5,.5 .4,.5 .5,.7 .4,.7 .4,.8 .5,.8 .4,.9 .5,.9 .4,.8 .4,.9 .5,.9 .4,.8 .5,.8 .4,.7 .4,.7 .5,.6 .4,.6 .5,.5 .4,.5 .5,.4 .4,.6 .4,.5 .5,.5 .4,.4 .5,.3 .4,.4 .4,.2 .5,.2 .4,.1 .5,.1 .4,.1 .4,0 .5-.1 .4,0 .5-.2 .4-.1 .4-.2 .5-.1 .4-.2 .5-.2 .4-.2 .4-.2 .5-.1 .4-.2 .5-.1 .4-.1 .4-.1 .5,0 .4,0 .5,0 .4,.1 .4,.1 .5,.1 .4,.1 .5,.2 .4,.2 .4,.2 .5,.2 .4,.2 .5,.1 .4,.2 .4,.2 .5,.1 .4,.2 .5,.1 .4,0 .4,.1 .5,0 .4,0 .5-.1 .4-.1 .4-.1 .5-.2 .4-.1 .5-.2 .4-.2 .4-.2 .5-.2 .4-.2 .5-.2 .4-.1 .4-.2 .5-.1 .4-.1 .5-.1 .4,0 .4,0 .5,0 .4,.1 .5,.1 .4,.1 .4,.1 .5,.2 .4,.2 .5,.2 .4,.2 .4,.2 .5,.2 .4,.1 .5,.2 .4,.2 .4,.1 .5,.1 .4,0 .5,.1 .4,0 .5,0 .4-.1 .4-.1 .5-.1 .4-.2 .5-.1 .4-.2 .4-.2 .5-.2 .4-.2 .5-.2 .4-.2 .4-.1 .5-.2 .4-.1 .5-.1 .4-.1 .4,0 .5,0 .4,0 .5,.1 .4,.1 .4,.1 .5,.2 .4,.1 .5,.2 .4,.2 .4,.2 .5,.2 .4,.2 .5,.2 .4,.1 .4,.2 .5,.1 .4,.1 .5,0 .4,.1 .4,0 .5-.1 .4,0 .5-.1 .4-.1" fill="none" stroke="#222" stroke-width="1.5" stroke-linejoin="round" />
<path d="M130.4,455.2l.4,0 .5,0 .4,0 .5,0 .4,0 .4,0 .5,0 .4,.1 .5,0 .4,.1 .4,0 .5,0 .4,.1 .5,0 .4,0 .4,0 .5,0 .4-.1 .5,0 .4,0 .4,0 .5,0 .4,0 .5,0 .4,0 .4,0 .5,.1 .4,.1 .5,0 .4,.1 .4,0 .5,0 .4,0 .5,0 .4,0 .4,0 .5-.1 .4,0 .5-.1 .4,0 .4,0 .5,0 .4,0 .5,.1 .4,.1 .5,0 .4,.1 .4,.1 .5,0 .4,.1 .5,0 .4,0 .4-.1 .5,0 .4-.1 .5,0 .4-.1 .4,0 .5,0 .4,0 .5,0 .4,0 .4,.1 .5,.1 .4,.1 .5,.1 .4,.1 .4,0 .5,0 .4,0 .5,0 .4-.1 .4,0 .5-.1 .4-.1 .5,0 .4-.1 .4,0 .5,0 .4,.1 .5,.1 .4,.1 .4,.1 .5,.1 .4,.1 .5,0 .4,.1 .4,0 .5,0 .4-.1 .5-.1 .4-.1 .4-.1 .5,0 .4-.1 .5,0 .4,0 .4,0 .5,.1 .4,.1 .5,.1 .4,.2 .4,.1 .5,.1 .4,0 .5,.1 .4-.1 .4,0 .5-.1 .4-.1 .5-.1 .4-.1 .4-.1 .5-.1 .4,0 .5,.1 .4,0 .4,.2 .5,.1 .4,.1 .5,.2 .4,.1 .4,.1 .5,0 .4,0 .5-.1 .4,0 .4-.2 .5-.1 .4-.1 .5-.1 .4-.1 .5,0 .4,0 .4,.1 .5,.1 .4,.1 .5,.2 .4,.2 .4,.1 .5,.1 .4,.1 .5,0 .4-.1 .4-.1 .5-.1 .4-.1 .5-.2 .4-.1 .4-.1 .5-.1 .4,0 .5,.1 .4,.1 .4,.2 .5,.1 .4,.2 .5,.2 .4,.1 .4,.1 .5,0 .4,0 .5-.1 .4-.1 .4-.2 .5-.1 .4-.2 .5-.1 .4-.1 .4,0 .5,0 .4,.1 .5,.2 .4,.2 .4,.2 .5,.2 .4,.1 .5,.1 .4,.1 .4,0 .5-.1 .4-.1 .5-.2 .4-.2 .4-.2 .5-.1 .4-.1 .5-.1 .4,.1 .4,.1 .5,.1 .4,.2 .5,.2 .4,.2 .4,.2 .5,.1 .4,.1 .5,0 .4,0 .4-.1 .5-.2 .4-.2 .5-.2 .4-.2 .4-.1 .5-.1 .4,0 .5,.1 .4,.1 .4,.2 .5,.2 .4,.3 .5,.2 .4,.1 .5,.2 .4,0 .4,0 .5-.1 .4-.2 .5-.2 .4-.2 .4-.2 .5-.2 .4-.1 .5,0 .4,0 .4,.1 .5,.2 .4,.2 .5,.3 .4,.2 .4,.2 .5,.2 .4,0 .5,0 .4-.1 .4-.1 .5-.2 .4-.3 .5-.2 .4-.2 .4-.1 .5-.1 .4,0 .5,.1 .4,.2 .4,.2 .5,.3 .4,.3 .5,.2 .4,.2 .4,.1 .5,0 .4-.1 .5-.1 .4-.2 .4-.3 .5-.2 .4-.2 .5-.2 .4-.1 .4,0 .5,0 .4,.2 .5,.2 .4,.3 .4,.3 .5,.2 .4,.3 .5,.1 .4,.1 .4-.1 .5-.1 .4-.2 .5-.3 .4-.2 .4-.3 .5-.2 .4-.1 .5-.1 .4,0 .4,.2 .5,.2 .4,.3 .5,.3 .4,.3 .4,.2 .5,.2 .4,.1 .5,0 .4-.1 .4-.2 .5-.3 .4-.3 .5-.3 .4-.2 .4-.2 .5-.1 .4,.1 .5,.1 .4,.4 .5,.4 .4,.7 .4,1.4 .5,.6 .4,.8 .5,1 .4,1.1 .4,1.1 .5,.9 .4,.6 .5,0 .4-.7 .4-1.4 .5-2 .4-2.5 .5-3 .4-3.1 .4-3.2 .5-3.1 .4-2.9 .5-2.7 .4-2.3 .4-2 .5-1.5 .4-1.1 .5-.7 .4-.1 .4,.3 .5,.8 .4,1.1 .5,1.4 .4,1.7 .4,1.7 .5,1.8 .4,1.7 .5,1.6 .4,1.4 .4,1.2 .5,1 .4,.8 .5,.6 .4,.4 .4,.3 .5,.1 .4,0 .5-.1 .4-.3 .4-.3 .5-.4 .4-.5 .5-.5 .4-.7 .4-.8 .5-.8 .4-.9 .5-1 .4-1 .4-1 .5-1 .4-1 .5-.9 .4-.8 .4-.7 .5-.5 .4-.4 .5-.2 .4,0 .4,.2 .5,.4 .4,.5 .5,.6 .4,.7 .4,.8 .5,.8 .4,.8 .5,.8 .4,.6 .4,.6 .5,.4 .4,.3 .5,.2 .4,.1 .4,0 .5-.1 .4-.2 .5-.2 .4-.1 .5-.2 .4-.1 .4,0 .5,.1 .4,.2 .5,.2 .4,.4 .4,.5 .5,.5 .4,.6 .5,.7 .4,.6 .4,.7 .5,.6 .4,.6 .5,.6 .4,.5 .4,.5 .5,.4 .4,.3 .5,.3 .4,.3 .4,.2 .5,.3 .4,.2 .5,.1 .4,.2 .4,.2 .5,.2 .4,.2 .5,.2 .4,.3 .4,.3 .5,.3 .4,.4 .5,.4 .4,.4 .4,.6 .5,.5 .4,.6 .5,.7 .4,.7 .4,.8 .5,.8 .4,.8 .5,.9 .4,.9 .4,.9 .5,.8 .4,.9 .5,.8 .4,.7 .4,.7 .5,.7 .4,.5 .5,.4 .4,.3 .4,.2 .5,.1 .4,0 .5-.1 .4-.3 .4-.4 .5-.5 .4-.5 .5-.7 .4-.7 .4-.8 .5-.8 .4-.9 .5-.9 .4-.9 .4-.8 .5-.9 .4-.8 .5-.8 .4-.7 .4-.7 .5-.6 .4-.6 .5-.6 .4-.4 .5-.5 .4-.5 .4-.5 .5-.5 .4-.4 .5-.4 .4-.3 .4-.2 .5-.2 .4-.2 .5-.1 .4,0 .4,0 .5,0 .4,.1 .5,.1 .4,.2 .4,.1 .5,.2 .4,.2 .5,.2 .4,.2 .4,.2 .5,.1 .4,.2 .5,.1 .4,.1 .4,.1 .5,0 .4,0 .5,0 .4-.1 .4-.1 .5-.1 .4-.1 .5-.2 .4-.2 .4-.2 .5-.2 .4-.2 .5-.2 .4-.1 .4-.2 .5-.2 .4-.1 .5-.1 .4-.1 .4,0 .5,0 .4,0 .5,.1 .4,.1 .4,.1 .5,.1 .4,.2 .5,.2 .4,.2 .4,.2 .5,.2 .4,.2 .5,.1 .4,.2 .4,.2 .5,.1 .4,.1 .5,0 .4,.1 .4,0 .5,0 .4-.1 .5-.1 .4-.1 .4-.2 .5-.1 .4-.2 .5-.2 .4-.2 .4-.2 .5-.2 .4-.2 .5-.1 .4-.2 .4-.1 .5-.1 .4-.1 .5,0 .4,0 .5,0 .4,.1 .4,.1 .5,.1 .4,.2 .5,.1 .4,.2 .4,.2 .5,.2 .4,.2 .5,.2 .4,.2 .4,.1 .5,.2 .4,.1 .5,.1 .4,0 .4,.1 .5,0 .4,0 .5-.1 .4-.1 .4-.1 .5-.2 .4-.1 .5-.2 .4-.2 .4-.2 .5-.2 .4-.2 .5-.2 .4-.1 .4-.2 .5-.1 .4-.1 .5-.1 .4,0 .4,0 .5,0 .4,.1 .5,.1 .4,.1" fill="none" stroke="#ff3030" stroke-width="1.5" stroke-linejoin="round" />
<ellipse cx="273.3" cy="427.1" rx="4.3" ry="3.9" fill="#ee2020"/>
<ellipse cx="292" cy="435.2" rx="4.3" ry="3.9" fill="#8a40c0"/>
<ellipse cx="326.4" cy="432.7" rx="4.3" ry="3.9" fill="#f0c020"/>
<text x="306.0" y="396.8" font-family="'Liberation Serif', 'Times New Roman', serif" font-size="17.3" font-weight="bold" font-style="normal" fill="#111" text-anchor="start" ><tspan font-style="italic">G</tspan> = 2.5 nm</text>
<line x1="144.6" y1="522.5" x2="154.6" y2="522.5" stroke="#ff3030" stroke-width="1.8" />
<text x="154.6" y="527.1" font-family="'Liberation Sans', Arial, sans-serif" font-size="13.8" font-weight="bold" font-style="normal" fill="#ff3030" text-anchor="start" >L-chiral nanogaps</text>
<line x1="144.6" y1="542.7" x2="154.6" y2="542.7" stroke="#222" stroke-width="1.8" />
<text x="154.6" y="547.3" font-family="'Liberation Sans', Arial, sans-serif" font-size="13.8" font-weight="bold" font-style="normal" fill="#111" text-anchor="start" >R-chiral nanogaps</text>
<text x="262.2" y="591.8" font-family="'Liberation Sans', Arial, sans-serif" font-size="11" font-weight="bold" font-style="normal" fill="#222" text-anchor="middle" >Wavelength (nm)</text>
<text x="106.0" y="443.7" font-family="'Liberation Serif', 'Times New Roman', serif" font-size="14" font-weight="bold" font-style="normal" fill="#222" text-anchor="start" >&#916;<tspan font-style="italic">A</tspan></text>
<rect x="129.6" y="630.4" width="268.8" height="198.0" fill="none" stroke="#666" stroke-width="1.5" />
<line x1="125.6" y1="644.4" x2="129.6" y2="644.4" stroke="#666" stroke-width="1.2" />
<text x="124.1" y="647.7" font-family="'Liberation Sans', Arial, sans-serif" font-size="9" font-weight="bold" font-style="normal" fill="#222" text-anchor="end" >0.3</text>
<line x1="125.6" y1="729.4" x2="129.6" y2="729.4" stroke="#666" stroke-width="1.2" />
<text x="124.1" y="732.7" font-family="'Liberation Sans', Arial, sans-serif" font-size="9" font-weight="bold" font-style="normal" fill="#222" text-anchor="end" >0.0</text>
<line x1="125.6" y1="814.4" x2="129.6" y2="814.4" stroke="#666" stroke-width="1.2" />
<text x="124.1" y="817.7" font-family="'Liberation Sans', Arial, sans-serif" font-size="9" font-weight="bold" font-style="normal" fill="#222" text-anchor="end" >-0.3</text>
<line x1="127.1" y1="686.9" x2="129.6" y2="686.9" stroke="#666" stroke-width="1" />
<line x1="127.1" y1="771.9" x2="129.6" y2="771.9" stroke="#666" stroke-width="1" />
<line x1="129.6" y1="828.4" x2="129.6" y2="832.4" stroke="#666" stroke-width="1.2" />
<text x="129.6" y="843.0" font-family="'Liberation Sans', Arial, sans-serif" font-size="9" font-weight="bold" font-style="normal" fill="#222" text-anchor="middle" >500</text>
<line x1="219.2" y1="828.4" x2="219.2" y2="832.4" stroke="#666" stroke-width="1.2" />
<text x="219.2" y="843.0" font-family="'Liberation Sans', Arial, sans-serif" font-size="9" font-weight="bold" font-style="normal" fill="#222" text-anchor="middle" >550</text>
<line x1="308.8" y1="828.4" x2="308.8" y2="832.4" stroke="#666" stroke-width="1.2" />
<text x="308.8" y="843.0" font-family="'Liberation Sans', Arial, sans-serif" font-size="9" font-weight="bold" font-style="normal" fill="#222" text-anchor="middle" >600</text>
<line x1="398.4" y1="828.4" x2="398.4" y2="832.4" stroke="#666" stroke-width="1.2" />
<text x="398.4" y="843.0" font-family="'Liberation Sans', Arial, sans-serif" font-size="9" font-weight="bold" font-style="normal" fill="#222" text-anchor="middle" >650</text>
<line x1="174.4" y1="828.4" x2="174.4" y2="830.9" stroke="#666" stroke-width="1" />
<line x1="264.0" y1="828.4" x2="264.0" y2="830.9" stroke="#666" stroke-width="1" />
<line x1="353.6" y1="828.4" x2="353.6" y2="830.9" stroke="#666" stroke-width="1" />
<path d="M129.6,729.4l.4,.4 .5,.3 .4,.2 .5,.2 .4,0 .5-.1 .4-.3 .5-.3 .4-.4 .5-.3 .4-.4 .5-.3 .4-.1 .5-.1 .4,.1 .5,.3 .4,.3 .5,.3 .4,.4 .5,.4 .4,.3 .5,.1 .4,.1 .5-.1 .4-.2 .5-.3 .4-.3 .5-.4 .4-.4 .5-.3 .4-.2 .5-.1 .4,.1 .5,.2 .4,.2 .5,.4 .4,.4 .5,.3 .4,.4 .4,.2 .5,.1 .4,0 .5-.2 .4-.2 .5-.4 .4-.4 .5-.3 .4-.4 .5-.2 .4-.1 .5,0 .4,.1 .5,.2 .4,.4 .5,.3 .4,.4 .5,.4 .4,.2 .5,.2 .4,0 .5-.1 .4-.2 .5-.3 .4-.4 .5-.4 .4-.4 .5-.2 .4-.2 .5-.1 .4,.1 .5,.2 .4,.3 .5,.4 .4,.4 .5,.3 .4,.3 .5,.2 .4,.1 .5-.1 .4-.1 .4-.3 .5-.4 .4-.4 .5-.3 .4-.3 .5-.3 .4-.1 .5,.1 .4,.1 .5,.3 .4,.3 .5,.4 .4,.4 .5,.3 .4,.3 .5,.1 .4,0 .5-.2 .4-.2 .5-.3 .4-.4 .5-.4 .4-.3 .5-.3 .4-.1 .5-.1 .4,.2 .5,.2 .4,.3 .5,.4 .4,.4 .5,.3 .4,.3 .5,.2 .4,0 .5-.1 .4-.2 .5-.3 .4-.4 .4-.4 .5-.3 .4-.3 .5-.2 .4-.1 .5,.1 .4,.2 .5,.3 .4,.3 .5,.4 .4,.4 .5,.3 .4,.2 .5,.1 .4,0 .5-.2 .4-.3 .5-.3 .4-.4 .5-.4 .4-.3 .5-.2 .4-.2 .5,.1 .4,.1 .5,.3 .4,.3 .5,.4 .4,.4 .5,.3 .4,.2 .5,.2 .4,0 .5-.1 .4-.3 .5-.3 .4-.4 .5-.4 .4-.3 .5-.3 .4-.1 .4-.1 .5,.1 .4,.3 .5,.3 .4,.3 .5,.4 .4,.4 .5,.3 .4,.1 .5,.1 .4-.1 .5-.2 .4-.3 .5-.3 .4-.4 .5-.4 .4-.3 .5-.2 .4-.1 .5,.1 .4,.2 .5,.3 .4,.3 .5,.4 .4,.4 .5,.3 .4,.2 .5,.1 .4,0 .5-.2 .4-.2 .5-.4 .4-.4 .5-.4 .4-.3 .5-.2 .4-.1 .5,0 .4,.1 .4,.2 .5,.4 .4,.3 .5,.4 .4,.4 .5,.2 .4,.2 .5,0 .4-.1 .5-.2 .4-.4 .5-.3 .4-.4 .5-.4 .4-.2 .5-.2 .4-.1 .5,.1 .4,.2 .5,.3 .4,.4 .5,.4 .4,.4 .5,.2 .4,.2 .5,.1 .4-.1 .5-.1 .4-.3 .5-.4 .4-.4 .5-.3 .4-.4 .5-.2 .4-.1 .5,.1 .4,.1 .5,.3 .4,.4 .5,.3 .4,.4 .4,.3 .5,.3 .4,.1 .5,0 .4-.2 .5-.2 .4-.4 .5-.3 .4-.4 .5-.3 .4-.3 .5-.1 .4,0 .5,.1 .4,.2 .5,.3 .4,.4 .5,.4 .4,.3 .5,.3 .4,.2 .5,0 .4-.1 .5-.2 .4-.3 .5-.4 .4-.4 .5-.3 .4-.3 .5-.2 .4-.1 .5,.1 .4,.2 .5,.3 .4,.4 .5,.3 .4,.4 .5,.3 .4,.2 .4,.1 .5,0 .4-.2 .5-.3 .4-.4 .5-.3 .4-.4 .5-.3 .4-.2 .5-.2 .4,.1 .5,.1 .4,.3 .5,.3 .4,.4 .5,.4 .4,.3 .5,.3 .4,.1 .5,0 .4-.1 .5-.3 .4-.3 .5-.4 .4-3.5 .5-1.2 .4-1 .5-.8 .4-.1 .5,.8 .4,2 .5,3.2 .4,4.5 .5,5.7 .4,6.7 .5,7.5 .4,8.1 .5,8.3 .4,8.3 .5,7.8 .4,6.9 .4,5.6 .5,4 .4,2 .5-.1 .4-2.1 .5-4 .4-5.6 .5-6.7 .4-7.4 .5-7.6 .4-7.3 .5-6.8 .4-6.1 .5-5.1 .4-4.2 .5-3.4 .4-2.5 .5-1.8 .4-1.2 .5-.8 .4-.4 .5-.1 .4,.2 .5,.4 .4,.7 .5,.9 .4,1.2 .5,1.5 .4,1.7 .5,2.1 .4,2.5 .5,2.7 .4,2.9 .5,3.2 .4,3.3 .5,3.3 .4,3.1 .5,2.9 .4,2.5 .4,2.1 .5,1.4 .4,.8 .5,.1 .4-.6 .5-1.3 .4-1.9 .5-2.4 .4-2.7 .5-3.1 .4-3.1 .5-3.2 .4-3.1 .5-2.8 .4-2.6 .5-2.3 .4-1.9 .5-1.6 .4-1.2 .5-.9 .4-.6 .5-.4 .4-.1 .5,.1 .4,.3 .5,.3 .4,.5 .5,.5 .4,.6 .5,.5 .4,.5 .5,.5 .4,.4 .5,.4 .4,.2 .5,.2 .4,0 .5,0 .4-.2 .5-.2 .4-.4 .4-.4 .5-.5 .4-.5 .5-.6 .4-.5 .5-.6 .4-.6 .5-.5 .4-.6 .5-.5 .4-.5 .5-.4 .4-.4 .5-.4 .4-.4 .5-.3 .4-.4 .5-.3 .4-.4 .5-.3 .4-.4 .5-.4 .4-.5 .5-.5 .4-.5 .5-.6 .4-.7 .5-.7 .4-.8 .5-.9 .4-1 .5-1 .4-1.1 .5-1.2 .4-1.1 .5-1.2 .4-1.3 .5-1.2 .4-1.1 .4-1.1 .5-1 .4-1 .5-.8 .4-.6 .5-.5 .4-.3 .5-.2 .4,.3 .5,.4 .4,.6 .5,.8 .4,1 .5,1 .4,1.2 .5,1.3 .4,1.3 .5,1.4 .4,1.4 .5,1.5 .4,1.6 .5,1.7 .4,1.6 .5,1.4 .4,1.2 .5,1 .4,.8 .5,.7 .4,.5 .5,.5 .4,.3 .5,.4 .4,.4 .5,.5 .4,.5 .5,.6 .4,.7 .5,.6 .4,.7 .5,.7 .4,.3 .4,.3 .5,.1 .4,0 .5-.1 .4-.3 .5-.3 .4-.3 .5-.3 .4-.3 .5-.2 .4-.1 .5,0 .4,.1 .5,.3 .4,.3 .5,.3 .4,.4 .5,.3 .4,.2 .5,.1 .4,0 .5-.1 .4-.2 .5-.3 .4-.3 .5-.4 .4-.3 .5-.2 .4-.2 .5,0 .4,.1 .5,.2 .4,.3 .5,.3 .4,.3 .5,.4 .4,.2 .5,.2 .4,0 .4,0 .5-.2 .4-.3 .5-.3 .4-.4 .5-.3 .4-.3 .5-.1 .4-.1 .5,0 .4,.2 .5,.2 .4,.4 .5,.3 .4,.3 .5,.3 .4,.2 .5,.1 .4,0 .5-.1 .4-.3 .5-.3 .4-.3 .5-.4 .4-.3 .5-.2 .4-.1 .5,0 .4,.1 .5,.2 .4,.3 .5,.4 .4,.3 .5,.3 .4,.3 .5,.1 .4,0 .5-.1 .4-.2 .5-.3 .4-.3 .4-.3 .5-.4 .4-.2 .5-.2 .4,0 .5,.1 .4,.2 .5,.2 .4,.4 .5,.3 .4,.3 .5,.3 .4,.2 .5,0 .4,0 .5-.2 .4-.2 .5-.4 .4-.3 .5-.3 .4-.3 .5-.2 .4-.1 .5,0 .4,.2 .5,.2 .4,.3 .5,.4 .4,.3 .5,.3 .4,.2 .5,.1 .4,0 .5-.1 .4-.2 .5-.3 .4-.4 .5-.3 .4-.3" fill="none" stroke="#222" stroke-width="1.5" stroke-linejoin="round" />
<path d="M129.6,729.4l.4-.4 .5-.3 .4-.3 .5-.1 .4-.1 .5,.2 .4,.2 .5,.3 .4,.4 .5,.4 .4,.3 .5,.3 .4,.2 .5,0 .4-.1 .5-.2 .4-.3 .5-.4 .4-.4 .5-.3 .4-.3 .5-.2 .4-.1 .5,.1 .4,.2 .5,.3 .4,.4 .5,.3 .4,.4 .5,.3 .4,.2 .5,.1 .4,0 .5-.2 .4-.3 .5-.3 .4-.4 .5-.4 .4-.3 .4-.2 .5-.2 .4,.1 .5,.1 .4,.3 .5,.3 .4,.4 .5,.4 .4,.3 .5,.3 .4,.1 .5,0 .4-.1 .5-.3 .4-.3 .5-.4 .4-.4 .5-.3 .4-.3 .5-.1 .4-.1 .5,.1 .4,.3 .5,.3 .4,.4 .5,.3 .4,.4 .5,.3 .4,.2 .5,0 .4-.1 .5-.2 .4-.3 .5-.3 .4-.4 .5-.4 .4-.3 .5-.2 .4-.1 .5,.1 .4,.2 .4,.3 .5,.3 .4,.4 .5,.4 .4,.3 .5,.2 .4,.1 .5,0 .4-.2 .5-.3 .4-.3 .5-.4 .4-.4 .5-.3 .4-.2 .5-.1 .4,0 .5,.1 .4,.2 .5,.4 .4,.4 .5,.3 .4,.4 .5,.2 .4,.2 .5,0 .4-.1 .5-.2 .4-.4 .5-.3 .4-.4 .5-.4 .4-.3 .5-.1 .4-.1 .5,.1 .4,.2 .5,.3 .4,.4 .4,.4 .5,.4 .4,.3 .5,.1 .4,.1 .5-.1 .4-.2 .5-.2 .4-.4 .5-.4 .4-.4 .5-.3 .4-.2 .5-.1 .4,.1 .5,.2 .4,.2 .5,.4 .4,.4 .5,.3 .4,.4 .5,.2 .4,.1 .5,0 .4-.2 .5-.2 .4-.4 .5-.3 .4-.4 .5-.4 .4-.2 .5-.1 .4,0 .5,.1 .4,.2 .5,.3 .4,.4 .5,.4 .4,.3 .5,.3 .4,.2 .4,0 .5-.1 .4-.2 .5-.3 .4-.4 .5-.4 .4-.3 .5-.3 .4-.2 .5-.1 .4,.1 .5,.2 .4,.3 .5,.4 .4,.4 .5,.3 .4,.3 .5,.2 .4,.1 .5,0 .4-.2 .5-.3 .4-.4 .5-.3 .4-.4 .5-.3 .4-.3 .5-.1 .4,.1 .5,.1 .4,.3 .5,.3 .4,.4 .5,.4 .4,.3 .5,.3 .4,.1 .5,0 .4-.1 .4-.3 .5-.3 .4-.4 .5-.4 .4-.3 .5-.3 .4-.1 .5-.1 .4,.2 .5,.2 .4,.3 .5,.4 .4,.4 .5,.3 .4,.3 .5,.2 .4,0 .5-.1 .4-.2 .5-.3 .4-.4 .5-.3 .4-.4 .5-.3 .4-.2 .5-.1 .4,.1 .5,.2 .4,.3 .5,.3 .4,.4 .5,.4 .4,.3 .5,.2 .4,.1 .5,0 .4-.2 .5-.3 .4-.3 .5-.4 .4-.4 .4-.3 .5-.2 .4-.2 .5,.1 .4,.1 .5,.3 .4,.3 .5,.4 .4,.4 .5,.3 .4,.2 .5,.2 .4,0 .5-.1 .4-.3 .5-.3 .4-.4 .5-.3 .4-.4 .5-.3 .4-.1 .5-.1 .4,.1 .5,.3 .4,.3 .5,.3 .4,.4 .5,.4 .4,.3 .5,.1 .4,.1 .5-.1 .4-.2 .5-.3 .4-.3 .5-.4 .4-.4 .5-.3 .4-.2 .4-.1 .5,.1 .4,.2 .5,.2 .4,.4 .5,.4 .4,.4 .5,.3 .4,.2 .5,.1 .4,0 .5-.2 .4-.2 .5-.4 .4-.4 .5-.3 .4-.4 .5-.2 .4-.1 .5,0 .4,.1 .5,.2 .4,.4 .5,.3 .4,3.6 .5,1.1 .4,1.1 .5,.7 .4,.1 .5-.8 .4-1.9 .5-3.2 .4-4.5 .5-5.7 .4-6.8 .5-7.5 .4-8.1 .5-8.3 .4-8.3 .5-7.7 .4-6.9 .4-5.7 .5-3.9 .4-2 .5,0 .4,2.2 .5,4 .4,5.5 .5,6.7 .4,7.4 .5,7.6 .4,7.4 .5,6.8 .4,6 .5,5.2 .4,4.2 .5,3.3 .4,2.5 .5,1.8 .4,1.3 .5,.7 .4,.4 .5,.1 .4-.2 .5-.4 .4-.6 .5-.9 .4-1.2 .5-1.5 .4-1.8 .5-2.1 .4-2.4 .5-2.7 .4-3 .5-3.2 .4-3.2 .5-3.3 .4-3.1 .5-2.9 .4-2.5 .4-2.1 .5-1.4 .4-.8 .5-.1 .4,.7 .5,1.3 .4,1.9 .5,2.4 .4,2.8 .5,3.1 .4,3.3 .5,3.2 .4,3.1 .5,3 .4,2.6 .5,2.4 .4,2 .5,1.7 .4,1.3 .5,1 .4,.8 .5,.4 .4,.3 .5,0 .4-.1 .5-.2 .4-.3 .5-.4 .4-.4 .5-.4 .4-.4 .5-.3 .4-.3 .5-.3 .4-.1 .5-.1 .4,0 .5,.1 .4,.2 .5,.3 .4,.3 .4,.4 .5,.5 .4,.4 .5,.5 .4,.5 .5,.5 .4,.5 .5,.4 .4,.4 .5,.4 .4,.3 .5,.3 .4,.3 .5,.2 .4,.2 .5,.2 .4,.2 .5,.3 .4,.2 .5,.2 .4,.3 .5,.3 .4,.3 .5,.4 .4,.5 .5,.5 .4,.6 .5,.7 .4,.7 .5,.9 .4,.9 .5,1 .4,1 .5,1.2 .4,1.1 .5,1.2 .4,1.2 .5,1.2 .4,1.1 .4,1.1 .5,1 .4,.9 .5,.8 .4,.7 .5,.5 .4,.3 .5,.1 .4-.2 .5-.5 .4-.6 .5-.9 .4-.9 .5-1.1 .4-1.2 .5-1.3 .4-1.4 .5-1.4 .4-1.5 .5-1.4 .4-1.7 .5-1.8 .4-1.6 .5-1.4 .4-1.3 .5-1 .4-.8 .5-.7 .4-.5 .5-.4 .4-.4 .5-.4 .4-.4 .5-.5 .4-.5 .5-.7 .4-.7 .5-.7 .4-.8 .5-.7 .4-.4 .4-.2 .5-.2 .4,0 .5,.2 .4,.2 .5,.4 .4,.3 .5,.4 .4,.3 .5,.3 .4,.1 .5,0 .4-.2 .5-.3 .4-.3 .5-.4 .4-.3 .5-.4 .4-.2 .5-.2 .4,0 .5,.1 .4,.3 .5,.3 .4,.4 .5,.4 .4,.3 .5,.3 .4,.1 .5,.1 .4-.1 .5-.2 .4-.4 .5-.3 .4-.4 .5-.4 .4-.3 .5-.1 .4-.1 .4,.1 .5,.2 .4,.3 .5,.3 .4,.4 .5,.4 .4,.3 .5,.2 .4,.1 .5-.1 .4-.2 .5-.2 .4-.4 .5-.4 .4-.3 .5-.4 .4-.2 .5-.1 .4,0 .5,.2 .4,.3 .5,.3 .4,.4 .5,.4 .4,.3 .5,.2 .4,.2 .5,0 .4-.2 .5-.2 .4-.4 .5-.3 .4-.4 .5-.4 .4-.2 .5-.2 .4,0 .5,.1 .4,.2 .5,.4 .4,.3 .4,.4 .5,.4 .4,.3 .5,.1 .4,.1 .5-.1 .4-.2 .5-.3 .4-.4 .5-.4 .4-.3 .5-.3 .4-.2 .5-.1 .4,.1 .5,.2 .4,.2 .5,.4 .4,.4 .5,.4 .4,.3 .5,.2 .4,.1 .5-.1 .4-.1 .5-.3 .4-.3 .5-.4 .4-.4 .5-.3 .4-.3 .5-.1 .4,0 .5,.2 .4,.2 .5,.4 .4,.3 .5,.4 .4,.4" fill="none" stroke="#ff3030" stroke-width="1.5" stroke-linejoin="round" />
<circle cx="133.2" cy="729.8" r="1.9" fill="none" stroke="#333" stroke-width="1"/>
<circle cx="137.3" cy="728.9" r="1.9" fill="none" stroke="#ff3030" stroke-width="1"/>
<circle cx="141.4" cy="729.9" r="1.9" fill="none" stroke="#333" stroke-width="1"/>
<circle cx="145.5" cy="728.8" r="1.9" fill="none" stroke="#ff3030" stroke-width="1"/>
<circle cx="149.7" cy="729.7" r="1.9" fill="none" stroke="#333" stroke-width="1"/>
<circle cx="153.8" cy="729.0" r="1.9" fill="none" stroke="#ff3030" stroke-width="1"/>
<circle cx="157.9" cy="729.9" r="1.9" fill="none" stroke="#333" stroke-width="1"/>
<circle cx="162.0" cy="728.9" r="1.9" fill="none" stroke="#ff3030" stroke-width="1"/>
<circle cx="166.2" cy="730.0" r="1.9" fill="none" stroke="#333" stroke-width="1"/>
<circle cx="170.3" cy="728.8" r="1.9" fill="none" stroke="#ff3030" stroke-width="1"/>
<circle cx="174.4" cy="729.8" r="1.9" fill="none" stroke="#333" stroke-width="1"/>
<circle cx="178.5" cy="729.0" r="1.9" fill="none" stroke="#ff3030" stroke-width="1"/>
<circle cx="182.6" cy="729.9" r="1.9" fill="none" stroke="#333" stroke-width="1"/>
<circle cx="186.8" cy="728.8" r="1.9" fill="none" stroke="#ff3030" stroke-width="1"/>
<circle cx="190.9" cy="729.7" r="1.9" fill="none" stroke="#333" stroke-width="1"/>
<circle cx="195.0" cy="729.1" r="1.9" fill="none" stroke="#ff3030" stroke-width="1"/>
<circle cx="199.1" cy="729.8" r="1.9" fill="none" stroke="#333" stroke-width="1"/>
<circle cx="203.3" cy="728.9" r="1.9" fill="none" stroke="#ff3030" stroke-width="1"/>
<circle cx="207.4" cy="729.9" r="1.9" fill="none" stroke="#333" stroke-width="1"/>
<circle cx="211.5" cy="728.8" r="1.9" fill="none" stroke="#ff3030" stroke-width="1"/>
<circle cx="215.6" cy="729.7" r="1.9" fill="none" stroke="#333" stroke-width="1"/>
<circle cx="219.7" cy="729.0" r="1.9" fill="none" stroke="#ff3030" stroke-width="1"/>
<circle cx="223.9" cy="729.8" r="1.9" fill="none" stroke="#333" stroke-width="1"/>
<circle cx="228.0" cy="728.9" r="1.9" fill="none" stroke="#ff3030" stroke-width="1"/>
<circle cx="232.1" cy="730.0" r="1.9" fill="none" stroke="#333" stroke-width="1"/>
<circle cx="236.2" cy="728.8" r="1.9" fill="none" stroke="#ff3030" stroke-width="1"/>
<circle cx="240.3" cy="729.7" r="1.9" fill="none" stroke="#333" stroke-width="1"/>
<circle cx="244.5" cy="729.0" r="1.9" fill="none" stroke="#ff3030" stroke-width="1"/>
<circle cx="248.6" cy="729.9" r="1.9" fill="none" stroke="#333" stroke-width="1"/>
<circle cx="252.7" cy="728.9" r="1.9" fill="none" stroke="#ff3030" stroke-width="1"/>
<circle cx="256.8" cy="729.6" r="1.9" fill="none" stroke="#333" stroke-width="1"/>
<circle cx="261.0" cy="729.1" r="1.9" fill="none" stroke="#ff3030" stroke-width="1"/>
<ellipse cx="273" cy="648" rx="4.3" ry="3.9" fill="#ee2020"/>
<ellipse cx="293" cy="681" rx="4.3" ry="3.9" fill="#8a40c0"/>
<ellipse cx="328.6" cy="705.6" rx="4.3" ry="3.9" fill="#f0c020"/>
<text x="317.0" y="653.0" font-family="'Liberation Serif', 'Times New Roman', serif" font-size="17.3" font-weight="bold" font-style="normal" fill="#111" text-anchor="start" ><tspan font-style="italic">G</tspan> = 5 nm</text>
<line x1="130.0" y1="797.8" x2="140.0" y2="797.8" stroke="#ff3030" stroke-width="1.8" />
<text x="140.0" y="802.4" font-family="'Liberation Sans', Arial, sans-serif" font-size="13.8" font-weight="bold" font-style="normal" fill="#ff3030" text-anchor="start" >L-chiral nanogaps</text>
<line x1="130.0" y1="817.4" x2="140.0" y2="817.4" stroke="#222" stroke-width="1.8" />
<text x="140.0" y="822.0" font-family="'Liberation Sans', Arial, sans-serif" font-size="13.8" font-weight="bold" font-style="normal" fill="#111" text-anchor="start" >R-chiral nanogaps</text>
<text x="263.5" y="854.0" font-family="'Liberation Sans', Arial, sans-serif" font-size="11" font-weight="bold" font-style="normal" fill="#222" text-anchor="middle" >Wavelength (nm)</text>
<text x="103.0" y="709.6" font-family="'Liberation Serif', 'Times New Roman', serif" font-size="14" font-weight="bold" font-style="normal" fill="#222" text-anchor="start" >&#916;<tspan font-style="italic">A</tspan></text>
<text x="132.5" y="663.6" font-family="'Liberation Sans', Arial, sans-serif" font-size="26" font-weight="bold" font-style="normal" fill="#111" text-anchor="start" >d</text>
<clipPath id="mapB"><rect x="414.3" y="357.2" width="215.2" height="233.59999999999997"/></clipPath>
<rect x="414.3" y="357.2" width="215.2" height="233.6" fill="#2212f4" stroke="none" stroke-width="1" />
<g clip-path="url(#mapB)">
<rect x="414.3" y="357.2" width="215.2" height="233.59999999999997" fill="url(#mapdark)"/>
<path d="M540.5,566.1l-6.1,1 -6.2,.7 -6.3,.3 -6.3-.2 -6.2-.6 -6.2-1.1 -6.1-1.4 -6.1-1.8 -5.9-2.2 -5.7-2.6 -5.6-3 -5.3-3.4 -5-3.8 -4.7-4.2 -4.4-4.4 -4.1-4.7 -3.9-4.9 -3.6-5 -3.3-5.2 -3.1-5.3 -2.7-5.5 -2.5-5.6 -2.1-5.8 -1.7-5.8 -1.4-6 -1.1-6 -.7-6 -.3-6.1 .1-6.1 .5-6 .8-6 1.2-6 1.5-5.8 1.9-5.7 2.2-5.6 2.6-5.4 2.8-5.3 3.1-5.1 3.4-4.9" fill="none" stroke="#70d8ff" stroke-width="12" opacity="0.8" filter="url(#blur4)"/>
<path d="M546.9,561.3l-6,1.6 -6.1,1.2 -6.2,.7 -6.2,.3 -6.3-.2 -6.2-.6 -6.2-1 -6.1-1.4 -6-1.9 -5.9-2.2 -5.8-2.7 -5.5-3 -5.2-3.5 -4.9-3.9 -4.7-4.2 -4.3-4.5 -4-4.8 -3.7-4.9 -3.5-5.1 -3.3-5.2 -2.9-5.4 -2.6-5.5 -2.3-5.7 -1.9-5.8 -1.6-5.9 -1.2-6 -.8-6 -.5-6.1 -.1-6 .4-6.1 .7-6 1.1-5.9 1.4-5.9 1.8-5.7 2.2-5.6 2.5-5.4 2.8-5.3 3-5.1 3.4-4.9 3.7-4.7 3.9-4.4 4.2-4.2 4.4-3.9 4.6-3.6 4.9-3.4 5-3.1 5.2-2.8 5.3-2.5 5.4-2.3 5.5-2 5.6-1.7 5.8-1.4 5.8-1 5.9-.5 6-.1 5.9,.3 5.9,.7 5.8,1 5.8,1.4 5.6,1.7 5.6,2 5.4,2.4 5.3,2.7 5.1,3 4.9,3.3 4.7,3.6 4.4,3.9 4.2,4.2 4,4.4 3.7,4.6 3.4,4.8 3.2,5 3.1,5.1 2.8,5.3 2.6,5.4 2.2,5.6 1.8,5.8 1.4,5.9 .9,6 .5,6.1 .1,6.1 -.3,6.1 -.7,6.1 -1.1,6 -1.5,5.9 -2.3,5.7 -2.8,5.4 -3.3,5.1 -3.7,4.8 M546.9,561.3l-6.2-.1 -6.2-.5 -6-1 -5.9-1.5 -5.6-1.9 -5.5-2.4 -5.1-2.9 -4.8-3.2 -4.6-3.2 -4.4-3.2 -4.1-3.3 -3.9-3.5 -3.7-3.6 -3.4-3.8 -3.2-3.8 -3-3.9 -2.8-4 -2.7-4 -2.4-4.1 -2.1-4.2 -1.9-4.2 -1.6-4.4 -1.4-4.4 -1.1-4.4 -1-4.5 -.7-4.4 -.6-4.5 -.4-4.5 -.3-4.5 -.1-4.5 0-4.5 .3-4.6 .5-4.6 .8-4.5 1-4.6 1.3-4.5 1.6-4.5 1.8-4.4 2-4.4 2.2-4.4 2.5-4.2 2.8-4.2 3.1-4 3.4-3.7 3.8-3.3 4.2-3 4.4-2.6 4.5-2.3 4.7-2 4.8-1.7 5-1.4 5-1.1 5-.8 5.1-.6 5.2-.4 5.2-.3 5.2-.1 5.3,.2 5.4,.4 5.3,.9 5.3,1.2 5.2,1.6 5.1,2 5.1,2.3 4.9,2.6 4.8,2.9 4.5,3.4 4.3,3.7 3.9,4.1 3.4,4.4 3.1,4.8 2.7,4.9 2.3,5.1 2,5.3 1.6,5.3 1.3,5.4 1.1,5.5 .8,5.4 .7,5.5 .7,5.5 .5,5.5 .4,5.6 0,5.7 -.4,5.7 -.8,5.7 -1.1,5.7 -1.5,5.6 -1.8,5.6 -2.1,5.5 M465.9,510.8l-.7-4.1 -.5-4 -.5-3.8 -.4-3.7 -.4-3.5 -.5-3.4 -.5-3.4 -.4-3.2 -.3-3.3 -.2-3.2 -.2-3.2 -.1-3.2 .1-3.1 .2-3.2 .4-3.1 .4-3.1 .6-3 .8-3 .9-3 1-2.9 1.1-2.9 1.2-2.8 1.4-2.7 1.4-2.7 1.6-2.6 1.7-2.5 1.7-2.5 1.9-2.4 2-2.3 2.1-2.1 2.3-2.1 2.3-2 2.4-1.8 2.4-1.8 2.6-1.6 2.6-1.5 2.7-1.4 2.8-1.2 2.8-1.1 2.9-1 2.9-.9 2.9-.7 3-.6 3-.4 3-.4 3.1-.1 3-.1 3.1,.1 3,.2 3.1,.4 3,.5 3,.6 3.1,.6 3,.6 3.1,.8 3.1,.8 3.1,1 3.2,1.1 3.1,1.2 3,1.4 3.1,1.6 3,1.7 3,1.8 3,1.9 3,2.1 2.9,2.2 2.9,2.4 2.8,2.6 2.7,2.8 2.6,2.9 2.3,3.2 2.2,3.3 2,3.4 1.9,3.6 1.7,3.7 1.5,3.9 1.4,4 1.1,4 1,4.2 .8,4.3 .6,4.3 .3,4.4 .2,4.5 -.1,4.5 -.4,4.5 -.6,4.6 -.8,4.6 -1.1,4.5 -1.3,4.5" fill="none" stroke="#3cc8ff" stroke-width="4" opacity="0.65" filter="url(#blur1)"/>
<path d="M546.9,561.3l-6,1.6 -6.1,1.2 -6.2,.7 -6.2,.3 -6.3-.2 -6.2-.6 -6.2-1 -6.1-1.4 -6-1.9 -5.9-2.2 -5.8-2.7 -5.5-3 -5.2-3.5 -4.9-3.9 -4.7-4.2 -4.3-4.5 -4-4.8 -3.7-4.9 -3.5-5.1 -3.3-5.2 -2.9-5.4 -2.6-5.5 -2.3-5.7 -1.9-5.8 -1.6-5.9 -1.2-6 -.8-6 -.5-6.1 -.1-6 .4-6.1 .7-6 1.1-5.9 1.4-5.9 1.8-5.7 2.2-5.6 2.5-5.4 2.8-5.3 3-5.1 3.4-4.9 3.7-4.7 3.9-4.4 4.2-4.2 4.4-3.9 4.6-3.6 4.9-3.4 5-3.1 5.2-2.8 5.3-2.5 5.4-2.3 5.5-2 5.6-1.7 5.8-1.4 5.8-1 5.9-.5 6-.1 5.9,.3 5.9,.7 5.8,1 5.8,1.4 5.6,1.7 5.6,2 5.4,2.4 5.3,2.7 5.1,3 4.9,3.3 4.7,3.6 4.4,3.9 4.2,4.2 4,4.4 3.7,4.6 3.4,4.8 3.2,5 3.1,5.1 2.8,5.3 2.6,5.4 2.2,5.6 1.8,5.8 1.4,5.9 .9,6 .5,6.1 .1,6.1 -.3,6.1 -.7,6.1 -1.1,6 -1.5,5.9 -2.3,5.7 -2.8,5.4 -3.3,5.1 -3.7,4.8 M546.9,561.3l-6.2-.1 -6.2-.5 -6-1 -5.9-1.5 -5.6-1.9 -5.5-2.4 -5.1-2.9 -4.8-3.2 -4.6-3.2 -4.4-3.2 -4.1-3.3 -3.9-3.5 -3.7-3.6 -3.4-3.8 -3.2-3.8 -3-3.9 -2.8-4 -2.7-4 -2.4-4.1 -2.1-4.2 -1.9-4.2 -1.6-4.4 -1.4-4.4 -1.1-4.4 -1-4.5 -.7-4.4 -.6-4.5 -.4-4.5 -.3-4.5 -.1-4.5 0-4.5 .3-4.6 .5-4.6 .8-4.5 1-4.6 1.3-4.5 1.6-4.5 1.8-4.4 2-4.4 2.2-4.4 2.5-4.2 2.8-4.2 3.1-4 3.4-3.7 3.8-3.3 4.2-3 4.4-2.6 4.5-2.3 4.7-2 4.8-1.7 5-1.4 5-1.1 5-.8 5.1-.6 5.2-.4 5.2-.3 5.2-.1 5.3,.2 5.4,.4 5.3,.9 5.3,1.2 5.2,1.6 5.1,2 5.1,2.3 4.9,2.6 4.8,2.9 4.5,3.4 4.3,3.7 3.9,4.1 3.4,4.4 3.1,4.8 2.7,4.9 2.3,5.1 2,5.3 1.6,5.3 1.3,5.4 1.1,5.5 .8,5.4 .7,5.5 .7,5.5 .5,5.5 .4,5.6 0,5.7 -.4,5.7 -.8,5.7 -1.1,5.7 -1.5,5.6 -1.8,5.6 -2.1,5.5 M465.9,510.8l-.7-4.1 -.5-4 -.5-3.8 -.4-3.7 -.4-3.5 -.5-3.4 -.5-3.4 -.4-3.2 -.3-3.3 -.2-3.2 -.2-3.2 -.1-3.2 .1-3.1 .2-3.2 .4-3.1 .4-3.1 .6-3 .8-3 .9-3 1-2.9 1.1-2.9 1.2-2.8 1.4-2.7 1.4-2.7 1.6-2.6 1.7-2.5 1.7-2.5 1.9-2.4 2-2.3 2.1-2.1 2.3-2.1 2.3-2 2.4-1.8 2.4-1.8 2.6-1.6 2.6-1.5 2.7-1.4 2.8-1.2 2.8-1.1 2.9-1 2.9-.9 2.9-.7 3-.6 3-.4 3-.4 3.1-.1 3-.1 3.1,.1 3,.2 3.1,.4 3,.5 3,.6 3.1,.6 3,.6 3.1,.8 3.1,.8 3.1,1 3.2,1.1 3.1,1.2 3,1.4 3.1,1.6 3,1.7 3,1.8 3,1.9 3,2.1 2.9,2.2 2.9,2.4 2.8,2.6 2.7,2.8 2.6,2.9 2.3,3.2 2.2,3.3 2,3.4 1.9,3.6 1.7,3.7 1.5,3.9 1.4,4 1.1,4 1,4.2 .8,4.3 .6,4.3 .3,4.4 .2,4.5 -.1,4.5 -.4,4.5 -.6,4.6 -.8,4.6 -1.1,4.5 -1.3,4.5" fill="none" stroke="#60fff0" stroke-width="2.1"/>
<path d="M522.4,565.1l-5.1-.1 -5.2-.4 -5.1-.7 -5.2-1 -5-1.3 -5-1.5 -4.8-1.8 -4.8-2.1 -4.7-2.3 -4.5-2.7 -4.2-2.9 -4.1-3.3 -3.9-3.4 -3.6-3.6 -3.5-3.9 -3.2-3.9 -3.1-4.1 -2.9-4.2 -2.7-4.3 -2.6-4.4 -2.3-4.5 -2.1-4.6 -1.8-4.7 -1.6-4.8 -1.4-4.9 -1.1-4.9 -.9-4.9 -.6-5 -.4-5 -.1-5 .2-5 .4-5 .7-5 1-4.9 1.2-4.8 1.4-4.7 1.7-4.7 1.9-4.6 2.2-4.4 M618.1,429.5l.9,1.9 .8,2 .8,1.9 .7,2 .7,2 .6,2.1 .6,2 .5,2.1 .4,2.1 .4,2.1 .3,2.1 .3,2.1 .2,2.2 .2,2.1 .1,2.1 .1,2.2 0,2.1 0,2.2 0,2.1 -.2,2.1 -.1,2.2 -.2,2.1 -.3,2.1 -.3,2.2 -.4,2.1 -.4,2.1 -.5,2.1 -.5,2.1 -.6,2 -.7,2.1 -.7,2 -.9,1.9 -.9,2 -1,1.9 -1.1,1.8 -1.1,1.9 -1.2,1.7 -1.2,1.8 -1.3,1.7 M570.9,385.2l1.9,.9 1.8,.8 1.8,.9 1.8,1 1.8,1 1.7,1.1 1.7,1.1 1.7,1.1 1.7,1.3 1.6,1.2 1.6,1.3 1.6,1.4 1.5,1.4 1.5,1.5 1.4,1.5 1.3,1.5 1.3,1.7 1.2,1.6 1.2,1.7 1.2,1.7 1,1.8 1.1,1.8 .9,1.8 1,1.8 .8,1.9 .9,1.9 .7,1.9 .8,1.9 .6,1.9 .7,2 .6,1.9 .5,2 .5,2 .5,1.9 .5,2 .4,2 .3,2 .4,2 .3,2 M559,405.8l1.3,.4 1.3,.5 1.3,.5 1.3,.5 1.3,.5 1.3,.6 1.2,.5 1.3,.7 1.3,.6 1.2,.7 1.2,.7 1.3,.7 1.2,.8 1.3,.7 1.2,.8 1.3,.8 1.2,.8 1.3,.9 1.2,.8 1.3,.9 1.2,.9 1.2,1 1.2,1 1.2,1 1.2,1 1.2,1.1 1.1,1.1 1.1,1.2 1.1,1.1 1.1,1.2 1,1.3 1,1.3 1,1.3 .9,1.3 1,1.4 .9,1.3 .8,1.5 .9,1.4 .8,1.4" fill="none" stroke="#f0e040" stroke-width="2.4" stroke-linecap="round" opacity="0.8"/>
<path d="M522.4,565.1l-5.1-.1 -5.2-.4 -5.1-.7 -5.2-1 -5-1.3 -5-1.5 -4.8-1.8 -4.8-2.1 -4.7-2.3 -4.5-2.7 -4.2-2.9 -4.1-3.3 -3.9-3.4 -3.6-3.6 -3.5-3.9 -3.2-3.9 -3.1-4.1 -2.9-4.2 -2.7-4.3 -2.6-4.4 -2.3-4.5 -2.1-4.6 -1.8-4.7 -1.6-4.8 -1.4-4.9 -1.1-4.9 -.9-4.9 -.6-5 -.4-5 -.1-5 .2-5 .4-5 .7-5 1-4.9 1.2-4.8 1.4-4.7 1.7-4.7 1.9-4.6 2.2-4.4 M618.1,429.5l.9,1.9 .8,2 .8,1.9 .7,2 .7,2 .6,2.1 .6,2 .5,2.1 .4,2.1 .4,2.1 .3,2.1 .3,2.1 .2,2.2 .2,2.1 .1,2.1 .1,2.2 0,2.1 0,2.2 0,2.1 -.2,2.1 -.1,2.2 -.2,2.1 -.3,2.1 -.3,2.2 -.4,2.1 -.4,2.1 -.5,2.1 -.5,2.1 -.6,2 -.7,2.1 -.7,2 -.9,1.9 -.9,2 -1,1.9 -1.1,1.8 -1.1,1.9 -1.2,1.7 -1.2,1.8 -1.3,1.7 M570.9,385.2l1.9,.9 1.8,.8 1.8,.9 1.8,1 1.8,1 1.7,1.1 1.7,1.1 1.7,1.1 1.7,1.3 1.6,1.2 1.6,1.3 1.6,1.4 1.5,1.4 1.5,1.5 1.4,1.5 1.3,1.5 1.3,1.7 1.2,1.6 1.2,1.7 1.2,1.7 1,1.8 1.1,1.8 .9,1.8 1,1.8 .8,1.9 .9,1.9 .7,1.9 .8,1.9 .6,1.9 .7,2 .6,1.9 .5,2 .5,2 .5,1.9 .5,2 .4,2 .3,2 .4,2 .3,2 M559,405.8l1.3,.4 1.3,.5 1.3,.5 1.3,.5 1.3,.5 1.3,.6 1.2,.5 1.3,.7 1.3,.6 1.2,.7 1.2,.7 1.3,.7 1.2,.8 1.3,.7 1.2,.8 1.3,.8 1.2,.8 1.3,.9 1.2,.8 1.3,.9 1.2,.9 1.2,1 1.2,1 1.2,1 1.2,1 1.2,1.1 1.1,1.1 1.1,1.2 1.1,1.1 1.1,1.2 1,1.3 1,1.3 1,1.3 .9,1.3 1,1.4 .9,1.3 .8,1.5 .9,1.4 .8,1.4" fill="none" stroke="#c41408" stroke-width="1.6" stroke-linecap="round"/>
<ellipse cx="543.0" cy="561.0" rx="6" ry="3.6" transform="rotate(-5 543.0 561.0)" fill="#b81008" stroke="#f0d040" stroke-width="1.2"/>
<ellipse cx="609.5" cy="508.5" rx="3.4" ry="6" transform="rotate(25 609.5 508.5)" fill="#b81008" stroke="#f0d040" stroke-width="1.2"/>
</g>
<rect x="419.4" y="351.5" width="21.2" height="45.3" fill="#1e0ed2" stroke="none" stroke-width="1" />
<text x="544.0" y="584.0" font-family="'Liberation Serif', 'Times New Roman', serif" font-size="16.5" font-weight="bold" font-style="normal" fill="#fff" text-anchor="start" ><tspan font-style="italic">G</tspan> = 2.5 nm</text>
<clipPath id="mapC"><rect x="646.9" y="357.2" width="215.89999999999998" height="233.59999999999997"/></clipPath>
<rect x="646.9" y="357.2" width="215.9" height="233.6" fill="#2212f4" stroke="none" stroke-width="1" />
<g clip-path="url(#mapC)">
<rect x="646.9" y="357.2" width="215.89999999999998" height="233.59999999999997" fill="url(#mapdark)"/>
<path d="M680.4,419l-1.4,2.3 -1.3,2.3 -1.4,2.4 -1.3,2.4 -1.2,2.4 -1.2,2.4 -1.1,2.5 -1.1,2.5 -.9,2.5 -1,2.6 -.8,2.6 -.7,2.7 -.7,2.6 -.5,2.7 -.5,2.8 -.4,2.7 -.3,2.7 -.2,2.8 -.1,2.7 0,2.8 0,2.7 .1,2.8 .2,2.8 .2,2.7 .4,2.7 .4,2.8 .5,2.7 .6,2.7 .6,2.7 .8,2.6 1,2.6 1.1,2.6 1.1,2.5 1.3,2.4 1.4,2.4 1.5,2.3 1.6,2.3 1.6,2.2 1.7,2.1" fill="none" stroke="#70d8ff" stroke-width="8" opacity="0.8" filter="url(#blur4)"/>
<path d="M746.1,567.3l6,1.6 6.1,1.2 6.2,.7 6.2,.3 6.3-.2 6.2-.6 6.2-1 6.1-1.4 6-1.9 5.9-2.2 5.8-2.7 5.5-3 5.2-3.5 4.9-3.9 4.7-4.2 4.3-4.5 4-4.8 3.7-4.9 3.5-5.1 3.3-5.2 2.9-5.4 2.6-5.5 2.3-5.7 1.9-5.8 1.6-5.9 1.2-6 .8-6 .5-6.1 .1-6 -.4-6.1 -.7-6 -1.1-5.9 -1.4-5.9 -1.8-5.7 -2.2-5.6 -2.5-5.4 -2.8-5.3 -3-5.1 -3.4-4.9 -3.7-4.7 -3.9-4.4 -4.2-4.2 -4.4-3.9 -4.6-3.6 -4.9-3.4 -5-3.1 -5.2-2.8 -5.3-2.5 -5.4-2.3 -5.5-2 -5.6-1.7 -5.8-1.4 -5.8-1 -5.9-.5 -6-.1 -5.9,.3 -5.9,.7 -5.8,1 -5.8,1.4 -5.6,1.7 -5.6,2 -5.4,2.4 -5.3,2.7 -5.1,3 -4.9,3.3 -4.7,3.6 -4.4,3.9 -4.2,4.2 -4,4.4 -3.7,4.6 -3.4,4.8 -3.2,5 -3.1,5.1 -2.8,5.3 -2.6,5.4 -2.2,5.6 -1.8,5.8 -1.4,5.9 -.9,6 -.5,6.1 -.1,6.1 .3,6.1 .7,6.1 1.1,6 1.5,5.9 2.3,5.7 2.8,5.4 3.3,5.1 3.7,4.8 M746.1,567.3l6.2-.1 6.2-.5 6-1 5.9-1.5 5.6-1.9 5.5-2.4 5.1-2.9 4.8-3.2 4.6-3.2 4.4-3.2 4.1-3.3 3.9-3.5 3.7-3.6 3.4-3.8 3.2-3.8 3-3.9 2.8-4 2.7-4 2.4-4.1 2.1-4.2 1.9-4.2 1.6-4.4 1.4-4.4 1.1-4.4 1-4.5 .7-4.4 .6-4.5 .4-4.5 .3-4.5 .1-4.5 0-4.5 -.3-4.6 -.5-4.6 -.8-4.5 -1-4.6 -1.3-4.5 -1.6-4.5 -1.8-4.4 -2-4.4 -2.2-4.4 -2.5-4.2 -2.8-4.2 -3.1-4 -3.4-3.7 -3.8-3.3 -4.2-3 -4.4-2.6 -4.5-2.3 -4.7-2 -4.8-1.7 -5-1.4 -5-1.1 -5-.8 -5.1-.6 -5.2-.4 -5.2-.3 -5.2-.1 -5.3,.2 -5.4,.4 -5.3,.9 -5.3,1.2 -5.2,1.6 -5.1,2 -5.1,2.3 -4.9,2.6 -4.8,2.9 -4.5,3.4 -4.3,3.7 -3.9,4.1 -3.4,4.4 -3.1,4.8 -2.7,4.9 -2.3,5.1 -2,5.3 -1.6,5.3 -1.3,5.4 -1.1,5.5 -.8,5.4 -.7,5.5 -.7,5.5 -.5,5.5 -.4,5.6 0,5.7 .4,5.7 .8,5.7 1.1,5.7 1.5,5.6 1.8,5.6 2.1,5.5 M827.1,516.8l.7-4.1 .5-4 .5-3.8 .4-3.7 .4-3.5 .5-3.4 .5-3.4 .4-3.2 .3-3.3 .2-3.2 .2-3.2 .1-3.2 -.1-3.1 -.2-3.2 -.4-3.1 -.4-3.1 -.6-3 -.8-3 -.9-3 -1-2.9 -1.1-2.9 -1.2-2.8 -1.4-2.7 -1.4-2.7 -1.6-2.6 -1.7-2.5 -1.7-2.5 -1.9-2.4 -2-2.3 -2.1-2.1 -2.3-2.1 -2.3-2 -2.4-1.8 -2.4-1.8 -2.6-1.6 -2.6-1.5 -2.7-1.4 -2.8-1.2 -2.8-1.1 -2.9-1 -2.9-.9 -2.9-.7 -3-.6 -3-.4 -3-.4 -3.1-.1 -3-.1 -3.1,.1 -3,.2 -3.1,.4 -3,.5 -3,.6 -3.1,.6 -3,.6 -3.1,.8 -3.1,.8 -3.1,1 -3.2,1.1 -3.1,1.2 -3,1.4 -3.1,1.6 -3,1.7 -3,1.8 -3,1.9 -3,2.1 -2.9,2.2 -2.9,2.4 -2.8,2.6 -2.7,2.8 -2.6,2.9 -2.3,3.2 -2.2,3.3 -2,3.4 -1.9,3.6 -1.7,3.7 -1.5,3.9 -1.4,4 -1.1,4 -1,4.2 -.8,4.3 -.6,4.3 -.3,4.4 -.2,4.5 .1,4.5 .4,4.5 .6,4.6 .8,4.6 1.1,4.5 1.3,4.5" fill="none" stroke="#3cc8ff" stroke-width="4" opacity="0.65" filter="url(#blur1)"/>
<path d="M746.1,567.3l6,1.6 6.1,1.2 6.2,.7 6.2,.3 6.3-.2 6.2-.6 6.2-1 6.1-1.4 6-1.9 5.9-2.2 5.8-2.7 5.5-3 5.2-3.5 4.9-3.9 4.7-4.2 4.3-4.5 4-4.8 3.7-4.9 3.5-5.1 3.3-5.2 2.9-5.4 2.6-5.5 2.3-5.7 1.9-5.8 1.6-5.9 1.2-6 .8-6 .5-6.1 .1-6 -.4-6.1 -.7-6 -1.1-5.9 -1.4-5.9 -1.8-5.7 -2.2-5.6 -2.5-5.4 -2.8-5.3 -3-5.1 -3.4-4.9 -3.7-4.7 -3.9-4.4 -4.2-4.2 -4.4-3.9 -4.6-3.6 -4.9-3.4 -5-3.1 -5.2-2.8 -5.3-2.5 -5.4-2.3 -5.5-2 -5.6-1.7 -5.8-1.4 -5.8-1 -5.9-.5 -6-.1 -5.9,.3 -5.9,.7 -5.8,1 -5.8,1.4 -5.6,1.7 -5.6,2 -5.4,2.4 -5.3,2.7 -5.1,3 -4.9,3.3 -4.7,3.6 -4.4,3.9 -4.2,4.2 -4,4.4 -3.7,4.6 -3.4,4.8 -3.2,5 -3.1,5.1 -2.8,5.3 -2.6,5.4 -2.2,5.6 -1.8,5.8 -1.4,5.9 -.9,6 -.5,6.1 -.1,6.1 .3,6.1 .7,6.1 1.1,6 1.5,5.9 2.3,5.7 2.8,5.4 3.3,5.1 3.7,4.8 M746.1,567.3l6.2-.1 6.2-.5 6-1 5.9-1.5 5.6-1.9 5.5-2.4 5.1-2.9 4.8-3.2 4.6-3.2 4.4-3.2 4.1-3.3 3.9-3.5 3.7-3.6 3.4-3.8 3.2-3.8 3-3.9 2.8-4 2.7-4 2.4-4.1 2.1-4.2 1.9-4.2 1.6-4.4 1.4-4.4 1.1-4.4 1-4.5 .7-4.4 .6-4.5 .4-4.5 .3-4.5 .1-4.5 0-4.5 -.3-4.6 -.5-4.6 -.8-4.5 -1-4.6 -1.3-4.5 -1.6-4.5 -1.8-4.4 -2-4.4 -2.2-4.4 -2.5-4.2 -2.8-4.2 -3.1-4 -3.4-3.7 -3.8-3.3 -4.2-3 -4.4-2.6 -4.5-2.3 -4.7-2 -4.8-1.7 -5-1.4 -5-1.1 -5-.8 -5.1-.6 -5.2-.4 -5.2-.3 -5.2-.1 -5.3,.2 -5.4,.4 -5.3,.9 -5.3,1.2 -5.2,1.6 -5.1,2 -5.1,2.3 -4.9,2.6 -4.8,2.9 -4.5,3.4 -4.3,3.7 -3.9,4.1 -3.4,4.4 -3.1,4.8 -2.7,4.9 -2.3,5.1 -2,5.3 -1.6,5.3 -1.3,5.4 -1.1,5.5 -.8,5.4 -.7,5.5 -.7,5.5 -.5,5.5 -.4,5.6 0,5.7 .4,5.7 .8,5.7 1.1,5.7 1.5,5.6 1.8,5.6 2.1,5.5 M827.1,516.8l.7-4.1 .5-4 .5-3.8 .4-3.7 .4-3.5 .5-3.4 .5-3.4 .4-3.2 .3-3.3 .2-3.2 .2-3.2 .1-3.2 -.1-3.1 -.2-3.2 -.4-3.1 -.4-3.1 -.6-3 -.8-3 -.9-3 -1-2.9 -1.1-2.9 -1.2-2.8 -1.4-2.7 -1.4-2.7 -1.6-2.6 -1.7-2.5 -1.7-2.5 -1.9-2.4 -2-2.3 -2.1-2.1 -2.3-2.1 -2.3-2 -2.4-1.8 -2.4-1.8 -2.6-1.6 -2.6-1.5 -2.7-1.4 -2.8-1.2 -2.8-1.1 -2.9-1 -2.9-.9 -2.9-.7 -3-.6 -3-.4 -3-.4 -3.1-.1 -3-.1 -3.1,.1 -3,.2 -3.1,.4 -3,.5 -3,.6 -3.1,.6 -3,.6 -3.1,.8 -3.1,.8 -3.1,1 -3.2,1.1 -3.1,1.2 -3,1.4 -3.1,1.6 -3,1.7 -3,1.8 -3,1.9 -3,2.1 -2.9,2.2 -2.9,2.4 -2.8,2.6 -2.7,2.8 -2.6,2.9 -2.3,3.2 -2.2,3.3 -2,3.4 -1.9,3.6 -1.7,3.7 -1.5,3.9 -1.4,4 -1.1,4 -1,4.2 -.8,4.3 -.6,4.3 -.3,4.4 -.2,4.5 .1,4.5 .4,4.5 .6,4.6 .8,4.6 1.1,4.5 1.3,4.5" fill="none" stroke="#60fff0" stroke-width="2.1"/>
<path d="M671.7,443.5l-.6,1.8 -.6,1.8 -.5,1.8 -.5,1.9 -.4,1.8 -.4,1.9 -.3,1.9 -.3,1.9 -.2,1.9 -.2,1.9 -.2,1.9 -.1,1.9 -.1,1.9 0,2 0,1.9 0,1.9 .1,1.9 .1,1.9 .1,2 .2,1.9 .3,1.9 .2,1.9 .4,1.9 .3,1.9 .4,1.9 .4,1.8 .5,1.9 .6,1.8 .6,1.9 .7,1.7 .7,1.8 .9,1.8 .8,1.7 1,1.6 .9,1.7 1.1,1.6 1,1.6 1.1,1.6 1.2,1.5 M687.4,423l-.6,1.1 -.5,1.2 -.5,1.1 -.5,1.1 -.5,1.1 -.4,1.2 -.5,1.1 -.4,1.2 -.4,1.1 -.4,1.2 -.4,1.2 -.3,1.1 -.4,1.2 -.3,1.2 -.3,1.2 -.3,1.2 -.3,1.1 -.3,1.2 -.3,1.2 -.2,1.2 -.3,1.2 -.2,1.2 -.2,1.2 -.2,1.2 -.2,1.2 -.2,1.2 -.2,1.2 -.1,1.2 -.2,1.2 -.1,1.2 -.2,1.2 -.1,1.2 -.2,1.2 -.1,1.2 -.2,1.2 -.1,1.2 -.2,1.2 -.1,1.2 -.1,1.2" fill="none" stroke="#f0e040" stroke-width="2.4" stroke-linecap="round" opacity="0.8"/>
<path d="M671.7,443.5l-.6,1.8 -.6,1.8 -.5,1.8 -.5,1.9 -.4,1.8 -.4,1.9 -.3,1.9 -.3,1.9 -.2,1.9 -.2,1.9 -.2,1.9 -.1,1.9 -.1,1.9 0,2 0,1.9 0,1.9 .1,1.9 .1,1.9 .1,2 .2,1.9 .3,1.9 .2,1.9 .4,1.9 .3,1.9 .4,1.9 .4,1.8 .5,1.9 .6,1.8 .6,1.9 .7,1.7 .7,1.8 .9,1.8 .8,1.7 1,1.6 .9,1.7 1.1,1.6 1,1.6 1.1,1.6 1.2,1.5 M687.4,423l-.6,1.1 -.5,1.2 -.5,1.1 -.5,1.1 -.5,1.1 -.4,1.2 -.5,1.1 -.4,1.2 -.4,1.1 -.4,1.2 -.4,1.2 -.3,1.1 -.4,1.2 -.3,1.2 -.3,1.2 -.3,1.2 -.3,1.1 -.3,1.2 -.3,1.2 -.2,1.2 -.3,1.2 -.2,1.2 -.2,1.2 -.2,1.2 -.2,1.2 -.2,1.2 -.2,1.2 -.1,1.2 -.2,1.2 -.1,1.2 -.2,1.2 -.1,1.2 -.2,1.2 -.1,1.2 -.2,1.2 -.1,1.2 -.2,1.2 -.1,1.2 -.1,1.2" fill="none" stroke="#c41408" stroke-width="1.6" stroke-linecap="round"/>
<ellipse cx="684.0" cy="513.0" rx="4" ry="7" transform="rotate(-25 684.0 513.0)" fill="#b81008" stroke="#f0d040" stroke-width="1.2"/>
<ellipse cx="746.0" cy="567.0" rx="4.5" ry="2.8" transform="rotate(5 746.0 567.0)" fill="#b81008" stroke="#f0d040" stroke-width="1.2"/>
</g>
<rect x="652.8" y="347.7" width="20.7" height="46.0" fill="#1e0ed2" stroke="none" stroke-width="1" />
<text x="652.0" y="583.7" font-family="'Liberation Serif', 'Times New Roman', serif" font-size="16.5" font-weight="bold" font-style="normal" fill="#fff" text-anchor="start" ><tspan font-style="italic">G</tspan> = 2.5 nm</text>
<clipPath id="mapE"><rect x="414.2" y="624.6" width="214.59999999999997" height="232.10000000000002"/></clipPath>
<rect x="414.2" y="624.6" width="214.6" height="232.1" fill="#2212f4" stroke="none" stroke-width="1" />
<g clip-path="url(#mapE)">
<rect x="414.2" y="624.6" width="214.59999999999997" height="232.10000000000002" fill="url(#mapdark)"/>
<path d="M538.5,835.1l-6.1,1 -6.2,.7 -6.3,.3 -6.3-.2 -6.2-.6 -6.2-1.1 -6.1-1.4 -6.1-1.8 -5.9-2.2 -5.7-2.6 -5.6-3 -5.3-3.4 -5-3.8 -4.7-4.2 -4.4-4.4 -4.1-4.7 -3.9-4.9 -3.6-5 -3.3-5.2 -3.1-5.3 -2.7-5.5 -2.5-5.6 -2.1-5.8 -1.7-5.8 -1.4-6 -1.1-6 -.7-6 -.3-6.1 .1-6.1 .5-6 .8-6 1.2-6 1.5-5.8 1.9-5.7 2.2-5.6 2.6-5.4 2.8-5.3 3.1-5.1 3.4-4.9" fill="none" stroke="#70d8ff" stroke-width="12" opacity="0.8" filter="url(#blur4)"/>
<path d="M492.8,677.9l2.2-1.2 2.2-1.1 2.3-1 2.4-.9 2.3-.9 2.4-.8 2.5-.6 2.4-.6 2.5-.5 2.5-.4 2.5-.3 2.5-.2 2.5-.2 2.5,0 2.6,.1 2.5,.1 2.5,.3 2.5,.3 2.6,.5 2.5,.5 2.5,.5 2.5,.5 2.6,.6 2.6,.7 2.5,.7 2.6,.8 2.6,.9 2.6,1 2.6,1.1 2.5,1.2 2.5,1.3 2.5,1.4 2.5,1.5 2.5,1.6 2.5,1.7 2.5,1.7 2.4,1.9 2.4,2 2.4,2.1" fill="none" stroke="#70d8ff" stroke-width="8" opacity="0.8" filter="url(#blur4)"/>
<path d="M544.9,830.3l-6,1.6 -6.1,1.2 -6.2,.7 -6.2,.3 -6.3-.2 -6.2-.6 -6.2-1 -6.1-1.4 -6-1.9 -5.9-2.2 -5.8-2.7 -5.5-3 -5.2-3.5 -4.9-3.9 -4.7-4.2 -4.3-4.5 -4-4.8 -3.7-4.9 -3.5-5.1 -3.3-5.2 -2.9-5.4 -2.6-5.5 -2.3-5.7 -1.9-5.8 -1.6-5.9 -1.2-6 -.8-6 -.5-6.1 -.1-6 .4-6.1 .7-6 1.1-5.9 1.4-5.9 1.8-5.7 2.2-5.6 2.5-5.4 2.8-5.3 3-5.1 3.4-4.9 3.7-4.7 3.9-4.4 4.2-4.2 4.4-3.9 4.6-3.6 4.9-3.4 5-3.1 5.2-2.8 5.3-2.5 5.4-2.3 5.5-2 5.6-1.7 5.8-1.4 5.8-1 5.9-.5 6-.1 5.9,.3 5.9,.7 5.8,1 5.8,1.4 5.6,1.7 5.6,2 5.4,2.4 5.3,2.7 5.1,3 4.9,3.3 4.7,3.6 4.4,3.9 4.2,4.2 4,4.4 3.7,4.6 3.4,4.8 3.2,5 3.1,5.1 2.8,5.3 2.6,5.4 2.2,5.6 1.8,5.8 1.4,5.9 .9,6 .5,6.1 .1,6.1 -.3,6.1 -.7,6.1 -1.1,6 -1.5,5.9 -2.3,5.7 -2.8,5.4 -3.3,5.1 -3.7,4.8 M544.9,830.3l-6.2-.1 -6.2-.5 -6-1 -5.9-1.5 -5.6-1.9 -5.5-2.4 -5.1-2.9 -4.8-3.2 -4.6-3.2 -4.4-3.2 -4.1-3.3 -3.9-3.5 -3.7-3.6 -3.4-3.8 -3.2-3.8 -3-3.9 -2.8-4 -2.7-4 -2.4-4.1 -2.1-4.2 -1.9-4.2 -1.6-4.4 -1.4-4.4 -1.1-4.4 -1-4.5 -.7-4.4 -.6-4.5 -.4-4.5 -.3-4.5 -.1-4.5 0-4.5 .3-4.6 .5-4.6 .8-4.5 1-4.6 1.3-4.5 1.6-4.5 1.8-4.4 2-4.4 2.2-4.4 2.5-4.2 2.8-4.2 3.1-4 3.4-3.7 3.8-3.3 4.2-3 4.4-2.6 4.5-2.3 4.7-2 4.8-1.7 5-1.4 5-1.1 5-.8 5.1-.6 5.2-.4 5.2-.3 5.2-.1 5.3,.2 5.4,.4 5.3,.9 5.3,1.2 5.2,1.6 5.1,2 5.1,2.3 4.9,2.6 4.8,2.9 4.5,3.4 4.3,3.7 3.9,4.1 3.4,4.4 3.1,4.8 2.7,4.9 2.3,5.1 2,5.3 1.6,5.3 1.3,5.4 1.1,5.5 .8,5.4 .7,5.5 .7,5.5 .5,5.5 .4,5.6 0,5.7 -.4,5.7 -.8,5.7 -1.1,5.7 -1.5,5.6 -1.8,5.6 -2.1,5.5 M463.9,779.8l-.7-4.1 -.5-4 -.5-3.8 -.4-3.7 -.4-3.5 -.5-3.4 -.5-3.4 -.4-3.2 -.3-3.3 -.2-3.2 -.2-3.2 -.1-3.2 .1-3.1 .2-3.2 .4-3.1 .4-3.1 .6-3 .8-3 .9-3 1-2.9 1.1-2.9 1.2-2.8 1.4-2.7 1.4-2.7 1.6-2.6 1.7-2.5 1.7-2.5 1.9-2.4 2-2.3 2.1-2.1 2.3-2.1 2.3-2 2.4-1.8 2.4-1.8 2.6-1.6 2.6-1.5 2.7-1.4 2.8-1.2 2.8-1.1 2.9-1 2.9-.9 2.9-.7 3-.6 3-.4 3-.4 3.1-.1 3-.1 3.1,.1 3,.2 3.1,.4 3,.5 3,.6 3.1,.6 3,.6 3.1,.8 3.1,.8 3.1,1 3.2,1.1 3.1,1.2 3,1.4 3.1,1.6 3,1.7 3,1.8 3,1.9 3,2.1 2.9,2.2 2.9,2.4 2.8,2.6 2.7,2.8 2.6,2.9 2.3,3.2 2.2,3.3 2,3.4 1.9,3.6 1.7,3.7 1.5,3.9 1.4,4 1.1,4 1,4.2 .8,4.3 .6,4.3 .3,4.4 .2,4.5 -.1,4.5 -.4,4.5 -.6,4.6 -.8,4.6 -1.1,4.5 -1.3,4.5" fill="none" stroke="#3cc8ff" stroke-width="4" opacity="0.65" filter="url(#blur1)"/>
<path d="M544.9,830.3l-6,1.6 -6.1,1.2 -6.2,.7 -6.2,.3 -6.3-.2 -6.2-.6 -6.2-1 -6.1-1.4 -6-1.9 -5.9-2.2 -5.8-2.7 -5.5-3 -5.2-3.5 -4.9-3.9 -4.7-4.2 -4.3-4.5 -4-4.8 -3.7-4.9 -3.5-5.1 -3.3-5.2 -2.9-5.4 -2.6-5.5 -2.3-5.7 -1.9-5.8 -1.6-5.9 -1.2-6 -.8-6 -.5-6.1 -.1-6 .4-6.1 .7-6 1.1-5.9 1.4-5.9 1.8-5.7 2.2-5.6 2.5-5.4 2.8-5.3 3-5.1 3.4-4.9 3.7-4.7 3.9-4.4 4.2-4.2 4.4-3.9 4.6-3.6 4.9-3.4 5-3.1 5.2-2.8 5.3-2.5 5.4-2.3 5.5-2 5.6-1.7 5.8-1.4 5.8-1 5.9-.5 6-.1 5.9,.3 5.9,.7 5.8,1 5.8,1.4 5.6,1.7 5.6,2 5.4,2.4 5.3,2.7 5.1,3 4.9,3.3 4.7,3.6 4.4,3.9 4.2,4.2 4,4.4 3.7,4.6 3.4,4.8 3.2,5 3.1,5.1 2.8,5.3 2.6,5.4 2.2,5.6 1.8,5.8 1.4,5.9 .9,6 .5,6.1 .1,6.1 -.3,6.1 -.7,6.1 -1.1,6 -1.5,5.9 -2.3,5.7 -2.8,5.4 -3.3,5.1 -3.7,4.8 M544.9,830.3l-6.2-.1 -6.2-.5 -6-1 -5.9-1.5 -5.6-1.9 -5.5-2.4 -5.1-2.9 -4.8-3.2 -4.6-3.2 -4.4-3.2 -4.1-3.3 -3.9-3.5 -3.7-3.6 -3.4-3.8 -3.2-3.8 -3-3.9 -2.8-4 -2.7-4 -2.4-4.1 -2.1-4.2 -1.9-4.2 -1.6-4.4 -1.4-4.4 -1.1-4.4 -1-4.5 -.7-4.4 -.6-4.5 -.4-4.5 -.3-4.5 -.1-4.5 0-4.5 .3-4.6 .5-4.6 .8-4.5 1-4.6 1.3-4.5 1.6-4.5 1.8-4.4 2-4.4 2.2-4.4 2.5-4.2 2.8-4.2 3.1-4 3.4-3.7 3.8-3.3 4.2-3 4.4-2.6 4.5-2.3 4.7-2 4.8-1.7 5-1.4 5-1.1 5-.8 5.1-.6 5.2-.4 5.2-.3 5.2-.1 5.3,.2 5.4,.4 5.3,.9 5.3,1.2 5.2,1.6 5.1,2 5.1,2.3 4.9,2.6 4.8,2.9 4.5,3.4 4.3,3.7 3.9,4.1 3.4,4.4 3.1,4.8 2.7,4.9 2.3,5.1 2,5.3 1.6,5.3 1.3,5.4 1.1,5.5 .8,5.4 .7,5.5 .7,5.5 .5,5.5 .4,5.6 0,5.7 -.4,5.7 -.8,5.7 -1.1,5.7 -1.5,5.6 -1.8,5.6 -2.1,5.5 M463.9,779.8l-.7-4.1 -.5-4 -.5-3.8 -.4-3.7 -.4-3.5 -.5-3.4 -.5-3.4 -.4-3.2 -.3-3.3 -.2-3.2 -.2-3.2 -.1-3.2 .1-3.1 .2-3.2 .4-3.1 .4-3.1 .6-3 .8-3 .9-3 1-2.9 1.1-2.9 1.2-2.8 1.4-2.7 1.4-2.7 1.6-2.6 1.7-2.5 1.7-2.5 1.9-2.4 2-2.3 2.1-2.1 2.3-2.1 2.3-2 2.4-1.8 2.4-1.8 2.6-1.6 2.6-1.5 2.7-1.4 2.8-1.2 2.8-1.1 2.9-1 2.9-.9 2.9-.7 3-.6 3-.4 3-.4 3.1-.1 3-.1 3.1,.1 3,.2 3.1,.4 3,.5 3,.6 3.1,.6 3,.6 3.1,.8 3.1,.8 3.1,1 3.2,1.1 3.1,1.2 3,1.4 3.1,1.6 3,1.7 3,1.8 3,1.9 3,2.1 2.9,2.2 2.9,2.4 2.8,2.6 2.7,2.8 2.6,2.9 2.3,3.2 2.2,3.3 2,3.4 1.9,3.6 1.7,3.7 1.5,3.9 1.4,4 1.1,4 1,4.2 .8,4.3 .6,4.3 .3,4.4 .2,4.5 -.1,4.5 -.4,4.5 -.6,4.6 -.8,4.6 -1.1,4.5 -1.3,4.5" fill="none" stroke="#60fff0" stroke-width="2.1"/>
<path d="M527.6,833.7l-5.8,.3 -5.8,0 -5.9-.4 -5.7-.8 -5.8-1.2 -5.6-1.5 -5.6-1.8 -5.4-2.3 -5.3-2.5 -5-2.9 -4.9-3.3 -4.5-3.6 -4.3-3.9 -4.1-4.2 -3.8-4.3 -3.5-4.6 -3.3-4.7 -3.1-4.7 -2.9-5 -2.6-5.1 -2.3-5.2 -2-5.3 -1.7-5.4 -1.4-5.5 -1.1-5.5 -.7-5.6 -.5-5.6 -.1-5.7 .3-5.6 .5-5.6 .9-5.5 1.3-5.5 1.5-5.4 1.8-5.2 2.1-5.2 2.5-5 2.6-4.8 2.9-4.7 3.2-4.6 M598.1,669.8l1.9,2.3 1.8,2.3 1.7,2.4 1.7,2.4 1.6,2.5 1.6,2.5 1.5,2.5 1.5,2.6 1.4,2.6 1.4,2.6 1.3,2.7 1.3,2.7 1.1,2.8 1.1,2.8 1,2.8 .8,2.9 .8,3 .6,2.9 .5,3 .4,3 .3,3 .2,3 .1,3.1 0,3 -.1,3.1 -.2,3 -.2,3 -.4,3 -.5,3 -.6,3 -.7,3 -.8,2.9 -1,2.9 -1.2,2.8 -1.3,2.7 -1.5,2.7 -1.6,2.6 -1.7,2.5 -1.8,2.4 M450.7,738.4l-.4-5.2 -.1-5.3 .1-5.4 .4-5.3 .7-5.4 1-5.3 1.5-5.3 1.8-5.2 2.2-5.2 2.4-5.1 2.7-5.1 3.1-4.9 3.6-4.7 4-4.4 4.5-3.8 5-3.3 5.2-2.9 5.5-2.5 5.6-2 5.7-1.7 5.9-1.2 6-.9 6-.6 6-.4 6.2-.1 6.2,.2 6.2,.6 6.2,1.1 6.2,1.7 6,2.2 5.9,2.7 5.8,3 5.5,3.6 5.2,4 4.8,4.6 4.2,5.1 3.6,5.5 3.2,5.8 2.6,6.1 M507.8,671.7l2.5-.6 2.4-.6 2.5-.4 2.5-.4 2.5-.2 2.5-.2 2.6-.1 2.5,0 2.5,.1 2.6,.2 2.5,.4 2.5,.4 2.5,.4 2.5,.5 2.6,.5 2.5,.6 2.6,.6 2.6,.7 2.5,.8 2.6,.8 2.6,1 2.6,1 2.5,1.1 2.6,1.3 2.4,1.4 2.5,1.5 2.5,1.5 2.5,1.6 2.5,1.7 2.5,1.8 2.4,2 2.4,2 2.3,2.2 2.2,2.3 2.1,2.5 2,2.6 1.9,2.7 1.7,2.8 1.7,2.8" fill="none" stroke="#f0e040" stroke-width="2.4" stroke-linecap="round" opacity="0.8"/>
<path d="M527.6,833.7l-5.8,.3 -5.8,0 -5.9-.4 -5.7-.8 -5.8-1.2 -5.6-1.5 -5.6-1.8 -5.4-2.3 -5.3-2.5 -5-2.9 -4.9-3.3 -4.5-3.6 -4.3-3.9 -4.1-4.2 -3.8-4.3 -3.5-4.6 -3.3-4.7 -3.1-4.7 -2.9-5 -2.6-5.1 -2.3-5.2 -2-5.3 -1.7-5.4 -1.4-5.5 -1.1-5.5 -.7-5.6 -.5-5.6 -.1-5.7 .3-5.6 .5-5.6 .9-5.5 1.3-5.5 1.5-5.4 1.8-5.2 2.1-5.2 2.5-5 2.6-4.8 2.9-4.7 3.2-4.6 M598.1,669.8l1.9,2.3 1.8,2.3 1.7,2.4 1.7,2.4 1.6,2.5 1.6,2.5 1.5,2.5 1.5,2.6 1.4,2.6 1.4,2.6 1.3,2.7 1.3,2.7 1.1,2.8 1.1,2.8 1,2.8 .8,2.9 .8,3 .6,2.9 .5,3 .4,3 .3,3 .2,3 .1,3.1 0,3 -.1,3.1 -.2,3 -.2,3 -.4,3 -.5,3 -.6,3 -.7,3 -.8,2.9 -1,2.9 -1.2,2.8 -1.3,2.7 -1.5,2.7 -1.6,2.6 -1.7,2.5 -1.8,2.4 M450.7,738.4l-.4-5.2 -.1-5.3 .1-5.4 .4-5.3 .7-5.4 1-5.3 1.5-5.3 1.8-5.2 2.2-5.2 2.4-5.1 2.7-5.1 3.1-4.9 3.6-4.7 4-4.4 4.5-3.8 5-3.3 5.2-2.9 5.5-2.5 5.6-2 5.7-1.7 5.9-1.2 6-.9 6-.6 6-.4 6.2-.1 6.2,.2 6.2,.6 6.2,1.1 6.2,1.7 6,2.2 5.9,2.7 5.8,3 5.5,3.6 5.2,4 4.8,4.6 4.2,5.1 3.6,5.5 3.2,5.8 2.6,6.1 M507.8,671.7l2.5-.6 2.4-.6 2.5-.4 2.5-.4 2.5-.2 2.5-.2 2.6-.1 2.5,0 2.5,.1 2.6,.2 2.5,.4 2.5,.4 2.5,.4 2.5,.5 2.6,.5 2.5,.6 2.6,.6 2.6,.7 2.5,.8 2.6,.8 2.6,1 2.6,1 2.5,1.1 2.6,1.3 2.4,1.4 2.5,1.5 2.5,1.5 2.5,1.6 2.5,1.7 2.5,1.8 2.4,2 2.4,2 2.3,2.2 2.2,2.3 2.1,2.5 2,2.6 1.9,2.7 1.7,2.8 1.7,2.8" fill="none" stroke="#c41408" stroke-width="1.6" stroke-linecap="round"/>
<ellipse cx="539.0" cy="829.0" rx="9.5" ry="5" transform="rotate(-5 539.0 829.0)" fill="#b81008" stroke="#f0d040" stroke-width="1.2"/>
<ellipse cx="603.5" cy="777.0" rx="4.5" ry="8.5" transform="rotate(22 603.5 777.0)" fill="#b81008" stroke="#f0d040" stroke-width="1.2"/>
</g>
<text x="424.6" y="655.6" font-family="'Liberation Sans', Arial, sans-serif" font-size="25" font-weight="bold" font-style="normal" fill="#fff" text-anchor="start" >e</text>
<text x="557.7" y="845.6" font-family="'Liberation Serif', 'Times New Roman', serif" font-size="16.5" font-weight="bold" font-style="normal" fill="#fff" text-anchor="start" ><tspan font-style="italic">G</tspan> = 5 nm</text>
<clipPath id="mapF"><rect x="646.9" y="624.6" width="212.80000000000007" height="232.10000000000002"/></clipPath>
<rect x="646.9" y="624.6" width="212.8" height="232.1" fill="#2212f4" stroke="none" stroke-width="1" />
<g clip-path="url(#mapF)">
<rect x="646.9" y="624.6" width="212.80000000000007" height="232.10000000000002" fill="url(#mapdark)"/>
<path d="M675.4,682l-1.4,2.3 -1.3,2.3 -1.4,2.4 -1.3,2.4 -1.2,2.4 -1.2,2.4 -1.1,2.5 -1.1,2.5 -.9,2.5 -1,2.6 -.8,2.6 -.7,2.7 -.7,2.6 -.5,2.7 -.5,2.8 -.4,2.7 -.3,2.7 -.2,2.8 -.1,2.7 0,2.8 0,2.7 .1,2.8 .2,2.8 .2,2.7 .4,2.7 .4,2.8 .5,2.7 .6,2.7 .6,2.7 .8,2.6 1,2.6 1.1,2.6 1.1,2.5 1.3,2.4 1.4,2.4 1.5,2.3 1.6,2.3 1.6,2.2 1.7,2.1" fill="none" stroke="#70d8ff" stroke-width="8" opacity="0.8" filter="url(#blur4)"/>
<path d="M741.1,830.3l6,1.6 6.1,1.2 6.2,.7 6.2,.3 6.3-.2 6.2-.6 6.2-1 6.1-1.4 6-1.9 5.9-2.2 5.8-2.7 5.5-3 5.2-3.5 4.9-3.9 4.7-4.2 4.3-4.5 4-4.8 3.7-4.9 3.5-5.1 3.3-5.2 2.9-5.4 2.6-5.5 2.3-5.7 1.9-5.8 1.6-5.9 1.2-6 .8-6 .5-6.1 .1-6 -.4-6.1 -.7-6 -1.1-5.9 -1.4-5.9 -1.8-5.7 -2.2-5.6 -2.5-5.4 -2.8-5.3 -3-5.1 -3.4-4.9 -3.7-4.7 -3.9-4.4 -4.2-4.2 -4.4-3.9 -4.6-3.6 -4.9-3.4 -5-3.1 -5.2-2.8 -5.3-2.5 -5.4-2.3 -5.5-2 -5.6-1.7 -5.8-1.4 -5.8-1 -5.9-.5 -6-.1 -5.9,.3 -5.9,.7 -5.8,1 -5.8,1.4 -5.6,1.7 -5.6,2 -5.4,2.4 -5.3,2.7 -5.1,3 -4.9,3.3 -4.7,3.6 -4.4,3.9 -4.2,4.2 -4,4.4 -3.7,4.6 -3.4,4.8 -3.2,5 -3.1,5.1 -2.8,5.3 -2.6,5.4 -2.2,5.6 -1.8,5.8 -1.4,5.9 -.9,6 -.5,6.1 -.1,6.1 .3,6.1 .7,6.1 1.1,6 1.5,5.9 2.3,5.7 2.8,5.4 3.3,5.1 3.7,4.8 M741.1,830.3l6.2-.1 6.2-.5 6-1 5.9-1.5 5.6-1.9 5.5-2.4 5.1-2.9 4.8-3.2 4.6-3.2 4.4-3.2 4.1-3.3 3.9-3.5 3.7-3.6 3.4-3.8 3.2-3.8 3-3.9 2.8-4 2.7-4 2.4-4.1 2.1-4.2 1.9-4.2 1.6-4.4 1.4-4.4 1.1-4.4 1-4.5 .7-4.4 .6-4.5 .4-4.5 .3-4.5 .1-4.5 0-4.5 -.3-4.6 -.5-4.6 -.8-4.5 -1-4.6 -1.3-4.5 -1.6-4.5 -1.8-4.4 -2-4.4 -2.2-4.4 -2.5-4.2 -2.8-4.2 -3.1-4 -3.4-3.7 -3.8-3.3 -4.2-3 -4.4-2.6 -4.5-2.3 -4.7-2 -4.8-1.7 -5-1.4 -5-1.1 -5-.8 -5.1-.6 -5.2-.4 -5.2-.3 -5.2-.1 -5.3,.2 -5.4,.4 -5.3,.9 -5.3,1.2 -5.2,1.6 -5.1,2 -5.1,2.3 -4.9,2.6 -4.8,2.9 -4.5,3.4 -4.3,3.7 -3.9,4.1 -3.4,4.4 -3.1,4.8 -2.7,4.9 -2.3,5.1 -2,5.3 -1.6,5.3 -1.3,5.4 -1.1,5.5 -.8,5.4 -.7,5.5 -.7,5.5 -.5,5.5 -.4,5.6 0,5.7 .4,5.7 .8,5.7 1.1,5.7 1.5,5.6 1.8,5.6 2.1,5.5 M822.1,779.8l.7-4.1 .5-4 .5-3.8 .4-3.7 .4-3.5 .5-3.4 .5-3.4 .4-3.2 .3-3.3 .2-3.2 .2-3.2 .1-3.2 -.1-3.1 -.2-3.2 -.4-3.1 -.4-3.1 -.6-3 -.8-3 -.9-3 -1-2.9 -1.1-2.9 -1.2-2.8 -1.4-2.7 -1.4-2.7 -1.6-2.6 -1.7-2.5 -1.7-2.5 -1.9-2.4 -2-2.3 -2.1-2.1 -2.3-2.1 -2.3-2 -2.4-1.8 -2.4-1.8 -2.6-1.6 -2.6-1.5 -2.7-1.4 -2.8-1.2 -2.8-1.1 -2.9-1 -2.9-.9 -2.9-.7 -3-.6 -3-.4 -3-.4 -3.1-.1 -3-.1 -3.1,.1 -3,.2 -3.1,.4 -3,.5 -3,.6 -3.1,.6 -3,.6 -3.1,.8 -3.1,.8 -3.1,1 -3.2,1.1 -3.1,1.2 -3,1.4 -3.1,1.6 -3,1.7 -3,1.8 -3,1.9 -3,2.1 -2.9,2.2 -2.9,2.4 -2.8,2.6 -2.7,2.8 -2.6,2.9 -2.3,3.2 -2.2,3.3 -2,3.4 -1.9,3.6 -1.7,3.7 -1.5,3.9 -1.4,4 -1.1,4 -1,4.2 -.8,4.3 -.6,4.3 -.3,4.4 -.2,4.5 .1,4.5 .4,4.5 .6,4.6 .8,4.6 1.1,4.5 1.3,4.5" fill="none" stroke="#3cc8ff" stroke-width="4" opacity="0.65" filter="url(#blur1)"/>
<path d="M741.1,830.3l6,1.6 6.1,1.2 6.2,.7 6.2,.3 6.3-.2 6.2-.6 6.2-1 6.1-1.4 6-1.9 5.9-2.2 5.8-2.7 5.5-3 5.2-3.5 4.9-3.9 4.7-4.2 4.3-4.5 4-4.8 3.7-4.9 3.5-5.1 3.3-5.2 2.9-5.4 2.6-5.5 2.3-5.7 1.9-5.8 1.6-5.9 1.2-6 .8-6 .5-6.1 .1-6 -.4-6.1 -.7-6 -1.1-5.9 -1.4-5.9 -1.8-5.7 -2.2-5.6 -2.5-5.4 -2.8-5.3 -3-5.1 -3.4-4.9 -3.7-4.7 -3.9-4.4 -4.2-4.2 -4.4-3.9 -4.6-3.6 -4.9-3.4 -5-3.1 -5.2-2.8 -5.3-2.5 -5.4-2.3 -5.5-2 -5.6-1.7 -5.8-1.4 -5.8-1 -5.9-.5 -6-.1 -5.9,.3 -5.9,.7 -5.8,1 -5.8,1.4 -5.6,1.7 -5.6,2 -5.4,2.4 -5.3,2.7 -5.1,3 -4.9,3.3 -4.7,3.6 -4.4,3.9 -4.2,4.2 -4,4.4 -3.7,4.6 -3.4,4.8 -3.2,5 -3.1,5.1 -2.8,5.3 -2.6,5.4 -2.2,5.6 -1.8,5.8 -1.4,5.9 -.9,6 -.5,6.1 -.1,6.1 .3,6.1 .7,6.1 1.1,6 1.5,5.9 2.3,5.7 2.8,5.4 3.3,5.1 3.7,4.8 M741.1,830.3l6.2-.1 6.2-.5 6-1 5.9-1.5 5.6-1.9 5.5-2.4 5.1-2.9 4.8-3.2 4.6-3.2 4.4-3.2 4.1-3.3 3.9-3.5 3.7-3.6 3.4-3.8 3.2-3.8 3-3.9 2.8-4 2.7-4 2.4-4.1 2.1-4.2 1.9-4.2 1.6-4.4 1.4-4.4 1.1-4.4 1-4.5 .7-4.4 .6-4.5 .4-4.5 .3-4.5 .1-4.5 0-4.5 -.3-4.6 -.5-4.6 -.8-4.5 -1-4.6 -1.3-4.5 -1.6-4.5 -1.8-4.4 -2-4.4 -2.2-4.4 -2.5-4.2 -2.8-4.2 -3.1-4 -3.4-3.7 -3.8-3.3 -4.2-3 -4.4-2.6 -4.5-2.3 -4.7-2 -4.8-1.7 -5-1.4 -5-1.1 -5-.8 -5.1-.6 -5.2-.4 -5.2-.3 -5.2-.1 -5.3,.2 -5.4,.4 -5.3,.9 -5.3,1.2 -5.2,1.6 -5.1,2 -5.1,2.3 -4.9,2.6 -4.8,2.9 -4.5,3.4 -4.3,3.7 -3.9,4.1 -3.4,4.4 -3.1,4.8 -2.7,4.9 -2.3,5.1 -2,5.3 -1.6,5.3 -1.3,5.4 -1.1,5.5 -.8,5.4 -.7,5.5 -.7,5.5 -.5,5.5 -.4,5.6 0,5.7 .4,5.7 .8,5.7 1.1,5.7 1.5,5.6 1.8,5.6 2.1,5.5 M822.1,779.8l.7-4.1 .5-4 .5-3.8 .4-3.7 .4-3.5 .5-3.4 .5-3.4 .4-3.2 .3-3.3 .2-3.2 .2-3.2 .1-3.2 -.1-3.1 -.2-3.2 -.4-3.1 -.4-3.1 -.6-3 -.8-3 -.9-3 -1-2.9 -1.1-2.9 -1.2-2.8 -1.4-2.7 -1.4-2.7 -1.6-2.6 -1.7-2.5 -1.7-2.5 -1.9-2.4 -2-2.3 -2.1-2.1 -2.3-2.1 -2.3-2 -2.4-1.8 -2.4-1.8 -2.6-1.6 -2.6-1.5 -2.7-1.4 -2.8-1.2 -2.8-1.1 -2.9-1 -2.9-.9 -2.9-.7 -3-.6 -3-.4 -3-.4 -3.1-.1 -3-.1 -3.1,.1 -3,.2 -3.1,.4 -3,.5 -3,.6 -3.1,.6 -3,.6 -3.1,.8 -3.1,.8 -3.1,1 -3.2,1.1 -3.1,1.2 -3,1.4 -3.1,1.6 -3,1.7 -3,1.8 -3,1.9 -3,2.1 -2.9,2.2 -2.9,2.4 -2.8,2.6 -2.7,2.8 -2.6,2.9 -2.3,3.2 -2.2,3.3 -2,3.4 -1.9,3.6 -1.7,3.7 -1.5,3.9 -1.4,4 -1.1,4 -1,4.2 -.8,4.3 -.6,4.3 -.3,4.4 -.2,4.5 .1,4.5 .4,4.5 .6,4.6 .8,4.6 1.1,4.5 1.3,4.5" fill="none" stroke="#60fff0" stroke-width="2.1"/>
<path d="M666.7,706.5l-.6,1.8 -.6,1.8 -.5,1.8 -.5,1.9 -.4,1.8 -.4,1.9 -.3,1.9 -.3,1.9 -.2,1.9 -.2,1.9 -.2,1.9 -.1,1.9 -.1,1.9 0,2 0,1.9 0,1.9 .1,1.9 .1,1.9 .1,2 .2,1.9 .3,1.9 .2,1.9 .4,1.9 .3,1.9 .4,1.9 .4,1.8 .5,1.9 .6,1.8 .6,1.9 .7,1.7 .7,1.8 .9,1.8 .8,1.7 1,1.6 .9,1.7 1.1,1.6 1,1.6 1.1,1.6 1.2,1.5 M717.1,654.2l-2.2,1 -2.2,1.1 -2.2,1.1 -2.1,1.2 -2.1,1.3 -2.1,1.3 -2,1.4 -2,1.5 -1.9,1.6 -1.9,1.6 -1.8,1.7 -1.7,1.8 -1.7,1.8 -1.6,1.9 -1.4,2 -1.5,2 -1.3,2.1 -1.3,2.2 -1.2,2.1 -1.1,2.2 -1,2.3 -1,2.2 -.9,2.3 -.8,2.3 -.8,2.4 -.7,2.3 -.6,2.4 -.6,2.3 -.6,2.4 -.5,2.4 -.4,2.4 -.4,2.4 -.4,2.4 -.3,2.4 -.3,2.4 -.3,2.4 -.3,2.4 -.3,2.4 -.2,2.4" fill="none" stroke="#f0e040" stroke-width="2.4" stroke-linecap="round" opacity="0.8"/>
<path d="M666.7,706.5l-.6,1.8 -.6,1.8 -.5,1.8 -.5,1.9 -.4,1.8 -.4,1.9 -.3,1.9 -.3,1.9 -.2,1.9 -.2,1.9 -.2,1.9 -.1,1.9 -.1,1.9 0,2 0,1.9 0,1.9 .1,1.9 .1,1.9 .1,2 .2,1.9 .3,1.9 .2,1.9 .4,1.9 .3,1.9 .4,1.9 .4,1.8 .5,1.9 .6,1.8 .6,1.9 .7,1.7 .7,1.8 .9,1.8 .8,1.7 1,1.6 .9,1.7 1.1,1.6 1,1.6 1.1,1.6 1.2,1.5 M717.1,654.2l-2.2,1 -2.2,1.1 -2.2,1.1 -2.1,1.2 -2.1,1.3 -2.1,1.3 -2,1.4 -2,1.5 -1.9,1.6 -1.9,1.6 -1.8,1.7 -1.7,1.8 -1.7,1.8 -1.6,1.9 -1.4,2 -1.5,2 -1.3,2.1 -1.3,2.2 -1.2,2.1 -1.1,2.2 -1,2.3 -1,2.2 -.9,2.3 -.8,2.3 -.8,2.4 -.7,2.3 -.6,2.4 -.6,2.3 -.6,2.4 -.5,2.4 -.4,2.4 -.4,2.4 -.4,2.4 -.3,2.4 -.3,2.4 -.3,2.4 -.3,2.4 -.3,2.4 -.2,2.4" fill="none" stroke="#c41408" stroke-width="1.6" stroke-linecap="round"/>
<ellipse cx="746.0" cy="830.0" rx="9" ry="4.5" transform="rotate(5 746.0 830.0)" fill="#b81008" stroke="#f0d040" stroke-width="1.2"/>
<ellipse cx="682.5" cy="777.0" rx="4.5" ry="8.5" transform="rotate(-22 682.5 777.0)" fill="#b81008" stroke="#f0d040" stroke-width="1.2"/>
</g>
<text x="662.4" y="655.6" font-family="'Liberation Sans', Arial, sans-serif" font-size="25" font-weight="bold" font-style="normal" fill="#fff" text-anchor="start" >f</text>
<text x="652.0" y="845.6" font-family="'Liberation Serif', 'Times New Roman', serif" font-size="16.5" font-weight="bold" font-style="normal" fill="#fff" text-anchor="start" ><tspan font-style="italic">G</tspan> = 5 nm</text>
<rect x="634.0" y="350.5" width="6.4" height="241.5" fill="#a6a6a6" stroke="none" stroke-width="1" />
<rect x="634.0" y="619.4" width="6.4" height="242.2" fill="#a6a6a6" stroke="none" stroke-width="1" />
<rect x="869.2" y="357.5" width="21.5" height="219.7" fill="url(#jet)" stroke="none" stroke-width="1" />
<rect x="869.2" y="631.0" width="21.5" height="218.5" fill="url(#jet)" stroke="none" stroke-width="1" />
<text x="879.8" y="353.0" font-family="'Liberation Sans', Arial, sans-serif" font-size="16" font-weight="bold" font-style="normal" fill="#111" text-anchor="middle" >50</text>
<text x="879.8" y="590.5" font-family="'Liberation Sans', Arial, sans-serif" font-size="16" font-weight="bold" font-style="normal" fill="#111" text-anchor="middle" >0</text>
<text x="880.9" y="626.0" font-family="'Liberation Sans', Arial, sans-serif" font-size="16" font-weight="bold" font-style="normal" fill="#111" text-anchor="middle" >200</text>
<text x="880.5" y="864.0" font-family="'Liberation Sans', Arial, sans-serif" font-size="16" font-weight="bold" font-style="normal" fill="#111" text-anchor="middle" >0</text>
<text x="634.0" y="345.8" font-family="'Liberation Sans', Arial, sans-serif" font-size="17" font-weight="bold" font-style="normal" fill="#111" text-anchor="middle" >Mirror</text>
<rect x="993.1" y="467.6" width="468.8" height="344.0" fill="none" stroke="#666" stroke-width="1.7" />
<line x1="993.1" y1="467.6" x2="993.1" y2="812.4" stroke="#3a3a3a" stroke-width="1.9" />
<line x1="992.3" y1="811.6" x2="1461.9" y2="811.6" stroke="#3a3a3a" stroke-width="1.9" />
<line x1="988.1" y1="811.6" x2="993.1" y2="811.6" stroke="#444" stroke-width="1.4" />
<text x="982.0" y="817.1" font-family="'Liberation Sans', Arial, sans-serif" font-size="15.5" font-weight="bold" font-style="normal" fill="#111" text-anchor="end" >0</text>
<line x1="988.1" y1="725.6" x2="993.1" y2="725.6" stroke="#444" stroke-width="1.4" />
<text x="982.0" y="731.1" font-family="'Liberation Sans', Arial, sans-serif" font-size="15.5" font-weight="bold" font-style="normal" fill="#111" text-anchor="end" >1k</text>
<line x1="988.1" y1="639.6" x2="993.1" y2="639.6" stroke="#444" stroke-width="1.4" />
<text x="982.0" y="645.1" font-family="'Liberation Sans', Arial, sans-serif" font-size="15.5" font-weight="bold" font-style="normal" fill="#111" text-anchor="end" >2k</text>
<line x1="988.1" y1="553.6" x2="993.1" y2="553.6" stroke="#444" stroke-width="1.4" />
<text x="982.0" y="559.1" font-family="'Liberation Sans', Arial, sans-serif" font-size="15.5" font-weight="bold" font-style="normal" fill="#111" text-anchor="end" >3k</text>
<line x1="988.1" y1="467.6" x2="993.1" y2="467.6" stroke="#444" stroke-width="1.4" />
<text x="982.0" y="473.1" font-family="'Liberation Sans', Arial, sans-serif" font-size="15.5" font-weight="bold" font-style="normal" fill="#111" text-anchor="end" >4k</text>
<line x1="990.1" y1="768.6" x2="993.1" y2="768.6" stroke="#444" stroke-width="1.1" />
<line x1="990.1" y1="682.6" x2="993.1" y2="682.6" stroke="#444" stroke-width="1.1" />
<line x1="990.1" y1="596.6" x2="993.1" y2="596.6" stroke="#444" stroke-width="1.1" />
<line x1="990.1" y1="510.6" x2="993.1" y2="510.6" stroke="#444" stroke-width="1.1" />
<line x1="1045.2" y1="811.6" x2="1045.2" y2="816.6" stroke="#444" stroke-width="1.4" />
<text x="1045.2" y="836.7" font-family="'Liberation Sans', Arial, sans-serif" font-size="16.5" font-weight="bold" font-style="normal" fill="#111" text-anchor="middle" >400</text>
<line x1="1149.4" y1="811.6" x2="1149.4" y2="816.6" stroke="#444" stroke-width="1.4" />
<text x="1149.4" y="836.7" font-family="'Liberation Sans', Arial, sans-serif" font-size="16.5" font-weight="bold" font-style="normal" fill="#111" text-anchor="middle" >800</text>
<line x1="1253.5" y1="811.6" x2="1253.5" y2="816.6" stroke="#444" stroke-width="1.4" />
<text x="1253.5" y="836.7" font-family="'Liberation Sans', Arial, sans-serif" font-size="16.5" font-weight="bold" font-style="normal" fill="#111" text-anchor="middle" >1200</text>
<line x1="1357.7" y1="811.6" x2="1357.7" y2="816.6" stroke="#444" stroke-width="1.4" />
<text x="1357.7" y="836.7" font-family="'Liberation Sans', Arial, sans-serif" font-size="16.5" font-weight="bold" font-style="normal" fill="#111" text-anchor="middle" >1600</text>
<line x1="1461.9" y1="811.6" x2="1461.9" y2="816.6" stroke="#444" stroke-width="1.4" />
<text x="1461.9" y="836.7" font-family="'Liberation Sans', Arial, sans-serif" font-size="16.5" font-weight="bold" font-style="normal" fill="#111" text-anchor="middle" >2000</text>
<line x1="1097.3" y1="811.6" x2="1097.3" y2="814.6" stroke="#444" stroke-width="1.1" />
<line x1="1201.5" y1="811.6" x2="1201.5" y2="814.6" stroke="#444" stroke-width="1.1" />
<line x1="1305.6" y1="811.6" x2="1305.6" y2="814.6" stroke="#444" stroke-width="1.1" />
<line x1="1409.8" y1="811.6" x2="1409.8" y2="814.6" stroke="#444" stroke-width="1.1" />
<text x="1226.7" y="875.9" font-family="'Liberation Sans', Arial, sans-serif" font-size="18" font-weight="bold" fill="#111" text-anchor="middle">Raman shift (cm<tspan font-size="12" dy="-9">-1</tspan><tspan dy="9">)</tspan></text>
<text transform="translate(938.5 644.6) rotate(-90)" font-family="'Liberation Sans', Arial, sans-serif" font-size="18.5" font-weight="bold" fill="#111" text-anchor="middle">SERS Intensity (a. u.)</text>
<path d="M993.1,807.4l2-3.2 1.9-.4 2-4.8 1.9,3.5 2-3.7 2-4.3 1.9-10.5 2,11.6 2,2 1.9,3.7 2-7.3 1.9,9.2 2-3.2 2-4.6 1.9,4.3 2-10.6 1.9,.9 2,5.8 2,.4 1.9,3.5 2,1.3 2-5.3 1.9,.5 2,1.9 1.9,1 2,3.3 2-3.1 1.9,5.9 2-5.7 1.9-6 2-.5 2,5.2 1.9-1.5 2-6.8 2-2.6 1.9,10 2-4.9 1.9-3.4 2-4.3 2,6.7 1.9-5.5 2,3 1.9-9.5 2,6.4 2,1.7 1.9,.4 2-5 2,1 1.9,5.9 2-4.7 1.9,5.2 2-2.2 2,1.7 1.9-.1 2-2.3 1.9,.9 2-5.4 1.5-1 .5,3.6 1.9,2.9 2-6.7 2,9.7 1.9-.4 2-9.2 1.9,.2 2-1.1 2,4.1 1.9,3.6 2-2.6 1.9-3.7 2,4.6 .2-.2 1.8,2.4 1.9-.8 2-6.9 2,1.4 1.9,5.6 2-.3 1.9-1.7 2-3.8 2,5.9 1.9-3.4 2,6.9 1.9-3 2-5.8 2-1.6 1.9,7.1 2-1.3 2-5.4 1.9,4.2 2,.5 1.9-3.6 2,1.2 2-3.2 1.9,1.1 2,4.8 1.9-1.6 2-.2 2,4.5 1.9-1.3 2-6.8 2,8.8 1.9-9 2,2.3 1.9,1.2 2-2.8 2-.9 1.9-5.2 2,0 1.1-2.5 .8,1.4 2-1.6 2,6.2 1.9,7.8 2-1.4 2,1.6 1.9-2.2 2-.6 1.9-7.1 2,14.3 2-9.8 1.9,2.1 2,3.9 1.9-1.9 2,1.2 2-2 1.9-3.4 2,8.6 1.9-9.9 2,5.7 2-6.6 0,3.7 1.9-3 2,2 2-2.1 1.9,3 2,2.3 1.9-6.8 2-3.7 2-9.4 .2,14 1.7-2.8 2-.5 1.9,9.6 2-2.8 1.5-7.9 .5,2.5 1.9,8 2-7.8 1.8,.8 .2,1.4 1.9,1.4 2,.6 1.9,3.8 2-1.1 2-4.2 1.9,2.2 2-5.8 1.9,7.7 2,7.3 2-6.9 1.9-2 2-.1 2,1.3 1.9,3.2 2-7.8 1.9,7.6 2-4.6 2,3.6 1.9,3.2 2-8.9 1.9,13.5 .9-5.7 1.1-4.4 2,2.7 1.9-3.8 2,2.8 2,1.2 1.9-9.1 2,8 1.2-.3 .7,3.1 2-1.7 2-5.9 1.8-2.6 .1,1.6 2-6.5 .5-5.9 1.4,14.2 2,1.3 2,1.4 1.9,2.7 2-3.3 2,2.7 1.9,.2 1.1-9.2 .9,3.3 1.9-3 2,1 2-10.9 1.6-5.5 .3-.7 2,8 1.9,16.6 2,2.3 2,3.7 1.9,13.9 2-5.8 2-3.8 1.9-1.5 2,4.6 1.9-5.5 2-.2 2,6.1 1.9-6.1 2-.9 1.9,4.7 2,5.1 2-8.2 1.9,5.8 2,.9 2-1.5 1.9,2.4 2-5.4 1.9,1.2 2-1.3 2,2.4 1.9,5 2-2 1.9-3.4 2,4.7 2-11.3 1.9,11.1 2,1.4 2-5.8 1.9,1.6 2,2.9 1.9,.9 2-2.1 2-1.2 1.9,.4 2,3.9 1.9-2.3 2-1.3 2,.5 1.9,9.1 2-3 2-.2 1.9-1.7 2-1.3 1.9-2.3 2,1.2" fill="none" stroke="#1a237e" stroke-width="2.3" stroke-linejoin="round" />
<path d="M993.1,757l2,6.6 1.9,13.8 2-16.1 1.9,12.2 2-22.6 2-12.1 1.9-.2 2,27.9 2-25 1.9-14.2 2,1 1.9-13.4 2,34 2-25.7 1.9,16.7 2-12 1.9-3 2-4 2,17.9 1.9-10.8 2,19.5 2,4.1 1.9-26.9 2,9.6 1.9,23 2-10.4 2-12.3 1.9-22.6 2,6 1.9,1.7 2,34.7 2-26.1 1.9-10.1 2-.8 2-2.5 1.9,6.9 2-30.6 1.9,1.5 2,19.7 2,10.1 1.9-45.6 2,34.3 1.9-27.6 2-12.8 2,37.8 1.9-20 2,6.7 2-14.7 1.9,.3 2-25.6 1.9,16.6 2,5.8 2-18.8 1.9,16.7 2-2.5 1.9-43.1 2,30.9 1.5-13.6 .5-6.8 1.9,27.7 2,21.3 2-42.7 1.9,26.8 2-3.4 1.9-2.6 2,8.2 2,.7 1.9-18.7 2-34.2 1.9,17.8 2-8.9 .2,31.8 1.8-14.5 1.9,23 2-25.4 2,15.1 1.9-3.4 2,1.8 1.9,6.9 2,13.1 2-30.1 1.9,27.5 2-3.3 1.9-12.9 2,5.3 2-14.2 1.9-11.1 2,10.3 2,.2 1.9,1.9 2-12.5 1.9,37.8 2-32 2,17.9 1.9,3.6 2-18.1 1.9,4.9 2-14.4 2-7.9 1.9,48 2-32.6 2-29.4 1.9,14.9 2-8.8 1.9,18.5 2,21.3 2-5 1.9-26.6 2-4 1.1,23.7 .8-6.8 2-8 2,28.1 1.9-20.4 2-28.4 2-8.5 1.9,32 2-28 1.9,32.8 2,3.5 2,19.6 1.9-46.1 2,18 1.9-39.6 2,27.1 2,.2 1.9,25.4 2-51.6 1.9,18.2 2-16.5 2,19 0-44.4 1.9,7.5 2,34.5 2-3.4 1.9-1.3 2-7 1.9,12.2 2-23.6 2,26.5 .2,5 1.7-4.2 2,24.9 1.9-35.3 2-55.3 1.5-14.4 .5,18.4 1.9,14.2 2,29.9 1.8-45.5 .2-10.9 1.9,35 2,43.5 1.9-13.8 2-7.5 2,37.3 1.9-12.6 2,36.3 1.9,9.2 2-33.3 2,12.5 1.9,3.3 2,16.7 2,.7 1.9-12.4 2-12.3 1.9,24.6 2,14.7 2-51.5 1.9-8.8 2-38.6 1.9-54.3 .9-43.5 1.1,48.9 2,49.3 1.9,62.7 2-6.2 2,6.1 1.9-8.5 2-8.4 1.2,11.1 .7-39.7 2,18.8 2-51.2 1.8-41.1 .1,21.6 2,16.5 .5,12.7 1.4,43.2 2-7.4 2,40.7 1.9,8.2 2,26.9 2,18.3 1.9-7.5 1.1-.7 .9,4.5 1.9-12.4 2,48.9 2-14 1.6,12.7 .3-44.3 2,30.2 1.9,2.3 2,11.1 2-25.9 1.9,20.9 2-6.9 2,34.1 1.9-43.6 2,12.9 1.9-.3 2-7.8 2,22.2 1.9,1.4 2-10.7 1.9,6 2,11.4 2-2.3 1.9,9.8 2-15.3 2-1.1 1.9,15.2 2-24.6 1.9,50.4 2-16.7 2-25.9 1.9,32.1 2,18.4 1.9-40.9 2,13.8 2,26.3 1.9-26.3 2,27.1 2,5.8 1.9-15.3 2,5.4 1.9,8 2-7.1 2,7.3 1.9-8.5 2,2.3 1.9-3.7 2,9.2 2,4.4 1.9,0 2-3.3 2-4.5 1.9,2.5 2,4.8 1.9-4.2 2,4.7" fill="none" stroke="#ff2a2a" stroke-width="2.4" stroke-linejoin="round" />
<line x1="1049.5" y1="489.5" x2="1112.3" y2="489.5" stroke="#ff2a2a" stroke-width="2" />
<text x="1114.0" y="498.0" font-family="'Liberation Sans', Arial, sans-serif" font-size="22.6" font-weight="bold" font-style="normal" fill="#ff2a2a" text-anchor="start" >L/L-cysteine</text>
<line x1="1049.5" y1="522.2" x2="1112.3" y2="522.2" stroke="#1a237e" stroke-width="2" />
<text x="1114.0" y="530.3" font-family="'Liberation Sans', Arial, sans-serif" font-size="22.6" font-weight="bold" font-style="normal" fill="#1a237e" text-anchor="start" >L/D-cysteine</text>
<text x="1099.7" y="598.4" font-family="'Liberation Sans', Arial, sans-serif" font-size="17" font-weight="bold" font-style="normal" fill="#111" text-anchor="middle" >620</text>
<text x="1142.0" y="603.7" font-family="'Liberation Sans', Arial, sans-serif" font-size="17" font-weight="bold" font-style="normal" fill="#111" text-anchor="middle" >758</text>
<text x="1274.7" y="516.8" font-family="'Liberation Sans', Arial, sans-serif" font-size="17" font-weight="bold" font-style="normal" fill="#111" text-anchor="middle" >1318</text>
<text x="1380.4" y="493.3" font-family="'Liberation Sans', Arial, sans-serif" font-size="17" font-weight="bold" font-style="normal" fill="#111" text-anchor="middle" >1427</text>
<text x="1403.9" y="522.2" font-family="'Liberation Sans', Arial, sans-serif" font-size="17" font-weight="bold" font-style="normal" fill="#111" text-anchor="middle" >1523</text>
<text x="1239.3" y="690.9" font-family="'Liberation Sans', Arial, sans-serif" font-size="17" font-weight="bold" font-style="normal" fill="#111" text-anchor="middle" >1094</text>
<text x="1204.8" y="736.3" font-family="'Liberation Sans', Arial, sans-serif" font-size="17" font-weight="bold" font-style="normal" fill="#111" text-anchor="middle" >998</text>
<text x="1353.1" y="759.8" font-family="'Liberation Sans', Arial, sans-serif" font-size="17" font-weight="bold" font-style="normal" fill="#111" text-anchor="middle" >1610</text>
<text x="1338.0" y="808.5" font-family="'Liberation Sans', Arial, sans-serif" font-size="17" font-weight="bold" font-style="normal" fill="#111" text-anchor="middle" >1523</text>
<line x1="1099.7" y1="603.0" x2="1099.7" y2="631.3" stroke="#ff3030" stroke-width="1.4" />
<polyline points="1094.7,622.3 1099.7,631.3 1104.7,622.3" fill="none" stroke="#ff3030" stroke-width="1.4"/>
<line x1="1129.5" y1="608.0" x2="1129.5" y2="634.7" stroke="#ff3030" stroke-width="1.4" />
<polyline points="1124.5,625.7 1129.5,634.7 1134.5,625.7" fill="none" stroke="#ff3030" stroke-width="1.4"/>
<line x1="1273.7" y1="523.0" x2="1273.7" y2="553.0" stroke="#ff3030" stroke-width="1.4" />
<polyline points="1268.7,544.0 1273.7,553.0 1278.7,544.0" fill="none" stroke="#ff3030" stroke-width="1.4"/>
<line x1="1353.7" y1="493.3" x2="1320.8" y2="502.7" stroke="#ff3030" stroke-width="1.4" />
<polyline points="1328.1,495.4 1320.8,502.7 1330.8,505.0" fill="none" stroke="#ff3030" stroke-width="1.4"/>
<line x1="1377.2" y1="518.4" x2="1344.3" y2="525.3" stroke="#ff3030" stroke-width="1.4" />
<polyline points="1352.1,518.6 1344.3,525.3 1354.1,528.3" fill="none" stroke="#ff3030" stroke-width="1.4"/>
<line x1="1239.9" y1="676.7" x2="1239.9" y2="645.4" stroke="#ff3030" stroke-width="1.4" />
<polyline points="1244.9,654.4 1239.9,645.4 1234.9,654.4" fill="none" stroke="#ff3030" stroke-width="1.4"/>
<line x1="1204.8" y1="741.0" x2="1204.8" y2="766.1" stroke="#1a237e" stroke-width="1.4" />
<polyline points="1199.8,757.1 1204.8,766.1 1209.8,757.1" fill="none" stroke="#1a237e" stroke-width="1.4"/>
<rect x="1538.3" y="464.5" width="474.0" height="347.9" fill="none" stroke="#666" stroke-width="1.7" />
<line x1="1538.3" y1="464.5" x2="1538.3" y2="813.2" stroke="#3a3a3a" stroke-width="1.9" />
<line x1="1537.5" y1="812.4" x2="2012.3" y2="812.4" stroke="#3a3a3a" stroke-width="1.9" />
<line x1="1533.3" y1="812.4" x2="1538.3" y2="812.4" stroke="#444" stroke-width="1.4" />
<text x="1526.4" y="817.9" font-family="'Liberation Sans', Arial, sans-serif" font-size="15.5" font-weight="bold" font-style="normal" fill="#111" text-anchor="end" >0</text>
<line x1="1533.3" y1="742.8" x2="1538.3" y2="742.8" stroke="#444" stroke-width="1.4" />
<text x="1526.4" y="748.3" font-family="'Liberation Sans', Arial, sans-serif" font-size="15.5" font-weight="bold" font-style="normal" fill="#111" text-anchor="end" >1k</text>
<line x1="1533.3" y1="673.2" x2="1538.3" y2="673.2" stroke="#444" stroke-width="1.4" />
<text x="1526.4" y="678.7" font-family="'Liberation Sans', Arial, sans-serif" font-size="15.5" font-weight="bold" font-style="normal" fill="#111" text-anchor="end" >2k</text>
<line x1="1533.3" y1="603.7" x2="1538.3" y2="603.7" stroke="#444" stroke-width="1.4" />
<text x="1526.4" y="609.2" font-family="'Liberation Sans', Arial, sans-serif" font-size="15.5" font-weight="bold" font-style="normal" fill="#111" text-anchor="end" >3k</text>
<line x1="1533.3" y1="534.1" x2="1538.3" y2="534.1" stroke="#444" stroke-width="1.4" />
<text x="1526.4" y="539.6" font-family="'Liberation Sans', Arial, sans-serif" font-size="15.5" font-weight="bold" font-style="normal" fill="#111" text-anchor="end" >4k</text>
<line x1="1533.3" y1="464.5" x2="1538.3" y2="464.5" stroke="#444" stroke-width="1.4" />
<text x="1526.4" y="470.0" font-family="'Liberation Sans', Arial, sans-serif" font-size="15.5" font-weight="bold" font-style="normal" fill="#111" text-anchor="end" >5k</text>
<line x1="1535.3" y1="777.6" x2="1538.3" y2="777.6" stroke="#444" stroke-width="1.1" />
<line x1="1535.3" y1="708.0" x2="1538.3" y2="708.0" stroke="#444" stroke-width="1.1" />
<line x1="1535.3" y1="638.5" x2="1538.3" y2="638.5" stroke="#444" stroke-width="1.1" />
<line x1="1535.3" y1="568.9" x2="1538.3" y2="568.9" stroke="#444" stroke-width="1.1" />
<line x1="1535.3" y1="499.3" x2="1538.3" y2="499.3" stroke="#444" stroke-width="1.1" />
<line x1="1591.0" y1="812.4" x2="1591.0" y2="817.4" stroke="#444" stroke-width="1.4" />
<text x="1591.0" y="838.1" font-family="'Liberation Sans', Arial, sans-serif" font-size="16.5" font-weight="bold" font-style="normal" fill="#111" text-anchor="middle" >400</text>
<line x1="1696.3" y1="812.4" x2="1696.3" y2="817.4" stroke="#444" stroke-width="1.4" />
<text x="1696.3" y="838.1" font-family="'Liberation Sans', Arial, sans-serif" font-size="16.5" font-weight="bold" font-style="normal" fill="#111" text-anchor="middle" >800</text>
<line x1="1801.6" y1="812.4" x2="1801.6" y2="817.4" stroke="#444" stroke-width="1.4" />
<text x="1801.6" y="838.1" font-family="'Liberation Sans', Arial, sans-serif" font-size="16.5" font-weight="bold" font-style="normal" fill="#111" text-anchor="middle" >1200</text>
<line x1="1907.0" y1="812.4" x2="1907.0" y2="817.4" stroke="#444" stroke-width="1.4" />
<text x="1907.0" y="838.1" font-family="'Liberation Sans', Arial, sans-serif" font-size="16.5" font-weight="bold" font-style="normal" fill="#111" text-anchor="middle" >1600</text>
<line x1="2012.3" y1="812.4" x2="2012.3" y2="817.4" stroke="#444" stroke-width="1.4" />
<text x="2012.3" y="838.1" font-family="'Liberation Sans', Arial, sans-serif" font-size="16.5" font-weight="bold" font-style="normal" fill="#111" text-anchor="middle" >2000</text>
<line x1="1643.6" y1="812.4" x2="1643.6" y2="815.4" stroke="#444" stroke-width="1.1" />
<line x1="1749.0" y1="812.4" x2="1749.0" y2="815.4" stroke="#444" stroke-width="1.1" />
<line x1="1854.3" y1="812.4" x2="1854.3" y2="815.4" stroke="#444" stroke-width="1.1" />
<line x1="1959.6" y1="812.4" x2="1959.6" y2="815.4" stroke="#444" stroke-width="1.1" />
<text x="1775.6" y="877.3" font-family="'Liberation Sans', Arial, sans-serif" font-size="18" font-weight="bold" fill="#111" text-anchor="middle">Raman shift (cm<tspan font-size="12" dy="-9">-1</tspan><tspan dy="9">)</tspan></text>
<text transform="translate(1502.5 643.7) rotate(-90)" font-family="'Liberation Sans', Arial, sans-serif" font-size="18.5" font-weight="bold" fill="#111" text-anchor="middle">SERS Intensity (a. u.)</text>
<path d="M1538.3,800l2-2.7 2,1.9 1.9-2.5 2-.3 2,.3 2-1.1 2,1.5 2-1.8 1.9,1.8 2-6.2 2,.9 2,.2 2,1.1 2-1.1 1.9-.5 2,.2 2,0 2,2.4 2-2 2,1.2 1.9,.8 2-.2 2-2.3 2-1 2,3.1 2-4.5 1.9,.2 2,2.3 2-.1 2-.8 2-1.8 2,1.6 1.9,.7 2-2.3 2,3.1 2-3.4 2-1.8 2,.9 1.9-1 2,0 2-.7 2,.5 2,1 2-1.2 1.9-.5 2-2.2 2-.9 2,1.4 2,1.3 2-.4 1.9-1 2-2.5 2,1.1 2,.3 2,.7 2-2.6 1.9,.5 1.5,.3 .5-.3 2-2.5 2,2.3 2-2.9 2,.4 1.9,1.3 2-1.4 2,1.1 2,.7 2-1.1 2,.7 1.9-2.3 2,.5 .2-.8 1.8-.6 2,5.2 2-5 2,2.7 1.9-3 2,1.3 2-1.6 2-2 2,4.1 2-2.8 1.9,.2 2,2.3 2-3.7 2,.7 2,.5 2,.1 1.9-5.6 2,4.8 2,1.8 2-1.4 2-.9 2-.1 1.9-.6 2,1.2 2-2.3 2,1.4 2,1.1 2-.8 1.9-.6 2-1.7 2,.5 2,1.3 2-.3 2-.1 1.9-2.2 2,3.9 2-1.2 1.1-.2 .9,2.5 2-1.3 2,.3 1.9,1.1 2-1.3 2-.5 2,0 2,1.9 2-.4 1.9-2.9 2,4.9 2-1.8 2-.8 2,1.1 2-.6 1.9,.8 2-.8 2-.6 2,2.1 2-.5 2,.4 0,.5 1.9-.5 2,1.5 2-2.5 2-1.4 2,0 2,.6 1.9,3.1 2-3.4 .2,3.1 1.8-1 2-2.6 2,4 2-2.7 1.4,.8 .5,.6 2,1 2-1.9 1.9,1.2 .1-2.1 2-.3 2,3.6 1.9-1.3 2-.3 2,1.1 2-.1 2-1.8 2,.4 1.9,1.9 2-1.6 2-1.6 2,2.3 2-.5 2-3.6 1.9,.3 2,4 2-.7 2-2.9 2,1.7 2-1.8 1.9-.1 .9-1.6 1.1,4.1 2-.8 2-1.9 2-4.9 2-1.9 1.9-3 2-7.3 1.2-1 .8,1.7 2,4 2,4.5 1.8,3.1 .2,1.7 1.9,1.9 .5,1.2 1.5,1.2 2,1.3 2-1.4 2,.5 2-1.9 1.9-6.1 2-3.8 1.1-.6 .9,5 2,4.7 2,9.7 2,5.2 1.6,2.2 .3-2.5 2,1.8 2,2.8 2,.7 2-1.4 2,.8 1.9-2.9 2,4.5 2,.5 2-2.1 2-.3 2-.1 1.9-.8 2-1.8 2,3.5 2,.3 2,1.9 2-2.7 1.9-.6 2,1.8 2-1.7 2,1.9 2-1.6 2,2 1.9,2.5 2-.1 2,1.7 2,.9 2-2.3 2-.3 1.9-.9 2,3.3 2,.8 2,1.8 2-2.4 2,1.3 1.9,1.8 2-1.4 2,.6 2,3.8 2-3.3 2,1.2 1.9,1.2 2,.4 2-2.7 2,.7 2-.1 2,4.5 1.9-.3 2-1.9 2,3.3" fill="none" stroke="#f07878" stroke-width="1.9" stroke-linejoin="round" />
<path d="M1538.3,717.9l2,25.1 2-14.9 1.9-18.9 2,11.6 2,26 2-32.2 2,6.9 2-5.3 1.9-15.8 2,5.4 2,7.3 2-15.5 2,4.1 2,2.8 1.9-3.6 2-.4 2,6.3 2,.7 2-6.5 2,11.6 1.9,3.4 2-31.5 2,18.4 2-2.9 2,1.1 2-2.2 1.9-.2 2-.7 2,10.4 2-21.4 2,19.6 2-21.2 1.9,35.8 2-10.5 2-25.1 2,13.7 2,6.3 2-12.8 1.9,17.3 2-13.7 2,27.9 2-21.5 2,2.5 2-14.4 1.9-4.1 2,21.2 2-30 2,26.9 2,17.9 2,3.9 1.9-47.8 2,19.6 2,6.4 2,.3 2,1.9 2-35.8 1.9-.2 1.5-37.9 .5,26.5 2,50.3 2-27.8 2,18.9 2,.4 1.9-20.9 2,23.1 2-16.9 2,14.3 2,8.7 2-17.4 1.9,6.4 2-35.8 .2,3.1 1.8,23 2,3.7 2,4.5 2,12.2 1.9-12.9 2,14.6 2-9.5 2,19.8 2-12.2 2-3.3 1.9,15.2 2-4 2,1.9 2-14.8 2,18.2 2-13.6 1.9-12.7 2,14.8 2,24.5 2-20.7 2-10.6 2,16.6 1.9-16.5 2,6.5 2,2.8 2,8.7 2,3.5 2-2.8 1.9-3.6 2-5.3 2,1.5 2,9 2-4.3 2-3.8 1.9,24.5 2-10.4 2,.3 1.1-7.5 .9,.7 2-.9 2,6.6 1.9-19.9 2,3.6 2,22 2-21.6 2,12.3 2-35.9 1.9,24.7 2-2.3 2-7.3 2,2 2-3.4 2-21.7 1.9,13.5 2-10.8 2-8.5 2,17.7 2-44.6 2,3.1 0-3.3 1.9,28.9 2-10.6 2,10.6 2,14.4 2-32.8 2,21.8 1.9,10.2 2-5.4 .2-8.7 1.8-3.5 2,4 2-15.7 2-30.3 1.4,4.8 .5-4.8 2,40.2 2-17.5 1.9-43.8 .1,10.3 2,61.1 2,10.4 1.9-8.4 2,23.8 2-1.3 2-1 2,29.7 2-27.9 1.9,8.9 2,.5 2,21.7 2-.3 2-.6 2-9.9 1.9,1.1 2-4.1 2-28.3 2-7.8 2,1.2 2-47.1 1.9-110.7 .9,5.1 1.1,2.3 2,66 2,56.6 2,7.5 2-.1 1.9,12.4 2-1.6 1.2-11.7 .8-20 2-7.7 2-55.8 1.8-40.6 .2,11.4 1.9,23.1 .5,63.7 1.5,15.3 2,10.4 2,36 2-18.1 2-4.8 1.9,27.2 2-12.4 1.1,16.3 .9-19.6 2,5.7 2-.7 2-12.9 1.6,11.9 .3-10.3 2,10.1 2,23.9 2-16.2 2-1.1 2,25.2 1.9-32.3 2,16.8 2-2.4 2,16.4 2-11.2 2-2.3 1.9,8 2-4.6 2,27.1 2-42 2,30.5 2,13.3 1.9-14.5 2-1.3 2-16.4 2,18 2-14.3 2,15.4 1.9-38.3 2,20.5 2-17 2,36.4 2-20.2 2,19.9 1.9-18.5 2-1 2,27.9 2-5.4 2,.5 2,4.2 1.9-9.2 2,2.9 2,6 2-18.6 2-5.4 2,22.8 1.9-9.2 2-6.8 2,3 2,5.8 2-18.4 2-.4 1.9,2.1 2,10.8 2-26.7" fill="none" stroke="#3a88c4" stroke-width="2.3" stroke-linejoin="round" />
<line x1="1609.5" y1="487.6" x2="1670.6" y2="487.6" stroke="#3a88c4" stroke-width="2" />
<text x="1671.0" y="498.0" font-family="'Liberation Sans', Arial, sans-serif" font-size="23.2" font-weight="bold" font-style="normal" fill="#3a88c4" text-anchor="start" >R/D-cysteine</text>
<line x1="1609.5" y1="520.9" x2="1670.6" y2="520.9" stroke="#f07878" stroke-width="2" />
<text x="1671.0" y="530.9" font-family="'Liberation Sans', Arial, sans-serif" font-size="23.2" font-weight="bold" font-style="normal" fill="#f07878" text-anchor="start" >R/L-cysteine</text>
<text x="1861.8" y="483.9" font-family="'Liberation Sans', Arial, sans-serif" font-size="17" font-weight="bold" font-style="normal" fill="#111" text-anchor="middle" >1427</text>
<text x="1896.3" y="526.2" font-family="'Liberation Sans', Arial, sans-serif" font-size="17" font-weight="bold" font-style="normal" fill="#111" text-anchor="middle" >1523</text>
<text x="1822.7" y="576.4" font-family="'Liberation Sans', Arial, sans-serif" font-size="17" font-weight="bold" font-style="normal" fill="#111" text-anchor="middle" >1318</text>
<text x="1657.5" y="610.8" font-family="'Liberation Sans', Arial, sans-serif" font-size="17" font-weight="bold" font-style="normal" fill="#111" text-anchor="middle" >620</text>
<text x="1789.1" y="621.8" font-family="'Liberation Sans', Arial, sans-serif" font-size="17" font-weight="bold" font-style="normal" fill="#111" text-anchor="middle" >1094</text>
<text x="1698.8" y="656.3" font-family="'Liberation Sans', Arial, sans-serif" font-size="17" font-weight="bold" font-style="normal" fill="#111" text-anchor="middle" >758</text>
<text x="1720.8" y="797.4" font-family="'Liberation Sans', Arial, sans-serif" font-size="17" font-weight="bold" font-style="normal" fill="#111" text-anchor="middle" >998</text>
<text x="1855.0" y="795.8" font-family="'Liberation Sans', Arial, sans-serif" font-size="17" font-weight="bold" font-style="normal" fill="#111" text-anchor="middle" >1523</text>
<text x="1926.1" y="805.2" font-family="'Liberation Sans', Arial, sans-serif" font-size="17" font-weight="bold" font-style="normal" fill="#111" text-anchor="middle" >1610</text>
<line x1="1651.8" y1="620.3" x2="1651.8" y2="648.5" stroke="#3a88c4" stroke-width="1.4" />
<polyline points="1646.8,639.5 1651.8,648.5 1656.8,639.5" fill="none" stroke="#3a88c4" stroke-width="1.4"/>
<line x1="1678.5" y1="645.3" x2="1678.5" y2="672.0" stroke="#3a88c4" stroke-width="1.4" />
<polyline points="1673.5,663.0 1678.5,672.0 1683.5,663.0" fill="none" stroke="#3a88c4" stroke-width="1.4"/>
<line x1="1790.4" y1="625.6" x2="1790.4" y2="653.2" stroke="#3a88c4" stroke-width="1.4" />
<polyline points="1785.4,644.2 1790.4,653.2 1795.4,644.2" fill="none" stroke="#3a88c4" stroke-width="1.4"/>
<line x1="1821.7" y1="584.2" x2="1821.7" y2="611.8" stroke="#3a88c4" stroke-width="1.4" />
<polyline points="1816.7,602.8 1821.7,611.8 1826.7,602.8" fill="none" stroke="#3a88c4" stroke-width="1.4"/>
<line x1="1866.6" y1="487.0" x2="1866.6" y2="515.2" stroke="#3a88c4" stroke-width="1.4" />
<polyline points="1861.6,506.2 1866.6,515.2 1871.6,506.2" fill="none" stroke="#3a88c4" stroke-width="1.4"/>
<line x1="1744.3" y1="806.8" x2="1744.3" y2="772.3" stroke="#f49090" stroke-width="1.4" />
<polyline points="1749.3,781.3 1744.3,772.3 1739.3,781.3" fill="none" stroke="#f49090" stroke-width="1.4"/>
<line x1="1880.0" y1="806.8" x2="1880.0" y2="772.3" stroke="#f49090" stroke-width="1.4" />
<polyline points="1885.0,781.3 1880.0,772.3 1875.0,781.3" fill="none" stroke="#f49090" stroke-width="1.4"/>
<line x1="1904.2" y1="806.8" x2="1904.2" y2="772.3" stroke="#f49090" stroke-width="1.4" />
<polyline points="1909.2,781.3 1904.2,772.3 1899.2,781.3" fill="none" stroke="#f49090" stroke-width="1.4"/>
<text x="4.0" y="940.0" font-family="'Liberation Sans', Arial, sans-serif" font-size="57" font-weight="bold" font-style="normal" fill="#000" text-anchor="start" >b</text>
<defs><radialGradient id="gold" cx="0.4" cy="0.3" r="0.75"><stop offset="0" stop-color="#fff8c0"/><stop offset="0.3" stop-color="#f0d030"/><stop offset="0.75" stop-color="#c89a08"/><stop offset="1" stop-color="#8a6a00"/></radialGradient><linearGradient id="rodg" x1="0" y1="0" x2="0" y2="1"><stop offset="0" stop-color="#e8c000"/><stop offset="0.3" stop-color="#f8e020"/><stop offset="0.7" stop-color="#d8a800"/><stop offset="1" stop-color="#a87000"/></linearGradient><linearGradient id="plat" x1="0" y1="0" x2="0" y2="1"><stop offset="0" stop-color="#f8d840"/><stop offset="1" stop-color="#c09000"/></linearGradient></defs>
<rect x="124.5" y="981.3" width="409.9" height="327.2" fill="#e2f5f7" stroke="none" stroke-width="1" />
<rect x="124.5" y="981.3" width="25.5" height="327.2" fill="#d8d2ec" stroke="none" stroke-width="1" />
<rect x="150.0" y="981.3" width="26.0" height="327.2" fill="#cfc8e6" stroke="none" stroke-width="1" />
<ellipse cx="186.5" cy="1025.5" rx="48" ry="16" transform="rotate(57 186.5 1025.5)" fill="#f2c49c" opacity="0.9"/>
<ellipse cx="282.3" cy="1138" rx="35" ry="17" transform="rotate(38 282.3 1138)" fill="#eeb8c0" opacity="0.9"/>
<ellipse cx="364" cy="1185.3" rx="36" ry="19" transform="rotate(28 364 1185.3)" fill="#cfe2a8" opacity="0.9"/>
<ellipse cx="475.6" cy="1220.3" rx="50" ry="14" transform="rotate(14 475.6 1220.3)" fill="#8fb6e6" opacity="0.9"/>
<path d="M164.3,981.3l1.8,4.1 1.8,4.1 1.8,4 1.8,3.9 1.8,3.9 1.8,3.8 1.8,3.8 1.8,3.7 1.8,3.6 1.8,3.6 1.8,3.4 1.8,3.4 1.8,3.4 1.8,3.3 1.8,3.3 1.8,3.2 1.8,3.2 1.8,3.1 1.8,3.1 1.7,3 1.8,3 1.8,2.8 1.8,2.8 1.8,2.8 1.8,2.6 1.8,2.6 1.8,2.5 1.8,2.5 1.8,2.4 1.8,2.4 1.8,2.3 1.8,2.2 1.8,2.3 1.8,2.2 1.8,2.1 1.8,2.1 1.8,2.1 1.8,2.1 1.8,2.1 1.8,2.1 1.8,2 1.8,2 1.8,2 1.8,1.9 1.8,1.9 1.8,1.8 1.8,1.9 1.8,1.7 1.8,1.7 1.8,1.7 1.8,1.6 1.8,1.5 1.8,1.5 1.8,1.5 1.8,1.5 1.8,1.4 1.8,1.4 1.8,1.3 1.8,1.4 1.7,1.3 1.8,1.3 1.8,1.2 1.8,1.3 1.8,1.2 1.8,1.2 1.8,1.2 1.8,1.2 1.8,1.2 1.8,1.1 1.8,1.2 1.8,1.1 1.8,1.1 1.8,1.1 1.8,1.1 1.8,1 1.8,1.1 1.8,1 1.8,1 1.8,1 1.8,1 1.8,1 1.8,.9 1.8,1 1.8,.9 1.8,.9 1.8,.9 1.8,.9 1.8,.8 1.8,.9 1.8,.9 1.8,.8 1.8,.9 1.8,.8 1.8,.8 1.8,.9 1.8,.8 1.8,.8 1.8,.8 1.8,.9 1.7,.8 1.8,.8 1.8,.9 1.8,.8 1.8,.9 1.8,.8 1.8,.9 1.8,.8 1.8,.9 1.8,.8 1.8,.9 1.8,.8 1.8,.9 1.8,.8 1.8,.9 1.8,.8 1.8,.8 1.8,.9 1.8,.8 1.8,.8 1.8,.9 1.8,.8 1.8,.9 1.8,.8 1.8,.8 1.8,.9 1.8,.8 1.8,.9 1.8,.9 1.8,.9 1.8,.9 1.8,.9 1.8,.9 1.8,.9 1.8,.9 1.8,.9 1.8,.9 1.8,.9 1.8,.9 1.8,.9 1.7,.8 1.8,.8 1.8,.9 1.8,.7 1.8,.8 1.8,.7 1.8,.8 1.8,.6 1.8,.7 1.8,.6 1.8,.6 1.8,.5 1.8,.6 1.8,.5 1.8,.5 1.8,.5 1.8,.5 1.8,.4 1.8,.5 1.8,.4 1.8,.5 1.8,.4 1.8,.4 1.8,.4 1.8,.4 1.8,.3 1.8,.4 1.8,.3 1.8,.3 1.8,.3 1.8,.3 1.8,.4 1.8,.3 1.8,.2 1.8,.3 1.8,.3 1.8,.2 1.8,.3 1.8,.2 1.8,.2 1.7,.2 1.8,.2 1.8,.1 1.8,.2 1.8,.1 1.8,.2 1.8,.1 1.8,.2 1.8,.1 1.8,.2 1.8,.1 1.8,.1 1.8,.1 1.8,.1 1.8,.1 1.8,.1 1.8,.1 1.8,0 1.8,.1 1.8,0" fill="none" stroke="#111" stroke-width="2.4" stroke-linejoin="round" stroke-dasharray="8 5.5"/>
<rect x="124.5" y="981.3" width="409.9" height="327.2" fill="none" stroke="#111" stroke-width="2.6" />
<line x1="133.4" y1="1308.5" x2="133.4" y2="1302.5" stroke="#111" stroke-width="2" />
<text x="133.4" y="1344" font-family="'Liberation Sans', Arial, sans-serif" font-size="22" fill="#222" text-anchor="middle">10<tspan font-size="14" dy="-10">0</tspan></text>
<line x1="245.6" y1="1308.5" x2="245.6" y2="1302.5" stroke="#111" stroke-width="2" />
<text x="245.6" y="1344" font-family="'Liberation Sans', Arial, sans-serif" font-size="22" fill="#222" text-anchor="middle">10<tspan font-size="14" dy="-10">2</tspan></text>
<line x1="357.7" y1="1308.5" x2="357.7" y2="1302.5" stroke="#111" stroke-width="2" />
<text x="357.7" y="1344" font-family="'Liberation Sans', Arial, sans-serif" font-size="22" fill="#222" text-anchor="middle">10<tspan font-size="14" dy="-10">4</tspan></text>
<line x1="469.0" y1="1308.5" x2="469.0" y2="1302.5" stroke="#111" stroke-width="2" />
<text x="469.0" y="1344" font-family="'Liberation Sans', Arial, sans-serif" font-size="22" fill="#222" text-anchor="middle">10<tspan font-size="14" dy="-10">6</tspan></text>
<line x1="189.5" y1="1308.5" x2="189.5" y2="1305.0" stroke="#111" stroke-width="1.5" />
<line x1="301.6" y1="1308.5" x2="301.6" y2="1305.0" stroke="#111" stroke-width="1.5" />
<line x1="413.4" y1="1308.5" x2="413.4" y2="1305.0" stroke="#111" stroke-width="1.5" />
<line x1="525.0" y1="1308.5" x2="525.0" y2="1305.0" stroke="#111" stroke-width="1.5" />
<line x1="124.5" y1="1299.6" x2="130.5" y2="1299.6" stroke="#111" stroke-width="2" />
<text x="121" y="1307.6" font-family="'Liberation Sans', Arial, sans-serif" font-size="22" fill="#222" text-anchor="end">10<tspan font-size="14" dy="-10">0</tspan></text>
<line x1="124.5" y1="1195.2" x2="130.5" y2="1195.2" stroke="#111" stroke-width="2" />
<text x="121" y="1203.2" font-family="'Liberation Sans', Arial, sans-serif" font-size="22" fill="#222" text-anchor="end">10<tspan font-size="14" dy="-10">2</tspan></text>
<line x1="124.5" y1="1092.7" x2="130.5" y2="1092.7" stroke="#111" stroke-width="2" />
<text x="121" y="1100.7" font-family="'Liberation Sans', Arial, sans-serif" font-size="22" fill="#222" text-anchor="end">10<tspan font-size="14" dy="-10">4</tspan></text>
<line x1="124.5" y1="990.2" x2="130.5" y2="990.2" stroke="#111" stroke-width="2" />
<text x="121" y="998.2" font-family="'Liberation Sans', Arial, sans-serif" font-size="22" fill="#222" text-anchor="end">10<tspan font-size="14" dy="-10">6</tspan></text>
<line x1="124.5" y1="1247.4" x2="128.0" y2="1247.4" stroke="#111" stroke-width="1.5" />
<line x1="124.5" y1="1144.0" x2="128.0" y2="1144.0" stroke="#111" stroke-width="1.5" />
<line x1="124.5" y1="1041.5" x2="128.0" y2="1041.5" stroke="#111" stroke-width="1.5" />
<text transform="translate(74.5 1146.8) rotate(-90)" font-family="'Liberation Sans', Arial, sans-serif" font-size="27" fill="#222" text-anchor="middle">CDE (CDSE)</text>
<text x="247" y="1386.6" font-family="'Liberation Sans', Arial, sans-serif" font-size="27" fill="#222">V<tspan font-size="19" dy="7">mode</tspan><tspan dy="-7"> (nm</tspan><tspan font-size="18" dy="-13">3</tspan><tspan dy="13">)</tspan></text>
<text x="285.4" y="1007.6" font-family="'Liberation Sans', Arial, sans-serif" font-size="22.2" font-weight="bold" font-style="normal" fill="#222" text-anchor="start" >classical regime</text>
<text transform="translate(157.5 1143) rotate(-90)" font-family="'Liberation Sans', Arial, sans-serif" font-size="21.5" font-weight="bold" fill="#222" text-anchor="middle">quantum regime</text>
<text x="285.0" y="1052.0" font-family="'Liberation Sans', Arial, sans-serif" font-size="19.5" font-weight="normal" font-style="normal" fill="#333" text-anchor="start" >dimer</text>
<text x="348.0" y="1119.8" font-family="'Liberation Sans', Arial, sans-serif" font-size="19.5" font-weight="normal" font-style="normal" fill="#333" text-anchor="start" >nanorod</text>
<text x="427.3" y="1114.0" font-family="'Liberation Sans', Arial, sans-serif" font-size="19.5" font-weight="normal" font-style="normal" fill="#333" text-anchor="start" >nanoisland</text>
<text x="177.9" y="1172.0" font-family="'Liberation Sans', Arial, sans-serif" font-size="19.5" font-weight="normal" font-style="normal" fill="#333" text-anchor="start" >NPoM</text>
<text x="297.0" y="1260.9" font-family="'Liberation Sans', Arial, sans-serif" font-size="19.5" font-weight="normal" font-style="normal" fill="#333" text-anchor="start" >chain</text>
<g transform="translate(276.8 1076.2) rotate(27.9)"><rect x="-9.0" y="-9.0" width="52.8" height="18" rx="9.0" ry="9.0" fill="url(#rodg)"/><line x1="0" y1="-4.0" x2="34.8" y2="-4.0" stroke="#fffbe0" stroke-width="2.5" stroke-linecap="round" opacity="0.85"/></g>
<g transform="translate(338.4 1078.0) rotate(117.8)"><rect x="-9.0" y="-9.0" width="52.9" height="18" rx="9.0" ry="9.0" fill="url(#rodg)"/><line x1="0" y1="-4.0" x2="34.9" y2="-4.0" stroke="#fffbe0" stroke-width="2.5" stroke-linecap="round" opacity="0.85"/></g>
<g transform="translate(362.5 1147.8) rotate(0.0)"><rect x="-12.0" y="-12.0" width="57.0" height="24" rx="12.0" ry="12.0" fill="url(#rodg)"/><line x1="0" y1="-5.3" x2="33.0" y2="-5.3" stroke="#fffbe0" stroke-width="3.4" stroke-linecap="round" opacity="0.85"/></g>
<g transform="translate(270.5 1174.1) rotate(88.2)"><rect x="-7.7" y="-7.7" width="44.4" height="15.4" rx="7.7" ry="7.7" fill="url(#rodg)"/><line x1="0" y1="-3.4" x2="29.0" y2="-3.4" stroke="#fffbe0" stroke-width="2.2" stroke-linecap="round" opacity="0.85"/></g>
<g transform="translate(271.4 1214.9) rotate(82.7)"><rect x="-7.7" y="-7.7" width="43.6" height="15.4" rx="7.7" ry="7.7" fill="url(#rodg)"/><line x1="0" y1="-3.4" x2="28.2" y2="-3.4" stroke="#fffbe0" stroke-width="2.2" stroke-linecap="round" opacity="0.85"/></g>
<g transform="translate(275.9 1256.5) rotate(86.4)"><rect x="-7.7" y="-7.7" width="44.5" height="15.4" rx="7.7" ry="7.7" fill="url(#rodg)"/><line x1="0" y1="-3.4" x2="29.1" y2="-3.4" stroke="#fffbe0" stroke-width="2.2" stroke-linecap="round" opacity="0.85"/></g>
<polygon points="170.8,1126.6 235.2,1126.6 250.6,1142.4 159.0,1142.4" fill="url(#plat)" stroke="none" stroke-width="0" />
<rect x="159.0" y="1142.4" width="91.6" height="5.4" fill="#a0a0a0" stroke="none" stroke-width="1" />
<circle cx="206.2" cy="1104" r="21.3" fill="url(#gold)"/>
<rect x="421.5" y="1179.7" width="96.7" height="9.7" fill="#8c8c8c" stroke="none" stroke-width="1" />
<path d="M441,1179.7 A29,29 0 0 1 499,1179.7 Z" fill="#7aa04a"/>
<circle cx="469.8" cy="1161" r="23" fill="url(#gold)"/>
<circle cx="444" cy="1170" r="4.2" fill="#f05a5a"/>
<circle cx="449" cy="1156" r="4.2" fill="#f05a5a"/>
<circle cx="459" cy="1145" r="4.2" fill="#f05a5a"/>
<circle cx="472" cy="1141" r="4.2" fill="#f05a5a"/>
<circle cx="485" cy="1146" r="4.2" fill="#f05a5a"/>
<circle cx="494" cy="1157" r="4.2" fill="#f05a5a"/>
<circle cx="497" cy="1171" r="4.2" fill="#f05a5a"/>
<defs><radialGradient id="np" cx="0.6" cy="0.2" r="0.85"><stop offset="0" stop-color="#ffffff"/><stop offset="0.1" stop-color="#f8f490"/><stop offset="0.35" stop-color="#ece434"/><stop offset="0.75" stop-color="#dccc28"/><stop offset="1" stop-color="#b0a018"/></radialGradient><radialGradient id="np2" cx="0.39" cy="0.67" r="0.16"><stop offset="0" stop-color="#ffffff" stop-opacity="1"/><stop offset="0.4" stop-color="#fffff0" stop-opacity="0.8"/><stop offset="1" stop-color="#f8f880" stop-opacity="0"/></radialGradient><linearGradient id="gapglow" x1="0" y1="0" x2="1" y2="0"><stop offset="0" stop-color="#400000"/><stop offset="0.15" stop-color="#c01000"/><stop offset="0.33" stop-color="#ff5000"/><stop offset="0.4" stop-color="#ffe060"/><stop offset="0.62" stop-color="#ffe060"/><stop offset="0.68" stop-color="#ff5000"/><stop offset="0.85" stop-color="#c01000"/><stop offset="1" stop-color="#500000"/></linearGradient><linearGradient id="topglow" x1="0" y1="0" x2="0" y2="1"><stop offset="0" stop-color="#1a0000"/><stop offset="1" stop-color="#6a0a00"/></linearGradient></defs>
<rect x="563.8" y="963.8" width="331.2" height="414.0" fill="#fff" stroke="#555" stroke-width="3.6" />
<defs><linearGradient id="wedge" x1="0" y1="0" x2="1" y2="0"><stop offset="0" stop-color="#2a0300"/><stop offset="0.15" stop-color="#6a0800"/><stop offset="0.3" stop-color="#e02808"/><stop offset="0.36" stop-color="#ff4a10"/><stop offset="0.5" stop-color="#ff6a20"/><stop offset="0.64" stop-color="#ff4a10"/><stop offset="0.7" stop-color="#e02808"/><stop offset="0.85" stop-color="#6a0800"/><stop offset="1" stop-color="#3a0400"/></linearGradient><linearGradient id="wedgev" x1="0" y1="0" x2="0" y2="1"><stop offset="0" stop-color="#160000" stop-opacity="0.9"/><stop offset="0.6" stop-color="#160000" stop-opacity="0.2"/><stop offset="1" stop-color="#160000" stop-opacity="0"/></linearGradient><linearGradient id="band" x1="0" y1="0" x2="1" y2="0"><stop offset="0" stop-color="#300400"/><stop offset="0.18" stop-color="#801000"/><stop offset="0.3" stop-color="#ff3a10"/><stop offset="0.355" stop-color="#f8f040"/><stop offset="0.5" stop-color="#ffffa8"/><stop offset="0.645" stop-color="#f8f040"/><stop offset="0.7" stop-color="#ff3a10"/><stop offset="0.82" stop-color="#801000"/><stop offset="1" stop-color="#300400"/></linearGradient><linearGradient id="below" x1="0" y1="0" x2="0" y2="1"><stop offset="0" stop-color="#3c0500"/><stop offset="1" stop-color="#120000"/></linearGradient></defs>
<rect x="574.4" y="974.7" width="311.7" height="115.5" fill="#140000" stroke="none" stroke-width="1" />
<path d="M574.4,1005.9 C615,1018 655,1032 685.5,1042.6 L782.3,1042.6 C815,1031 850,1017 886.1,1002.8 L886.1,1057.4 L574.4,1057.4 Z" fill="url(#wedge)"/>
<path d="M574.4,1005.9 C615,1018 655,1032 685.5,1042.6 L782.3,1042.6 C815,1031 850,1017 886.1,1002.8 L886.1,1057.4 L574.4,1057.4 Z" fill="url(#wedgev)"/>
<rect x="574.4" y="1042.6" width="311.7" height="14.8" fill="url(#band)" stroke="none" stroke-width="1" />
<rect x="574.4" y="1057.4" width="311.7" height="32.8" fill="url(#below)" stroke="none" stroke-width="1" />
<line x1="654.3" y1="1048.0" x2="810.4" y2="1048.0" stroke="#111" stroke-width="1.8" stroke-dasharray="6.5 5.5"/>
<rect x="790.1" y="1075.4" width="89.8" height="6.2" fill="#fff" stroke="none" stroke-width="1" />
<text x="580.9" y="1002.8" font-family="'Liberation Sans', Arial, sans-serif" font-size="21" font-weight="bold" font-style="normal" fill="#fff" text-anchor="start" >Au</text>
<text x="580.9" y="1055.9" font-family="'Liberation Sans', Arial, sans-serif" font-size="21" font-weight="bold" font-style="normal" fill="#fff" text-anchor="start" >SAM</text>
<text x="580.9" y="1085.5" font-family="'Liberation Sans', Arial, sans-serif" font-size="21" font-weight="bold" font-style="normal" fill="#fff" text-anchor="start" >Au</text>
<text x="655.9" y="1015.3" font-family="'Liberation Sans', Arial, sans-serif" font-size="31" font-weight="normal" fill="#fff" stroke="#fff" stroke-width="0.6">|E/E<tspan font-size="20" dy="6">0</tspan><tspan dy="-6">|~300</tspan></text>
<rect x="565.6" y="1281.0" width="327.6" height="66.0" fill="#e8edf4" stroke="none" stroke-width="1" />
<rect x="565.6" y="1347.0" width="327.6" height="29.0" fill="#c6a82e" stroke="none" stroke-width="1" />
<line x1="567.0" y1="1281.0" x2="892.0" y2="1281.0" stroke="#a0a0a0" stroke-width="1.8" stroke-dasharray="8 5"/>
<circle cx="596.9" cy="1331.0" r="3.6" fill="#e06868" opacity="0.7"/>
<circle cx="603.4" cy="1335.5" r="3.6" fill="#d0d0d0" opacity="0.7"/>
<circle cx="608.5" cy="1337.4" r="3.6" fill="#e06868" opacity="0.7"/>
<circle cx="615.6" cy="1341.1" r="3.6" fill="#d0d0d0" opacity="0.7"/>
<circle cx="619.8" cy="1345.0" r="3.6" fill="#a8a8a8" opacity="0.7"/>
<circle cx="600.2" cy="1325.6" r="3.6" fill="#a8a8a8" opacity="0.7"/>
<circle cx="605.7" cy="1328.9" r="3.6" fill="#e06868" opacity="0.7"/>
<circle cx="611.7" cy="1332.1" r="3.6" fill="#a8a8a8" opacity="0.7"/>
<circle cx="618.0" cy="1334.5" r="3.6" fill="#a8a8a8" opacity="0.7"/>
<circle cx="623.1" cy="1337.8" r="3.6" fill="#d0d0d0" opacity="0.7"/>
<circle cx="603.2" cy="1320.7" r="3.6" fill="#e06868" opacity="0.7"/>
<circle cx="608.7" cy="1323.2" r="3.6" fill="#d0d0d0" opacity="0.7"/>
<circle cx="614.8" cy="1326.3" r="3.6" fill="#e06868" opacity="0.7"/>
<circle cx="620.8" cy="1328.8" r="3.6" fill="#d0d0d0" opacity="0.7"/>
<circle cx="625.5" cy="1333.1" r="3.6" fill="#e06868" opacity="0.7"/>
<circle cx="604.9" cy="1315.2" r="3.6" fill="#a8a8a8" opacity="0.7"/>
<circle cx="612.4" cy="1317.7" r="3.6" fill="#e06868" opacity="0.7"/>
<circle cx="616.9" cy="1321.3" r="3.6" fill="#a8a8a8" opacity="0.7"/>
<circle cx="624.2" cy="1324.9" r="3.6" fill="#e06868" opacity="0.7"/>
<circle cx="629.5" cy="1328.1" r="3.6" fill="#d0d0d0" opacity="0.7"/>
<circle cx="608.7" cy="1309.9" r="3.6" fill="#e06868" opacity="0.7"/>
<circle cx="614.5" cy="1313.1" r="3.6" fill="#d0d0d0" opacity="0.7"/>
<circle cx="620.9" cy="1315.8" r="3.6" fill="#e06868" opacity="0.7"/>
<circle cx="626.4" cy="1319.1" r="3.6" fill="#a8a8a8" opacity="0.7"/>
<circle cx="632.5" cy="1321.3" r="3.6" fill="#a8a8a8" opacity="0.7"/>
<circle cx="612.5" cy="1304.2" r="3.6" fill="#a8a8a8" opacity="0.7"/>
<circle cx="617.0" cy="1307.7" r="3.6" fill="#e06868" opacity="0.7"/>
<circle cx="622.6" cy="1310.9" r="3.6" fill="#d0d0d0" opacity="0.7"/>
<circle cx="629.0" cy="1313.6" r="3.6" fill="#e06868" opacity="0.7"/>
<circle cx="634.9" cy="1317.4" r="3.6" fill="#a8a8a8" opacity="0.7"/>
<circle cx="614.1" cy="1297.8" r="3.6" fill="#e06868" opacity="0.7"/>
<circle cx="620.4" cy="1302.2" r="3.6" fill="#d0d0d0" opacity="0.7"/>
<circle cx="626.0" cy="1304.6" r="3.6" fill="#d0d0d0" opacity="0.7"/>
<circle cx="631.8" cy="1308.2" r="3.6" fill="#d0d0d0" opacity="0.7"/>
<circle cx="638.1" cy="1310.2" r="3.6" fill="#d0d0d0" opacity="0.7"/>
<circle cx="617.2" cy="1294.0" r="3.6" fill="#d0d0d0" opacity="0.7"/>
<circle cx="623.1" cy="1296.1" r="3.6" fill="#a8a8a8" opacity="0.7"/>
<circle cx="629.9" cy="1299.4" r="3.6" fill="#a8a8a8" opacity="0.7"/>
<circle cx="636.1" cy="1301.9" r="3.6" fill="#e06868" opacity="0.7"/>
<circle cx="640.5" cy="1305.0" r="3.6" fill="#a8a8a8" opacity="0.7"/>
<circle cx="620.7" cy="1288.3" r="3.6" fill="#e06868" opacity="0.7"/>
<circle cx="626.4" cy="1291.5" r="3.6" fill="#d0d0d0" opacity="0.7"/>
<circle cx="632.7" cy="1294.4" r="3.6" fill="#e06868" opacity="0.7"/>
<circle cx="639.0" cy="1297.5" r="3.6" fill="#a8a8a8" opacity="0.7"/>
<circle cx="644.0" cy="1299.7" r="3.6" fill="#e06868" opacity="0.7"/>
<circle cx="632.5" cy="1343" r="3.5" fill="#e8e0a0"/>
<circle cx="673.1" cy="1332.2" r="3.6" fill="#d0d0d0" opacity="0.7"/>
<circle cx="677.4" cy="1336.0" r="3.6" fill="#a8a8a8" opacity="0.7"/>
<circle cx="683.4" cy="1338.7" r="3.6" fill="#e06868" opacity="0.7"/>
<circle cx="688.7" cy="1340.7" r="3.6" fill="#d0d0d0" opacity="0.7"/>
<circle cx="696.5" cy="1343.5" r="3.6" fill="#e06868" opacity="0.7"/>
<circle cx="675.3" cy="1326.1" r="3.6" fill="#a8a8a8" opacity="0.7"/>
<circle cx="681.4" cy="1330.0" r="3.6" fill="#e06868" opacity="0.7"/>
<circle cx="686.4" cy="1331.7" r="3.6" fill="#d0d0d0" opacity="0.7"/>
<circle cx="692.3" cy="1335.1" r="3.6" fill="#e06868" opacity="0.7"/>
<circle cx="699.6" cy="1339.1" r="3.6" fill="#a8a8a8" opacity="0.7"/>
<circle cx="678.9" cy="1321.7" r="3.6" fill="#e06868" opacity="0.7"/>
<circle cx="683.8" cy="1323.7" r="3.6" fill="#d0d0d0" opacity="0.7"/>
<circle cx="689.8" cy="1326.8" r="3.6" fill="#e06868" opacity="0.7"/>
<circle cx="696.7" cy="1331.3" r="3.6" fill="#d0d0d0" opacity="0.7"/>
<circle cx="700.8" cy="1334.7" r="3.6" fill="#e06868" opacity="0.7"/>
<circle cx="681.0" cy="1315.4" r="3.6" fill="#d0d0d0" opacity="0.7"/>
<circle cx="687.7" cy="1318.7" r="3.6" fill="#e06868" opacity="0.7"/>
<circle cx="693.1" cy="1321.6" r="3.6" fill="#a8a8a8" opacity="0.7"/>
<circle cx="698.5" cy="1323.7" r="3.6" fill="#e06868" opacity="0.7"/>
<circle cx="705.1" cy="1327.3" r="3.6" fill="#d0d0d0" opacity="0.7"/>
<circle cx="683.9" cy="1309.9" r="3.6" fill="#e06868" opacity="0.7"/>
<circle cx="689.4" cy="1313.3" r="3.6" fill="#a8a8a8" opacity="0.7"/>
<circle cx="695.3" cy="1315.9" r="3.6" fill="#e06868" opacity="0.7"/>
<circle cx="702.5" cy="1319.6" r="3.6" fill="#d0d0d0" opacity="0.7"/>
<circle cx="707.9" cy="1322.0" r="3.6" fill="#e06868" opacity="0.7"/>
<circle cx="686.6" cy="1304.4" r="3.6" fill="#d0d0d0" opacity="0.7"/>
<circle cx="694.5" cy="1307.4" r="3.6" fill="#d0d0d0" opacity="0.7"/>
<circle cx="698.5" cy="1311.2" r="3.6" fill="#d0d0d0" opacity="0.7"/>
<circle cx="704.4" cy="1314.1" r="3.6" fill="#e06868" opacity="0.7"/>
<circle cx="709.4" cy="1317.3" r="3.6" fill="#d0d0d0" opacity="0.7"/>
<circle cx="689.4" cy="1298.7" r="3.6" fill="#e06868" opacity="0.7"/>
<circle cx="696.2" cy="1302.3" r="3.6" fill="#d0d0d0" opacity="0.7"/>
<circle cx="701.1" cy="1305.0" r="3.6" fill="#e06868" opacity="0.7"/>
<circle cx="706.7" cy="1308.9" r="3.6" fill="#d0d0d0" opacity="0.7"/>
<circle cx="713.4" cy="1311.1" r="3.6" fill="#e06868" opacity="0.7"/>
<circle cx="692.5" cy="1293.9" r="3.6" fill="#d0d0d0" opacity="0.7"/>
<circle cx="698.2" cy="1295.6" r="3.6" fill="#a8a8a8" opacity="0.7"/>
<circle cx="704.2" cy="1299.4" r="3.6" fill="#d0d0d0" opacity="0.7"/>
<circle cx="710.3" cy="1303.2" r="3.6" fill="#e06868" opacity="0.7"/>
<circle cx="716.7" cy="1306.2" r="3.6" fill="#d0d0d0" opacity="0.7"/>
<circle cx="695.8" cy="1288.3" r="3.6" fill="#e06868" opacity="0.7"/>
<circle cx="701.9" cy="1291.7" r="3.6" fill="#d0d0d0" opacity="0.7"/>
<circle cx="706.3" cy="1294.8" r="3.6" fill="#e06868" opacity="0.7"/>
<circle cx="713.5" cy="1296.4" r="3.6" fill="#d0d0d0" opacity="0.7"/>
<circle cx="719.3" cy="1300.1" r="3.6" fill="#e06868" opacity="0.7"/>
<circle cx="707.7" cy="1343" r="3.5" fill="#e8e0a0"/>
<circle cx="738.5" cy="1331.7" r="3.6" fill="#e06868" opacity="0.7"/>
<circle cx="743.5" cy="1335.6" r="3.6" fill="#a8a8a8" opacity="0.7"/>
<circle cx="750.0" cy="1338.0" r="3.6" fill="#e06868" opacity="0.7"/>
<circle cx="754.8" cy="1341.3" r="3.6" fill="#d0d0d0" opacity="0.7"/>
<circle cx="761.3" cy="1344.0" r="3.6" fill="#a8a8a8" opacity="0.7"/>
<circle cx="740.8" cy="1326.8" r="3.6" fill="#a8a8a8" opacity="0.7"/>
<circle cx="746.6" cy="1328.9" r="3.6" fill="#e06868" opacity="0.7"/>
<circle cx="753.3" cy="1332.1" r="3.6" fill="#d0d0d0" opacity="0.7"/>
<circle cx="759.2" cy="1334.8" r="3.6" fill="#d0d0d0" opacity="0.7"/>
<circle cx="763.9" cy="1338.1" r="3.6" fill="#a8a8a8" opacity="0.7"/>
<circle cx="744.8" cy="1320.7" r="3.6" fill="#d0d0d0" opacity="0.7"/>
<circle cx="749.9" cy="1323.2" r="3.6" fill="#d0d0d0" opacity="0.7"/>
<circle cx="754.9" cy="1326.6" r="3.6" fill="#e06868" opacity="0.7"/>
<circle cx="760.7" cy="1330.3" r="3.6" fill="#a8a8a8" opacity="0.7"/>
<circle cx="766.5" cy="1334.3" r="3.6" fill="#e06868" opacity="0.7"/>
<circle cx="747.5" cy="1315.6" r="3.6" fill="#d0d0d0" opacity="0.7"/>
<circle cx="753.3" cy="1318.5" r="3.6" fill="#e06868" opacity="0.7"/>
<circle cx="758.6" cy="1321.0" r="3.6" fill="#d0d0d0" opacity="0.7"/>
<circle cx="764.0" cy="1324.5" r="3.6" fill="#d0d0d0" opacity="0.7"/>
<circle cx="769.4" cy="1327.5" r="3.6" fill="#a8a8a8" opacity="0.7"/>
<circle cx="750.1" cy="1310.6" r="3.6" fill="#e06868" opacity="0.7"/>
<circle cx="756.7" cy="1313.4" r="3.6" fill="#a8a8a8" opacity="0.7"/>
<circle cx="761.4" cy="1315.8" r="3.6" fill="#e06868" opacity="0.7"/>
<circle cx="767.1" cy="1318.3" r="3.6" fill="#a8a8a8" opacity="0.7"/>
<circle cx="773.2" cy="1322.1" r="3.6" fill="#e06868" opacity="0.7"/>
<circle cx="752.5" cy="1304.1" r="3.6" fill="#d0d0d0" opacity="0.7"/>
<circle cx="758.5" cy="1307.4" r="3.6" fill="#e06868" opacity="0.7"/>
<circle cx="764.7" cy="1310.8" r="3.6" fill="#a8a8a8" opacity="0.7"/>
<circle cx="769.9" cy="1313.2" r="3.6" fill="#e06868" opacity="0.7"/>
<circle cx="775.9" cy="1316.6" r="3.6" fill="#a8a8a8" opacity="0.7"/>
<circle cx="754.3" cy="1299.2" r="3.6" fill="#e06868" opacity="0.7"/>
<circle cx="762.5" cy="1302.4" r="3.6" fill="#a8a8a8" opacity="0.7"/>
<circle cx="767.4" cy="1304.2" r="3.6" fill="#e06868" opacity="0.7"/>
<circle cx="772.8" cy="1308.4" r="3.6" fill="#d0d0d0" opacity="0.7"/>
<circle cx="779.1" cy="1311.7" r="3.6" fill="#e06868" opacity="0.7"/>
<circle cx="758.6" cy="1293.0" r="3.6" fill="#d0d0d0" opacity="0.7"/>
<circle cx="765.6" cy="1296.3" r="3.6" fill="#e06868" opacity="0.7"/>
<circle cx="770.8" cy="1300.0" r="3.6" fill="#d0d0d0" opacity="0.7"/>
<circle cx="775.4" cy="1303.1" r="3.6" fill="#e06868" opacity="0.7"/>
<circle cx="782.0" cy="1306.6" r="3.6" fill="#a8a8a8" opacity="0.7"/>
<circle cx="761.7" cy="1287.6" r="3.6" fill="#e06868" opacity="0.7"/>
<circle cx="766.9" cy="1292.0" r="3.6" fill="#d0d0d0" opacity="0.7"/>
<circle cx="772.3" cy="1295.2" r="3.6" fill="#d0d0d0" opacity="0.7"/>
<circle cx="779.3" cy="1296.9" r="3.6" fill="#d0d0d0" opacity="0.7"/>
<circle cx="785.2" cy="1300.8" r="3.6" fill="#d0d0d0" opacity="0.7"/>
<circle cx="773.6" cy="1343" r="3.5" fill="#e8e0a0"/>
<circle cx="804.1" cy="1331.7" r="3.6" fill="#e06868" opacity="0.7"/>
<circle cx="811.0" cy="1334.6" r="3.6" fill="#a8a8a8" opacity="0.7"/>
<circle cx="816.6" cy="1338.3" r="3.6" fill="#e06868" opacity="0.7"/>
<circle cx="820.8" cy="1340.7" r="3.6" fill="#d0d0d0" opacity="0.7"/>
<circle cx="827.5" cy="1343.0" r="3.6" fill="#e06868" opacity="0.7"/>
<circle cx="807.5" cy="1326.6" r="3.6" fill="#a8a8a8" opacity="0.7"/>
<circle cx="813.0" cy="1330.2" r="3.6" fill="#e06868" opacity="0.7"/>
<circle cx="819.0" cy="1332.8" r="3.6" fill="#d0d0d0" opacity="0.7"/>
<circle cx="825.0" cy="1335.3" r="3.6" fill="#e06868" opacity="0.7"/>
<circle cx="830.6" cy="1338.7" r="3.6" fill="#d0d0d0" opacity="0.7"/>
<circle cx="810.7" cy="1321.6" r="3.6" fill="#e06868" opacity="0.7"/>
<circle cx="815.6" cy="1324.4" r="3.6" fill="#a8a8a8" opacity="0.7"/>
<circle cx="821.6" cy="1327.4" r="3.6" fill="#a8a8a8" opacity="0.7"/>
<circle cx="826.7" cy="1330.2" r="3.6" fill="#d0d0d0" opacity="0.7"/>
<circle cx="832.8" cy="1333.1" r="3.6" fill="#e06868" opacity="0.7"/>
<circle cx="812.5" cy="1315.0" r="3.6" fill="#d0d0d0" opacity="0.7"/>
<circle cx="818.6" cy="1319.5" r="3.6" fill="#e06868" opacity="0.7"/>
<circle cx="824.6" cy="1321.7" r="3.6" fill="#a8a8a8" opacity="0.7"/>
<circle cx="830.7" cy="1324.8" r="3.6" fill="#e06868" opacity="0.7"/>
<circle cx="835.1" cy="1327.0" r="3.6" fill="#a8a8a8" opacity="0.7"/>
<circle cx="816.5" cy="1310.2" r="3.6" fill="#e06868" opacity="0.7"/>
<circle cx="821.4" cy="1313.2" r="3.6" fill="#a8a8a8" opacity="0.7"/>
<circle cx="827.7" cy="1315.6" r="3.6" fill="#e06868" opacity="0.7"/>
<circle cx="833.5" cy="1318.9" r="3.6" fill="#d0d0d0" opacity="0.7"/>
<circle cx="839.3" cy="1322.3" r="3.6" fill="#e06868" opacity="0.7"/>
<circle cx="818.0" cy="1303.5" r="3.6" fill="#a8a8a8" opacity="0.7"/>
<circle cx="825.2" cy="1308.7" r="3.6" fill="#e06868" opacity="0.7"/>
<circle cx="830.9" cy="1310.0" r="3.6" fill="#d0d0d0" opacity="0.7"/>
<circle cx="836.6" cy="1312.9" r="3.6" fill="#e06868" opacity="0.7"/>
<circle cx="841.8" cy="1316.8" r="3.6" fill="#a8a8a8" opacity="0.7"/>
<circle cx="821.9" cy="1299.1" r="3.6" fill="#e06868" opacity="0.7"/>
<circle cx="827.7" cy="1302.3" r="3.6" fill="#d0d0d0" opacity="0.7"/>
<circle cx="833.6" cy="1304.9" r="3.6" fill="#d0d0d0" opacity="0.7"/>
<circle cx="840.0" cy="1307.2" r="3.6" fill="#d0d0d0" opacity="0.7"/>
<circle cx="843.8" cy="1312.3" r="3.6" fill="#d0d0d0" opacity="0.7"/>
<circle cx="824.3" cy="1292.9" r="3.6" fill="#d0d0d0" opacity="0.7"/>
<circle cx="830.6" cy="1296.7" r="3.6" fill="#e06868" opacity="0.7"/>
<circle cx="835.6" cy="1299.1" r="3.6" fill="#d0d0d0" opacity="0.7"/>
<circle cx="842.1" cy="1303.3" r="3.6" fill="#e06868" opacity="0.7"/>
<circle cx="848.4" cy="1306.5" r="3.6" fill="#d0d0d0" opacity="0.7"/>
<circle cx="827.3" cy="1288.7" r="3.6" fill="#e06868" opacity="0.7"/>
<circle cx="833.4" cy="1289.9" r="3.6" fill="#d0d0d0" opacity="0.7"/>
<circle cx="839.6" cy="1294.3" r="3.6" fill="#a8a8a8" opacity="0.7"/>
<circle cx="843.8" cy="1297.4" r="3.6" fill="#d0d0d0" opacity="0.7"/>
<circle cx="851.6" cy="1300.2" r="3.6" fill="#a8a8a8" opacity="0.7"/>
<circle cx="839.5" cy="1343" r="3.5" fill="#e8e0a0"/>
<circle cx="727.2" cy="1193.8" r="92.8" fill="url(#np)"/>
<circle cx="727.2" cy="1193.8" r="92.8" fill="url(#np2)"/>
<text x="671.0" y="1213.7" font-family="'Liberation Sans', Arial, sans-serif" font-size="37" font-weight="bold" font-style="normal" fill="#111" text-anchor="start" >Au NP</text>
<text x="578.2" y="1131.0" font-family="'Liberation Sans', Arial, sans-serif" font-size="24" font-weight="bold" font-style="normal" fill="#111" text-anchor="start" >RCP</text>
<text x="576.5" y="1169.3" font-family="'Liberation Sans', Arial, sans-serif" font-size="25.5" font-weight="bold" font-style="normal" fill="#111" text-anchor="start" >/LCP</text>
<ellipse cx="594.5" cy="1204.5" rx="24" ry="7.5" transform="rotate(-55 594.5 1204.5)" fill="none" stroke="#e81818" stroke-width="2.6"/>
<line x1="597.5" y1="1204.5" x2="627.0" y2="1231.0" stroke="#111" stroke-width="2.6" />
<polygon points="636.0,1239.5 620.5,1234.5 630.5,1223.5" fill="#111" stroke="none" stroke-width="0" />
<text x="620.5" y="1272.0" font-family="'Liberation Sans', Arial, sans-serif" font-size="30" font-weight="bold" font-style="normal" fill="#111" text-anchor="start" >k</text>
<line x1="582.2" y1="1252.0" x2="582.2" y2="1276.0" stroke="#666" stroke-width="2" />
<polygon points="577.0,1272.0 587.4,1272.0 582.2,1282.0" fill="#666" stroke="none" stroke-width="0" />
<line x1="582.2" y1="1371.6" x2="582.2" y2="1354.0" stroke="#666" stroke-width="2" />
<polygon points="577.0,1357.0 587.4,1357.0 582.2,1347.5" fill="#666" stroke="none" stroke-width="0" />
<text x="717.0" y="1270.5" font-family="'Liberation Sans', Arial, sans-serif" font-size="32" font-weight="bold" font-style="italic" fill="#ee1c1c" text-anchor="start" >&#956;</text>
<text x="758.0" y="1296.5" font-family="'Liberation Sans', Arial, sans-serif" font-size="31" font-weight="bold" font-style="italic" fill="#3a80d0" text-anchor="start" >m</text>
<line x1="727.9" y1="1339.4" x2="727.9" y2="1300.0" stroke="#ee1c1c" stroke-width="3.2" />
<polygon points="721.0,1304.0 734.8,1304.0 727.9,1288.0" fill="#ee1c1c" stroke="none" stroke-width="0" />
<line x1="727.9" y1="1339.4" x2="756.0" y2="1314.0" stroke="#3a80d0" stroke-width="3.2" />
<polygon points="750.5,1310.0 759.5,1320.0 766.0,1306.0" fill="#3a80d0" stroke="none" stroke-width="0" />
<text x="573.0" y="1325.6" font-family="'Liberation Sans', Arial, sans-serif" font-size="28.5" font-weight="bold" font-style="normal" fill="#111" text-anchor="start" >&lt;2 nm</text>
<defs><radialGradient id="lcp" cx="0.5" cy="0.62" r="0.62"><stop offset="0" stop-color="#f27878"/><stop offset="0.3" stop-color="#f05050"/><stop offset="0.45" stop-color="#f03838"/><stop offset="0.7" stop-color="#f4a4a4"/><stop offset="1" stop-color="#fae0e0"/></radialGradient><radialGradient id="rcp" cx="0.5" cy="0.38" r="0.62"><stop offset="0" stop-color="#6a6af2"/><stop offset="0.3" stop-color="#5050f0"/><stop offset="0.45" stop-color="#3a3af0"/><stop offset="0.7" stop-color="#a8a8f6"/><stop offset="1" stop-color="#e6e6fc"/></radialGradient><linearGradient id="bwr" x1="0" y1="0" x2="0" y2="1"><stop offset="0" stop-color="#1010f4"/><stop offset="0.5" stop-color="#ffffff"/><stop offset="1" stop-color="#f41414"/></linearGradient><linearGradient id="wtop" x1="0" y1="0" x2="0" y2="1"><stop offset="0" stop-color="#fff" stop-opacity="0"/><stop offset="0.5" stop-color="#fff" stop-opacity="0.85"/><stop offset="1" stop-color="#fff" stop-opacity="0"/></linearGradient></defs>
<defs><filter id="blur8" x="-60%" y="-60%" width="220%" height="220%"><feGaussianBlur stdDeviation="9"/></filter><filter id="blur14" x="-60%" y="-60%" width="220%" height="220%"><feGaussianBlur stdDeviation="15"/></filter><clipPath id="clL"><rect x="961.5" y="980.7" width="186.3" height="194"/></clipPath><clipPath id="clR"><rect x="960.2" y="1181.4" width="187.6" height="191.6"/></clipPath></defs>
<rect x="961.5" y="980.7" width="186.3" height="194.0" fill="#f6d8d8" stroke="none" stroke-width="1" />
<g clip-path="url(#clL)">
<ellipse cx="1055" cy="1022" rx="95" ry="22" fill="#fff" opacity="0.9" filter="url(#blur8)"/>
<circle cx="1055" cy="1098" r="72" fill="#f06a6a" filter="url(#blur14)"/>
<ellipse cx="1055" cy="1120" rx="58" ry="30" fill="#ff2a2a" filter="url(#blur8)"/>
<ellipse cx="1055" cy="1080" rx="34" ry="30" fill="#f08282" opacity="0.8" filter="url(#blur8)"/>
</g>
<rect x="961.5" y="980.7" width="186.3" height="194.0" fill="none" stroke="#111" stroke-width="2.2" />
<rect x="960.2" y="1181.4" width="187.6" height="191.6" fill="#e0e0f8" stroke="none" stroke-width="1" />
<g clip-path="url(#clR)">
<ellipse cx="1055" cy="1352" rx="95" ry="20" fill="#fff" opacity="0.9" filter="url(#blur8)"/>
<circle cx="1055" cy="1272" r="72" fill="#7a7af0" filter="url(#blur14)"/>
<ellipse cx="1052" cy="1240" rx="55" ry="28" fill="#2020f4" filter="url(#blur8)"/>
<ellipse cx="1055" cy="1290" rx="34" ry="30" fill="#6464f0" opacity="0.8" filter="url(#blur8)"/>
</g>
<rect x="960.2" y="1181.4" width="187.6" height="191.6" fill="none" stroke="#111" stroke-width="2.2" />
<circle cx="1055" cy="1077.2" r="45.5" fill="none" stroke="#fff" stroke-width="3.2" stroke-dasharray="12 6"/>
<circle cx="1055" cy="1284" r="45.5" fill="none" stroke="#fff" stroke-width="3.2" stroke-dasharray="12 6"/>
<text x="1079.5" y="1012.8" font-family="'Liberation Sans', Arial, sans-serif" font-size="22.5" font-weight="bold" font-style="normal" fill="#111" text-anchor="start" >LCP</text>
<text x="1083.4" y="1354.6" font-family="'Liberation Sans', Arial, sans-serif" font-size="22.5" font-weight="bold" font-style="normal" fill="#111" text-anchor="start" >RCP</text>
<rect x="1172.3" y="1051.1" width="17.5" height="279.0" fill="url(#bwr)" stroke="#222" stroke-width="1" />
<line x1="1189.8" y1="1081.8" x2="1197.0" y2="1081.8" stroke="#222" stroke-width="1.6" />
<text x="1240.5" y="1090.3" font-family="'Liberation Sans', Arial, sans-serif" font-size="24" font-weight="normal" font-style="normal" fill="#2a2010" text-anchor="end" >40</text>
<line x1="1189.8" y1="1135.4" x2="1197.0" y2="1135.4" stroke="#222" stroke-width="1.6" />
<text x="1240.5" y="1143.9" font-family="'Liberation Sans', Arial, sans-serif" font-size="24" font-weight="normal" font-style="normal" fill="#2a2010" text-anchor="end" >20</text>
<line x1="1189.8" y1="1190.6" x2="1197.0" y2="1190.6" stroke="#222" stroke-width="1.6" />
<text x="1240.5" y="1199.1" font-family="'Liberation Sans', Arial, sans-serif" font-size="24" font-weight="normal" font-style="normal" fill="#2a2010" text-anchor="end" >0</text>
<line x1="1189.8" y1="1244.3" x2="1197.0" y2="1244.3" stroke="#222" stroke-width="1.6" />
<text x="1240.5" y="1252.8" font-family="'Liberation Sans', Arial, sans-serif" font-size="24" font-weight="normal" font-style="normal" fill="#2a2010" text-anchor="end" >-20</text>
<line x1="1189.8" y1="1299.4" x2="1197.0" y2="1299.4" stroke="#222" stroke-width="1.6" />
<text x="1240.5" y="1307.9" font-family="'Liberation Sans', Arial, sans-serif" font-size="24" font-weight="normal" font-style="normal" fill="#2a2010" text-anchor="end" >-40</text>
<text x="1189.8" y="983.7" font-family="'Liberation Serif', 'Times New Roman', serif" font-size="31" font-style="italic" font-weight="bold" fill="#111" text-anchor="middle">C</text>
<line x1="1162.2" y1="1000.6" x2="1217.4" y2="1000.6" stroke="#111" stroke-width="2" />
<text x="1189.8" y="1033.5" font-family="'Liberation Serif', 'Times New Roman', serif" font-size="31" font-style="italic" font-weight="bold" fill="#111" text-anchor="middle">|C<tspan font-size="20" dy="5" font-style="normal">0</tspan><tspan dy="-5" font-style="normal">|</tspan></text>
<path d="M1336.6,1020l.7-.2 .7-.2 .8-.2 .7-.2 .7-.2 .7-.2 .7-.3 .8-.2 .7-.3 .7-.3 .7-.3 .7-.3 .7-.3 .8-.4 .7-.3 .7-.3 .7-.4 .7-.4 .8-.3 .7-.4 .7-.4 .7-.4 .7-.4 .8-.4 .7-.4 .7-.5 .7-.5 .7-.6 .8-.5 .7-.7 .7-.6 .7-.7 .7-.6 .7-.7 .8-.7 .7-.7 .7-.7 .7-.7 .7-.7 .8-.7 .7-.7 .7-.6 .7-.6 .7-.6 .8-.5 .7-.5 .7-.5 .7-.4 .7-.4 .8-.3 .7-.4 .7-.3 .7-.3 .7-.3 .7-.3 .8-.3 .7-.3 .7-.3 .7-.2 .7-.3 .8-.3 .7-.3 .7-.2 .7-.3 .7-.3 .8-.3 .7-.3 .7-.4 .7-.3 .7-.4 .8-.4 .7-.4 .7-.4 .7-.4 .7-.4 .7-.4 .8-.3 .7-.3 .7-.3 .7-.2 .7-.2 .8-.1 .7-.1 .7,0 .7,.1 .7,.1 .8,.3 .7,.4 .7,.4 .7,.5 .7,.5 .8,.6 .7,.7 .7,.6 .7,.7 .7,.8 .7,.7 .8,.7 .7,.8 .7,1 .7,1.1 .7,1.3 .8,1.3 .7,1.4 .7,1.6 .7,1.5 .7,1.6 .8,1.6 .7,1.6 .7,1.6 .7,1.5 .7,1.5 .8,1.4 .7,1.3 .7,1.4 .7,1.3 .7,1.3 .7,1.4 .8,1.3 .7,1.3 .7,1.4 .7,1.3 .7,1.3 .8,1.2 .7,1.2 .7,1.2 .7,1.1 .7,1.1 .8,1 .7,1 .7,.9 .7,.8 .7,.8 .8,.8 .7,.7 .7,.8 .7,.7 .7,.7 .7,.7 .8,.6 .7,.6 .7,.6 .7,.6 .7,.6 .8,.5 .7,.4 .7,.4 .7,.4 .7,.4 .8,.3 .7,.3 .7,.3 .7,.3 .7,.3 .8,.2 .7,.3 .7,.3 .7,.2 .7,.2 .8,.2 .7,.2 .7,.2 .7,.1 .7,.1 .7,.1 .8,.1 .7,0 .7,0 .7-.1 .7-.3 .8-.4 .7-.5 .7-.6 .7-.7 .7-.8 .8-.8 .7-.8 .7-.9 .7-.9 .7-1 .8-1.2 .7-1.5 .7-1.6 .7-1.9 .7-2.1 .7-2.1 .8-2.3 .7-2.3 .7-2.4 .7-2.4 .7-2.3 .8-2.3 .7-2.2 .7-2.1 .7-2.1 .7-2.2 .8-2.3 .7-2.3 .7-2.3 .7-2.4 .7-2.3 .8-2.3 .7-2.2 .7-2.2 .7-2 .7-2 .7-1.8 .8-1.6 .7-1.4 .7-1.3 .7-1.3 .7-1.3 .8-1.3 .7-1.3 .7-1.2 .7-1.2 .7-1.1 .8-1.1 .7-.9 .7-.8 .7-.7 .7-.6 .8-.4 .7-.2 .7-.1 .7,.1 .7,.3 .7,.3 .8,.6 .7,.6 .7,.6 .7,.8 .7,.8 .8,.8 .7,.9 .7,.8 .7,.8 .7,.7 .8,.7 .7,.7 .7,.7 .7,.7 .7,.8 .8,.8 .7,.8 .7,.8 .7,.8 .7,.8 .7,.8 .8,.8 .7,.8 .7,.8 .7,.8 .7,.7 .8,.7 .7,.7 .7,.7 .7,.5 .7,.6 .8,.5 .7,.4 .7,.3 .7,.3 .7,.3 .8,.2 .7,.2 .7,.2 .7,.1 .7,.2 .7,.1 .8,.1 .7,.1 .7,.1 .7,.1 .7,.1 .8,.1 .7,.1 .7,.1 .7,.1 .7,.2 .8,.1 .7,.1 .7,.2 .7,.2 .7,.2 .8,.2 .7,.3 .7,.3 .7,.3 .7,.5 .7,.5 .8,.6 .7,.6 .7,.7 .7,.7 .7,.7 .8,.8 .7,.7 .7,.8" fill="none" stroke="#f02828" stroke-width="1.2" stroke-linejoin="round" opacity="0.85"/>
<path d="M1339.1,1013.7h0M1340.2,1021.1h0M1340.5,1014.9h0M1341.9,1007.5h0M1342.4,1013.9h0M1342.8,1021.4h0M1342.8,1014.8h0M1342.9,1011.2h0M1343.7,1015.7h0M1343.9,1020.7h0M1344.2,1009.2h0M1344.9,1024h0M1345.2,1014.4h0M1346.1,1016.8h0M1346.3,1023.1h0M1347.2,1009.6h0M1348.1,1013.9h0M1348.4,1021.9h0M1349.7,1011.7h0M1349.9,1017.2h0M1350.1,1025h0M1351,1018h0M1351.1,1012.8h0M1351.1,1010.8h0M1351.7,1013h0M1352,1013.5h0M1353.5,1010.4h0M1353.7,1013.9h0M1354.5,1006h0M1355.1,1011.1h0M1355.2,1010.3h0M1355.8,1008.5h0M1356.2,1016.9h0M1356.6,1014.7h0M1357.3,1002.1h0M1359.9,1006.2h0M1361.4,1008.1h0M1361.5,1004.6h0M1362.4,1008.1h0M1363.9,1002.5h0M1364.2,1007.3h0M1364.3,1002.2h0M1364.5,1012h0M1364.7,996.1h0M1365.4,1005.4h0M1366.2,1010.4h0M1366.2,1003.1h0M1366.3,1003.9h0M1367.5,1000h0M1367.5,1007h0M1367.6,998.6h0M1368.4,980.6h0M1368.4,1007h0M1368.8,998h0M1369.5,1000.9h0M1369.6,998.2h0M1369.9,1008.8h0M1370.8,1004.7h0M1370.9,995.9h0M1371,998.6h0M1371.7,989.2h0M1373.4,1001h0M1373.7,996.1h0M1377.5,979.7h0M1378.7,999.1h0M1379.8,999.5h0M1380.1,994.7h0M1380.6,994.5h0M1381.2,989.5h0M1383.3,992.5h0M1383.3,997.3h0M1383.8,991.9h0M1386.4,977.5h0M1387.2,984.5h0M1388.2,1005.8h0M1389.1,991h0M1389.3,994.9h0M1390.2,986.3h0M1391.5,990h0M1392,978.4h0M1392.1,983.7h0M1394.1,983.2h0M1395.8,986.6h0M1396.2,987.8h0M1398.1,985.9h0M1398.5,980.9h0M1399,985.2h0M1399.6,990.2h0M1400.8,982.2h0M1403,989.7h0M1404.2,992.2h0M1404.4,996.3h0M1404.4,995.1h0M1404.8,995.9h0M1406.4,1009.1h0M1406.5,988.6h0M1409.6,995.1h0M1409.7,999.6h0M1409.8,993h0M1410.9,998.4h0M1412.3,1001.6h0M1412.6,1017.5h0M1413.4,1007.3h0M1413.4,1003.2h0M1413.9,998.4h0M1414.5,998.5h0M1415.1,1002.1h0M1415.1,1016.2h0M1415.9,1023.5h0M1416.4,1009.6h0M1419.3,1018.1h0M1419.6,1013.5h0M1420.5,1021.1h0M1421.6,1021.2h0M1423.5,1034h0M1423.8,1024.1h0M1424,1029.3h0M1425.6,1027.8h0M1425.8,1027.7h0M1426.6,1032h0M1428.7,1033h0M1429,1035.3h0M1430.3,1032.8h0M1430.4,1034.3h0M1431.9,1041.6h0M1432.9,1043h0M1433.8,1031.3h0M1434.4,1041.9h0M1435.4,1037.1h0M1435.5,1040.3h0M1436.6,1046.5h0M1436.9,1047.8h0M1437,1043.2h0M1437.4,1042.9h0M1440.6,1043.4h0M1442.6,1054.9h0M1443.3,1051.6h0M1443.6,1049h0M1443.7,1039.9h0M1443.9,1061.4h0M1444,1046.3h0M1445.8,1052.3h0M1446.5,1047.4h0M1446.7,1052.5h0M1446.8,1047.9h0M1448.1,1041.9h0M1450.2,1049.2h0M1451.9,1049.2h0M1453,1049.9h0M1453.9,1056.1h0M1454.7,1049.2h0M1454.7,1053.3h0M1455.5,1056.6h0M1455.7,1052.5h0M1455.9,1053.5h0M1456,1048.2h0M1456.9,1052.5h0M1457.3,1055.2h0M1458.2,1044.2h0M1460.3,1045.6h0M1463,1041.5h0M1463.8,1044.1h0M1465.3,1046.2h0M1465.9,1046.9h0M1466.1,1045.9h0M1466.8,1038h0M1467.7,1040.6h0M1468,1048.7h0M1469.2,1037.5h0M1469.8,1043.5h0M1470.3,1033.3h0M1470.5,1040.2h0M1471.2,1038.1h0M1473.4,1023.5h0M1473.5,1024.1h0M1473.6,1032.6h0M1474.9,1015.2h0M1475.2,1006.7h0M1478.8,1015.4h0M1479.1,996.7h0M1479.2,1009.8h0M1480.7,1003.9h0M1481.4,1000.1h0M1481.4,1006.9h0M1483.5,985.5h0M1485,985.8h0M1485.2,992.2h0M1485.4,988.9h0M1486.5,993.3h0M1487.2,985.8h0M1488.3,976.8h0M1490.1,987.7h0M1491.1,979.2h0M1492.9,973.2h0M1494.6,966.2h0M1495.2,963.9h0M1495.5,973.3h0M1495.5,974.8h0M1496.1,968h0M1496.7,972h0M1497,971.6h0M1497.1,964h0M1497.8,960.5h0M1499,968.2h0M1499.8,971h0M1500.1,967h0M1501.3,981.1h0M1504.5,974.2h0M1504.9,980.3h0M1505.1,961.9h0M1505.7,971.6h0M1506,975.1h0M1506.4,977.3h0M1508.3,991.9h0M1508.4,974.6h0M1509,970.2h0M1509.1,982.9h0M1509.3,975.5h0M1509.6,975.6h0M1509.7,988h0M1510,974.8h0M1511.7,974.4h0M1512.2,981h0M1517,988h0M1518.3,984.8h0M1518.5,997.6h0M1519.8,990.1h0M1520,985.1h0M1522,999.2h0M1523,987.9h0M1523.1,995.6h0M1523.7,1005h0M1524.7,994.9h0M1524.9,999.6h0M1525,992.7h0M1526.1,1001.2h0M1527.4,989.6h0M1529,999.6h0M1529.2,993.8h0M1529.2,998.9h0M1530.4,997.7h0M1530.5,989.5h0M1531.4,994.9h0M1531.7,998.3h0M1532.8,1003.1h0M1533.3,990.1h0M1536,992.8h0M1536.2,998.5h0M1536.4,995.5h0M1538.9,1002.8h0M1540.5,1003.1h0M1543.7,1003.1h0M1545.3,997.7h0M1546.1,998.6h0M1546.9,1004.9h0M1547.2,997.1h0M1547.5,997.2h0M1549.6,1002.6h0M1550.8,999.2h0M1551.3,1006.8h0" stroke="#f02828" stroke-width="2.7" stroke-linecap="round"/>
<rect x="1332.8" y="926.4" width="222.6" height="186.4" fill="none" stroke="#111" stroke-width="1.8" />
<line x1="1379.6" y1="1112.8" x2="1379.6" y2="1107.8" stroke="#111" stroke-width="1.5" />
<text x="1379.6" y="1134.5" font-family="'Liberation Sans', Arial, sans-serif" font-size="19.5" font-weight="normal" font-style="normal" fill="#222" text-anchor="middle" >600</text>
<line x1="1422.6" y1="1112.8" x2="1422.6" y2="1107.8" stroke="#111" stroke-width="1.5" />
<text x="1422.6" y="1134.5" font-family="'Liberation Sans', Arial, sans-serif" font-size="19.5" font-weight="normal" font-style="normal" fill="#222" text-anchor="middle" >650</text>
<line x1="1465.6" y1="1112.8" x2="1465.6" y2="1107.8" stroke="#111" stroke-width="1.5" />
<text x="1465.6" y="1134.5" font-family="'Liberation Sans', Arial, sans-serif" font-size="19.5" font-weight="normal" font-style="normal" fill="#222" text-anchor="middle" >700</text>
<line x1="1508.6" y1="1112.8" x2="1508.6" y2="1107.8" stroke="#111" stroke-width="1.5" />
<text x="1508.6" y="1134.5" font-family="'Liberation Sans', Arial, sans-serif" font-size="19.5" font-weight="normal" font-style="normal" fill="#222" text-anchor="middle" >750</text>
<line x1="1551.6" y1="1112.8" x2="1551.6" y2="1107.8" stroke="#111" stroke-width="1.5" />
<text x="1551.6" y="1134.5" font-family="'Liberation Sans', Arial, sans-serif" font-size="19.5" font-weight="normal" font-style="normal" fill="#222" text-anchor="middle" >800</text>
<line x1="1327.8" y1="948.0" x2="1332.8" y2="948.0" stroke="#111" stroke-width="1.5" />
<text x="1327.5" y="955.0" font-family="'Liberation Sans', Arial, sans-serif" font-size="20" font-weight="normal" font-style="normal" fill="#222" text-anchor="end" >40</text>
<line x1="1327.8" y1="984.0" x2="1332.8" y2="984.0" stroke="#111" stroke-width="1.5" />
<text x="1327.5" y="991.0" font-family="'Liberation Sans', Arial, sans-serif" font-size="20" font-weight="normal" font-style="normal" fill="#222" text-anchor="end" >20</text>
<line x1="1327.8" y1="1020.0" x2="1332.8" y2="1020.0" stroke="#111" stroke-width="1.5" />
<text x="1327.5" y="1027.0" font-family="'Liberation Sans', Arial, sans-serif" font-size="20" font-weight="normal" font-style="normal" fill="#222" text-anchor="end" >0</text>
<line x1="1327.8" y1="1055.9" x2="1332.8" y2="1055.9" stroke="#111" stroke-width="1.5" />
<text x="1327.5" y="1062.9" font-family="'Liberation Sans', Arial, sans-serif" font-size="20" font-weight="normal" font-style="normal" fill="#222" text-anchor="end" >-20</text>
<line x1="1327.8" y1="1091.9" x2="1332.8" y2="1091.9" stroke="#111" stroke-width="1.5" />
<text x="1327.5" y="1098.9" font-family="'Liberation Sans', Arial, sans-serif" font-size="20" font-weight="normal" font-style="normal" fill="#222" text-anchor="end" >-40</text>
<text x="1451.7" y="1155.8" font-family="'Liberation Sans', Arial, sans-serif" font-size="23" font-weight="normal" font-style="normal" fill="#222" text-anchor="middle" >Wavelength (nm)</text>
<text x="1546.4" y="951.5" font-family="'Liberation Sans', Arial, sans-serif" font-size="22.5" font-weight="bold" fill="#111" text-anchor="end">&#963;<tspan font-size="14" dy="-9"> +</tspan><tspan dy="9">&lt;&#963;</tspan><tspan font-size="14" dy="-9"> -</tspan></text>
<path d="M1575.5,1022.4l.7,0 .7-.1 .8-.1 .7-.1 .7-.1 .7-.1 .7-.1 .8-.1 .7,0 .7-.1 .7-.1 .7-.1 .7-.1 .8,0 .7-.1 .7-.1 .7,0 .7-.1 .8,0 .7-.1 .7,0 .7-.1 .7,0 .8-.1 .7,0 .7,0 .7,0 .7,0 .8,0 .7-.1 .7,0 .7,0 .7,0 .7,0 .8,0 .7,0 .7,0 .7,0 .7,0 .8,0 .7,0 .7,0 .7,0 .7,0 .8,0 .7,0 .7,0 .7,0 .7,0 .8,0 .7,0 .7,0 .7,0 .7,0 .7,0 .8,0 .7,0 .7,0 .7,0 .7,.1 .8,0 .7,.2 .7,.3 .7,.3 .7,.4 .8,.5 .7,.5 .7,.6 .7,.5 .7,.6 .8,.5 .7,.6 .7,.5 .7,.5 .7,.4 .7,.3 .8,.3 .7,.2 .7,.1 .7,.2 .7,.2 .8,.1 .7,.1 .7,.2 .7,.1 .7,.1 .8,.1 .7,.1 .7,.1 .7,.1 .7,.1 .8,0 .7,.1 .7,0 .7,0 .7,0 .7-.1 .8-.2 .7-.4 .7-.5 .7-.6 .7-.7 .8-.8 .7-.8 .7-.8 .7-.9 .7-1 .8-.9 .7-.9 .7-.9 .7-.9 .7-.9 .8-.8 .7-.7 .7-.8 .7-.7 .7-.8 .7-.8 .8-.9 .7-.8 .7-.8 .7-.9 .7-.8 .8-.9 .7-.8 .7-.8 .7-.8 .7-.8 .8-.8 .7-.8 .7-.7 .7-.7 .7-.7 .8-.7 .7-.6 .7-.5 .7-.6 .7-.5 .7-.4 .8-.5 .7-.5 .7-.5 .7-.5 .7-.5 .8-.5 .7-.4 .7-.4 .7-.5 .7-.4 .8-.3 .7-.4 .7-.3 .7-.2 .7-.2 .8-.2 .7-.1 .7-.1 .7,0 .7,.2 .8,.5 .7,.8 .7,1 .7,1.2 .7,1.4 .7,1.5 .8,1.6 .7,1.6 .7,1.7 .7,1.6 .7,1.5 .8,1.8 .7,2 .7,2.3 .7,2.5 .7,2.6 .8,2.6 .7,2.7 .7,2.7 .7,2.6 .7,2.4 .8,2.2 .7,1.9 .7,1.6 .7,1.3 .7,.8 .7,.4 .8,.3 .7,.3 .7,.3 .7,.2 .7,.2 .8,.2 .7,.2 .7,.2 .7,.1 .7,.2 .8,.1 .7,.2 .7,.1 .7,.2 .7,.1 .8,.2 .7,.2 .7,.2 .7,.2 .7,.2 .7,.2 .8,.2 .7,.3 .7,.2 .7,.2 .7,.3 .8,.2 .7,.3 .7,.2 .7,.2 .7,.3 .8,.2 .7,.2 .7,.2 .7,.2 .7,.2 .8,.2 .7,.2 .7,.1 .7,.2 .7,.1 .7,.1 .8,.1 .7,.1 .7,.1 .7,0 .7,0 .8,0 .7-.1 .7-.2 .7-.2 .7-.4 .8-.3 .7-.5 .7-.5 .7-.5 .7-.6 .8-.6 .7-.6 .7-.7 .7-.7 .7-.7 .7-.7 .8-.7 .7-.7 .7-.7 .7-.6 .7-.7 .8-.6 .7-.6 .7-.6 .7-.5 .7-.6 .8-.5 .7-.6 .7-.5 .7-.5 .7-.6 .8-.5 .7-.6 .7-.5 .7-.6 .7-.5 .7-.6 .8-.5 .7-.6 .7-.5 .7-.6 .7-.5 .8-.6 .7-.6 .7-.5 .7-.6 .7-.5 .8-.6 .7-.6 .7-.5 .7-.6 .7-.5 .8-.6 .7-.6 .7-.5 .7-.6 .7-.6 .7-.5 .8-.6 .7-.6 .7-.6 .7-.5 .7-.6 .8-.6 .7-.6 .7-.5" fill="none" stroke="#88a8f0" stroke-width="2.6" stroke-linejoin="round" opacity="0.85"/>
<path d="M1577,1020.8h0M1577.3,1012.5h0M1579.5,1029.2h0M1581.7,1010.7h0M1582.6,1030.7h0M1583,1027.5h0M1583.2,1017.4h0M1585.2,1021.3h0M1585.3,1015.7h0M1586.3,1027.2h0M1586.5,1029.5h0M1587.6,1036.2h0M1588.8,1030.7h0M1589.8,1029.6h0M1590,1032.5h0M1591.4,1018.3h0M1591.6,1026.2h0M1591.8,1036.9h0M1591.9,1000.7h0M1592.4,1027.5h0M1592.5,1030.9h0M1592.6,1010.7h0M1593,1011.3h0M1593.5,1030h0M1594.4,1032.6h0M1595.9,1028.8h0M1596,1011.5h0M1597.4,1023.2h0M1597.9,1027.2h0M1598.5,1020.9h0M1598.7,1010.9h0M1599.2,1031.9h0M1599.2,1023.8h0M1599.7,1031.8h0M1599.9,1003.1h0M1600.2,1005.9h0M1601,1013h0M1601.8,1021.7h0M1601.8,1015.3h0M1602.7,1037.7h0M1604.1,1018.4h0M1606.6,1031.5h0M1609.1,1031.4h0M1609.8,1026.4h0M1609.8,1023.5h0M1610.5,1016h0M1611.5,1015h0M1611.7,1018.5h0M1612.1,1028.3h0M1612.2,1015.2h0M1613.4,1021.6h0M1614.3,1011.1h0M1616.7,1028.1h0M1617.5,1043h0M1618.6,1024.5h0M1619,1003.3h0M1619.2,1016.9h0M1620.6,1022.7h0M1621.4,1014.3h0M1622.4,1018h0M1622.5,1018.4h0M1622.9,1026.5h0M1623.1,1021.9h0M1623.5,1021.2h0M1625.4,1029.5h0M1625.7,1033.5h0M1626.5,1024h0M1628.3,1018.6h0M1628.4,1021.2h0M1630.2,1023.5h0M1631.5,1023.8h0M1631.6,1007h0M1632,1025.9h0M1632.1,1019.6h0M1632.2,1012.2h0M1632.3,1027.6h0M1633,1026.1h0M1633.8,1019.9h0M1634.2,1014.8h0M1634.4,1025.9h0M1635.1,1025.7h0M1635.2,1027.9h0M1636.1,1038.6h0M1636.2,1019.8h0M1637.3,1031.1h0M1637.4,1042.9h0M1637.5,1030.2h0M1640.3,1043.4h0M1641.2,1037.6h0M1641.3,1029.3h0M1641.4,1036.9h0M1642.1,1020.9h0M1642.7,1041.5h0M1644.5,1027.5h0M1646.2,1024.6h0M1647.1,1016.7h0M1647.9,1020.4h0M1649.8,1024.1h0M1650.1,1025h0M1650.3,1025.9h0M1650.5,1016h0M1650.6,1030.3h0M1650.9,1020.5h0M1652.7,1023.2h0M1653.7,1019.2h0M1653.7,1023.2h0M1654,1003.5h0M1655.7,1023.9h0M1656.2,1016h0M1659.1,1012.7h0M1659.3,1009.8h0M1659.4,1011h0M1659.7,1010.9h0M1660.4,1005.6h0M1660.6,1025.4h0M1663.1,1010.2h0M1665.2,1017.9h0M1665.5,1005.6h0M1669.1,1013.2h0M1669.2,1011.3h0M1669.3,1003.8h0M1669.4,992h0M1670.8,997.3h0M1670.8,999.5h0M1671.8,989.7h0M1671.9,1008.6h0M1672,1017.7h0M1672.6,1003.7h0M1675.3,1000.6h0M1676.2,987.8h0M1676.9,980h0M1678.6,1006.9h0M1678.8,975.9h0M1678.9,983.2h0M1678.9,989.1h0M1683.2,990.4h0M1683.4,973.6h0M1685.9,991.6h0M1686.6,995.9h0M1690.8,991.6h0M1691,1004h0M1691.3,989.5h0M1691.3,994.2h0M1691.7,991.2h0M1692.1,991.5h0M1693,1004.6h0M1693.9,987.2h0M1694.1,1006.5h0M1694.3,991.7h0M1696.2,1016h0M1697,1001.7h0M1697,1011.5h0M1697.1,1004.7h0M1697.6,1011.4h0M1698,1024.6h0M1698,1016.2h0M1699.5,1010.7h0M1699.8,1007.2h0M1700.1,1025.1h0M1700.2,1030.8h0M1700.7,1022.3h0M1701,1017.9h0M1701.8,1024.2h0M1701.8,1025.8h0M1702.5,1014.9h0M1703.6,1018.2h0M1704.8,1024.1h0M1705,1038.2h0M1705,1030.1h0M1705.7,1034.4h0M1706,1045.2h0M1707.1,1029.1h0M1708.7,1037.7h0M1708.8,1042.4h0M1709.7,1027.5h0M1710.4,1033.1h0M1711.6,1032.8h0M1712.1,1030.2h0M1712.3,1034.1h0M1714.8,1050.9h0M1717.9,1044.4h0M1720.2,1033.6h0M1722.2,1048.5h0M1722.9,1042.2h0M1723.1,1039.3h0M1725.1,1031.5h0M1725.4,1032.7h0M1726.3,1036.2h0M1727.5,1045.4h0M1727.6,1036.5h0M1728.4,1039.9h0M1728.4,1045.5h0M1729.5,1033.6h0M1729.7,1040.6h0M1731.8,1051.4h0M1732.5,1035.3h0M1733.3,1047.9h0M1735,1041.5h0M1735.1,1058.6h0M1735.9,1046.7h0M1736,1054.2h0M1736.6,1054.6h0M1737.2,1062.3h0M1737.2,1029.5h0M1738.7,1048.3h0M1738.9,1045.2h0M1739.6,1038.3h0M1740,1048.3h0M1740.8,1043.3h0M1742.9,1058.5h0M1745.3,1045.6h0M1747.4,1049.6h0M1747.5,1042.1h0M1748.8,1043.9h0M1749.2,1056.2h0M1750.5,1059h0M1751.4,1051.5h0M1752.2,1036.5h0M1752.8,1038.5h0M1755.9,1035.7h0M1756.5,1054.7h0M1756.8,1059.9h0M1757.5,1042.5h0M1757.6,1040h0M1757.7,1042.1h0M1758.1,1034h0M1758.6,1037.9h0M1759,1045.7h0M1761.7,1041.2h0M1762.7,1032.1h0M1762.8,1032.6h0M1763.3,1033.4h0M1764,1013.9h0M1764.7,1033.9h0M1764.8,1030.7h0M1765.5,1039.2h0M1766.5,1033.3h0M1768,1025h0M1769.4,1023.6h0M1771,1028.3h0M1771.2,1023.6h0M1771.6,1026.1h0M1772.1,1041.4h0M1772.1,1052.7h0M1774.7,1005.4h0M1776.3,1016.2h0M1776.7,1023.1h0M1777.8,1035.8h0M1779,1031.1h0M1780.8,1008.4h0M1780.9,1041.9h0M1781.3,1021.6h0M1781.7,1011.6h0M1784.2,1015.5h0M1784.5,1010.4h0M1785.6,1016.6h0M1786.2,995.7h0M1787.7,1022.2h0M1788.2,1024.5h0M1788.6,1010.9h0" stroke="#2850e8" stroke-width="2.7" stroke-linecap="round"/>
<rect x="1571.7" y="927.1" width="222.7" height="186.5" fill="none" stroke="#111" stroke-width="1.8" />
<line x1="1618.5" y1="1113.6" x2="1618.5" y2="1108.6" stroke="#111" stroke-width="1.5" />
<text x="1618.5" y="1134.5" font-family="'Liberation Sans', Arial, sans-serif" font-size="19.5" font-weight="normal" font-style="normal" fill="#222" text-anchor="middle" >600</text>
<line x1="1661.5" y1="1113.6" x2="1661.5" y2="1108.6" stroke="#111" stroke-width="1.5" />
<text x="1661.5" y="1134.5" font-family="'Liberation Sans', Arial, sans-serif" font-size="19.5" font-weight="normal" font-style="normal" fill="#222" text-anchor="middle" >650</text>
<line x1="1704.5" y1="1113.6" x2="1704.5" y2="1108.6" stroke="#111" stroke-width="1.5" />
<text x="1704.5" y="1134.5" font-family="'Liberation Sans', Arial, sans-serif" font-size="19.5" font-weight="normal" font-style="normal" fill="#222" text-anchor="middle" >700</text>
<line x1="1747.5" y1="1113.6" x2="1747.5" y2="1108.6" stroke="#111" stroke-width="1.5" />
<text x="1747.5" y="1134.5" font-family="'Liberation Sans', Arial, sans-serif" font-size="19.5" font-weight="normal" font-style="normal" fill="#222" text-anchor="middle" >750</text>
<line x1="1790.5" y1="1113.6" x2="1790.5" y2="1108.6" stroke="#111" stroke-width="1.5" />
<text x="1790.5" y="1134.5" font-family="'Liberation Sans', Arial, sans-serif" font-size="19.5" font-weight="normal" font-style="normal" fill="#222" text-anchor="middle" >800</text>
<line x1="1571.7" y1="948.7" x2="1575.7" y2="948.7" stroke="#111" stroke-width="1.5" />
<line x1="1571.7" y1="984.7" x2="1575.7" y2="984.7" stroke="#111" stroke-width="1.5" />
<line x1="1571.7" y1="1020.7" x2="1575.7" y2="1020.7" stroke="#111" stroke-width="1.5" />
<line x1="1571.7" y1="1056.6" x2="1575.7" y2="1056.6" stroke="#111" stroke-width="1.5" />
<line x1="1571.7" y1="1092.6" x2="1575.7" y2="1092.6" stroke="#111" stroke-width="1.5" />
<text x="1687.2" y="1155.8" font-family="'Liberation Sans', Arial, sans-serif" font-size="23" font-weight="normal" font-style="normal" fill="#222" text-anchor="middle" >Wavelength (nm)</text>
<text x="1785.4" y="952.2" font-family="'Liberation Sans', Arial, sans-serif" font-size="22.5" font-weight="bold" fill="#111" text-anchor="end">&#963;<tspan font-size="14" dy="-9"> +</tspan><tspan dy="9">&gt;&#963;</tspan><tspan font-size="14" dy="-9"> -</tspan></text>
<path d="M1815.4,1019.3h0M1815.6,1033.7h0M1816.9,1057.3h0M1817.8,1019h0M1818.9,1013.4h0M1819.4,1037.9h0M1821.5,1002.3h0M1821.6,1014.5h0M1821.7,1007.5h0M1822.3,1031.7h0M1822.4,1051.4h0M1822.7,1001.1h0M1823.1,1004.4h0M1825.1,1018.7h0M1825.9,1024.8h0M1826.3,1022h0M1827.7,1019.3h0M1827.8,1026.6h0M1828.7,1056.4h0M1829,1001.1h0M1829.6,1046.2h0M1830.2,1023.2h0M1831,1022.7h0M1832.2,1011.5h0M1832.2,1048.6h0M1832.5,992.8h0M1835.1,1003.8h0M1835.4,1001.5h0M1837.4,991.8h0M1839.8,1032.7h0M1840.4,1079h0M1840.6,1010.4h0M1841.4,991h0M1841.5,994h0M1842.3,1027.6h0M1842.7,1018.8h0M1842.9,1011.3h0M1843.3,1052.8h0M1844.4,1030.3h0M1844.8,1029.7h0M1845.4,985.8h0M1845.6,1030h0M1845.8,986h0M1845.9,1016.8h0M1846.1,1050.3h0M1846.2,973.2h0M1846.5,1036.3h0M1846.7,1004.8h0M1846.8,983.3h0M1848.7,1027.8h0M1848.9,1041.5h0M1850.3,996.7h0M1850.9,1016h0M1851.5,1041.6h0M1852.2,1038.8h0M1854.3,1025.3h0M1855.2,998.5h0M1855.6,1023.3h0M1856.1,1004.7h0M1856.2,985h0M1857.8,992.7h0M1858.4,989.4h0M1858.4,993.5h0M1860.1,1049.9h0M1862.1,994.3h0M1862.1,1012h0M1862.8,1021.1h0M1863.3,1040.3h0M1866,1051.1h0M1866.3,1041.8h0M1866.4,1020.3h0M1866.4,1043.1h0M1866.8,1036.1h0M1866.8,1032.2h0M1867.4,1007h0M1867.9,1026.2h0M1868.4,1023.5h0M1869.1,994.6h0M1869.3,1027.3h0M1869.5,1009.2h0M1869.5,1042h0M1870.6,1014.9h0M1870.7,1019.1h0M1871,1018.2h0M1871.7,1031.1h0M1871.8,1042.3h0M1872.4,1028.1h0M1875.2,1032.5h0M1875.3,1002.8h0M1876.6,1005.7h0M1876.8,1047.5h0M1877,1011.4h0M1877.2,1033.4h0M1877.4,1014.9h0M1878,1033.7h0M1878.4,1053.3h0M1879.5,1004.4h0M1880.1,1015.7h0M1880.9,1049h0M1881.8,1062.3h0M1882,1035.5h0M1884.9,1048.4h0M1888.1,1032h0M1888.6,1012.5h0M1888.9,995.7h0M1889.2,1031.7h0M1890.3,997.3h0M1890.3,1001.5h0M1891.6,1032.9h0M1894.9,1056.7h0M1895,1006.8h0M1896.9,1011.2h0M1898,976.4h0M1899.9,994.3h0M1899.9,1007.1h0M1900,989.2h0M1900.1,1043.3h0M1900.2,1018.7h0M1901.9,1027.6h0M1902.8,987.6h0M1903,1010.8h0M1903.2,1082.5h0M1904.8,994.6h0M1904.9,1039.6h0M1905.2,1006.2h0M1905.3,1031.1h0M1905.5,1016.7h0M1906.3,1008.9h0M1906.6,1017.5h0M1909,1040.1h0M1909.2,993.5h0M1910,1013.3h0M1910,1021.5h0M1910.3,1007.2h0M1911,1031.8h0M1911.6,983.8h0M1913.1,1016.7h0M1913.6,1014h0M1914.3,1014.3h0M1914.8,1039.3h0M1916.7,1044.6h0M1917.2,1017h0M1917.4,1014.4h0M1917.5,994.7h0M1917.7,1012.4h0M1918.8,1043h0M1919,1011h0M1920.3,1005.2h0M1921.7,1001.8h0M1922.8,1015.1h0M1924.1,1046h0M1925.2,999h0M1926.3,1036.5h0M1927.1,1010.8h0M1931,1053.6h0M1931.8,1007.4h0M1932,1038.1h0M1932,1001.2h0M1933.3,987.8h0M1933.8,999.6h0M1934.1,1045.9h0M1934.7,1041.5h0M1934.7,1040h0M1935.7,1009.8h0M1939,1016.3h0M1940.4,1020.1h0M1940.8,1017.1h0M1941.4,1011.8h0M1941.9,1010.4h0M1943.4,990h0M1943.5,1024.5h0M1944.8,1019.5h0M1944.9,1060.3h0M1946.2,1049.8h0M1947.4,1037.4h0M1947.6,1047.2h0M1948.6,1019.5h0M1949.1,1003.3h0M1949.3,1032.5h0M1949.7,1033.5h0M1950.7,1034.1h0M1951.1,1021.5h0M1951.3,1034.9h0M1951.7,1015.7h0M1951.7,1018.2h0M1952.5,1017.4h0M1952.7,1009.1h0M1954.6,1023.8h0M1954.8,1021.6h0M1954.8,989.6h0M1955.2,1025.4h0M1955.5,1008.7h0M1955.6,1023.4h0M1955.8,1033.6h0M1955.9,1033.6h0M1956,1040.8h0M1956.1,1024.4h0M1956.6,1036.6h0M1959.7,1033.3h0M1960.1,1000.8h0M1960.4,1027.6h0M1960.9,1002.5h0M1961.5,1019.8h0M1963,1008.2h0M1963.1,1037.3h0M1963.2,1022.4h0M1963.6,973.2h0M1963.7,1009h0M1965.3,1005.7h0M1966,1021.1h0M1966.2,1008.8h0M1967,1048.9h0M1968.2,1042.9h0M1968.4,1017.6h0M1968.6,1010h0M1968.7,1034.3h0M1970.6,1030.3h0M1971.5,1033.9h0M1971.7,1030.5h0M1972.7,1050.8h0M1974.5,1055.8h0M1974.5,1029.1h0M1974.7,1061.9h0M1975.2,1047h0M1975.9,1040.8h0M1976,1048.6h0M1976.2,1023.2h0M1977.4,1037h0M1978.2,1030h0M1978.9,1048.5h0M1979.4,1043.3h0M1979.4,1018.6h0M1979.6,1021.6h0M1980.5,1038.2h0M1980.9,1021.9h0M1981,1025.4h0M1981.9,1026.1h0M1982.3,997.8h0M1983.4,1037.5h0M1983.9,1021.4h0M1985.2,1021.6h0M1985.4,1034.7h0M1985.5,1053.1h0M1986.2,1016.5h0M1986.6,1025.1h0M1987.1,1029.4h0M1987.9,1030h0M1988.2,1030.1h0M1989.3,1048.4h0M1990.1,1025.1h0M1991.8,1066.7h0M1994.2,1031.7h0M1994.4,1060.8h0M1994.6,1038.2h0M1994.6,1017.1h0M1994.7,1036.4h0M1995.8,1040.8h0M1998,1021.2h0M1998.5,1036.7h0M1999.1,1039.5h0M1999.2,1039.2h0M2000.1,1001.5h0M2000.6,1018.3h0M2001.6,1021.9h0M2001.9,1055h0M2002.4,1019.2h0M2004.4,1057.1h0M2004.5,1022h0M2005.4,1053.6h0M2005.8,992.9h0M2006.2,1064.8h0M2010.4,1007.3h0M2010.4,1015.6h0M2010.7,1066.6h0M2011.1,1036.2h0M2011.4,1002.9h0M2012.3,1009h0M2012.6,1064.3h0M2012.9,1041.7h0M2013.8,1054.6h0M2015.4,1051.6h0M2016.5,1044h0M2017,994.8h0M2017.1,1028.6h0M2017.7,1035.7h0M2018.3,1037.8h0M2018.5,1018h0M2018.5,1017.5h0M2018.8,1049.4h0M2019,1002.1h0M2021.2,1052.4h0M2023.2,1036.3h0M2024.5,1021.8h0M2024.9,996.8h0M2025.4,1037.4h0M2025.6,1024.9h0M2025.9,1004.8h0M2026.5,1018.1h0M2029.2,1007.8h0M2029.5,1009.5h0" stroke="#333" stroke-width="2.0" stroke-linecap="round"/>
<path d="M1815.3,1016.1l.7,0 .7,0 .8,0 .7,0 .7,0 .7,0 .7,0 .8,0 .7,0 .7,0 .7,0 .7,0 .7,0 .8,.1 .7,0 .7,0 .7,0 .7,0 .8,.1 .7,0 .7,0 .7,0 .7,0 .8,.1 .7,0 .7,0 .7,0 .7,.1 .8,0 .7,0 .7,.1 .7,0 .7,0 .7,.1 .8,0 .7,0 .7,.1 .7,0 .7,.1 .8,0 .7,0 .7,.1 .7,0 .7,.1 .8,0 .7,.1 .7,0 .7,0 .7,.1 .8,0 .7,.1 .7,0 .7,.1 .7,0 .7,.1 .8,0 .7,.1 .7,.1 .7,0 .7,.1 .8,0 .7,.1 .7,.2 .7,.1 .7,.2 .8,.2 .7,.2 .7,.2 .7,.2 .7,.3 .8,.2 .7,.3 .7,.3 .7,.2 .7,.3 .7,.3 .8,.3 .7,.3 .7,.3 .7,.2 .7,.3 .8,.3 .7,.2 .7,.3 .7,.2 .7,.3 .8,.2 .7,.2 .7,.1 .7,.2 .7,.1 .8,.2 .7,0 .7,.1 .7,0 .7,0 .7,0 .8,0 .7,0 .7-.1 .7-.1 .7,0 .8-.1 .7-.1 .7-.2 .7-.1 .7-.1 .8-.1 .7-.2 .7-.1 .7-.2 .7-.1 .8-.2 .7-.1 .7-.2 .7-.1 .7-.2 .7-.1 .8-.1 .7-.2 .7-.1 .7-.1 .7-.1 .8-.1 .7-.1 .7-.1 .7-.1 .7-.1 .8,0 .7,0 .7,0 .7,0 .7,0 .8,0 .7,0 .7,0 .7,0 .7,.1 .7,0 .8,0 .7,.1 .7,0 .7,.1 .7,0 .8,.1 .7,0 .7,.1 .7,0 .7,.1 .8,.1 .7,0 .7,.1 .7,.1 .7,0 .8,.1 .7,.1 .7,0 .7,.1 .7,0 .8,.1 .7,.1 .7,0 .7,.1 .7,.1 .7,0 .8,.1 .7,0 .7,.1 .7,0 .7,.1 .8,0 .7,.1 .7,0 .7,.1 .7,0 .8,0 .7,.1 .7,0 .7,.1 .7,0 .8,.1 .7,0 .7,.1 .7,0 .7,0 .7,.1 .8,0 .7,.1 .7,0 .7,.1 .7,0 .8,.1 .7,0 .7,.1 .7,0 .7,.1 .8,.1 .7,0 .7,.1 .7,0 .7,.1 .8,.1 .7,0 .7,.1 .7,.1 .7,.1 .7,.1 .8,.1 .7,.1 .7,.1 .7,.1 .7,.1 .8,.1 .7,.2 .7,.1 .7,.2 .7,.1 .8,.1 .7,.2 .7,.1 .7,.2 .7,.1 .8,.2 .7,.2 .7,.1 .7,.2 .7,.1 .7,.2 .8,.1 .7,.2 .7,.1 .7,.2 .7,.1 .8,.1 .7,.2 .7,.1 .7,.1 .7,.1 .8,.1 .7,.1 .7,.1 .7,.1 .7,.1 .8,.1 .7,0 .7,.1 .7,.1 .7,0 .7,0 .8,0 .7,0 .7,0 .7,0 .7,0 .8,0 .7,0 .7,0 .7,0 .7,0 .8,0 .7,0 .7,0 .7,0 .7,0 .8,0 .7,0 .7,0 .7,0 .7,0 .7-.1 .8,0 .7,0 .7,0 .7-.1 .7,0 .8,0 .7,0 .7-.1 .7,0 .7-.1 .8,0 .7,0 .7-.1 .7,0 .7-.1 .8-.1 .7,0 .7-.1 .7,0 .7-.1 .7-.1 .8-.1 .7-.1 .7,0 .7-.1 .7-.1 .8-.1 .7-.1 .7-.2" fill="none" stroke="#c4c4c4" stroke-width="3.2" stroke-linejoin="round" opacity="0.9"/>
<rect x="1811.5" y="927.9" width="222.5" height="185.7" fill="none" stroke="#111" stroke-width="1.8" />
<line x1="1858.3" y1="1113.6" x2="1858.3" y2="1108.6" stroke="#111" stroke-width="1.5" />
<text x="1858.3" y="1134.5" font-family="'Liberation Sans', Arial, sans-serif" font-size="19.5" font-weight="normal" font-style="normal" fill="#222" text-anchor="middle" >600</text>
<line x1="1901.3" y1="1113.6" x2="1901.3" y2="1108.6" stroke="#111" stroke-width="1.5" />
<text x="1901.3" y="1134.5" font-family="'Liberation Sans', Arial, sans-serif" font-size="19.5" font-weight="normal" font-style="normal" fill="#222" text-anchor="middle" >650</text>
<line x1="1944.3" y1="1113.6" x2="1944.3" y2="1108.6" stroke="#111" stroke-width="1.5" />
<text x="1944.3" y="1134.5" font-family="'Liberation Sans', Arial, sans-serif" font-size="19.5" font-weight="normal" font-style="normal" fill="#222" text-anchor="middle" >700</text>
<line x1="1987.3" y1="1113.6" x2="1987.3" y2="1108.6" stroke="#111" stroke-width="1.5" />
<text x="1987.3" y="1134.5" font-family="'Liberation Sans', Arial, sans-serif" font-size="19.5" font-weight="normal" font-style="normal" fill="#222" text-anchor="middle" >750</text>
<line x1="2030.3" y1="1113.6" x2="2030.3" y2="1108.6" stroke="#111" stroke-width="1.5" />
<text x="2030.3" y="1134.5" font-family="'Liberation Sans', Arial, sans-serif" font-size="19.5" font-weight="normal" font-style="normal" fill="#222" text-anchor="middle" >800</text>
<line x1="1811.5" y1="949.5" x2="1815.5" y2="949.5" stroke="#111" stroke-width="1.5" />
<line x1="1811.5" y1="985.5" x2="1815.5" y2="985.5" stroke="#111" stroke-width="1.5" />
<line x1="1811.5" y1="1021.5" x2="1815.5" y2="1021.5" stroke="#111" stroke-width="1.5" />
<line x1="1811.5" y1="1057.4" x2="1815.5" y2="1057.4" stroke="#111" stroke-width="1.5" />
<line x1="1811.5" y1="1093.4" x2="1815.5" y2="1093.4" stroke="#111" stroke-width="1.5" />
<text x="1926.3" y="1155.8" font-family="'Liberation Sans', Arial, sans-serif" font-size="23" font-weight="normal" font-style="normal" fill="#222" text-anchor="middle" >Wavelength (nm)</text>
<text x="2025.0" y="953.0" font-family="'Liberation Sans', Arial, sans-serif" font-size="22.5" font-weight="bold" fill="#111" text-anchor="end">&#963;<tspan font-size="14" dy="-9"> +</tspan><tspan dy="9">&#8776;&#963;</tspan><tspan font-size="14" dy="-9"> -</tspan></text>
<text transform="translate(1300.5 1012.7) rotate(-90)" font-family="'Liberation Sans', Arial, sans-serif" font-size="23" fill="#222" text-anchor="middle">CDS%</text>
<polygon points="1462.2,1065.3 1523.0,1065.3 1510.8,1075.5 1474.4,1075.5" fill="url(#plat)" stroke="none" stroke-width="0" />
<polygon points="1464.4,1085.8 1530.4,1085.8 1542.0,1104.0 1445.0,1104.0" fill="url(#plat)" stroke="none" stroke-width="0" />
<ellipse cx="1476.0" cy="1078.5" rx="5.5" ry="2.2" fill="#e070b8" transform="rotate(-25 1476.0 1078.5)"/>
<ellipse cx="1476.0" cy="1082.1" rx="5.5" ry="2.2" fill="#e070b8" transform="rotate(-25 1476.0 1082.1)"/>
<ellipse cx="1476.0" cy="1085.7" rx="5.5" ry="2.2" fill="#e070b8" transform="rotate(-25 1476.0 1085.7)"/>
<ellipse cx="1492.0" cy="1078.5" rx="5.5" ry="2.2" fill="#e070b8" transform="rotate(-25 1492.0 1078.5)"/>
<ellipse cx="1492.0" cy="1082.1" rx="5.5" ry="2.2" fill="#e070b8" transform="rotate(-25 1492.0 1082.1)"/>
<ellipse cx="1492.0" cy="1085.7" rx="5.5" ry="2.2" fill="#e070b8" transform="rotate(-25 1492.0 1085.7)"/>
<ellipse cx="1506.0" cy="1078.5" rx="5.5" ry="2.2" fill="#e070b8" transform="rotate(-25 1506.0 1078.5)"/>
<ellipse cx="1506.0" cy="1082.1" rx="5.5" ry="2.2" fill="#e070b8" transform="rotate(-25 1506.0 1082.1)"/>
<ellipse cx="1506.0" cy="1085.7" rx="5.5" ry="2.2" fill="#e070b8" transform="rotate(-25 1506.0 1085.7)"/>
<ellipse cx="1521.0" cy="1078.5" rx="5.5" ry="2.2" fill="#2a60d8" transform="rotate(-25 1521.0 1078.5)"/>
<ellipse cx="1521.0" cy="1082.1" rx="5.5" ry="2.2" fill="#2a60d8" transform="rotate(-25 1521.0 1082.1)"/>
<ellipse cx="1521.0" cy="1085.7" rx="5.5" ry="2.2" fill="#2a60d8" transform="rotate(-25 1521.0 1085.7)"/>
<polygon points="1701.9,1059.0 1766.6,1059.0 1753.7,1069.8 1714.8,1069.8" fill="url(#plat)" stroke="none" stroke-width="0" />
<polygon points="1702.3,1081.2 1774.7,1081.2 1787.5,1100.3 1681.0,1100.3" fill="url(#plat)" stroke="none" stroke-width="0" />
<ellipse cx="1713.0" cy="1072.8" rx="5.5" ry="2.2" fill="#e070b8" transform="rotate(-25 1713.0 1072.8)"/>
<ellipse cx="1713.0" cy="1076.4" rx="5.5" ry="2.2" fill="#e070b8" transform="rotate(-25 1713.0 1076.4)"/>
<ellipse cx="1713.0" cy="1080.0" rx="5.5" ry="2.2" fill="#e070b8" transform="rotate(-25 1713.0 1080.0)"/>
<ellipse cx="1730.0" cy="1072.8" rx="5.5" ry="2.2" fill="#2a60d8" transform="rotate(-25 1730.0 1072.8)"/>
<ellipse cx="1730.0" cy="1076.4" rx="5.5" ry="2.2" fill="#2a60d8" transform="rotate(-25 1730.0 1076.4)"/>
<ellipse cx="1730.0" cy="1080.0" rx="5.5" ry="2.2" fill="#2a60d8" transform="rotate(-25 1730.0 1080.0)"/>
<ellipse cx="1745.0" cy="1072.8" rx="5.5" ry="2.2" fill="#2a60d8" transform="rotate(-25 1745.0 1072.8)"/>
<ellipse cx="1745.0" cy="1076.4" rx="5.5" ry="2.2" fill="#2a60d8" transform="rotate(-25 1745.0 1076.4)"/>
<ellipse cx="1745.0" cy="1080.0" rx="5.5" ry="2.2" fill="#2a60d8" transform="rotate(-25 1745.0 1080.0)"/>
<ellipse cx="1760.0" cy="1072.8" rx="5.5" ry="2.2" fill="#2a60d8" transform="rotate(-25 1760.0 1072.8)"/>
<ellipse cx="1760.0" cy="1076.4" rx="5.5" ry="2.2" fill="#2a60d8" transform="rotate(-25 1760.0 1076.4)"/>
<ellipse cx="1760.0" cy="1080.0" rx="5.5" ry="2.2" fill="#2a60d8" transform="rotate(-25 1760.0 1080.0)"/>
<polygon points="1945.4,1064.1 2002.5,1064.1 1991.1,1073.6 1956.8,1073.6" fill="url(#plat)" stroke="none" stroke-width="0" />
<polygon points="1944.9,1083.1 2011.6,1083.1 2023.4,1100.3 1925.3,1100.3" fill="url(#plat)" stroke="none" stroke-width="0" />
<ellipse cx="1955.0" cy="1076.6" rx="5.5" ry="2.2" fill="#e070b8" transform="rotate(-25 1955.0 1076.6)"/>
<ellipse cx="1955.0" cy="1080.2" rx="5.5" ry="2.2" fill="#e070b8" transform="rotate(-25 1955.0 1080.2)"/>
<ellipse cx="1955.0" cy="1083.8" rx="5.5" ry="2.2" fill="#e070b8" transform="rotate(-25 1955.0 1083.8)"/>
<ellipse cx="1970.0" cy="1076.6" rx="5.5" ry="2.2" fill="#2a60d8" transform="rotate(-25 1970.0 1076.6)"/>
<ellipse cx="1970.0" cy="1080.2" rx="5.5" ry="2.2" fill="#2a60d8" transform="rotate(-25 1970.0 1080.2)"/>
<ellipse cx="1970.0" cy="1083.8" rx="5.5" ry="2.2" fill="#2a60d8" transform="rotate(-25 1970.0 1083.8)"/>
<ellipse cx="1985.0" cy="1076.6" rx="5.5" ry="2.2" fill="#e070b8" transform="rotate(-25 1985.0 1076.6)"/>
<ellipse cx="1985.0" cy="1080.2" rx="5.5" ry="2.2" fill="#e070b8" transform="rotate(-25 1985.0 1080.2)"/>
<ellipse cx="1985.0" cy="1083.8" rx="5.5" ry="2.2" fill="#e070b8" transform="rotate(-25 1985.0 1083.8)"/>
<ellipse cx="2000.0" cy="1076.6" rx="5.5" ry="2.2" fill="#2a60d8" transform="rotate(-25 2000.0 1076.6)"/>
<ellipse cx="2000.0" cy="1080.2" rx="5.5" ry="2.2" fill="#2a60d8" transform="rotate(-25 2000.0 1080.2)"/>
<ellipse cx="2000.0" cy="1083.8" rx="5.5" ry="2.2" fill="#2a60d8" transform="rotate(-25 2000.0 1083.8)"/>
<defs><linearGradient id="bargrad" x1="0" y1="0" x2="1" y2="0"><stop offset="0" stop-color="#f08a94"/><stop offset="0.25" stop-color="#f2b8c0"/><stop offset="0.5" stop-color="#f8f4f6"/><stop offset="0.75" stop-color="#c0d4ee"/><stop offset="1" stop-color="#8ab2e6"/></linearGradient></defs>
<rect x="1357.8" y="1174.3" width="278.3" height="202.5" fill="url(#bargrad)" stroke="none" stroke-width="1" />
<rect x="1371.5" y="1353.2" width="32.7" height="23.6" fill="#f03c3c" stroke="none" stroke-width="1" />
<rect x="1426.0" y="1292.4" width="32.7" height="84.4" fill="#f83c42" stroke="none" stroke-width="1" />
<rect x="1480.8" y="1235.0" width="32.7" height="141.8" fill="#7c7c7c" stroke="none" stroke-width="1" />
<rect x="1535.7" y="1302.5" width="32.7" height="74.2" fill="#5474f8" stroke="none" stroke-width="1" />
<rect x="1590.5" y="1363.3" width="32.7" height="13.5" fill="#5474f8" stroke="none" stroke-width="1" />
<rect x="1357.8" y="1174.3" width="278.3" height="202.5" fill="none" stroke="#111" stroke-width="2" />
<line x1="1352.8" y1="1376.8" x2="1357.8" y2="1376.8" stroke="#111" stroke-width="1.6" />
<text x="1353.3" y="1385.1" font-family="'Liberation Sans', Arial, sans-serif" font-size="22.5" font-weight="normal" font-style="normal" fill="#222" text-anchor="end" >0</text>
<line x1="1352.8" y1="1309.3" x2="1357.8" y2="1309.3" stroke="#111" stroke-width="1.6" />
<text x="1353.3" y="1317.6" font-family="'Liberation Sans', Arial, sans-serif" font-size="22.5" font-weight="normal" font-style="normal" fill="#222" text-anchor="end" >20</text>
<line x1="1352.8" y1="1241.8" x2="1357.8" y2="1241.8" stroke="#111" stroke-width="1.6" />
<text x="1353.3" y="1250.1" font-family="'Liberation Sans', Arial, sans-serif" font-size="22.5" font-weight="normal" font-style="normal" fill="#222" text-anchor="end" >40</text>
<line x1="1352.8" y1="1174.3" x2="1357.8" y2="1174.3" stroke="#111" stroke-width="1.6" />
<text x="1353.3" y="1182.6" font-family="'Liberation Sans', Arial, sans-serif" font-size="22.5" font-weight="normal" font-style="normal" fill="#222" text-anchor="end" >60</text>
<line x1="1387.8" y1="1376.8" x2="1387.8" y2="1371.8" stroke="#111" stroke-width="1.6" />
<text x="1386.8" y="1400.8" font-family="'Liberation Sans', Arial, sans-serif" font-size="22.5" font-weight="normal" font-style="normal" fill="#222" text-anchor="middle" >-40</text>
<line x1="1442.3" y1="1376.8" x2="1442.3" y2="1371.8" stroke="#111" stroke-width="1.6" />
<text x="1441.3" y="1400.8" font-family="'Liberation Sans', Arial, sans-serif" font-size="22.5" font-weight="normal" font-style="normal" fill="#222" text-anchor="middle" >-20</text>
<line x1="1497.1" y1="1376.8" x2="1497.1" y2="1371.8" stroke="#111" stroke-width="1.6" />
<text x="1496.1" y="1400.8" font-family="'Liberation Sans', Arial, sans-serif" font-size="22.5" font-weight="normal" font-style="normal" fill="#222" text-anchor="middle" >0</text>
<line x1="1552.0" y1="1376.8" x2="1552.0" y2="1371.8" stroke="#111" stroke-width="1.6" />
<text x="1551.0" y="1400.8" font-family="'Liberation Sans', Arial, sans-serif" font-size="22.5" font-weight="normal" font-style="normal" fill="#222" text-anchor="middle" >20</text>
<line x1="1606.8" y1="1376.8" x2="1606.8" y2="1371.8" stroke="#111" stroke-width="1.6" />
<text x="1605.8" y="1400.8" font-family="'Liberation Sans', Arial, sans-serif" font-size="22.5" font-weight="normal" font-style="normal" fill="#222" text-anchor="middle" >40</text>
<text transform="translate(1320 1275.5) rotate(-90)" font-family="'Liberation Sans', Arial, sans-serif" font-size="25" fill="#222" text-anchor="middle">Occurence (%)</text>
<text x="1497.9" y="1428.6" font-family="'Liberation Sans', Arial, sans-serif" font-size="24" font-weight="normal" font-style="normal" fill="#222" text-anchor="middle" >CDS%</text>
<rect x="1731.5" y="1174.3" width="301.7" height="202.5" fill="url(#bargrad)" stroke="none" stroke-width="1" />
<rect x="1744.5" y="1371.7" width="35.0" height="5.1" fill="#f03c3c" stroke="none" stroke-width="1" />
<rect x="1804.5" y="1298.5" width="35.0" height="78.3" fill="#f83c42" stroke="none" stroke-width="1" />
<rect x="1864.5" y="1211.4" width="35.0" height="165.4" fill="#b6b6b6" stroke="none" stroke-width="1" />
<rect x="1924.8" y="1298.5" width="35.0" height="78.3" fill="#7c9cfa" stroke="none" stroke-width="1" />
<rect x="1985.5" y="1371.7" width="35.0" height="5.1" fill="#7c9cfa" stroke="none" stroke-width="1" />
<rect x="1731.5" y="1174.3" width="301.7" height="202.5" fill="none" stroke="#111" stroke-width="2" />
<line x1="1726.5" y1="1376.8" x2="1731.5" y2="1376.8" stroke="#111" stroke-width="1.6" />
<text x="1728.0" y="1386.4" font-family="'Liberation Sans', Arial, sans-serif" font-size="26" font-weight="normal" font-style="normal" fill="#222" text-anchor="end" >0.0</text>
<line x1="1726.5" y1="1309.3" x2="1731.5" y2="1309.3" stroke="#111" stroke-width="1.6" />
<text x="1728.0" y="1318.9" font-family="'Liberation Sans', Arial, sans-serif" font-size="26" font-weight="normal" font-style="normal" fill="#222" text-anchor="end" >0.2</text>
<line x1="1726.5" y1="1241.8" x2="1731.5" y2="1241.8" stroke="#111" stroke-width="1.6" />
<text x="1728.0" y="1251.4" font-family="'Liberation Sans', Arial, sans-serif" font-size="26" font-weight="normal" font-style="normal" fill="#222" text-anchor="end" >0.4</text>
<line x1="1726.5" y1="1174.3" x2="1731.5" y2="1174.3" stroke="#111" stroke-width="1.6" />
<text x="1728.0" y="1183.9" font-family="'Liberation Sans', Arial, sans-serif" font-size="26" font-weight="normal" font-style="normal" fill="#222" text-anchor="end" >0.6</text>
<line x1="1762.0" y1="1376.8" x2="1762.0" y2="1371.8" stroke="#111" stroke-width="1.6" />
<text x="1761.0" y="1400.8" font-family="'Liberation Sans', Arial, sans-serif" font-size="22.5" font-weight="normal" font-style="normal" fill="#222" text-anchor="middle" >-40</text>
<line x1="1822.0" y1="1376.8" x2="1822.0" y2="1371.8" stroke="#111" stroke-width="1.6" />
<text x="1821.0" y="1400.8" font-family="'Liberation Sans', Arial, sans-serif" font-size="22.5" font-weight="normal" font-style="normal" fill="#222" text-anchor="middle" >-20</text>
<line x1="1882.0" y1="1376.8" x2="1882.0" y2="1371.8" stroke="#111" stroke-width="1.6" />
<text x="1881.0" y="1400.8" font-family="'Liberation Sans', Arial, sans-serif" font-size="22.5" font-weight="normal" font-style="normal" fill="#222" text-anchor="middle" >0</text>
<line x1="1942.3" y1="1376.8" x2="1942.3" y2="1371.8" stroke="#111" stroke-width="1.6" />
<text x="1941.3" y="1400.8" font-family="'Liberation Sans', Arial, sans-serif" font-size="22.5" font-weight="normal" font-style="normal" fill="#222" text-anchor="middle" >20</text>
<line x1="2003.0" y1="1376.8" x2="2003.0" y2="1371.8" stroke="#111" stroke-width="1.6" />
<text x="2002.0" y="1400.8" font-family="'Liberation Sans', Arial, sans-serif" font-size="22.5" font-weight="normal" font-style="normal" fill="#222" text-anchor="middle" >40</text>
<text transform="translate(1680 1275.5) rotate(-90)" font-family="'Liberation Sans', Arial, sans-serif" font-size="25" fill="#222" text-anchor="middle">Probability</text>
<text x="1888.6" y="1428.6" font-family="'Liberation Sans', Arial, sans-serif" font-size="24" font-weight="normal" font-style="normal" fill="#222" text-anchor="middle" >&#963;%</text>
</svg></body></html>
